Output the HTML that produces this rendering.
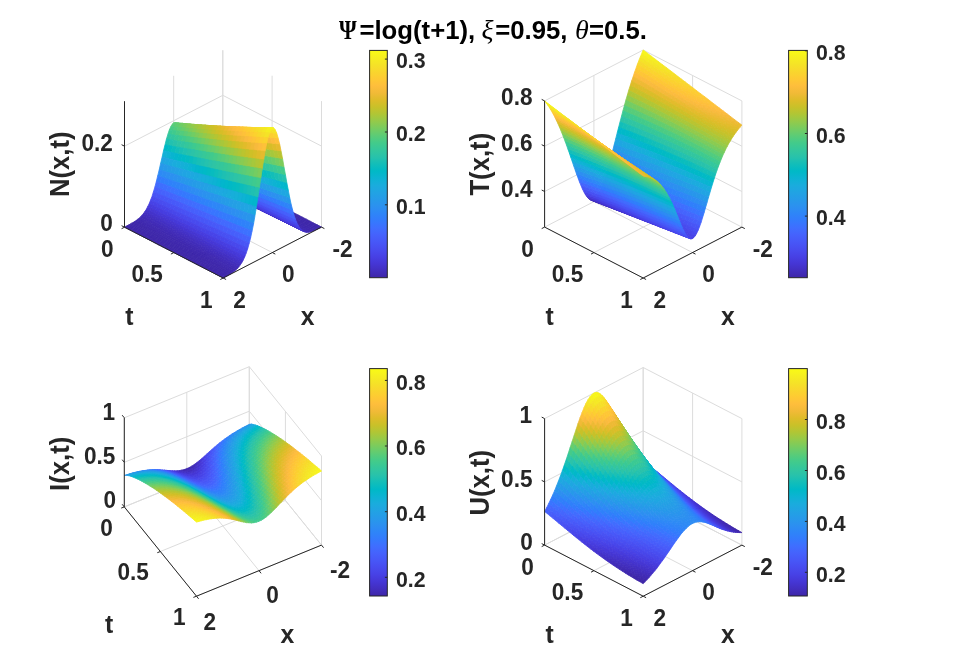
<!DOCTYPE html>
<html><head><meta charset="utf-8"><title>figure</title>
<style>
html,body{margin:0;padding:0;background:#fff}
svg{display:block}
text{font-family:"Liberation Sans",sans-serif;font-weight:bold;fill:#262626}
.tk{font-size:22.6px}
.cb{font-size:21.3px}
.lb{font-size:24.75px}
.rl{font-size:25.7px}
.ti{font-size:25px;fill:#000}
.gr{font-family:"Liberation Serif","DejaVu Serif",serif;font-style:italic;font-weight:normal;font-size:28px}
.gu{font-family:"Liberation Serif","DejaVu Serif",serif;font-weight:bold;font-size:27px}
</style></head><body>
<svg width="953" height="671" viewBox="0 0 953 671">
<rect width="953" height="671" fill="#fff"/>
<path d="M124.5 227.2L222.8 176.3M222.8 176.3L222.8 50.3M173.8 252.6L272.1 201.7M272.1 201.7L272.1 75.7M223.2 278L321.5 227.1M321.5 227.1L321.5 101.1M124.5 227.2L223.2 278M124.5 227.2L124.5 101.2M173.7 201.8L272.4 252.6M173.7 201.8L173.7 75.8M222.8 176.3L321.5 227.1M222.8 176.3L222.8 50.3M124.5 227.2L222.8 176.3M222.8 176.3L321.5 227.1M124.5 146.2L222.8 95.3M222.8 95.3L321.5 146.1" stroke="#dcdcdc" stroke-width="1" fill="none"/>
<g transform="scale(.1)" fill="currentColor" stroke="currentColor" stroke-width="8" stroke-linejoin="round"><path color="#3e26a9" d="M2214 1770l14-7 38 19-14 8z"/><path color="#3e26a9" d="M2199 1777l15-7 38 20-15 7z"/><path color="#3e26a9" d="M2185 1784l14-7 38 20-14 7z"/><path color="#3e27a9" d="M2170 1791l15-7 38 20-15 7z"/><path color="#3e27aa" d="M2156 1798l14-7 38 20-14 7z"/><path color="#3e27aa" d="M2141 1804l15-6 38 20-15 6z"/><path color="#3e27ab" d="M2127 1810l14-6 38 20-14 6z"/><path color="#3e27ac" d="M2112 1816l15-6 38 20-15 5z"/><path color="#3f28ae" d="M2098 1820l14-4 38 19-14 4z"/><path color="#3f29b0" d="M2083 1823l15-3 38 19-15 3z"/><path color="#402ab3" d="M2069 1825l14-2 38 19-14 2z"/><path color="#402bb7" d="M2055 1825l14 0 38 19-15 0z"/><path color="#412dbb" d="M2040 1823l15 2 37 19-14-2z"/><path color="#422fc2" d="M2026 1818l14 5 38 19-14-5z"/><path color="#4332c9" d="M2011 1810l15 8 38 19-15-8z"/><path color="#4536d3" d="M1997 1799l14 11 38 19-14-12z"/><path color="#463bdc" d="M1982 1784l15 15 38 18-15-16z"/><path color="#4742e6" d="M1968 1764l14 20 38 17-14-21z"/><path color="#484aee" d="M1953 1739l15 25 38 16-15-25z"/><path color="#4854f5" d="M1939 1710l14 29 38 16-14-30z"/><path color="#465ffb" d="M1924 1675l15 35 38 15-15-35z"/><path color="#416cfe" d="M1910 1637l14 38 38 15-14-40z"/><path color="#337bfc" d="M1896 1594l14 43 38 13-15-43z"/><path color="#2d8af5" d="M1881 1548l15 46 37 13-14-47z"/><path color="#2798ea" d="M1867 1500l14 48 38 12-14-50z"/><path color="#20a5e2" d="M1852 1451l15 49 38 10-15-49z"/><path color="#13b1d7" d="M1838 1403l14 48 38 10-14-49z"/><path color="#00b9c6" d="M1823 1358l15 45 38 9-15-47z"/><path color="#1bc0b4" d="M1809 1317l14 41 38 7-14-42z"/><path color="#2fc5a4" d="M1794 1282l15 35 38 6-15-36z"/><path color="#3ac993" d="M1780 1254l14 28 38 5-14-28z"/><path color="#4acb85" d="M1765 1236l15 18 38 5-15-19z"/><path color="#57cc7a" d="M1751 1227l14 9 38 4-14-9z"/><path color="#5ecd74" d="M1736 1229l15-2 38 4-15 2z"/><path color="#5ecd74" d="M1722 1242l14-13 38 4-14 13z"/><path color="#57cc7a" d="M1708 1266l14-24 38 4-14 24z"/><path color="#4acb85" d="M1693 1299l15-33 38 4-15 34z"/><path color="#3ac993" d="M1679 1342l14-43 38 5-14 43z"/><path color="#2fc5a4" d="M1664 1392l15-50 38 5-15 51z"/><path color="#1bc0b4" d="M1650 1448l14-56 38 6-14 57z"/><path color="#00b9c6" d="M1635 1508l15-60 38 7-15 61z"/><path color="#13b1d7" d="M1621 1571l14-63 38 8-14 64z"/><path color="#20a5e2" d="M1606 1635l15-64 38 9-15 65z"/><path color="#2798ea" d="M1592 1698l14-63 38 10-14 64z"/><path color="#2d8af5" d="M1577 1759l15-61 38 11-15 62z"/><path color="#337bfc" d="M1563 1816l14-57 38 12-14 59z"/><path color="#416cfe" d="M1549 1870l14-54 38 14-14 55z"/><path color="#465ffb" d="M1534 1919l15-49 38 15-15 50z"/><path color="#4854f5" d="M1520 1964l14-45 38 16-14 45z"/><path color="#484aee" d="M1505 2003l15-39 38 16-15 40z"/><path color="#4742e6" d="M1491 2038l14-35 38 17-14 35z"/><path color="#463bdc" d="M1476 2068l15-30 38 17-15 31z"/><path color="#4536d3" d="M1462 2095l14-27 38 18-14 27z"/><path color="#4332c9" d="M1447 2118l15-23 38 18-15 23z"/><path color="#422fc2" d="M1433 2137l14-19 38 18-14 20z"/><path color="#412dbb" d="M1418 2155l15-18 38 19-15 17z"/><path color="#402bb7" d="M1404 2169l14-14 38 18-14 16z"/><path color="#402ab3" d="M1390 2183l14-14 38 20-14 13z"/><path color="#3f29b0" d="M1375 2194l15-11 38 19-15 12z"/><path color="#3f28ae" d="M1361 2205l14-11 38 20-14 10z"/><path color="#3e27ac" d="M1346 2215l15-10 38 19-15 10z"/><path color="#3e27ab" d="M1332 2224l14-9 38 19-14 9z"/><path color="#3e27aa" d="M1317 2232l15-8 38 19-15 9z"/><path color="#3e27aa" d="M1303 2241l14-9 38 20-14 8z"/><path color="#3e27a9" d="M1288 2249l15-8 38 19-15 8z"/><path color="#3e26a9" d="M1274 2256l14-7 38 19-14 8z"/><path color="#3e26a9" d="M1259 2264l15-8 38 20-15 8z"/><path color="#3e26a9" d="M1245 2272l14-8 38 20-14 7z"/><path color="#3e26a9" d="M2252 1790l14-8 38 20-15 7z"/><path color="#3e26a9" d="M2237 1797l15-7 37 19-14 7z"/><path color="#3e26a9" d="M2223 1804l14-7 38 19-14 7z"/><path color="#3e27a9" d="M2208 1811l15-7 38 19-15 7z"/><path color="#3e27aa" d="M2194 1818l14-7 38 19-14 7z"/><path color="#3e27aa" d="M2179 1824l15-6 38 19-15 6z"/><path color="#3e27ab" d="M2165 1830l14-6 38 19-14 6z"/><path color="#3e27ac" d="M2150 1835l15-5 38 19-15 5z"/><path color="#3f28ae" d="M2136 1839l14-4 38 19-14 5z"/><path color="#3f29b0" d="M2121 1842l15-3 38 20-15 3z"/><path color="#402ab3" d="M2107 1844l14-2 38 20-14 1z"/><path color="#402bb7" d="M2092 1844l15 0 38 19-15 0z"/><path color="#412dbc" d="M2078 1842l14 2 38 19-14-2z"/><path color="#422fc2" d="M2064 1837l14 5 38 19-14-6z"/><path color="#4332ca" d="M2049 1829l15 8 38 18-15-8z"/><path color="#4536d3" d="M2035 1817l14 12 38 18-14-12z"/><path color="#463bdd" d="M2020 1801l15 16 38 18-15-17z"/><path color="#4742e6" d="M2006 1780l14 21 38 17-14-21z"/><path color="#484bef" d="M1991 1755l15 25 38 17-15-26z"/><path color="#4855f6" d="M1977 1725l14 30 38 16-14-31z"/><path color="#4660fc" d="M1962 1690l15 35 38 15-15-36z"/><path color="#3f6efe" d="M1948 1650l14 40 38 14-14-40z"/><path color="#317dfc" d="M1933 1607l15 43 38 14-15-45z"/><path color="#2d8cf3" d="M1919 1560l14 47 38 12-14-48z"/><path color="#269ae9" d="M1905 1510l14 50 38 11-14-50z"/><path color="#1ea7e1" d="M1890 1461l15 49 38 11-15-51z"/><path color="#0eb3d4" d="M1876 1412l14 49 38 9-14-50z"/><path color="#03bbc2" d="M1861 1365l15 47 38 8-15-48z"/><path color="#22c1b0" d="M1847 1323l14 42 38 7-14-43z"/><path color="#32c69e" d="M1832 1287l15 36 38 6-15-37z"/><path color="#40ca8d" d="M1818 1259l14 28 38 5-14-29z"/><path color="#53cc7d" d="M1803 1240l15 19 38 4-15-20z"/><path color="#61cd71" d="M1789 1231l14 9 38 3-14-9z"/><path color="#68cd6b" d="M1774 1233l15-2 38 3-15 2z"/><path color="#68cd6b" d="M1760 1246l14-13 38 3-14 13z"/><path color="#61cd71" d="M1746 1270l14-24 38 3-14 24z"/><path color="#53cc7d" d="M1731 1304l15-34 38 3-15 35z"/><path color="#40ca8d" d="M1717 1347l14-43 38 4-14 44z"/><path color="#32c69e" d="M1702 1398l15-51 38 5-15 52z"/><path color="#22c1b0" d="M1688 1455l14-57 38 6-14 58z"/><path color="#03bbc2" d="M1673 1516l15-61 38 7-15 62z"/><path color="#0eb3d4" d="M1659 1580l14-64 38 8-14 66z"/><path color="#1ea7e1" d="M1644 1645l15-65 38 10-15 65z"/><path color="#269ae9" d="M1630 1709l14-64 38 10-14 66z"/><path color="#2d8cf3" d="M1615 1771l15-62 38 12-15 63z"/><path color="#317dfc" d="M1601 1830l14-59 38 13-14 59z"/><path color="#3f6efe" d="M1587 1885l14-55 38 13-15 56z"/><path color="#4660fc" d="M1572 1935l15-50 37 14-14 51z"/><path color="#4855f6" d="M1558 1980l14-45 38 15-14 46z"/><path color="#484bef" d="M1543 2020l15-40 38 16-15 41z"/><path color="#4742e6" d="M1529 2055l14-35 38 17-14 36z"/><path color="#463bdd" d="M1514 2086l15-31 38 18-15 31z"/><path color="#4536d3" d="M1500 2113l14-27 38 18-14 27z"/><path color="#4332ca" d="M1485 2136l15-23 38 18-15 24z"/><path color="#422fc2" d="M1471 2156l14-20 38 19-14 20z"/><path color="#412dbc" d="M1456 2173l15-17 38 19-15 17z"/><path color="#402bb7" d="M1442 2189l14-16 38 19-14 16z"/><path color="#402ab3" d="M1428 2202l14-13 38 19-15 13z"/><path color="#3f29b0" d="M1413 2214l15-12 37 19-14 12z"/><path color="#3f28ae" d="M1399 2224l14-10 38 19-14 11z"/><path color="#3e27ac" d="M1384 2234l15-10 38 20-15 9z"/><path color="#3e27ab" d="M1370 2243l14-9 38 19-14 10z"/><path color="#3e27aa" d="M1355 2252l15-9 38 20-15 8z"/><path color="#3e27aa" d="M1341 2260l14-8 38 19-14 9z"/><path color="#3e27a9" d="M1326 2268l15-8 38 20-15 8z"/><path color="#3e26a9" d="M1312 2276l14-8 38 20-14 7z"/><path color="#3e26a9" d="M1297 2284l15-8 38 19-15 8z"/><path color="#3e26a9" d="M1283 2291l14-7 38 19-14 8z"/><path color="#3e26a9" d="M2289 1809l15-7 38 19-15 8z"/><path color="#3e26a9" d="M2275 1816l14-7 38 20-14 7z"/><path color="#3e26a9" d="M2261 1823l14-7 38 20-14 7z"/><path color="#3e27a9" d="M2246 1830l15-7 38 20-15 7z"/><path color="#3e27aa" d="M2232 1837l14-7 38 20-14 7z"/><path color="#3e27aa" d="M2217 1843l15-6 38 20-15 6z"/><path color="#3e27ab" d="M2203 1849l14-6 38 20-14 6z"/><path color="#3e27ad" d="M2188 1854l15-5 38 20-15 5z"/><path color="#3f28ae" d="M2174 1859l14-5 38 20-14 4z"/><path color="#3f29b1" d="M2159 1862l15-3 38 19-15 3z"/><path color="#402ab3" d="M2145 1863l14-1 38 19-14 1z"/><path color="#402bb7" d="M2130 1863l15 0 38 19-15 0z"/><path color="#412dbc" d="M2116 1861l14 2 38 19-14-3z"/><path color="#422fc3" d="M2102 1855l14 6 38 18-14-5z"/><path color="#4332cb" d="M2087 1847l15 8 38 19-15-9z"/><path color="#4536d4" d="M2073 1835l14 12 38 18-14-13z"/><path color="#463cde" d="M2058 1818l15 17 38 17-15-16z"/><path color="#4743e7" d="M2044 1797l14 21 38 18-14-22z"/><path color="#484cef" d="M2029 1771l15 26 38 17-15-27z"/><path color="#4756f7" d="M2015 1740l14 31 38 16-14-31z"/><path color="#4562fc" d="M2000 1704l15 36 38 16-15-37z"/><path color="#3e6fff" d="M1986 1664l14 40 38 15-14-42z"/><path color="#307ffb" d="M1971 1619l15 45 38 13-15-45z"/><path color="#2d8ef2" d="M1957 1571l14 48 38 13-14-50z"/><path color="#259ce7" d="M1943 1521l14 50 38 11-15-51z"/><path color="#1ca9df" d="M1928 1470l15 51 37 10-14-52z"/><path color="#08b4d0" d="M1914 1420l14 50 38 9-14-51z"/><path color="#09bdbe" d="M1899 1372l15 48 38 8-15-49z"/><path color="#28c2ab" d="M1885 1329l14 43 38 7-14-44z"/><path color="#36c898" d="M1870 1292l15 37 38 6-15-38z"/><path color="#49cb85" d="M1856 1263l14 29 38 5-14-30z"/><path color="#5dcd75" d="M1841 1243l15 20 38 4-15-20z"/><path color="#6ccd68" d="M1827 1234l14 9 38 4-14-9z"/><path color="#74cd62" d="M1812 1236l15-2 38 4-15 1z"/><path color="#74cd62" d="M1798 1249l14-13 38 3-14 13z"/><path color="#6ccd68" d="M1784 1273l14-24 38 3-15 25z"/><path color="#5dcd75" d="M1769 1308l15-35 37 4-14 35z"/><path color="#49cb85" d="M1755 1352l14-44 38 4-14 45z"/><path color="#36c898" d="M1740 1404l15-52 38 5-15 53z"/><path color="#28c2ab" d="M1726 1462l14-58 38 6-14 59z"/><path color="#09bdbe" d="M1711 1524l15-62 38 7-15 63z"/><path color="#08b4d0" d="M1697 1590l14-66 38 8-14 67z"/><path color="#1ca9df" d="M1682 1655l15-65 38 9-15 67z"/><path color="#259ce7" d="M1668 1721l14-66 38 11-14 66z"/><path color="#2d8ef2" d="M1653 1784l15-63 38 11-15 64z"/><path color="#307ffb" d="M1639 1843l14-59 38 12-14 61z"/><path color="#3e6fff" d="M1624 1899l15-56 38 14-15 57z"/><path color="#4562fc" d="M1610 1950l14-51 38 15-14 51z"/><path color="#4756f7" d="M1596 1996l14-46 38 15-14 47z"/><path color="#484cef" d="M1581 2037l15-41 38 16-15 42z"/><path color="#4743e7" d="M1567 2073l14-36 38 17-14 36z"/><path color="#463cde" d="M1552 2104l15-31 38 17-15 32z"/><path color="#4536d4" d="M1538 2131l14-27 38 18-14 28z"/><path color="#4332cb" d="M1523 2155l15-24 38 19-15 23z"/><path color="#422fc3" d="M1509 2175l14-20 38 18-14 21z"/><path color="#412dbc" d="M1494 2192l15-17 38 19-15 17z"/><path color="#402bb7" d="M1480 2208l14-16 38 19-14 16z"/><path color="#402ab3" d="M1465 2221l15-13 38 19-15 13z"/><path color="#3f29b1" d="M1451 2233l14-12 38 19-14 12z"/><path color="#3f28ae" d="M1437 2244l14-11 38 19-14 11z"/><path color="#3e27ad" d="M1422 2253l15-9 38 19-15 10z"/><path color="#3e27ab" d="M1408 2263l14-10 38 20-14 9z"/><path color="#3e27aa" d="M1393 2271l15-8 38 19-15 9z"/><path color="#3e27aa" d="M1379 2280l14-9 38 20-14 8z"/><path color="#3e27a9" d="M1364 2288l15-8 38 19-15 8z"/><path color="#3e26a9" d="M1350 2295l14-7 38 19-14 8z"/><path color="#3e26a9" d="M1335 2303l15-8 38 20-15 8z"/><path color="#3e26a9" d="M1321 2311l14-8 38 20-14 7z"/><path color="#3e26a9" d="M2327 1829l15-8 38 20-15 7z"/><path color="#3e26a9" d="M2313 1836l14-7 38 19-14 7z"/><path color="#3e26a9" d="M2299 1843l14-7 38 19-15 8z"/><path color="#3e27a9" d="M2284 1850l15-7 37 20-14 6z"/><path color="#3e27aa" d="M2270 1857l14-7 38 19-14 7z"/><path color="#3e27aa" d="M2255 1863l15-6 38 19-15 6z"/><path color="#3e27ab" d="M2241 1869l14-6 38 19-14 6z"/><path color="#3e27ad" d="M2226 1874l15-5 38 19-15 5z"/><path color="#3f28ae" d="M2212 1878l14-4 38 19-14 4z"/><path color="#3f29b1" d="M2197 1881l15-3 38 19-15 3z"/><path color="#402ab4" d="M2183 1882l14-1 38 19-14 2z"/><path color="#402bb8" d="M2168 1882l15 0 38 20-15-1z"/><path color="#412dbd" d="M2154 1879l14 3 38 19-14-3z"/><path color="#4230c3" d="M2140 1874l14 5 38 19-15-6z"/><path color="#4433cb" d="M2125 1865l15 9 37 18-14-9z"/><path color="#4537d5" d="M2111 1852l14 13 38 18-14-13z"/><path color="#463cdf" d="M2096 1836l15 16 38 18-15-17z"/><path color="#4744e8" d="M2082 1814l14 22 38 17-14-22z"/><path color="#484df0" d="M2067 1787l15 27 38 17-15-27z"/><path color="#4757f7" d="M2053 1756l14 31 38 17-14-33z"/><path color="#4563fd" d="M2038 1719l15 37 38 15-15-38z"/><path color="#3d71ff" d="M2024 1677l14 42 38 14-14-42z"/><path color="#2f81fa" d="M2009 1632l15 45 38 14-15-47z"/><path color="#2c90f0" d="M1995 1582l14 50 38 12-14-50z"/><path color="#249ee6" d="M1980 1531l15 51 38 12-15-53z"/><path color="#1aacdd" d="M1966 1479l14 52 38 10-14-53z"/><path color="#03b6cd" d="M1952 1428l14 51 38 9-14-53z"/><path color="#11beba" d="M1937 1379l15 49 38 7-15-49z"/><path color="#2dc4a6" d="M1923 1335l14 44 38 7-14-46z"/><path color="#3bc992" d="M1908 1297l15 38 38 5-15-38z"/><path color="#52cc7e" d="M1894 1267l14 30 38 5-14-31z"/><path color="#67cd6c" d="M1879 1247l15 20 38 4-15-20z"/><path color="#78cc5f" d="M1865 1238l14 9 38 4-14-10z"/><path color="#80cc59" d="M1850 1239l15-1 38 3-15 1z"/><path color="#80cc59" d="M1836 1252l14-13 38 3-14 14z"/><path color="#78cc5f" d="M1821 1277l15-25 38 4-15 25z"/><path color="#67cd6c" d="M1807 1312l14-35 38 4-14 35z"/><path color="#52cc7e" d="M1793 1357l14-45 38 4-14 46z"/><path color="#3bc992" d="M1778 1410l15-53 38 5-15 53z"/><path color="#2dc4a6" d="M1764 1469l14-59 38 5-14 60z"/><path color="#11beba" d="M1749 1532l15-63 38 6-15 65z"/><path color="#03b6cd" d="M1735 1599l14-67 38 8-14 68z"/><path color="#1aacdd" d="M1720 1666l15-67 38 9-15 68z"/><path color="#249ee6" d="M1706 1732l14-66 38 10-14 67z"/><path color="#2c90f0" d="M1691 1796l15-64 38 11-15 66z"/><path color="#2f81fa" d="M1677 1857l14-61 38 13-14 61z"/><path color="#3d71ff" d="M1662 1914l15-57 38 13-15 58z"/><path color="#4563fd" d="M1648 1965l14-51 38 14-14 53z"/><path color="#4757f7" d="M1634 2012l14-47 38 16-14 47z"/><path color="#484df0" d="M1619 2054l15-42 38 16-15 42z"/><path color="#4744e8" d="M1605 2090l14-36 38 16-14 37z"/><path color="#463cdf" d="M1590 2122l15-32 38 17-15 33z"/><path color="#4537d5" d="M1576 2150l14-28 38 18-14 28z"/><path color="#4433cb" d="M1561 2173l15-23 38 18-15 24z"/><path color="#4230c3" d="M1547 2194l14-21 38 19-14 21z"/><path color="#412dbd" d="M1532 2211l15-17 38 19-15 17z"/><path color="#402bb8" d="M1518 2227l14-16 38 19-14 16z"/><path color="#402ab4" d="M1503 2240l15-13 38 19-15 13z"/><path color="#3f29b1" d="M1489 2252l14-12 38 19-14 12z"/><path color="#3f28ae" d="M1475 2263l14-11 38 19-15 11z"/><path color="#3e27ad" d="M1460 2273l15-10 37 19-14 10z"/><path color="#3e27ab" d="M1446 2282l14-9 38 19-14 9z"/><path color="#3e27aa" d="M1431 2291l15-9 38 19-15 9z"/><path color="#3e27aa" d="M1417 2299l14-8 38 19-14 9z"/><path color="#3e27a9" d="M1402 2307l15-8 38 20-15 8z"/><path color="#3e26a9" d="M1388 2315l14-8 38 20-14 7z"/><path color="#3e26a9" d="M1373 2323l15-8 38 19-15 8z"/><path color="#3e26a9" d="M1359 2330l14-7 38 19-14 8z"/><path color="#3e26a9" d="M2365 1848l15-7 38 19-15 8z"/><path color="#3e26a9" d="M2351 1855l14-7 38 20-14 7z"/><path color="#3e26a9" d="M2336 1863l15-8 38 20-15 7z"/><path color="#3e27a9" d="M2322 1869l14-6 38 19-14 7z"/><path color="#3e27aa" d="M2308 1876l14-7 38 20-14 7z"/><path color="#3e27aa" d="M2293 1882l15-6 38 20-15 6z"/><path color="#3e27ab" d="M2279 1888l14-6 38 20-14 5z"/><path color="#3f27ad" d="M2264 1893l15-5 38 19-15 5z"/><path color="#3f28ae" d="M2250 1897l14-4 38 19-14 5z"/><path color="#3f29b1" d="M2235 1900l15-3 38 20-15 2z"/><path color="#402ab4" d="M2221 1902l14-2 38 19-14 2z"/><path color="#402bb8" d="M2206 1901l15 1 38 19-15-1z"/><path color="#412dbd" d="M2192 1898l14 3 38 19-14-3z"/><path color="#4230c4" d="M2177 1892l15 6 38 19-15-6z"/><path color="#4433cc" d="M2163 1883l14 9 38 19-14-10z"/><path color="#4537d6" d="M2149 1870l14 13 38 18-14-13z"/><path color="#463de0" d="M2134 1853l15 17 38 18-15-18z"/><path color="#4744e9" d="M2120 1831l14 22 38 17-14-22z"/><path color="#484ef1" d="M2105 1804l15 27 38 17-15-28z"/><path color="#4758f8" d="M2091 1771l14 33 38 16-14-34z"/><path color="#4464fd" d="M2076 1733l15 38 38 15-15-38z"/><path color="#3b73ff" d="M2062 1691l14 42 38 15-14-44z"/><path color="#2e83f9" d="M2047 1644l15 47 38 13-15-48z"/><path color="#2b92ef" d="M2033 1594l14 50 38 12-14-51z"/><path color="#23a0e5" d="M2018 1541l15 53 38 11-15-54z"/><path color="#18aedb" d="M2004 1488l14 53 38 10-14-54z"/><path color="#01b8c9" d="M1990 1435l14 53 38 9-15-54z"/><path color="#19bfb5" d="M1975 1386l15 49 37 8-14-51z"/><path color="#30c5a1" d="M1961 1340l14 46 38 6-14-46z"/><path color="#42ca8b" d="M1946 1302l15 38 38 6-15-39z"/><path color="#5ccc76" d="M1932 1271l14 31 38 5-14-32z"/><path color="#72cd63" d="M1917 1251l15 20 38 4-15-21z"/><path color="#84cc56" d="M1903 1241l14 10 38 3-14-10z"/><path color="#8ccb50" d="M1888 1242l15-1 38 3-15 1z"/><path color="#8ccb50" d="M1874 1256l14-14 38 3-14 14z"/><path color="#84cc56" d="M1859 1281l15-25 38 3-15 25z"/><path color="#72cd63" d="M1845 1316l14-35 38 3-14 36z"/><path color="#5ccc76" d="M1831 1362l14-46 38 4-15 46z"/><path color="#42ca8b" d="M1816 1415l15-53 37 4-14 55z"/><path color="#30c5a1" d="M1802 1475l14-60 38 6-14 61z"/><path color="#19bfb5" d="M1787 1540l15-65 38 7-15 66z"/><path color="#01b8c9" d="M1773 1608l14-68 38 8-14 68z"/><path color="#18aedb" d="M1758 1676l15-68 38 8-15 70z"/><path color="#23a0e5" d="M1744 1743l14-67 38 10-14 69z"/><path color="#2b92ef" d="M1729 1809l15-66 38 12-15 66z"/><path color="#2e83f9" d="M1715 1870l14-61 38 12-14 63z"/><path color="#3b73ff" d="M1700 1928l15-58 38 14-15 58z"/><path color="#4464fd" d="M1686 1981l14-53 38 14-14 54z"/><path color="#4758f8" d="M1672 2028l14-47 38 15-15 48z"/><path color="#484ef1" d="M1657 2070l15-42 37 16-14 43z"/><path color="#4744e9" d="M1643 2107l14-37 38 17-14 38z"/><path color="#463de0" d="M1628 2140l15-33 38 18-15 33z"/><path color="#4537d6" d="M1614 2168l14-28 38 18-14 28z"/><path color="#4433cc" d="M1599 2192l15-24 38 18-15 24z"/><path color="#4230c4" d="M1585 2213l14-21 38 18-14 21z"/><path color="#412dbd" d="M1570 2230l15-17 38 18-15 18z"/><path color="#402bb8" d="M1556 2246l14-16 38 19-14 16z"/><path color="#402ab4" d="M1541 2259l15-13 38 19-15 14z"/><path color="#3f29b1" d="M1527 2271l14-12 38 20-14 12z"/><path color="#3f28ae" d="M1512 2282l15-11 38 20-15 11z"/><path color="#3f27ad" d="M1498 2292l14-10 38 20-14 10z"/><path color="#3e27ab" d="M1484 2301l14-9 38 20-14 9z"/><path color="#3e27aa" d="M1469 2310l15-9 38 20-15 9z"/><path color="#3e27aa" d="M1455 2319l14-9 38 20-14 8z"/><path color="#3e27a9" d="M1440 2327l15-8 38 19-15 8z"/><path color="#3e26a9" d="M1426 2334l14-7 38 19-14 8z"/><path color="#3e26a9" d="M1411 2342l15-8 38 20-15 8z"/><path color="#3e26a9" d="M1397 2350l14-8 38 20-14 7z"/><path color="#3e26a9" d="M2403 1868l15-8 38 20-15 7z"/><path color="#3e26a9" d="M2389 1875l14-7 38 19-14 7z"/><path color="#3e26a9" d="M2374 1882l15-7 38 19-15 8z"/><path color="#3e27a9" d="M2360 1889l14-7 38 20-14 6z"/><path color="#3e27aa" d="M2346 1896l14-7 38 19-15 7z"/><path color="#3e27aa" d="M2331 1902l15-6 37 19-14 6z"/><path color="#3e27ab" d="M2317 1907l14-5 38 19-14 6z"/><path color="#3f27ad" d="M2302 1912l15-5 38 20-15 5z"/><path color="#3f28af" d="M2288 1917l14-5 38 20-14 4z"/><path color="#3f29b1" d="M2273 1919l15-2 38 19-15 3z"/><path color="#402ab4" d="M2259 1921l14-2 38 20-14 1z"/><path color="#402bb8" d="M2244 1920l15 1 38 19-15-1z"/><path color="#412ebd" d="M2230 1917l14 3 38 19-14-3z"/><path color="#4230c4" d="M2215 1911l15 6 38 19-15-7z"/><path color="#4433cd" d="M2201 1901l14 10 38 18-14-9z"/><path color="#4537d6" d="M2187 1888l14 13 38 19-15-14z"/><path color="#463de0" d="M2172 1870l15 18 37 18-14-18z"/><path color="#4745e9" d="M2158 1848l14 22 38 18-14-24z"/><path color="#484ff2" d="M2143 1820l15 28 38 16-15-28z"/><path color="#4759f9" d="M2129 1786l14 34 38 16-14-34z"/><path color="#4466fd" d="M2114 1748l15 38 38 16-15-40z"/><path color="#3975ff" d="M2100 1704l14 44 38 14-14-44z"/><path color="#2e84f8" d="M2085 1656l15 48 38 14-15-49z"/><path color="#2994ed" d="M2071 1605l14 51 38 13-14-53z"/><path color="#22a2e4" d="M2056 1551l15 54 38 11-15-55z"/><path color="#15afd8" d="M2042 1497l14 54 38 10-14-55z"/><path color="#00bac6" d="M2027 1443l15 54 38 9-15-55z"/><path color="#20c1b1" d="M2013 1392l14 51 38 8-14-52z"/><path color="#34c79c" d="M1999 1346l14 46 38 7-14-47z"/><path color="#4acb84" d="M1984 1307l15 39 38 6-15-41z"/><path color="#66cd6d" d="M1970 1275l14 32 38 4-14-32z"/><path color="#7ecc5a" d="M1955 1254l15 21 38 4-15-22z"/><path color="#8fcb4d" d="M1941 1244l14 10 38 3-14-10z"/><path color="#98ca47" d="M1926 1245l15-1 38 3-15 1z"/><path color="#98ca47" d="M1912 1259l14-14 38 3-14 14z"/><path color="#8fcb4d" d="M1897 1284l15-25 38 3-15 25z"/><path color="#7ecc5a" d="M1883 1320l14-36 38 3-14 37z"/><path color="#66cd6d" d="M1868 1366l15-46 38 4-15 47z"/><path color="#4acb84" d="M1854 1421l14-55 38 5-14 55z"/><path color="#34c79c" d="M1840 1482l14-61 38 5-14 63z"/><path color="#20c1b1" d="M1825 1548l15-66 38 7-15 67z"/><path color="#00bac6" d="M1811 1616l14-68 38 8-14 69z"/><path color="#15afd8" d="M1796 1686l15-70 38 9-15 71z"/><path color="#22a2e4" d="M1782 1755l14-69 38 10-14 70z"/><path color="#2994ed" d="M1767 1821l15-66 38 11-15 67z"/><path color="#2e84f8" d="M1753 1884l14-63 38 12-14 64z"/><path color="#3975ff" d="M1738 1942l15-58 38 13-15 60z"/><path color="#4466fd" d="M1724 1996l14-54 38 15-14 54z"/><path color="#4759f9" d="M1709 2044l15-48 38 15-15 49z"/><path color="#484ff2" d="M1695 2087l14-43 38 16-14 44z"/><path color="#4745e9" d="M1681 2125l14-38 38 17-14 38z"/><path color="#463de0" d="M1666 2158l15-33 38 17-15 33z"/><path color="#4537d6" d="M1652 2186l14-28 38 17-14 29z"/><path color="#4433cd" d="M1637 2210l15-24 38 18-15 25z"/><path color="#4230c4" d="M1623 2231l14-21 38 19-14 21z"/><path color="#412ebd" d="M1608 2249l15-18 38 19-15 18z"/><path color="#402bb8" d="M1594 2265l14-16 38 19-14 16z"/><path color="#402ab4" d="M1579 2279l15-14 38 19-15 14z"/><path color="#3f29b1" d="M1565 2291l14-12 38 19-14 12z"/><path color="#3f28af" d="M1550 2302l15-11 38 19-15 11z"/><path color="#3f27ad" d="M1536 2312l14-10 38 19-14 10z"/><path color="#3e27ab" d="M1522 2321l14-9 38 19-14 9z"/><path color="#3e27aa" d="M1507 2330l15-9 38 19-15 9z"/><path color="#3e27aa" d="M1493 2338l14-8 38 19-14 9z"/><path color="#3e27a9" d="M1478 2346l15-8 38 20-15 8z"/><path color="#3e26a9" d="M1464 2354l14-8 38 20-14 8z"/><path color="#3e26a9" d="M1449 2362l15-8 38 20-15 7z"/><path color="#3e26a9" d="M1435 2369l14-7 38 19-14 8z"/><path color="#3e26a9" d="M2441 1887l15-7 38 19-15 8z"/><path color="#3e26a9" d="M2427 1894l14-7 38 20-14 7z"/><path color="#3e26a9" d="M2412 1902l15-8 38 20-15 7z"/><path color="#3e27a9" d="M2398 1908l14-6 38 19-14 7z"/><path color="#3e27aa" d="M2383 1915l15-7 38 20-15 7z"/><path color="#3e27aa" d="M2369 1921l14-6 38 20-14 6z"/><path color="#3e27ab" d="M2355 1927l14-6 38 20-14 5z"/><path color="#3f27ad" d="M2340 1932l15-5 38 19-15 5z"/><path color="#3f28af" d="M2326 1936l14-4 38 19-14 4z"/><path color="#3f29b1" d="M2311 1939l15-3 38 19-15 3z"/><path color="#402ab4" d="M2297 1940l14-1 38 19-14 1z"/><path color="#412cb8" d="M2282 1939l15 1 38 19-15-1z"/><path color="#412ebe" d="M2268 1936l14 3 38 19-14-4z"/><path color="#4330c5" d="M2253 1929l15 7 38 18-15-6z"/><path color="#4433cd" d="M2239 1920l14 9 38 19-14-10z"/><path color="#4538d7" d="M2224 1906l15 14 38 18-15-14z"/><path color="#463ee1" d="M2210 1888l14 18 38 18-14-19z"/><path color="#4746ea" d="M2196 1864l14 24 38 17-14-24z"/><path color="#484ff2" d="M2181 1836l15 28 38 17-15-29z"/><path color="#475af9" d="M2167 1802l14 34 38 16-14-35z"/><path color="#4367fd" d="M2152 1762l15 40 38 15-15-41z"/><path color="#3776fe" d="M2138 1718l14 44 38 14-14-45z"/><path color="#2e86f7" d="M2123 1669l15 49 38 13-15-50z"/><path color="#2896ec" d="M2109 1616l14 53 38 12-14-54z"/><path color="#20a4e3" d="M2094 1561l15 55 38 11-15-56z"/><path color="#11b1d6" d="M2080 1506l14 55 38 10-14-57z"/><path color="#03bbc2" d="M2065 1451l15 55 38 8-15-56z"/><path color="#26c2ac" d="M2051 1399l14 52 38 7-14-53z"/><path color="#38c896" d="M2037 1352l14 47 38 6-14-48z"/><path color="#53cc7d" d="M2022 1311l15 41 38 5-15-41z"/><path color="#70cd65" d="M2008 1279l14 32 38 5-14-33z"/><path color="#8acb52" d="M1993 1257l15 22 38 4-15-22z"/><path color="#9bc944" d="M1979 1247l14 10 38 4-14-11z"/><path color="#a4c83e" d="M1964 1248l15-1 38 3-15 1z"/><path color="#a4c83e" d="M1950 1262l14-14 38 3-14 14z"/><path color="#9bc944" d="M1935 1287l15-25 38 3-15 26z"/><path color="#8acb52" d="M1921 1324l14-37 38 4-14 37z"/><path color="#70cd65" d="M1906 1371l15-47 38 4-15 48z"/><path color="#53cc7d" d="M1892 1426l14-55 38 5-14 56z"/><path color="#38c896" d="M1878 1489l14-63 38 6-15 63z"/><path color="#26c2ac" d="M1863 1556l15-67 37 6-14 68z"/><path color="#03bbc2" d="M1849 1625l14-69 38 7-14 71z"/><path color="#11b1d6" d="M1834 1696l15-71 38 9-15 72z"/><path color="#20a4e3" d="M1820 1766l14-70 38 10-14 71z"/><path color="#2896ec" d="M1805 1833l15-67 38 11-15 69z"/><path color="#2e86f7" d="M1791 1897l14-64 38 13-14 65z"/><path color="#3776fe" d="M1776 1957l15-60 38 14-15 60z"/><path color="#4367fd" d="M1762 2011l14-54 38 14-14 55z"/><path color="#475af9" d="M1747 2060l15-49 38 15-15 50z"/><path color="#484ff2" d="M1733 2104l14-44 38 16-14 44z"/><path color="#4746ea" d="M1719 2142l14-38 38 16-15 39z"/><path color="#463ee1" d="M1704 2175l15-33 37 17-14 34z"/><path color="#4538d7" d="M1690 2204l14-29 38 18-14 29z"/><path color="#4433cd" d="M1675 2229l15-25 38 18-15 25z"/><path color="#4330c5" d="M1661 2250l14-21 38 18-14 22z"/><path color="#412ebe" d="M1646 2268l15-18 38 19-15 18z"/><path color="#412cb8" d="M1632 2284l14-16 38 19-14 16z"/><path color="#402ab4" d="M1617 2298l15-14 38 19-15 14z"/><path color="#3f29b1" d="M1603 2310l14-12 38 19-14 12z"/><path color="#3f28af" d="M1588 2321l15-11 38 19-15 11z"/><path color="#3f27ad" d="M1574 2331l14-10 38 19-14 11z"/><path color="#3e27ab" d="M1560 2340l14-9 38 20-15 9z"/><path color="#3e27aa" d="M1545 2349l15-9 37 20-14 9z"/><path color="#3e27aa" d="M1531 2358l14-9 38 20-14 8z"/><path color="#3e27a9" d="M1516 2366l15-8 38 19-15 8z"/><path color="#3e26a9" d="M1502 2374l14-8 38 19-14 8z"/><path color="#3e26a9" d="M1487 2381l15-7 38 19-15 8z"/><path color="#3e26a9" d="M1473 2389l14-8 38 20-14 7z"/><path color="#3e26a9" d="M2479 1907l15-8 38 20-15 7z"/><path color="#3e26a9" d="M2465 1914l14-7 38 19-14 8z"/><path color="#3e27a9" d="M2450 1921l15-7 38 20-15 7z"/><path color="#3e27a9" d="M2436 1928l14-7 38 20-14 6z"/><path color="#3e27aa" d="M2421 1935l15-7 38 19-15 7z"/><path color="#3e27ab" d="M2407 1941l14-6 38 19-14 6z"/><path color="#3e27ac" d="M2393 1946l14-5 38 19-14 6z"/><path color="#3f28ad" d="M2378 1951l15-5 38 20-15 5z"/><path color="#3f28af" d="M2364 1955l14-4 38 20-14 3z"/><path color="#3f29b1" d="M2349 1958l15-3 38 19-15 3z"/><path color="#402ab5" d="M2335 1959l14-1 38 19-14 1z"/><path color="#412cb9" d="M2320 1958l15 1 38 19-15-1z"/><path color="#412ebe" d="M2306 1954l14 4 38 19-14-4z"/><path color="#4330c5" d="M2291 1948l15 6 38 19-15-7z"/><path color="#4434ce" d="M2277 1938l14 10 38 18-14-10z"/><path color="#4538d8" d="M2262 1924l15 14 38 18-15-15z"/><path color="#473ee2" d="M2248 1905l14 19 38 17-14-19z"/><path color="#4747eb" d="M2234 1881l14 24 38 17-15-24z"/><path color="#4850f3" d="M2219 1852l15 29 37 17-14-30z"/><path color="#475bfa" d="M2205 1817l14 35 38 16-14-36z"/><path color="#4369fe" d="M2190 1776l15 41 38 15-15-41z"/><path color="#3578fd" d="M2176 1731l14 45 38 15-14-47z"/><path color="#2d88f6" d="M2161 1681l15 50 38 13-15-51z"/><path color="#2798ea" d="M2147 1627l14 54 38 12-14-55z"/><path color="#1fa6e2" d="M2132 1571l15 56 38 11-15-57z"/><path color="#0cb3d3" d="M2118 1514l14 57 38 10-14-58z"/><path color="#08bcbe" d="M2103 1458l15 56 38 9-15-57z"/><path color="#2bc3a8" d="M2089 1405l14 53 38 8-14-54z"/><path color="#3dca90" d="M2075 1357l14 48 38 7-15-50z"/><path color="#5dcc75" d="M2060 1316l15 41 37 5-14-42z"/><path color="#7ccc5c" d="M2046 1283l14 33 38 4-14-33z"/><path color="#96ca49" d="M2031 1261l15 22 38 4-15-23z"/><path color="#a7c73c" d="M2017 1250l14 11 38 3-14-12z"/><path color="#afc636" d="M2002 1251l15-1 38 2-15 2z"/><path color="#afc636" d="M1988 1265l14-14 38 3-14 13z"/><path color="#a7c73c" d="M1973 1291l15-26 38 2-15 27z"/><path color="#96ca49" d="M1959 1328l14-37 38 3-14 38z"/><path color="#7ccc5c" d="M1944 1376l15-48 38 4-15 48z"/><path color="#5dcc75" d="M1930 1432l14-56 38 4-14 57z"/><path color="#3dca90" d="M1915 1495l15-63 38 5-15 64z"/><path color="#2bc3a8" d="M1901 1563l14-68 38 6-14 70z"/><path color="#08bcbe" d="M1887 1634l14-71 38 8-14 72z"/><path color="#0cb3d3" d="M1872 1706l15-72 38 9-15 73z"/><path color="#1fa6e2" d="M1858 1777l14-71 38 10-14 72z"/><path color="#2798ea" d="M1843 1846l15-69 38 11-15 70z"/><path color="#2d88f6" d="M1829 1911l14-65 38 12-14 66z"/><path color="#3578fd" d="M1814 1971l15-60 38 13-15 61z"/><path color="#4369fe" d="M1800 2026l14-55 38 14-14 57z"/><path color="#475bfa" d="M1785 2076l15-50 38 16-15 50z"/><path color="#4850f3" d="M1771 2120l14-44 38 16-14 45z"/><path color="#4747eb" d="M1756 2159l15-39 38 17-15 40z"/><path color="#473ee2" d="M1742 2193l14-34 38 18-14 34z"/><path color="#4538d8" d="M1728 2222l14-29 38 18-14 29z"/><path color="#4434ce" d="M1713 2247l15-25 38 18-15 26z"/><path color="#4330c5" d="M1699 2269l14-22 38 19-14 21z"/><path color="#412ebe" d="M1684 2287l15-18 38 18-15 19z"/><path color="#412cb9" d="M1670 2303l14-16 38 19-14 16z"/><path color="#402ab5" d="M1655 2317l15-14 38 19-15 14z"/><path color="#3f29b1" d="M1641 2329l14-12 38 19-14 13z"/><path color="#3f28af" d="M1626 2340l15-11 38 20-15 11z"/><path color="#3f28ad" d="M1612 2351l14-11 38 20-14 10z"/><path color="#3e27ac" d="M1597 2360l15-9 38 19-15 9z"/><path color="#3e27ab" d="M1583 2369l14-9 38 19-14 9z"/><path color="#3e27aa" d="M1569 2377l14-8 38 19-14 9z"/><path color="#3e27a9" d="M1554 2385l15-8 38 20-15 8z"/><path color="#3e27a9" d="M1540 2393l14-8 38 20-14 8z"/><path color="#3e26a9" d="M1525 2401l15-8 38 20-15 7z"/><path color="#3e26a9" d="M1511 2408l14-7 38 19-14 8z"/><path color="#3e26a9" d="M2517 1926l15-7 38 20-15 7z"/><path color="#3e26a9" d="M2503 1934l14-8 38 20-14 7z"/><path color="#3e27a9" d="M2488 1941l15-7 38 19-15 7z"/><path color="#3e27a9" d="M2474 1947l14-6 38 19-14 7z"/><path color="#3e27aa" d="M2459 1954l15-7 38 20-15 6z"/><path color="#3e27ab" d="M2445 1960l14-6 38 19-14 7z"/><path color="#3e27ac" d="M2431 1966l14-6 38 20-15 5z"/><path color="#3f28ad" d="M2416 1971l15-5 37 19-14 5z"/><path color="#3f28af" d="M2402 1974l14-3 38 19-14 4z"/><path color="#3f29b1" d="M2387 1977l15-3 38 20-15 2z"/><path color="#402ab5" d="M2373 1978l14-1 38 19-14 1z"/><path color="#412cb9" d="M2358 1977l15 1 38 19-15-1z"/><path color="#422ebe" d="M2344 1973l14 4 38 19-14-4z"/><path color="#4331c6" d="M2329 1966l15 7 38 19-15-7z"/><path color="#4434cf" d="M2315 1956l14 10 38 19-14-11z"/><path color="#4538d9" d="M2300 1941l15 15 38 18-15-15z"/><path color="#473fe3" d="M2286 1922l14 19 38 18-14-20z"/><path color="#4847eb" d="M2271 1898l15 24 38 17-15-25z"/><path color="#4851f4" d="M2257 1868l14 30 38 16-14-30z"/><path color="#475dfa" d="M2243 1832l14 36 38 16-14-37z"/><path color="#426afe" d="M2228 1791l15 41 38 15-15-42z"/><path color="#347afd" d="M2214 1744l14 47 38 14-14-48z"/><path color="#2d8af5" d="M2199 1693l15 51 38 13-15-52z"/><path color="#2699e9" d="M2185 1638l14 55 38 12-14-56z"/><path color="#1da8e0" d="M2170 1581l15 57 38 11-15-58z"/><path color="#07b5d0" d="M2156 1523l14 58 38 10-14-59z"/><path color="#10beba" d="M2141 1466l15 57 38 9-15-59z"/><path color="#2fc5a3" d="M2127 1412l14 54 38 7-14-55z"/><path color="#44cb89" d="M2112 1362l15 50 38 6-15-51z"/><path color="#66cd6d" d="M2098 1320l14 42 38 5-14-43z"/><path color="#88cb54" d="M2084 1287l14 33 38 4-14-34z"/><path color="#a1c840" d="M2069 1264l15 23 38 3-15-23z"/><path color="#b2c635" d="M2055 1252l14 12 38 3-14-12z"/><path color="#bac430" d="M2040 1254l15-2 38 3-15 1z"/><path color="#bac430" d="M2026 1267l14-13 38 2-14 14z"/><path color="#b2c635" d="M2011 1294l15-27 38 3-15 27z"/><path color="#a1c840" d="M1997 1332l14-38 38 3-14 38z"/><path color="#88cb54" d="M1982 1380l15-48 38 3-15 49z"/><path color="#66cd6d" d="M1968 1437l14-57 38 4-14 58z"/><path color="#44cb89" d="M1953 1501l15-64 38 5-15 66z"/><path color="#2fc5a3" d="M1939 1571l14-70 38 7-14 70z"/><path color="#10beba" d="M1925 1643l14-72 38 7-14 73z"/><path color="#07b5d0" d="M1910 1716l15-73 38 8-15 75z"/><path color="#1da8e0" d="M1896 1788l14-72 38 10-14 73z"/><path color="#2699e9" d="M1881 1858l15-70 38 11-15 71z"/><path color="#2d8af5" d="M1867 1924l14-66 38 12-14 67z"/><path color="#347afd" d="M1852 1985l15-61 38 13-15 63z"/><path color="#426afe" d="M1838 2042l14-57 38 15-14 57z"/><path color="#475dfa" d="M1823 2092l15-50 38 15-15 51z"/><path color="#4851f4" d="M1809 2137l14-45 38 16-14 46z"/><path color="#4847eb" d="M1794 2177l15-40 38 17-15 40z"/><path color="#473fe3" d="M1780 2211l14-34 38 17-14 35z"/><path color="#4538d9" d="M1766 2240l14-29 38 18-15 29z"/><path color="#4434cf" d="M1751 2266l15-26 37 18-14 26z"/><path color="#4331c6" d="M1737 2287l14-21 38 18-14 22z"/><path color="#422ebe" d="M1722 2306l15-19 38 19-15 19z"/><path color="#412cb9" d="M1708 2322l14-16 38 19-14 16z"/><path color="#402ab5" d="M1693 2336l15-14 38 19-15 15z"/><path color="#3f29b1" d="M1679 2349l14-13 38 20-14 12z"/><path color="#3f28af" d="M1664 2360l15-11 38 19-15 11z"/><path color="#3f28ad" d="M1650 2370l14-10 38 19-14 10z"/><path color="#3e27ac" d="M1635 2379l15-9 38 19-15 10z"/><path color="#3e27ab" d="M1621 2388l14-9 38 20-14 9z"/><path color="#3e27aa" d="M1607 2397l14-9 38 20-15 8z"/><path color="#3e27a9" d="M1592 2405l15-8 37 19-14 8z"/><path color="#3e27a9" d="M1578 2413l14-8 38 19-14 8z"/><path color="#3e26a9" d="M1563 2420l15-7 38 19-15 8z"/><path color="#3e26a9" d="M1549 2428l14-8 38 20-14 8z"/><path color="#3e26a9" d="M2555 1946l15-7 38 19-15 7z"/><path color="#3e26a9" d="M2541 1953l14-7 38 19-14 8z"/><path color="#3e27a9" d="M2526 1960l15-7 38 20-15 7z"/><path color="#3e27a9" d="M2512 1967l14-7 38 20-14 6z"/><path color="#3e27aa" d="M2497 1973l15-6 38 19-15 7z"/><path color="#3e27ab" d="M2483 1980l14-7 38 20-14 6z"/><path color="#3e27ac" d="M2468 1985l15-5 38 19-15 6z"/><path color="#3f28ad" d="M2454 1990l14-5 38 20-14 4z"/><path color="#3f28af" d="M2440 1994l14-4 38 19-14 4z"/><path color="#3f29b2" d="M2425 1996l15-2 38 19-15 3z"/><path color="#402ab5" d="M2411 1997l14-1 38 20-14 0z"/><path color="#412cb9" d="M2396 1996l15 1 38 19-15-1z"/><path color="#422ebf" d="M2382 1992l14 4 38 19-14-4z"/><path color="#4331c6" d="M2367 1985l15 7 38 19-15-8z"/><path color="#4434cf" d="M2353 1974l14 11 38 18-14-11z"/><path color="#4639d9" d="M2338 1959l15 15 38 18-15-15z"/><path color="#4740e3" d="M2324 1939l14 20 38 18-14-21z"/><path color="#4848ec" d="M2309 1914l15 25 38 17-15-25z"/><path color="#4852f4" d="M2295 1884l14 30 38 17-14-32z"/><path color="#465efb" d="M2281 1847l14 37 38 15-15-37z"/><path color="#416bfe" d="M2266 1805l15 42 37 15-14-43z"/><path color="#327cfc" d="M2252 1757l14 48 38 14-14-48z"/><path color="#2d8cf3" d="M2237 1705l15 52 38 14-15-54z"/><path color="#259be7" d="M2223 1649l14 56 38 12-14-57z"/><path color="#1baade" d="M2208 1591l15 58 38 11-15-59z"/><path color="#03b6cc" d="M2194 1532l14 59 38 10-14-61z"/><path color="#18bfb6" d="M2179 1473l15 59 38 8-15-60z"/><path color="#32c69e" d="M2165 1418l14 55 38 7-14-56z"/><path color="#4dcc82" d="M2150 1367l15 51 38 6-15-51z"/><path color="#71cd64" d="M2136 1324l14 43 38 6-14-45z"/><path color="#93ca4b" d="M2122 1290l14 34 38 4-15-34z"/><path color="#acc738" d="M2107 1267l15 23 37 4-14-25z"/><path color="#bdc32e" d="M2093 1255l14 12 38 2-14-12z"/><path color="#c5c22a" d="M2078 1256l15-1 38 2-15 1z"/><path color="#c5c22a" d="M2064 1270l14-14 38 2-14 14z"/><path color="#bdc32e" d="M2049 1297l15-27 38 2-15 27z"/><path color="#acc738" d="M2035 1335l14-38 38 2-14 39z"/><path color="#93ca4b" d="M2020 1384l15-49 38 3-15 50z"/><path color="#71cd64" d="M2006 1442l14-58 38 4-14 59z"/><path color="#4dcc82" d="M1991 1508l15-66 38 5-15 67z"/><path color="#32c69e" d="M1977 1578l14-70 38 6-14 71z"/><path color="#18bfb6" d="M1963 1651l14-73 38 7-15 75z"/><path color="#03b6cc" d="M1948 1726l15-75 37 9-14 75z"/><path color="#1baade" d="M1934 1799l14-73 38 9-14 75z"/><path color="#259be7" d="M1919 1870l15-71 38 11-15 72z"/><path color="#2d8cf3" d="M1905 1937l14-67 38 12-14 68z"/><path color="#327cfc" d="M1890 2000l15-63 38 13-15 64z"/><path color="#416bfe" d="M1876 2057l14-57 38 14-14 58z"/><path color="#465efb" d="M1861 2108l15-51 38 15-15 52z"/><path color="#4852f4" d="M1847 2154l14-46 38 16-14 46z"/><path color="#4848ec" d="M1832 2194l15-40 38 16-15 41z"/><path color="#4740e3" d="M1818 2229l14-35 38 17-14 35z"/><path color="#4639d9" d="M1803 2258l15-29 38 17-15 31z"/><path color="#4434cf" d="M1789 2284l14-26 38 19-14 26z"/><path color="#4331c6" d="M1775 2306l14-22 38 19-14 22z"/><path color="#422ebf" d="M1760 2325l15-19 38 19-15 19z"/><path color="#412cb9" d="M1746 2341l14-16 38 19-14 17z"/><path color="#402ab5" d="M1731 2356l15-15 38 20-15 14z"/><path color="#3f29b2" d="M1717 2368l14-12 38 19-14 12z"/><path color="#3f28af" d="M1702 2379l15-11 38 19-15 12z"/><path color="#3f28ad" d="M1688 2389l14-10 38 20-14 10z"/><path color="#3e27ac" d="M1673 2399l15-10 38 20-15 9z"/><path color="#3e27ab" d="M1659 2408l14-9 38 19-14 9z"/><path color="#3e27aa" d="M1644 2416l15-8 38 19-15 9z"/><path color="#3e27a9" d="M1630 2424l14-8 38 20-14 8z"/><path color="#3e27a9" d="M1616 2432l14-8 38 20-14 8z"/><path color="#3e26a9" d="M1601 2440l15-8 38 20-15 7z"/><path color="#3e26a9" d="M1587 2448l14-8 38 19-14 8z"/><path color="#3e26a9" d="M2593 1965l15-7 38 20-15 7z"/><path color="#3e26a9" d="M2579 1973l14-8 38 20-14 7z"/><path color="#3e27a9" d="M2564 1980l15-7 38 19-15 7z"/><path color="#3e27a9" d="M2550 1986l14-6 38 19-14 7z"/><path color="#3e27aa" d="M2535 1993l15-7 38 20-15 6z"/><path color="#3e27ab" d="M2521 1999l14-6 38 19-14 7z"/><path color="#3e27ac" d="M2506 2005l15-6 38 20-15 5z"/><path color="#3f28ad" d="M2492 2009l14-4 38 19-14 5z"/><path color="#3f28af" d="M2478 2013l14-4 38 20-15 3z"/><path color="#3f29b2" d="M2463 2016l15-3 37 19-14 3z"/><path color="#402ab5" d="M2449 2016l14 0 38 19-14 0z"/><path color="#412cba" d="M2434 2015l15 1 38 19-15-1z"/><path color="#422ebf" d="M2420 2011l14 4 38 19-14-5z"/><path color="#4331c7" d="M2405 2003l15 8 38 18-15-7z"/><path color="#4434d0" d="M2391 1992l14 11 38 19-14-12z"/><path color="#4639da" d="M2376 1977l15 15 38 18-15-16z"/><path color="#4740e4" d="M2362 1956l14 21 38 17-14-20z"/><path color="#4849ed" d="M2347 1931l15 25 38 18-15-27z"/><path color="#4853f5" d="M2333 1899l14 32 38 16-14-32z"/><path color="#465ffb" d="M2318 1862l15 37 38 16-15-38z"/><path color="#406dfe" d="M2304 1819l14 43 38 15-14-44z"/><path color="#307dfc" d="M2290 1771l14 48 38 14-14-49z"/><path color="#2d8ef2" d="M2275 1717l15 54 38 13-15-55z"/><path color="#259de6" d="M2261 1660l14 57 38 12-14-58z"/><path color="#1aacdd" d="M2246 1601l15 59 38 11-15-61z"/><path color="#01b8c9" d="M2232 1540l14 61 38 9-14-62z"/><path color="#1fc0b2" d="M2217 1480l15 60 38 8-15-60z"/><path color="#36c899" d="M2203 1424l14 56 38 8-14-58z"/><path color="#56cc7b" d="M2188 1373l15 51 38 6-15-53z"/><path color="#7ccc5c" d="M2174 1328l14 45 38 4-14-45z"/><path color="#9ec942" d="M2159 1294l15 34 38 4-15-35z"/><path color="#b7c531" d="M2145 1269l14 25 38 3-14-25z"/><path color="#c8c129" d="M2131 1257l14 12 38 3-14-12z"/><path color="#cfc027" d="M2116 1258l15-1 38 3-15 1z"/><path color="#cfc027" d="M2102 1272l14-14 38 3-14 14z"/><path color="#c8c129" d="M2087 1299l15-27 38 3-15 27z"/><path color="#b7c531" d="M2073 1338l14-39 38 3-14 40z"/><path color="#9ec942" d="M2058 1388l15-50 38 4-15 50z"/><path color="#7ccc5c" d="M2044 1447l14-59 38 4-14 60z"/><path color="#56cc7b" d="M2029 1514l15-67 38 5-15 68z"/><path color="#36c899" d="M2015 1585l14-71 38 6-14 72z"/><path color="#1fc0b2" d="M2000 1660l15-75 38 7-15 76z"/><path color="#01b8c9" d="M1986 1735l14-75 38 8-14 77z"/><path color="#1aacdd" d="M1972 1810l14-75 38 10-14 76z"/><path color="#259de6" d="M1957 1882l15-72 38 11-15 73z"/><path color="#2d8ef2" d="M1943 1950l14-68 38 12-14 69z"/><path color="#307dfc" d="M1928 2014l15-64 38 13-15 65z"/><path color="#406dfe" d="M1914 2072l14-58 38 14-14 59z"/><path color="#465ffb" d="M1899 2124l15-52 38 15-15 53z"/><path color="#4853f5" d="M1885 2170l14-46 38 16-14 47z"/><path color="#4849ed" d="M1870 2211l15-41 38 17-15 41z"/><path color="#4740e4" d="M1856 2246l14-35 38 17-14 36z"/><path color="#4639da" d="M1841 2277l15-31 38 18-15 31z"/><path color="#4434d0" d="M1827 2303l14-26 38 18-14 26z"/><path color="#4331c7" d="M1813 2325l14-22 38 18-14 23z"/><path color="#422ebf" d="M1798 2344l15-19 38 19-15 19z"/><path color="#412cba" d="M1784 2361l14-17 38 19-14 17z"/><path color="#402ab5" d="M1769 2375l15-14 38 19-15 14z"/><path color="#3f29b2" d="M1755 2387l14-12 38 19-14 13z"/><path color="#3f28af" d="M1740 2399l15-12 38 20-15 11z"/><path color="#3f28ad" d="M1726 2409l14-10 38 19-14 10z"/><path color="#3e27ac" d="M1711 2418l15-9 38 19-15 10z"/><path color="#3e27ab" d="M1697 2427l14-9 38 20-14 9z"/><path color="#3e27aa" d="M1682 2436l15-9 38 20-15 8z"/><path color="#3e27a9" d="M1668 2444l14-8 38 19-14 8z"/><path color="#3e27a9" d="M1654 2452l14-8 38 19-15 8z"/><path color="#3e26a9" d="M1639 2459l15-7 37 19-14 8z"/><path color="#3e26a9" d="M1625 2467l14-8 38 20-14 8z"/><path color="#3e26a9" d="M2631 1985l15-7 38 19-15 7z"/><path color="#3e26a9" d="M2617 1992l14-7 38 19-14 8z"/><path color="#3e27a9" d="M2602 1999l15-7 38 20-15 7z"/><path color="#3e27a9" d="M2588 2006l14-7 38 20-14 6z"/><path color="#3e27aa" d="M2573 2012l15-6 38 19-15 7z"/><path color="#3e27ab" d="M2559 2019l14-7 38 20-14 6z"/><path color="#3e27ac" d="M2544 2024l15-5 38 19-15 5z"/><path color="#3f28ad" d="M2530 2029l14-5 38 19-14 5z"/><path color="#3f28af" d="M2515 2032l15-3 38 19-15 4z"/><path color="#3f29b2" d="M2501 2035l14-3 38 20-14 2z"/><path color="#402ab5" d="M2487 2035l14 0 38 19-14 0z"/><path color="#412cba" d="M2472 2034l15 1 38 19-15-1z"/><path color="#422ec0" d="M2458 2029l14 5 38 19-14-5z"/><path color="#4331c7" d="M2443 2022l15 7 38 19-15-8z"/><path color="#4435d1" d="M2429 2010l14 12 38 18-14-12z"/><path color="#463adb" d="M2414 1994l15 16 38 18-15-16z"/><path color="#4741e5" d="M2400 1974l14 20 38 18-14-21z"/><path color="#484aee" d="M2385 1947l15 27 38 17-15-27z"/><path color="#4854f5" d="M2371 1915l14 32 38 17-14-33z"/><path color="#4660fc" d="M2356 1877l15 38 38 16-15-39z"/><path color="#3f6eff" d="M2342 1833l14 44 38 15-14-45z"/><path color="#307ffb" d="M2328 1784l14 49 38 14-14-50z"/><path color="#2c8ff0" d="M2313 1729l15 55 38 13-15-56z"/><path color="#249fe5" d="M2299 1671l14 58 38 12-14-59z"/><path color="#17aeda" d="M2284 1610l15 61 38 11-15-62z"/><path color="#00bac6" d="M2270 1548l14 62 38 10-14-63z"/><path color="#25c2ae" d="M2255 1488l15 60 38 9-15-62z"/><path color="#3ac993" d="M2241 1430l14 58 38 7-14-59z"/><path color="#5fcd74" d="M2226 1377l15 53 38 6-15-54z"/><path color="#87cb54" d="M2212 1332l14 45 38 5-14-46z"/><path color="#a9c73a" d="M2197 1297l15 35 38 4-15-36z"/><path color="#c2c22c" d="M2183 1272l14 25 38 3-14-25z"/><path color="#d2bf27" d="M2169 1260l14 12 38 3-15-13z"/><path color="#d9be28" d="M2154 1261l15-1 37 2-14 1z"/><path color="#d9be28" d="M2140 1275l14-14 38 2-14 14z"/><path color="#d2bf27" d="M2125 1302l15-27 38 2-15 28z"/><path color="#c2c22c" d="M2111 1342l14-40 38 3-14 40z"/><path color="#a9c73a" d="M2096 1392l15-50 38 3-15 51z"/><path color="#87cb54" d="M2082 1452l14-60 38 4-14 61z"/><path color="#5fcd74" d="M2067 1520l15-68 38 5-15 69z"/><path color="#3ac993" d="M2053 1592l14-72 38 6-14 74z"/><path color="#25c2ae" d="M2038 1668l15-76 38 8-15 76z"/><path color="#00bac6" d="M2024 1745l14-77 38 8-14 78z"/><path color="#17aeda" d="M2010 1821l14-76 38 9-15 78z"/><path color="#249fe5" d="M1995 1894l15-73 37 11-14 74z"/><path color="#2c8ff0" d="M1981 1963l14-69 38 12-14 71z"/><path color="#307ffb" d="M1966 2028l15-65 38 14-15 65z"/><path color="#3f6eff" d="M1952 2087l14-59 38 14-14 60z"/><path color="#4660fc" d="M1937 2140l15-53 38 15-15 54z"/><path color="#4854f5" d="M1923 2187l14-47 38 16-14 47z"/><path color="#484aee" d="M1908 2228l15-41 38 16-15 42z"/><path color="#4741e5" d="M1894 2264l14-36 38 17-14 37z"/><path color="#463adb" d="M1879 2295l15-31 38 18-15 31z"/><path color="#4435d1" d="M1865 2321l14-26 38 18-14 27z"/><path color="#4331c7" d="M1851 2344l14-23 38 19-15 22z"/><path color="#422ec0" d="M1836 2363l15-19 37 18-14 20z"/><path color="#412cba" d="M1822 2380l14-17 38 19-14 17z"/><path color="#402ab5" d="M1807 2394l15-14 38 19-15 14z"/><path color="#3f29b2" d="M1793 2407l14-13 38 19-14 13z"/><path color="#3f28af" d="M1778 2418l15-11 38 19-15 11z"/><path color="#3f28ad" d="M1764 2428l14-10 38 19-14 11z"/><path color="#3e27ac" d="M1749 2438l15-10 38 20-15 9z"/><path color="#3e27ab" d="M1735 2447l14-9 38 19-14 9z"/><path color="#3e27aa" d="M1720 2455l15-8 38 19-15 9z"/><path color="#3e27a9" d="M1706 2463l14-8 38 20-14 8z"/><path color="#3e27a9" d="M1691 2471l15-8 38 20-15 8z"/><path color="#3e26a9" d="M1677 2479l14-8 38 20-14 7z"/><path color="#3e26a9" d="M1663 2487l14-8 38 19-14 8z"/><path color="#3e26a9" d="M2669 2004l15-7 38 20-15 7z"/><path color="#3e26a9" d="M2655 2012l14-8 38 20-14 7z"/><path color="#3e27a9" d="M2640 2019l15-7 38 19-15 7z"/><path color="#3e27a9" d="M2626 2025l14-6 38 19-14 7z"/><path color="#3e27aa" d="M2611 2032l15-7 38 20-15 6z"/><path color="#3e27ab" d="M2597 2038l14-6 38 19-14 6z"/><path color="#3e27ac" d="M2582 2043l15-5 38 19-15 6z"/><path color="#3f28ad" d="M2568 2048l14-5 38 20-14 5z"/><path color="#3f28af" d="M2553 2052l15-4 38 20-15 3z"/><path color="#3f29b2" d="M2539 2054l14-2 38 19-14 2z"/><path color="#402bb6" d="M2525 2054l14 0 38 19-15 0z"/><path color="#412cba" d="M2510 2053l15 1 37 19-14-2z"/><path color="#422fc0" d="M2496 2048l14 5 38 18-14-4z"/><path color="#4331c8" d="M2481 2040l15 8 38 19-15-8z"/><path color="#4435d1" d="M2467 2028l14 12 38 19-14-13z"/><path color="#463adc" d="M2452 2012l15 16 38 18-15-16z"/><path color="#4741e5" d="M2438 1991l14 21 38 18-14-22z"/><path color="#484aee" d="M2423 1964l15 27 38 17-15-28z"/><path color="#4855f6" d="M2409 1931l14 33 38 16-14-33z"/><path color="#4561fc" d="M2394 1892l15 39 38 16-15-40z"/><path color="#3e70ff" d="M2380 1847l14 45 38 15-14-45z"/><path color="#2f81fa" d="M2366 1797l14 50 38 15-15-52z"/><path color="#2b91ef" d="M2351 1741l15 56 37 13-14-57z"/><path color="#23a1e4" d="M2337 1682l14 59 38 12-14-60z"/><path color="#14b0d8" d="M2322 1620l15 62 38 11-15-64z"/><path color="#03bbc2" d="M2308 1557l14 63 38 9-14-64z"/><path color="#2ac3a9" d="M2293 1495l15 62 38 8-15-63z"/><path color="#40ca8d" d="M2279 1436l14 59 38 7-14-60z"/><path color="#68cd6b" d="M2264 1382l15 54 38 6-15-55z"/><path color="#92ca4c" d="M2250 1336l14 46 38 5-14-47z"/><path color="#b4c533" d="M2235 1300l15 36 38 4-15-37z"/><path color="#ccc028" d="M2221 1275l14 25 38 3-14-26z"/><path color="#dbbd28" d="M2206 1262l15 13 38 2-15-13z"/><path color="#e2bc2b" d="M2192 1263l14-1 38 2-14 1z"/><path color="#e2bc2b" d="M2178 1277l14-14 38 2-14 14z"/><path color="#dbbd28" d="M2163 1305l15-28 38 2-15 28z"/><path color="#ccc028" d="M2149 1345l14-40 38 2-14 41z"/><path color="#b4c533" d="M2134 1396l15-51 38 3-15 52z"/><path color="#92ca4c" d="M2120 1457l14-61 38 4-14 62z"/><path color="#68cd6b" d="M2105 1526l15-69 38 5-15 69z"/><path color="#40ca8d" d="M2091 1600l14-74 38 5-14 76z"/><path color="#2ac3a9" d="M2076 1676l15-76 38 7-15 78z"/><path color="#03bbc2" d="M2062 1754l14-78 38 9-14 79z"/><path color="#14b0d8" d="M2047 1832l15-78 38 10-15 78z"/><path color="#23a1e4" d="M2033 1906l14-74 38 10-14 76z"/><path color="#2b91ef" d="M2019 1977l14-71 38 12-14 72z"/><path color="#2f81fa" d="M2004 2042l15-65 38 13-15 66z"/><path color="#3e70ff" d="M1990 2102l14-60 38 14-14 61z"/><path color="#4561fc" d="M1975 2156l15-54 38 15-15 55z"/><path color="#4855f6" d="M1961 2203l14-47 38 16-14 48z"/><path color="#484aee" d="M1946 2245l15-42 38 17-15 42z"/><path color="#4741e5" d="M1932 2282l14-37 38 17-14 37z"/><path color="#463adc" d="M1917 2313l15-31 38 17-15 32z"/><path color="#4435d1" d="M1903 2340l14-27 38 18-14 27z"/><path color="#4331c8" d="M1888 2362l15-22 38 18-15 23z"/><path color="#422fc0" d="M1874 2382l14-20 38 19-14 20z"/><path color="#412cba" d="M1860 2399l14-17 38 19-14 17z"/><path color="#402bb6" d="M1845 2413l15-14 38 19-15 14z"/><path color="#3f29b2" d="M1831 2426l14-13 38 19-14 13z"/><path color="#3f28af" d="M1816 2437l15-11 38 19-15 12z"/><path color="#3f28ad" d="M1802 2448l14-11 38 20-14 10z"/><path color="#3e27ac" d="M1787 2457l15-9 38 19-15 10z"/><path color="#3e27ab" d="M1773 2466l14-9 38 20-14 9z"/><path color="#3e27aa" d="M1758 2475l15-9 38 20-15 8z"/><path color="#3e27a9" d="M1744 2483l14-8 38 19-14 8z"/><path color="#3e27a9" d="M1729 2491l15-8 38 19-15 8z"/><path color="#3e26a9" d="M1715 2498l14-7 38 19-14 8z"/><path color="#3e26a9" d="M1701 2506l14-8 38 20-15 8z"/><path color="#3e26a9" d="M2707 2024l15-7 37 19-14 7z"/><path color="#3e26a9" d="M2693 2031l14-7 38 19-14 8z"/><path color="#3e27a9" d="M2678 2038l15-7 38 20-15 7z"/><path color="#3e27a9" d="M2664 2045l14-7 38 20-14 6z"/><path color="#3e27aa" d="M2649 2051l15-6 38 19-15 7z"/><path color="#3e27ab" d="M2635 2057l14-6 38 20-14 6z"/><path color="#3e27ac" d="M2620 2063l15-6 38 20-15 5z"/><path color="#3f28ad" d="M2606 2068l14-5 38 19-14 5z"/><path color="#3f28af" d="M2591 2071l15-3 38 19-15 3z"/><path color="#3f29b2" d="M2577 2073l14-2 38 19-14 2z"/><path color="#402bb6" d="M2562 2073l15 0 38 19-15 1z"/><path color="#412cba" d="M2548 2071l14 2 38 20-14-3z"/><path color="#422fc0" d="M2534 2067l14 4 38 19-14-5z"/><path color="#4332c8" d="M2519 2059l15 8 38 18-15-8z"/><path color="#4535d2" d="M2505 2046l14 13 38 18-14-12z"/><path color="#463bdc" d="M2490 2030l15 16 38 19-15-18z"/><path color="#4742e6" d="M2476 2008l14 22 38 17-14-22z"/><path color="#484bef" d="M2461 1980l15 28 38 17-15-28z"/><path color="#4756f7" d="M2447 1947l14 33 38 17-14-34z"/><path color="#4562fc" d="M2432 1907l15 40 38 16-15-41z"/><path color="#3c71ff" d="M2418 1862l14 45 38 15-14-46z"/><path color="#2e83f9" d="M2403 1810l15 52 38 14-15-53z"/><path color="#2a93ee" d="M2389 1753l14 57 38 13-14-58z"/><path color="#21a3e3" d="M2375 1693l14 60 38 12-14-62z"/><path color="#10b2d5" d="M2360 1629l15 64 38 10-15-64z"/><path color="#07bcbf" d="M2346 1565l14 64 38 10-14-66z"/><path color="#2ec4a5" d="M2331 1502l15 63 38 8-15-64z"/><path color="#47cb87" d="M2317 1442l14 60 38 7-14-62z"/><path color="#72cd63" d="M2302 1387l15 55 38 5-15-55z"/><path color="#9dc943" d="M2288 1340l14 47 38 5-14-48z"/><path color="#bec32d" d="M2273 1303l15 37 38 4-15-38z"/><path color="#d6be27" d="M2259 1277l14 26 38 3-14-27z"/><path color="#e4bb2c" d="M2244 1264l15 13 38 2-15-13z"/><path color="#ebba31" d="M2230 1265l14-1 38 2-14 0z"/><path color="#ebba31" d="M2216 1279l14-14 38 1-14 15z"/><path color="#e4bb2c" d="M2201 1307l15-28 38 2-15 28z"/><path color="#d6be27" d="M2187 1348l14-41 38 2-14 42z"/><path color="#bec32d" d="M2172 1400l15-52 38 3-15 53z"/><path color="#9dc943" d="M2158 1462l14-62 38 4-14 63z"/><path color="#72cd63" d="M2143 1531l15-69 38 5-15 70z"/><path color="#47cb87" d="M2129 1607l14-76 38 6-14 76z"/><path color="#2ec4a5" d="M2114 1685l15-78 38 6-15 80z"/><path color="#07bcbf" d="M2100 1764l14-79 38 8-14 80z"/><path color="#10b2d5" d="M2085 1842l15-78 38 9-15 80z"/><path color="#21a3e3" d="M2071 1918l14-76 38 11-14 77z"/><path color="#2a93ee" d="M2057 1990l14-72 38 12-15 73z"/><path color="#2e83f9" d="M2042 2056l15-66 37 13-14 67z"/><path color="#3c71ff" d="M2028 2117l14-61 38 14-14 62z"/><path color="#4562fc" d="M2013 2172l15-55 38 15-15 55z"/><path color="#4756f7" d="M1999 2220l14-48 38 15-14 50z"/><path color="#484bef" d="M1984 2262l15-42 38 17-15 43z"/><path color="#4742e6" d="M1970 2299l14-37 38 18-14 37z"/><path color="#463bdc" d="M1955 2331l15-32 38 18-15 32z"/><path color="#4535d2" d="M1941 2358l14-27 38 18-14 27z"/><path color="#4332c8" d="M1926 2381l15-23 38 18-15 24z"/><path color="#422fc0" d="M1912 2401l14-20 38 19-14 20z"/><path color="#412cba" d="M1898 2418l14-17 38 19-15 17z"/><path color="#402bb6" d="M1883 2432l15-14 37 19-14 15z"/><path color="#3f29b2" d="M1869 2445l14-13 38 20-14 13z"/><path color="#3f28af" d="M1854 2457l15-12 38 20-15 11z"/><path color="#3f28ad" d="M1840 2467l14-10 38 19-14 11z"/><path color="#3e27ac" d="M1825 2477l15-10 38 20-15 9z"/><path color="#3e27ab" d="M1811 2486l14-9 38 19-14 9z"/><path color="#3e27aa" d="M1796 2494l15-8 38 19-15 9z"/><path color="#3e27a9" d="M1782 2502l14-8 38 20-14 8z"/><path color="#3e27a9" d="M1767 2510l15-8 38 20-15 8z"/><path color="#3e26a9" d="M1753 2518l14-8 38 20-14 8z"/><path color="#3e26a9" d="M1738 2526l15-8 38 20-15 7z"/><path color="#3e26a9" d="M2745 2043l14-7 38 20-14 7z"/><path color="#3e26a9" d="M2731 2051l14-8 38 20-14 7z"/><path color="#3e27a9" d="M2716 2058l15-7 38 19-15 7z"/><path color="#3e27a9" d="M2702 2064l14-6 38 19-14 7z"/><path color="#3e27aa" d="M2687 2071l15-7 38 20-15 6z"/><path color="#3e27ab" d="M2673 2077l14-6 38 19-14 6z"/><path color="#3e27ac" d="M2658 2082l15-5 38 19-15 6z"/><path color="#3f28ae" d="M2644 2087l14-5 38 20-14 4z"/><path color="#3f28b0" d="M2629 2090l15-3 38 19-15 4z"/><path color="#3f29b2" d="M2615 2092l14-2 38 20-14 2z"/><path color="#402bb6" d="M2600 2093l15-1 38 20-15 0z"/><path color="#412dbb" d="M2586 2090l14 3 38 19-14-3z"/><path color="#422fc1" d="M2572 2085l14 5 38 19-15-5z"/><path color="#4332c9" d="M2557 2077l15 8 37 19-14-9z"/><path color="#4536d3" d="M2543 2065l14 12 38 18-14-12z"/><path color="#463bdd" d="M2528 2047l15 18 38 18-15-18z"/><path color="#4743e7" d="M2514 2025l14 22 38 18-14-23z"/><path color="#484cef" d="M2499 1997l15 28 38 17-15-28z"/><path color="#4757f7" d="M2485 1963l14 34 38 17-14-35z"/><path color="#4564fd" d="M2470 1922l15 41 38 16-15-42z"/><path color="#3b73ff" d="M2456 1876l14 46 38 15-14-47z"/><path color="#2e84f8" d="M2441 1823l15 53 38 14-15-54z"/><path color="#2895ec" d="M2427 1765l14 58 38 13-14-59z"/><path color="#20a5e2" d="M2413 1703l14 62 38 12-15-63z"/><path color="#0cb3d3" d="M2398 1639l15 64 37 11-14-66z"/><path color="#0ebebb" d="M2384 1573l14 66 38 9-14-67z"/><path color="#31c6a0" d="M2369 1509l15 64 38 8-15-66z"/><path color="#50cc80" d="M2355 1447l14 62 38 6-14-62z"/><path color="#7dcc5c" d="M2340 1392l15 55 38 6-15-57z"/><path color="#a8c73b" d="M2326 1344l14 48 38 4-14-49z"/><path color="#c9c129" d="M2311 1306l15 38 38 3-15-39z"/><path color="#dfbc2a" d="M2297 1279l14 27 38 2-14-27z"/><path color="#ecba32" d="M2282 1266l15 13 38 2-15-13z"/><path color="#f2ba39" d="M2268 1266l14 0 38 2-14 0z"/><path color="#f2ba39" d="M2254 1281l14-15 38 2-15 15z"/><path color="#ecba32" d="M2239 1309l15-28 37 2-14 28z"/><path color="#dfbc2a" d="M2225 1351l14-42 38 2-14 42z"/><path color="#c9c129" d="M2210 1404l15-53 38 2-15 54z"/><path color="#a8c73b" d="M2196 1467l14-63 38 3-14 64z"/><path color="#7dcc5c" d="M2181 1537l15-70 38 4-15 72z"/><path color="#50cc80" d="M2167 1613l14-76 38 6-14 77z"/><path color="#31c6a0" d="M2152 1693l15-80 38 7-15 81z"/><path color="#0ebebb" d="M2138 1773l14-80 38 8-14 82z"/><path color="#0cb3d3" d="M2123 1853l15-80 38 10-15 81z"/><path color="#20a5e2" d="M2109 1930l14-77 38 11-14 78z"/><path color="#2895ec" d="M2094 2003l15-73 38 12-15 74z"/><path color="#2e84f8" d="M2080 2070l14-67 38 13-14 68z"/><path color="#3b73ff" d="M2066 2132l14-62 38 14-14 63z"/><path color="#4564fd" d="M2051 2187l15-55 38 15-15 56z"/><path color="#4757f7" d="M2037 2237l14-50 38 16-14 50z"/><path color="#484cef" d="M2022 2280l15-43 38 16-15 44z"/><path color="#4743e7" d="M2008 2317l14-37 38 17-14 38z"/><path color="#463bdd" d="M1993 2349l15-32 38 18-15 32z"/><path color="#4536d3" d="M1979 2376l14-27 38 18-14 28z"/><path color="#4332c9" d="M1964 2400l15-24 38 19-15 23z"/><path color="#422fc1" d="M1950 2420l14-20 38 18-14 21z"/><path color="#412dbb" d="M1935 2437l15-17 38 19-15 17z"/><path color="#402bb6" d="M1921 2452l14-15 38 19-14 15z"/><path color="#3f29b2" d="M1907 2465l14-13 38 19-14 13z"/><path color="#3f28b0" d="M1892 2476l15-11 38 19-15 12z"/><path color="#3f28ae" d="M1878 2487l14-11 38 20-14 10z"/><path color="#3e27ac" d="M1863 2496l15-9 38 19-15 10z"/><path color="#3e27ab" d="M1849 2505l14-9 38 20-14 9z"/><path color="#3e27aa" d="M1834 2514l15-9 38 20-15 8z"/><path color="#3e27a9" d="M1820 2522l14-8 38 19-14 8z"/><path color="#3e27a9" d="M1805 2530l15-8 38 19-15 8z"/><path color="#3e26a9" d="M1791 2538l14-8 38 19-14 8z"/><path color="#3e26a9" d="M1776 2545l15-7 38 19-15 8z"/><path color="#3e26a9" d="M2783 2063l14-7 38 19-14 8z"/><path color="#3e26a9" d="M2769 2070l14-7 38 20-15 7z"/><path color="#3e27a9" d="M2754 2077l15-7 37 20-14 7z"/><path color="#3e27a9" d="M2740 2084l14-7 38 20-14 6z"/><path color="#3e27aa" d="M2725 2090l15-6 38 19-15 7z"/><path color="#3e27ab" d="M2711 2096l14-6 38 20-14 6z"/><path color="#3e27ac" d="M2696 2102l15-6 38 20-15 5z"/><path color="#3f28ae" d="M2682 2106l14-4 38 19-14 5z"/><path color="#3f28b0" d="M2667 2110l15-4 38 20-15 3z"/><path color="#4029b3" d="M2653 2112l14-2 38 19-14 2z"/><path color="#402bb6" d="M2638 2112l15 0 38 19-15 0z"/><path color="#412dbb" d="M2624 2109l14 3 38 19-14-3z"/><path color="#422fc1" d="M2609 2104l15 5 38 19-15-5z"/><path color="#4332c9" d="M2595 2095l14 9 38 19-14-9z"/><path color="#4536d3" d="M2581 2083l14 12 38 19-14-13z"/><path color="#463bde" d="M2566 2065l15 18 38 18-15-18z"/><path color="#4743e7" d="M2552 2042l14 23 38 18-14-24z"/><path color="#484df0" d="M2537 2014l15 28 38 17-15-29z"/><path color="#4758f8" d="M2523 1979l14 35 38 16-14-36z"/><path color="#4465fd" d="M2508 1937l15 42 38 15-15-42z"/><path color="#3975ff" d="M2494 1890l14 47 38 15-14-49z"/><path color="#2e86f8" d="M2479 1836l15 54 38 13-15-54z"/><path color="#2797eb" d="M2465 1777l14 59 38 13-14-60z"/><path color="#1ea7e1" d="M2450 1714l15 63 38 12-15-65z"/><path color="#07b5d0" d="M2436 1648l14 66 38 10-14-67z"/><path color="#16bfb7" d="M2422 1581l14 67 38 9-14-68z"/><path color="#34c79b" d="M2407 1515l15 66 38 8-15-67z"/><path color="#58cc79" d="M2393 1453l14 62 38 7-14-64z"/><path color="#88cb54" d="M2378 1396l15 57 38 5-15-57z"/><path color="#b2c635" d="M2364 1347l14 49 38 5-14-50z"/><path color="#d2bf27" d="M2349 1308l15 39 38 4-15-40z"/><path color="#e7bb2e" d="M2335 1281l14 27 38 3-14-27z"/><path color="#f4ba3a" d="M2320 1268l15 13 38 3-15-15z"/><path color="#fabb3e" d="M2306 1268l14 0 38 1-14 1z"/><path color="#fabb3e" d="M2291 1283l15-15 38 2-15 14z"/><path color="#f4ba3a" d="M2277 1311l14-28 38 1-14 29z"/><path color="#e7bb2e" d="M2263 1353l14-42 38 2-14 43z"/><path color="#d2bf27" d="M2248 1407l15-54 38 3-15 55z"/><path color="#b2c635" d="M2234 1471l14-64 38 4-14 64z"/><path color="#88cb54" d="M2219 1543l15-72 38 4-15 73z"/><path color="#58cc79" d="M2205 1620l14-77 38 5-14 79z"/><path color="#34c79b" d="M2190 1701l15-81 38 7-15 82z"/><path color="#16bfb7" d="M2176 1783l14-82 38 8-14 83z"/><path color="#07b5d0" d="M2161 1864l15-81 38 9-15 82z"/><path color="#1ea7e1" d="M2147 1942l14-78 38 10-14 79z"/><path color="#2797eb" d="M2132 2016l15-74 38 11-15 75z"/><path color="#2e86f8" d="M2118 2084l14-68 38 12-14 70z"/><path color="#3975ff" d="M2104 2147l14-63 38 14-14 64z"/><path color="#4465fd" d="M2089 2203l15-56 38 15-15 57z"/><path color="#4758f8" d="M2075 2253l14-50 38 16-14 51z"/><path color="#484df0" d="M2060 2297l15-44 38 17-15 44z"/><path color="#4743e7" d="M2046 2335l14-38 38 17-14 38z"/><path color="#463bde" d="M2031 2367l15-32 38 17-15 33z"/><path color="#4536d3" d="M2017 2395l14-28 38 18-14 28z"/><path color="#4332c9" d="M2002 2418l15-23 38 18-15 24z"/><path color="#422fc1" d="M1988 2439l14-21 38 19-14 21z"/><path color="#412dbb" d="M1973 2456l15-17 38 19-15 17z"/><path color="#402bb6" d="M1959 2471l14-15 38 19-14 15z"/><path color="#4029b3" d="M1945 2484l14-13 38 19-15 13z"/><path color="#3f28b0" d="M1930 2496l15-12 37 19-14 12z"/><path color="#3f28ae" d="M1916 2506l14-10 38 19-14 10z"/><path color="#3e27ac" d="M1901 2516l15-10 38 19-15 10z"/><path color="#3e27ab" d="M1887 2525l14-9 38 19-14 9z"/><path color="#3e27aa" d="M1872 2533l15-8 38 19-15 9z"/><path color="#3e27a9" d="M1858 2541l14-8 38 20-14 8z"/><path color="#3e27a9" d="M1843 2549l15-8 38 20-15 8z"/><path color="#3e26a9" d="M1829 2557l14-8 38 20-14 8z"/><path color="#3e26a9" d="M1814 2565l15-8 38 20-15 7z"/><path color="#3e26a9" d="M2821 2083l14-8 38 20-14 7z"/><path color="#3e26a9" d="M2806 2090l15-7 38 19-15 7z"/><path color="#3e27a9" d="M2792 2097l14-7 38 19-14 7z"/><path color="#3e27a9" d="M2778 2103l14-6 38 19-14 7z"/><path color="#3e27aa" d="M2763 2110l15-7 38 20-15 6z"/><path color="#3e27ab" d="M2749 2116l14-6 38 19-14 6z"/><path color="#3e27ac" d="M2734 2121l15-5 38 19-15 6z"/><path color="#3f28ae" d="M2720 2126l14-5 38 20-14 4z"/><path color="#3f28b0" d="M2705 2129l15-3 38 19-15 3z"/><path color="#4029b3" d="M2691 2131l14-2 38 19-14 2z"/><path color="#402bb6" d="M2676 2131l15 0 38 19-15 0z"/><path color="#412dbb" d="M2662 2128l14 3 38 19-14-3z"/><path color="#422fc2" d="M2647 2123l15 5 38 19-15-6z"/><path color="#4332ca" d="M2633 2114l14 9 38 18-14-9z"/><path color="#4536d4" d="M2619 2101l14 13 38 18-14-13z"/><path color="#463cde" d="M2604 2083l15 18 38 18-15-19z"/><path color="#4744e8" d="M2590 2059l14 24 38 17-14-24z"/><path color="#484df1" d="M2575 2030l15 29 38 17-15-30z"/><path color="#4759f8" d="M2561 1994l14 36 38 16-14-36z"/><path color="#4466fd" d="M2546 1952l15 42 38 16-15-43z"/><path color="#3776fe" d="M2532 1903l14 49 38 15-14-50z"/><path color="#2d87f6" d="M2517 1849l15 54 38 14-15-55z"/><path color="#2698ea" d="M2503 1789l14 60 38 13-14-62z"/><path color="#1da9e0" d="M2488 1724l15 65 38 11-15-65z"/><path color="#03b6cd" d="M2474 1657l14 67 38 11-14-69z"/><path color="#1dc0b3" d="M2460 1589l14 68 38 9-15-69z"/><path color="#38c896" d="M2445 1522l15 67 37 8-14-68z"/><path color="#61cd72" d="M2431 1458l14 64 38 7-14-65z"/><path color="#92ca4b" d="M2416 1401l15 57 38 6-15-59z"/><path color="#bcc42f" d="M2402 1351l14 50 38 4-14-51z"/><path color="#dbbd28" d="M2387 1311l15 40 38 3-15-40z"/><path color="#efba35" d="M2373 1284l14 27 38 3-14-29z"/><path color="#fbbb3e" d="M2358 1269l15 15 38 1-15-14z"/><path color="#febe3c" d="M2344 1270l14-1 38 2-14 0z"/><path color="#febe3c" d="M2329 1284l15-14 38 1-15 15z"/><path color="#fbbb3e" d="M2315 1313l14-29 38 2-14 29z"/><path color="#efba35" d="M2301 1356l14-43 38 2-15 44z"/><path color="#dbbd28" d="M2286 1411l15-55 37 3-14 55z"/><path color="#bcc42f" d="M2272 1475l14-64 38 3-14 66z"/><path color="#92ca4b" d="M2257 1548l15-73 38 5-15 74z"/><path color="#61cd72" d="M2243 1627l14-79 38 6-14 80z"/><path color="#38c896" d="M2228 1709l15-82 38 7-15 83z"/><path color="#1dc0b3" d="M2214 1792l14-83 38 8-14 84z"/><path color="#03b6cd" d="M2199 1874l15-82 38 9-15 84z"/><path color="#1da9e0" d="M2185 1953l14-79 38 11-14 80z"/><path color="#2698ea" d="M2170 2028l15-75 38 12-15 76z"/><path color="#2d87f6" d="M2156 2098l14-70 38 13-14 71z"/><path color="#3776fe" d="M2142 2162l14-64 38 14-15 65z"/><path color="#4466fd" d="M2127 2219l15-57 37 15-14 58z"/><path color="#4759f8" d="M2113 2270l14-51 38 16-14 51z"/><path color="#484df1" d="M2098 2314l15-44 38 16-15 45z"/><path color="#4744e8" d="M2084 2352l14-38 38 17-14 39z"/><path color="#463cde" d="M2069 2385l15-33 38 18-15 33z"/><path color="#4536d4" d="M2055 2413l14-28 38 18-14 29z"/><path color="#4332ca" d="M2040 2437l15-24 38 19-15 24z"/><path color="#422fc2" d="M2026 2458l14-21 38 19-14 20z"/><path color="#412dbb" d="M2011 2475l15-17 38 18-15 18z"/><path color="#402bb6" d="M1997 2490l14-15 38 19-14 15z"/><path color="#4029b3" d="M1982 2503l15-13 38 19-15 14z"/><path color="#3f28b0" d="M1968 2515l14-12 38 20-14 11z"/><path color="#3f28ae" d="M1954 2525l14-10 38 19-14 11z"/><path color="#3e27ac" d="M1939 2535l15-10 38 20-15 9z"/><path color="#3e27ab" d="M1925 2544l14-9 38 19-14 10z"/><path color="#3e27aa" d="M1910 2553l15-9 38 20-15 8z"/><path color="#3e27a9" d="M1896 2561l14-8 38 19-14 8z"/><path color="#3e27a9" d="M1881 2569l15-8 38 19-15 8z"/><path color="#3e26a9" d="M1867 2577l14-8 38 19-14 8z"/><path color="#3e26a9" d="M1852 2584l15-7 38 19-15 8z"/><path color="#3e26a9" d="M2859 2102l14-7 38 19-14 8z"/><path color="#3e26a9" d="M2844 2109l15-7 38 20-15 7z"/><path color="#3e27a9" d="M2830 2116l14-7 38 20-14 7z"/><path color="#3e27aa" d="M2816 2123l14-7 38 20-15 6z"/><path color="#3e27aa" d="M2801 2129l15-6 37 19-14 7z"/><path color="#3e27ab" d="M2787 2135l14-6 38 20-14 6z"/><path color="#3e27ac" d="M2772 2141l15-6 38 20-15 5z"/><path color="#3f28ae" d="M2758 2145l14-4 38 19-14 4z"/><path color="#3f28b0" d="M2743 2148l15-3 38 19-15 4z"/><path color="#4029b3" d="M2729 2150l14-2 38 20-14 1z"/><path color="#402bb7" d="M2714 2150l15 0 38 19-15 0z"/><path color="#412dbc" d="M2700 2147l14 3 38 19-14-3z"/><path color="#422fc2" d="M2685 2141l15 6 38 19-15-6z"/><path color="#4332cb" d="M2671 2132l14 9 38 19-14-9z"/><path color="#4536d5" d="M2657 2119l14 13 38 19-15-14z"/><path color="#463cdf" d="M2642 2100l15 19 37 18-14-19z"/><path color="#4744e9" d="M2628 2076l14 24 38 18-14-25z"/><path color="#484ef1" d="M2613 2046l15 30 38 17-15-30z"/><path color="#475af9" d="M2599 2010l14 36 38 17-14-37z"/><path color="#4367fd" d="M2584 1967l15 43 38 16-15-44z"/><path color="#3678fd" d="M2570 1917l14 50 38 15-14-51z"/><path color="#2d89f5" d="M2555 1862l15 55 38 14-15-57z"/><path color="#269ae8" d="M2541 1800l14 62 38 12-14-62z"/><path color="#1baade" d="M2526 1735l15 65 38 12-15-67z"/><path color="#01b8ca" d="M2512 1666l14 69 38 10-14-69z"/><path color="#23c1af" d="M2497 1597l15 69 38 10-15-71z"/><path color="#3cc991" d="M2483 1529l14 68 38 8-14-70z"/><path color="#6acd6a" d="M2469 1464l14 65 38 6-14-66z"/><path color="#9cc943" d="M2454 1405l15 59 38 5-15-60z"/><path color="#c6c22a" d="M2440 1354l14 51 38 4-14-52z"/><path color="#e4bb2c" d="M2425 1314l15 40 38 3-15-41z"/><path color="#f7ba3c" d="M2411 1285l14 29 38 2-14-29z"/><path color="#febf3b" d="M2396 1271l15 14 38 2-15-15z"/><path color="#fec338" d="M2382 1271l14 0 38 1-14 0z"/><path color="#fec338" d="M2367 1286l15-15 38 1-15 15z"/><path color="#febf3b" d="M2353 1315l14-29 38 1-14 30z"/><path color="#f7ba3c" d="M2338 1359l15-44 38 2-15 44z"/><path color="#e4bb2c" d="M2324 1414l14-55 38 2-14 56z"/><path color="#c6c22a" d="M2310 1480l14-66 38 3-14 67z"/><path color="#9cc943" d="M2295 1554l15-74 38 4-15 75z"/><path color="#6acd6a" d="M2281 1634l14-80 38 5-14 81z"/><path color="#3cc991" d="M2266 1717l15-83 38 6-15 85z"/><path color="#23c1af" d="M2252 1801l14-84 38 8-14 85z"/><path color="#01b8ca" d="M2237 1885l15-84 38 9-15 85z"/><path color="#1baade" d="M2223 1965l14-80 38 10-14 82z"/><path color="#269ae8" d="M2208 2041l15-76 38 12-15 77z"/><path color="#2d89f5" d="M2194 2112l14-71 38 13-14 72z"/><path color="#3678fd" d="M2179 2177l15-65 38 14-15 65z"/><path color="#4367fd" d="M2165 2235l14-58 38 14-14 59z"/><path color="#475af9" d="M2151 2286l14-51 38 15-14 52z"/><path color="#484ef1" d="M2136 2331l15-45 38 16-15 46z"/><path color="#4744e9" d="M2122 2370l14-39 38 17-14 39z"/><path color="#463cdf" d="M2107 2403l15-33 38 17-15 34z"/><path color="#4536d5" d="M2093 2432l14-29 38 18-14 29z"/><path color="#4332cb" d="M2078 2456l15-24 38 18-15 25z"/><path color="#422fc2" d="M2064 2476l14-20 38 19-14 20z"/><path color="#412dbc" d="M2049 2494l15-18 38 19-15 18z"/><path color="#402bb7" d="M2035 2509l14-15 38 19-14 15z"/><path color="#4029b3" d="M2020 2523l15-14 38 19-15 14z"/><path color="#3f28b0" d="M2006 2534l14-11 38 19-14 12z"/><path color="#3f28ae" d="M1992 2545l14-11 38 20-15 10z"/><path color="#3e27ac" d="M1977 2554l15-9 37 19-14 10z"/><path color="#3e27ab" d="M1963 2564l14-10 38 20-14 9z"/><path color="#3e27aa" d="M1948 2572l15-8 38 19-15 9z"/><path color="#3e27aa" d="M1934 2580l14-8 38 20-14 8z"/><path color="#3e27a9" d="M1919 2588l15-8 38 20-15 8z"/><path color="#3e26a9" d="M1905 2596l14-8 38 20-14 8z"/><path color="#3e26a9" d="M1890 2604l15-8 38 20-15 7z"/><path color="#3e26a9" d="M2897 2122l14-8 38 20-14 7z"/><path color="#3e26a9" d="M2882 2129l15-7 38 19-15 7z"/><path color="#3e27a9" d="M2868 2136l14-7 38 19-14 7z"/><path color="#3e27aa" d="M2853 2142l15-6 38 19-15 7z"/><path color="#3e27aa" d="M2839 2149l14-7 38 20-14 6z"/><path color="#3e27ab" d="M2825 2155l14-6 38 19-14 6z"/><path color="#3e27ac" d="M2810 2160l15-5 38 19-15 5z"/><path color="#3f28ae" d="M2796 2164l14-4 38 19-14 5z"/><path color="#3f29b0" d="M2781 2168l15-4 38 20-15 3z"/><path color="#402ab3" d="M2767 2169l14-1 38 19-14 1z"/><path color="#402bb7" d="M2752 2169l15 0 38 19-15 0z"/><path color="#412dbc" d="M2738 2166l14 3 38 19-14-3z"/><path color="#422fc3" d="M2723 2160l15 6 38 19-15-6z"/><path color="#4433cb" d="M2709 2151l14 9 38 19-14-10z"/><path color="#4537d5" d="M2694 2137l15 14 38 18-15-14z"/><path color="#463de0" d="M2680 2118l14 19 38 18-14-19z"/><path color="#4745e9" d="M2666 2093l14 25 38 18-14-25z"/><path color="#484ff2" d="M2651 2063l15 30 38 18-15-32z"/><path color="#475bf9" d="M2637 2026l14 37 38 16-14-38z"/><path color="#4369fe" d="M2622 1982l15 44 38 15-15-44z"/><path color="#347afd" d="M2608 1931l14 51 38 15-14-52z"/><path color="#2d8bf4" d="M2593 1874l15 57 38 14-15-58z"/><path color="#259ce7" d="M2579 1812l14 62 38 13-14-63z"/><path color="#1aacdc" d="M2564 1745l15 67 38 12-15-68z"/><path color="#00b9c6" d="M2550 1676l14 69 38 11-14-71z"/><path color="#28c2ab" d="M2535 1605l15 71 38 9-15-72z"/><path color="#42ca8b" d="M2521 1535l14 70 38 8-14-71z"/><path color="#74cd62" d="M2507 1469l14 66 38 7-14-68z"/><path color="#a7c73c" d="M2492 1409l15 60 38 5-15-61z"/><path color="#d0c027" d="M2478 1357l14 52 38 4-14-53z"/><path color="#ecba32" d="M2463 1316l15 41 38 3-15-42z"/><path color="#fdbc3e" d="M2449 1287l14 29 38 2-14-29z"/><path color="#fec437" d="M2434 1272l15 15 38 2-15-15z"/><path color="#fec934" d="M2420 1272l14 0 38 2-14-1z"/><path color="#fec934" d="M2405 1287l15-15 38 1-15 16z"/><path color="#fec437" d="M2391 1317l14-30 38 2-14 30z"/><path color="#fdbc3e" d="M2376 1361l15-44 38 2-15 44z"/><path color="#ecba32" d="M2362 1417l14-56 38 2-14 57z"/><path color="#d0c027" d="M2348 1484l14-67 38 3-15 68z"/><path color="#a7c73c" d="M2333 1559l15-75 37 4-14 76z"/><path color="#74cd62" d="M2319 1640l14-81 38 5-14 83z"/><path color="#42ca8b" d="M2304 1725l15-85 38 7-15 85z"/><path color="#28c2ab" d="M2290 1810l14-85 38 7-14 87z"/><path color="#00b9c6" d="M2275 1895l15-85 38 9-15 86z"/><path color="#1aacdc" d="M2261 1977l14-82 38 10-14 83z"/><path color="#259ce7" d="M2246 2054l15-77 38 11-15 79z"/><path color="#2d8bf4" d="M2232 2126l14-72 38 13-14 73z"/><path color="#347afd" d="M2217 2191l15-65 38 14-15 66z"/><path color="#4369fe" d="M2203 2250l14-59 38 15-14 60z"/><path color="#475bf9" d="M2189 2302l14-52 38 16-15 53z"/><path color="#484ff2" d="M2174 2348l15-46 37 17-14 46z"/><path color="#4745e9" d="M2160 2387l14-39 38 17-14 40z"/><path color="#463de0" d="M2145 2421l15-34 38 18-15 34z"/><path color="#4537d5" d="M2131 2450l14-29 38 18-14 29z"/><path color="#4433cb" d="M2116 2475l15-25 38 18-15 25z"/><path color="#422fc3" d="M2102 2495l14-20 38 18-14 21z"/><path color="#412dbc" d="M2087 2513l15-18 38 19-15 18z"/><path color="#402bb7" d="M2073 2528l14-15 38 19-14 16z"/><path color="#402ab3" d="M2058 2542l15-14 38 20-15 13z"/><path color="#3f29b0" d="M2044 2554l14-12 38 19-14 12z"/><path color="#3f28ae" d="M2029 2564l15-10 38 19-15 11z"/><path color="#3e27ac" d="M2015 2574l14-10 38 20-14 9z"/><path color="#3e27ab" d="M2001 2583l14-9 38 19-14 9z"/><path color="#3e27aa" d="M1986 2592l15-9 38 19-15 9z"/><path color="#3e27aa" d="M1972 2600l14-8 38 19-14 8z"/><path color="#3e27a9" d="M1957 2608l15-8 38 19-15 8z"/><path color="#3e26a9" d="M1943 2616l14-8 38 19-14 8z"/><path color="#3e26a9" d="M1928 2623l15-7 38 19-15 8z"/><path color="#3e26a9" d="M2935 2141l14-7 38 19-14 8z"/><path color="#3e26a9" d="M2920 2148l15-7 38 20-15 7z"/><path color="#3e27a9" d="M2906 2155l14-7 38 20-14 7z"/><path color="#3e27aa" d="M2891 2162l15-7 38 20-15 6z"/><path color="#3e27aa" d="M2877 2168l14-6 38 19-14 7z"/><path color="#3e27ab" d="M2863 2174l14-6 38 20-15 6z"/><path color="#3e27ac" d="M2848 2179l15-5 37 20-14 5z"/><path color="#3f28ae" d="M2834 2184l14-5 38 20-14 4z"/><path color="#3f29b0" d="M2819 2187l15-3 38 19-15 3z"/><path color="#402ab3" d="M2805 2188l14-1 38 19-14 2z"/><path color="#402bb7" d="M2790 2188l15 0 38 20-15-1z"/><path color="#412dbc" d="M2776 2185l14 3 38 19-14-3z"/><path color="#4230c3" d="M2761 2179l15 6 38 19-15-7z"/><path color="#4433cc" d="M2747 2169l14 10 38 18-14-10z"/><path color="#4537d6" d="M2732 2155l15 14 38 18-15-14z"/><path color="#463de0" d="M2718 2136l14 19 38 18-14-20z"/><path color="#4746ea" d="M2704 2111l14 25 38 17-15-25z"/><path color="#4850f2" d="M2689 2079l15 32 37 17-14-32z"/><path color="#475cfa" d="M2675 2041l14 38 38 17-14-39z"/><path color="#426afe" d="M2660 1997l15 44 38 16-15-46z"/><path color="#337bfc" d="M2646 1945l14 52 38 14-14-52z"/><path color="#2d8cf3" d="M2631 1887l15 58 38 14-15-59z"/><path color="#249ee6" d="M2617 1824l14 63 38 13-14-65z"/><path color="#17aeda" d="M2602 1756l15 68 38 11-15-69z"/><path color="#02bbc3" d="M2588 1685l14 71 38 10-14-72z"/><path color="#2cc4a7" d="M2573 1613l15 72 38 9-15-74z"/><path color="#4acb85" d="M2559 1542l14 71 38 7-14-72z"/><path color="#7ecc5b" d="M2545 1474l14 68 38 6-15-68z"/><path color="#b1c635" d="M2530 1413l15 61 37 6-14-63z"/><path color="#d9be28" d="M2516 1360l14 53 38 4-14-54z"/><path color="#f3ba39" d="M2501 1318l15 42 38 3-15-43z"/><path color="#fec13a" d="M2487 1289l14 29 38 2-14-30z"/><path color="#feca33" d="M2472 1274l15 15 38 1-15-15z"/><path color="#fdcf31" d="M2458 1273l14 1 38 1-14-1z"/><path color="#fdcf31" d="M2443 1289l15-16 38 1-15 16z"/><path color="#feca33" d="M2429 1319l14-30 38 1-14 30z"/><path color="#fec13a" d="M2414 1363l15-44 38 1-15 45z"/><path color="#f3ba39" d="M2400 1420l14-57 38 2-14 58z"/><path color="#d9be28" d="M2385 1488l15-68 38 3-15 69z"/><path color="#b1c635" d="M2371 1564l14-76 38 4-14 77z"/><path color="#7ecc5b" d="M2357 1647l14-83 38 5-14 84z"/><path color="#4acb85" d="M2342 1732l15-85 38 6-15 87z"/><path color="#2cc4a7" d="M2328 1819l14-87 38 8-14 88z"/><path color="#02bbc3" d="M2313 1905l15-86 38 9-15 88z"/><path color="#17aeda" d="M2299 1988l14-83 38 11-14 84z"/><path color="#249ee6" d="M2284 2067l15-79 38 12-15 80z"/><path color="#2d8cf3" d="M2270 2140l14-73 38 13-14 73z"/><path color="#337bfc" d="M2255 2206l15-66 38 13-15 68z"/><path color="#426afe" d="M2241 2266l14-60 38 15-14 61z"/><path color="#475cfa" d="M2226 2319l15-53 38 16-15 53z"/><path color="#4850f2" d="M2212 2365l14-46 38 16-14 47z"/><path color="#4746ea" d="M2198 2405l14-40 38 17-14 41z"/><path color="#463de0" d="M2183 2439l15-34 38 18-15 34z"/><path color="#4537d6" d="M2169 2468l14-29 38 18-14 30z"/><path color="#4433cc" d="M2154 2493l15-25 38 19-15 25z"/><path color="#4230c3" d="M2140 2514l14-21 38 19-14 21z"/><path color="#412dbc" d="M2125 2532l15-18 38 19-15 18z"/><path color="#402bb7" d="M2111 2548l14-16 38 19-14 16z"/><path color="#402ab3" d="M2096 2561l15-13 38 19-15 13z"/><path color="#3f29b0" d="M2082 2573l14-12 38 19-14 12z"/><path color="#3f28ae" d="M2067 2584l15-11 38 19-15 11z"/><path color="#3e27ac" d="M2053 2593l14-9 38 19-14 10z"/><path color="#3e27ab" d="M2039 2602l14-9 38 20-14 9z"/><path color="#3e27aa" d="M2024 2611l15-9 38 20-15 9z"/><path color="#3e27aa" d="M2010 2619l14-8 38 20-14 8z"/><path color="#3e27a9" d="M1995 2627l15-8 38 20-15 8z"/><path color="#3e26a9" d="M1981 2635l14-8 38 20-14 8z"/><path color="#3e26a9" d="M1966 2643l15-8 38 20-15 7z"/><path color="#3e26a9" d="M2973 2161l14-8 38 20-14 7z"/><path color="#3e26a9" d="M2958 2168l15-7 38 19-15 7z"/><path color="#3e27a9" d="M2944 2175l14-7 38 19-14 7z"/><path color="#3e27aa" d="M2929 2181l15-6 38 19-15 7z"/><path color="#3e27aa" d="M2915 2188l14-7 38 20-14 6z"/><path color="#3e27ab" d="M2900 2194l15-6 38 19-15 6z"/><path color="#3e27ac" d="M2886 2199l14-5 38 19-14 5z"/><path color="#3f28ae" d="M2872 2203l14-4 38 19-14 4z"/><path color="#3f29b0" d="M2857 2206l15-3 38 19-15 3z"/><path color="#402ab3" d="M2843 2208l14-2 38 19-14 2z"/><path color="#402bb7" d="M2828 2207l15 1 38 19-15-1z"/><path color="#412dbd" d="M2814 2204l14 3 38 19-14-3z"/><path color="#4230c3" d="M2799 2197l15 7 38 19-15-7z"/><path color="#4433cc" d="M2785 2187l14 10 38 19-14-10z"/><path color="#4537d7" d="M2770 2173l15 14 38 19-15-15z"/><path color="#463ee1" d="M2756 2153l14 20 38 18-14-20z"/><path color="#4746eb" d="M2741 2128l15 25 38 18-15-26z"/><path color="#4851f3" d="M2727 2096l14 32 38 17-14-33z"/><path color="#475dfa" d="M2713 2057l14 39 38 16-14-39z"/><path color="#416bfe" d="M2698 2011l15 46 38 16-15-47z"/><path color="#317dfc" d="M2684 1959l14 52 38 15-14-53z"/><path color="#2d8ef1" d="M2669 1900l15 59 38 14-15-60z"/><path color="#249fe5" d="M2655 1835l14 65 38 13-14-66z"/><path color="#15b0d8" d="M2640 1766l15 69 38 12-15-71z"/><path color="#05bcc0" d="M2626 1694l14 72 38 10-14-74z"/><path color="#2fc5a3" d="M2611 1620l15 74 38 8-15-74z"/><path color="#52cc7e" d="M2597 1548l14 72 38 8-14-74z"/><path color="#88cb53" d="M2582 1480l15 68 38 6-15-70z"/><path color="#bbc42f" d="M2568 1417l14 63 38 4-14-63z"/><path color="#e1bc2a" d="M2554 1363l14 54 38 4-14-55z"/><path color="#fabb3e" d="M2539 1320l15 43 38 3-15-44z"/><path color="#fec636" d="M2525 1290l14 30 38 2-14-30z"/><path color="#fccf30" d="M2510 1275l15 15 38 2-15-16z"/><path color="#fad42e" d="M2496 1274l14 1 38 1-14-1z"/><path color="#fad42e" d="M2481 1290l15-16 38 1-15 16z"/><path color="#fccf30" d="M2467 1320l14-30 38 1-14 31z"/><path color="#fec636" d="M2452 1365l15-45 38 2-15 45z"/><path color="#fabb3e" d="M2438 1423l14-58 38 2-14 59z"/><path color="#e1bc2a" d="M2423 1492l15-69 38 3-15 70z"/><path color="#bbc42f" d="M2409 1569l14-77 38 4-14 78z"/><path color="#88cb53" d="M2395 1653l14-84 38 5-14 85z"/><path color="#52cc7e" d="M2380 1740l15-87 38 6-15 89z"/><path color="#2fc5a3" d="M2366 1828l14-88 38 8-14 89z"/><path color="#05bcc0" d="M2351 1916l15-88 38 9-15 89z"/><path color="#15b0d8" d="M2337 2000l14-84 38 10-14 85z"/><path color="#249fe5" d="M2322 2080l15-80 38 11-15 81z"/><path color="#2d8ef1" d="M2308 2153l14-73 38 12-14 75z"/><path color="#317dfc" d="M2293 2221l15-68 38 14-15 69z"/><path color="#416bfe" d="M2279 2282l14-61 38 15-14 61z"/><path color="#475dfa" d="M2264 2335l15-53 38 15-15 55z"/><path color="#4851f3" d="M2250 2382l14-47 38 17-14 47z"/><path color="#4746eb" d="M2236 2423l14-41 38 17-15 41z"/><path color="#463ee1" d="M2221 2457l15-34 37 17-14 35z"/><path color="#4537d7" d="M2207 2487l14-30 38 18-14 30z"/><path color="#4433cc" d="M2192 2512l15-25 38 18-15 26z"/><path color="#4230c3" d="M2178 2533l14-21 38 19-14 21z"/><path color="#412dbd" d="M2163 2551l15-18 38 19-15 18z"/><path color="#402bb7" d="M2149 2567l14-16 38 19-14 16z"/><path color="#402ab3" d="M2134 2580l15-13 38 19-15 14z"/><path color="#3f29b0" d="M2120 2592l14-12 38 20-14 12z"/><path color="#3f28ae" d="M2105 2603l15-11 38 20-15 10z"/><path color="#3e27ac" d="M2091 2613l14-10 38 19-14 10z"/><path color="#3e27ab" d="M2077 2622l14-9 38 19-15 9z"/><path color="#3e27aa" d="M2062 2631l15-9 37 19-14 9z"/><path color="#3e27aa" d="M2048 2639l14-8 38 19-14 8z"/><path color="#3e27a9" d="M2033 2647l15-8 38 19-15 8z"/><path color="#3e26a9" d="M2019 2655l14-8 38 19-14 8z"/><path color="#3e26a9" d="M2004 2662l15-7 38 19-15 8z"/><path color="#3e26a9" d="M3011 2180l14-7 38 19-14 8z"/><path color="#3e26a9" d="M2996 2187l15-7 38 20-15 7z"/><path color="#3e27a9" d="M2982 2194l14-7 38 20-14 7z"/><path color="#3e27aa" d="M2967 2201l15-7 38 20-15 6z"/><path color="#3e27aa" d="M2953 2207l14-6 38 19-14 7z"/><path color="#3e27ab" d="M2938 2213l15-6 38 20-15 6z"/><path color="#3e27ac" d="M2924 2218l14-5 38 20-14 5z"/><path color="#3f28ae" d="M2910 2222l14-4 38 20-14 4z"/><path color="#3f29b0" d="M2895 2225l15-3 38 20-15 3z"/><path color="#402ab4" d="M2881 2227l14-2 38 20-14 1z"/><path color="#402bb8" d="M2866 2226l15 1 38 19-15-1z"/><path color="#412dbd" d="M2852 2223l14 3 38 19-14-3z"/><path color="#4230c4" d="M2837 2216l15 7 38 19-15-7z"/><path color="#4433cd" d="M2823 2206l14 10 38 19-14-11z"/><path color="#4538d7" d="M2808 2191l15 15 38 18-15-15z"/><path color="#473ee2" d="M2794 2171l14 20 38 18-14-21z"/><path color="#4747eb" d="M2779 2145l15 26 38 17-15-26z"/><path color="#4851f4" d="M2765 2112l14 33 38 17-14-34z"/><path color="#465efb" d="M2751 2073l14 39 38 16-15-40z"/><path color="#406cfe" d="M2736 2026l15 47 37 15-14-47z"/><path color="#307efb" d="M2722 1973l14 53 38 15-14-55z"/><path color="#2c90f0" d="M2707 1913l15 60 38 13-15-61z"/><path color="#23a1e4" d="M2693 1847l14 66 38 12-14-67z"/><path color="#11b1d6" d="M2678 1776l15 71 38 11-15-72z"/><path color="#0bbdbc" d="M2664 1702l14 74 38 10-14-75z"/><path color="#32c69e" d="M2649 1628l15 74 38 9-15-76z"/><path color="#5acc78" d="M2635 1554l14 74 38 7-14-75z"/><path color="#92ca4b" d="M2620 1484l15 70 38 6-15-71z"/><path color="#c4c22a" d="M2606 1421l14 63 38 5-14-64z"/><path color="#e9bb2f" d="M2592 1366l14 55 38 4-15-56z"/><path color="#febe3c" d="M2577 1322l15 44 37 3-14-45z"/><path color="#fdcc32" d="M2563 1292l14 30 38 2-14-31z"/><path color="#fad52d" d="M2548 1276l15 16 38 1-15-16z"/><path color="#f7da2b" d="M2534 1275l14 1 38 1-14-1z"/><path color="#f7da2b" d="M2519 1291l15-16 38 1-15 16z"/><path color="#fad52d" d="M2505 1322l14-31 38 1-14 31z"/><path color="#fdcc32" d="M2490 1367l15-45 38 1-15 46z"/><path color="#febe3c" d="M2476 1426l14-59 38 2-14 60z"/><path color="#e9bb2f" d="M2461 1496l15-70 38 3-15 71z"/><path color="#c4c22a" d="M2447 1574l14-78 38 4-14 79z"/><path color="#92ca4b" d="M2433 1659l14-85 38 5-15 86z"/><path color="#5acc78" d="M2418 1748l15-89 37 6-14 90z"/><path color="#32c69e" d="M2404 1837l14-89 38 7-14 91z"/><path color="#0bbdbc" d="M2389 1926l15-89 38 9-15 90z"/><path color="#11b1d6" d="M2375 2011l14-85 38 10-14 87z"/><path color="#23a1e4" d="M2360 2092l15-81 38 12-15 82z"/><path color="#2c90f0" d="M2346 2167l14-75 38 13-14 76z"/><path color="#307efb" d="M2331 2236l15-69 38 14-15 69z"/><path color="#406cfe" d="M2317 2297l14-61 38 14-14 63z"/><path color="#465efb" d="M2302 2352l15-55 38 16-15 55z"/><path color="#4851f4" d="M2288 2399l14-47 38 16-14 48z"/><path color="#4747eb" d="M2273 2440l15-41 38 17-15 42z"/><path color="#473ee2" d="M2259 2475l14-35 38 18-14 35z"/><path color="#4538d7" d="M2245 2505l14-30 38 18-14 31z"/><path color="#4433cd" d="M2230 2531l15-26 38 19-15 25z"/><path color="#4230c4" d="M2216 2552l14-21 38 18-14 22z"/><path color="#412dbd" d="M2201 2570l15-18 38 19-15 18z"/><path color="#402bb8" d="M2187 2586l14-16 38 19-14 16z"/><path color="#402ab4" d="M2172 2600l15-14 38 19-15 14z"/><path color="#3f29b0" d="M2158 2612l14-12 38 19-14 12z"/><path color="#3f28ae" d="M2143 2622l15-10 38 19-15 11z"/><path color="#3e27ac" d="M2129 2632l14-10 38 20-14 10z"/><path color="#3e27ab" d="M2114 2641l15-9 38 20-15 9z"/><path color="#3e27aa" d="M2100 2650l14-9 38 20-14 9z"/><path color="#3e27aa" d="M2086 2658l14-8 38 20-14 8z"/><path color="#3e27a9" d="M2071 2666l15-8 38 20-15 8z"/><path color="#3e26a9" d="M2057 2674l14-8 38 20-14 8z"/><path color="#3e26a9" d="M2042 2682l15-8 38 20-15 7z"/><path color="#3e26a9" d="M3049 2200l14-8 38 20-14 7z"/><path color="#3e26a9" d="M3034 2207l15-7 38 19-15 7z"/><path color="#3e27a9" d="M3020 2214l14-7 38 19-14 7z"/><path color="#3e27aa" d="M3005 2220l15-6 38 19-15 7z"/><path color="#3e27aa" d="M2991 2227l14-7 38 20-14 6z"/><path color="#3e27ab" d="M2976 2233l15-6 38 19-15 6z"/><path color="#3e27ac" d="M2962 2238l14-5 38 19-14 5z"/><path color="#3f28ae" d="M2948 2242l14-4 38 19-15 4z"/><path color="#3f29b1" d="M2933 2245l15-3 37 19-14 3z"/><path color="#402ab4" d="M2919 2246l14-1 38 19-14 1z"/><path color="#402bb8" d="M2904 2245l15 1 38 19-15-1z"/><path color="#412dbd" d="M2890 2242l14 3 38 19-14-4z"/><path color="#4230c4" d="M2875 2235l15 7 38 18-15-7z"/><path color="#4433cd" d="M2861 2224l14 11 38 18-14-11z"/><path color="#4538d8" d="M2846 2209l15 15 38 18-15-15z"/><path color="#473fe2" d="M2832 2188l14 21 38 18-14-21z"/><path color="#4848ec" d="M2817 2162l15 26 38 18-15-27z"/><path color="#4852f4" d="M2803 2128l14 34 38 17-14-34z"/><path color="#465ffb" d="M2788 2088l15 40 38 17-15-41z"/><path color="#3f6eff" d="M2774 2041l14 47 38 16-14-49z"/><path color="#2f80fb" d="M2760 1986l14 55 38 14-14-55z"/><path color="#2b91ef" d="M2745 1925l15 61 38 14-15-62z"/><path color="#21a3e3" d="M2731 1858l14 67 38 13-14-69z"/><path color="#0db3d3" d="M2716 1786l15 72 38 11-15-73z"/><path color="#12beb9" d="M2702 1711l14 75 38 10-14-76z"/><path color="#35c79a" d="M2687 1635l15 76 38 9-15-77z"/><path color="#62cd71" d="M2673 1560l14 75 38 8-14-76z"/><path color="#9cc944" d="M2658 1489l15 71 38 7-15-73z"/><path color="#cec027" d="M2644 1425l14 64 38 5-14-66z"/><path color="#f0ba36" d="M2629 1369l15 56 38 3-15-57z"/><path color="#fec338" d="M2615 1324l14 45 38 2-14-45z"/><path color="#fcd12f" d="M2601 1293l14 31 38 2-14-32z"/><path color="#f7db2a" d="M2586 1277l15 16 38 1-15-17z"/><path color="#f6e028" d="M2572 1276l14 1 38 0-14 0z"/><path color="#f6e028" d="M2557 1292l15-16 38 1-15 15z"/><path color="#f7db2a" d="M2543 1323l14-31 38 0-14 32z"/><path color="#fcd12f" d="M2528 1369l15-46 38 1-15 47z"/><path color="#fec338" d="M2514 1429l14-60 38 2-14 60z"/><path color="#f0ba36" d="M2499 1500l15-71 38 2-15 72z"/><path color="#cec027" d="M2485 1579l14-79 38 3-14 81z"/><path color="#9cc944" d="M2470 1665l15-86 38 5-15 87z"/><path color="#62cd71" d="M2456 1755l14-90 38 6-14 91z"/><path color="#35c79a" d="M2442 1846l14-91 38 7-14 93z"/><path color="#12beb9" d="M2427 1936l15-90 38 9-15 91z"/><path color="#0db3d3" d="M2413 2023l14-87 38 10-14 88z"/><path color="#21a3e3" d="M2398 2105l15-82 38 11-15 83z"/><path color="#2b91ef" d="M2384 2181l14-76 38 12-14 78z"/><path color="#2f80fb" d="M2369 2250l15-69 38 14-15 70z"/><path color="#3f6eff" d="M2355 2313l14-63 38 15-14 63z"/><path color="#465ffb" d="M2340 2368l15-55 38 15-15 56z"/><path color="#4852f4" d="M2326 2416l14-48 38 16-14 49z"/><path color="#4848ec" d="M2311 2458l15-42 38 17-15 42z"/><path color="#473fe2" d="M2297 2493l14-35 38 17-14 36z"/><path color="#4538d8" d="M2283 2524l14-31 38 18-15 31z"/><path color="#4433cd" d="M2268 2549l15-25 37 18-14 26z"/><path color="#4230c4" d="M2254 2571l14-22 38 19-14 22z"/><path color="#412dbd" d="M2239 2589l15-18 38 19-15 18z"/><path color="#402bb8" d="M2225 2605l14-16 38 19-14 16z"/><path color="#402ab4" d="M2210 2619l15-14 38 19-15 14z"/><path color="#3f29b1" d="M2196 2631l14-12 38 19-14 12z"/><path color="#3f28ae" d="M2181 2642l15-11 38 19-15 11z"/><path color="#3e27ac" d="M2167 2652l14-10 38 19-14 10z"/><path color="#3e27ab" d="M2152 2661l15-9 38 19-15 9z"/><path color="#3e27aa" d="M2138 2670l14-9 38 19-14 9z"/><path color="#3e27aa" d="M2124 2678l14-8 38 19-15 8z"/><path color="#3e27a9" d="M2109 2686l15-8 37 19-14 8z"/><path color="#3e26a9" d="M2095 2694l14-8 38 19-14 8z"/><path color="#3e26a9" d="M2080 2701l15-7 38 19-15 8z"/><path color="#3e26a9" d="M3087 2219l14-7 38 20-14 7z"/><path color="#3e26a9" d="M3072 2226l15-7 38 20-15 7z"/><path color="#3e27a9" d="M3058 2233l14-7 38 20-14 7z"/><path color="#3e27aa" d="M3043 2240l15-7 38 20-15 6z"/><path color="#3e27aa" d="M3029 2246l14-6 38 19-14 7z"/><path color="#3e27ab" d="M3014 2252l15-6 38 20-15 6z"/><path color="#3e27ad" d="M3000 2257l14-5 38 20-14 5z"/><path color="#3f28ae" d="M2985 2261l15-4 38 20-15 4z"/><path color="#3f29b1" d="M2971 2264l14-3 38 20-14 2z"/><path color="#402ab4" d="M2957 2265l14-1 38 19-14 1z"/><path color="#402bb8" d="M2942 2264l15 1 38 19-15-1z"/><path color="#412ebe" d="M2928 2260l14 4 38 19-14-4z"/><path color="#4330c5" d="M2913 2253l15 7 38 19-15-7z"/><path color="#4434ce" d="M2899 2242l14 11 38 19-14-11z"/><path color="#4538d8" d="M2884 2227l15 15 38 19-15-16z"/><path color="#473fe3" d="M2870 2206l14 21 38 18-14-22z"/><path color="#4848ec" d="M2855 2179l15 27 38 17-15-27z"/><path color="#4853f5" d="M2841 2145l14 34 38 17-14-35z"/><path color="#4660fc" d="M2826 2104l15 41 38 16-15-42z"/><path color="#3e6fff" d="M2812 2055l14 49 38 15-14-49z"/><path color="#2f81fa" d="M2798 2000l14 55 38 15-14-56z"/><path color="#2a93ee" d="M2783 1938l15 62 38 14-15-64z"/><path color="#20a5e3" d="M2769 1869l14 69 38 12-14-69z"/><path color="#08b4d1" d="M2754 1796l15 73 38 12-15-75z"/><path color="#19bfb5" d="M2740 1720l14 76 38 10-14-77z"/><path color="#39c995" d="M2725 1643l15 77 38 9-15-79z"/><path color="#6acd69" d="M2711 1567l14 76 38 7-14-78z"/><path color="#a6c83c" d="M2696 1494l15 73 38 5-15-73z"/><path color="#d6be27" d="M2682 1428l14 66 38 5-14-67z"/><path color="#f7ba3d" d="M2667 1371l15 57 38 4-15-58z"/><path color="#fec834" d="M2653 1326l14 45 38 3-14-46z"/><path color="#f9d72c" d="M2639 1294l14 32 38 2-15-33z"/><path color="#f5e128" d="M2624 1277l15 17 37 1-14-17z"/><path color="#f5e626" d="M2610 1277l14 0 38 1-14-1z"/><path color="#f5e626" d="M2595 1292l15-15 38 0-15 16z"/><path color="#f5e128" d="M2581 1324l14-32 38 1-14 32z"/><path color="#f9d72c" d="M2566 1371l15-47 38 1-15 48z"/><path color="#fec834" d="M2552 1431l14-60 38 2-14 61z"/><path color="#f7ba3d" d="M2537 1503l15-72 38 3-15 73z"/><path color="#d6be27" d="M2523 1584l14-81 38 4-14 82z"/><path color="#a6c83c" d="M2508 1671l15-87 38 5-15 88z"/><path color="#6acd69" d="M2494 1762l14-91 38 6-14 93z"/><path color="#39c995" d="M2480 1855l14-93 38 8-15 93z"/><path color="#19bfb5" d="M2465 1946l15-91 37 8-14 93z"/><path color="#08b4d1" d="M2451 2034l14-88 38 10-14 89z"/><path color="#20a5e3" d="M2436 2117l15-83 38 11-15 85z"/><path color="#2a93ee" d="M2422 2195l14-78 38 13-14 78z"/><path color="#2f81fa" d="M2407 2265l15-70 38 13-15 72z"/><path color="#3e6fff" d="M2393 2328l14-63 38 15-14 64z"/><path color="#4660fc" d="M2378 2384l15-56 38 16-15 57z"/><path color="#4853f5" d="M2364 2433l14-49 38 17-14 49z"/><path color="#4848ec" d="M2349 2475l15-42 38 17-15 43z"/><path color="#473fe3" d="M2335 2511l14-36 38 18-14 36z"/><path color="#4538d8" d="M2320 2542l15-31 38 18-15 31z"/><path color="#4434ce" d="M2306 2568l14-26 38 18-14 26z"/><path color="#4330c5" d="M2292 2590l14-22 38 18-14 23z"/><path color="#412ebe" d="M2277 2608l15-18 38 19-15 18z"/><path color="#402bb8" d="M2263 2624l14-16 38 19-14 17z"/><path color="#402ab4" d="M2248 2638l15-14 38 20-15 14z"/><path color="#3f29b1" d="M2234 2650l14-12 38 20-14 12z"/><path color="#3f28ae" d="M2219 2661l15-11 38 20-15 11z"/><path color="#3e27ad" d="M2205 2671l14-10 38 20-14 10z"/><path color="#3e27ab" d="M2190 2680l15-9 38 20-15 9z"/><path color="#3e27aa" d="M2176 2689l14-9 38 20-14 9z"/><path color="#3e27aa" d="M2161 2697l15-8 38 20-15 8z"/><path color="#3e27a9" d="M2147 2705l14-8 38 20-14 8z"/><path color="#3e26a9" d="M2133 2713l14-8 38 20-14 8z"/><path color="#3e26a9" d="M2118 2721l15-8 38 20-15 8z"/><path color="#3e26a9" d="M3125 2239l14-7 38 19-14 7z"/><path color="#3e26a9" d="M3110 2246l15-7 38 19-15 7z"/><path color="#3e27a9" d="M3096 2253l14-7 38 19-14 7z"/><path color="#3e27aa" d="M3081 2259l15-6 38 19-15 7z"/><path color="#3e27aa" d="M3067 2266l14-7 38 20-14 6z"/><path color="#3e27ab" d="M3052 2272l15-6 38 19-15 6z"/><path color="#3e27ad" d="M3038 2277l14-5 38 19-14 5z"/><path color="#3f28ae" d="M3023 2281l15-4 38 19-15 4z"/><path color="#3f29b1" d="M3009 2283l14-2 38 19-14 3z"/><path color="#402ab4" d="M2995 2284l14-1 38 20-15 0z"/><path color="#412cb8" d="M2980 2283l15 1 37 19-14-1z"/><path color="#412ebe" d="M2966 2279l14 4 38 19-14-4z"/><path color="#4330c5" d="M2951 2272l15 7 38 19-15-7z"/><path color="#4434cf" d="M2937 2261l14 11 38 19-14-12z"/><path color="#4639d9" d="M2922 2245l15 16 38 18-15-16z"/><path color="#4740e3" d="M2908 2223l14 22 38 18-14-22z"/><path color="#4849ed" d="M2893 2196l15 27 38 18-15-29z"/><path color="#4854f5" d="M2879 2161l14 35 38 16-14-35z"/><path color="#4661fc" d="M2864 2119l15 42 38 16-15-42z"/><path color="#3d71ff" d="M2850 2070l14 49 38 16-14-50z"/><path color="#2e83f9" d="M2836 2014l14 56 38 15-15-58z"/><path color="#2995ec" d="M2821 1950l15 64 37 13-14-64z"/><path color="#1fa6e2" d="M2807 1881l14 69 38 13-14-71z"/><path color="#04b6ce" d="M2792 1806l15 75 38 11-15-76z"/><path color="#1fc0b2" d="M2778 1729l14 77 38 10-14-79z"/><path color="#3eca8f" d="M2763 1650l15 79 38 8-15-80z"/><path color="#74cd62" d="M2749 1572l14 78 38 7-14-79z"/><path color="#b0c636" d="M2734 1499l15 73 38 6-15-75z"/><path color="#dfbc29" d="M2720 1432l14 67 38 4-14-68z"/><path color="#fdbc3e" d="M2705 1374l15 58 38 3-15-59z"/><path color="#fdce31" d="M2691 1328l14 46 38 2-14-47z"/><path color="#f7dd2a" d="M2676 1295l15 33 38 1-15-33z"/><path color="#f5e725" d="M2662 1278l14 17 38 1-14-18z"/><path color="#f5ec22" d="M2648 1277l14 1 38 0-14-1z"/><path color="#f5ec22" d="M2633 1293l15-16 38 0-15 16z"/><path color="#f5e725" d="M2619 1325l14-32 38 0-14 33z"/><path color="#f7dd2a" d="M2604 1373l15-48 38 1-15 48z"/><path color="#fdce31" d="M2590 1434l14-61 38 1-14 62z"/><path color="#fdbc3e" d="M2575 1507l15-73 38 2-15 74z"/><path color="#dfbc29" d="M2561 1589l14-82 38 3-14 83z"/><path color="#b0c636" d="M2546 1677l15-88 38 4-15 90z"/><path color="#74cd62" d="M2532 1770l14-93 38 6-14 94z"/><path color="#3eca8f" d="M2517 1863l15-93 38 7-15 95z"/><path color="#1fc0b2" d="M2503 1956l14-93 38 9-14 94z"/><path color="#04b6ce" d="M2489 2045l14-89 38 10-14 91z"/><path color="#1fa6e2" d="M2474 2130l15-85 38 12-15 85z"/><path color="#2995ec" d="M2460 2208l14-78 38 12-14 80z"/><path color="#2e83f9" d="M2445 2280l15-72 38 14-15 72z"/><path color="#3d71ff" d="M2431 2344l14-64 38 14-14 65z"/><path color="#4661fc" d="M2416 2401l15-57 38 15-15 58z"/><path color="#4854f5" d="M2402 2450l14-49 38 16-14 50z"/><path color="#4849ed" d="M2387 2493l15-43 38 17-15 43z"/><path color="#4740e3" d="M2373 2529l14-36 38 17-14 37z"/><path color="#4639d9" d="M2358 2560l15-31 38 18-15 32z"/><path color="#4434cf" d="M2344 2586l14-26 38 19-14 26z"/><path color="#4330c5" d="M2330 2609l14-23 38 19-14 23z"/><path color="#412ebe" d="M2315 2627l15-18 38 19-15 19z"/><path color="#412cb8" d="M2301 2644l14-17 38 20-14 16z"/><path color="#402ab4" d="M2286 2658l15-14 38 19-15 14z"/><path color="#3f29b1" d="M2272 2670l14-12 38 19-14 12z"/><path color="#3f28ae" d="M2257 2681l15-11 38 19-15 11z"/><path color="#3e27ad" d="M2243 2691l14-10 38 19-14 10z"/><path color="#3e27ab" d="M2228 2700l15-9 38 19-15 9z"/><path color="#3e27aa" d="M2214 2709l14-9 38 19-14 9z"/><path color="#3e27aa" d="M2199 2717l15-8 38 19-15 8z"/><path color="#3e27a9" d="M2185 2725l14-8 38 19-14 8z"/><path color="#3e26a9" d="M2171 2733l14-8 38 19-15 8z"/><path color="#3e26a9" d="M2156 2741l15-8 37 19-14 8z"/><path color="#3e26a9" d="M3163 2258l14-7 38 20-14 7z"/><path color="#3e26a9" d="M3148 2265l15-7 38 20-15 7z"/><path color="#3e27a9" d="M3134 2272l14-7 38 20-14 7z"/><path color="#3e27aa" d="M3119 2279l15-7 38 20-15 6z"/><path color="#3e27aa" d="M3105 2285l14-6 38 19-14 7z"/><path color="#3e27ab" d="M3090 2291l15-6 38 20-15 5z"/><path color="#3f27ad" d="M3076 2296l14-5 38 19-14 5z"/><path color="#3f28ae" d="M3061 2300l15-4 38 19-15 4z"/><path color="#3f29b1" d="M3047 2303l14-3 38 19-14 3z"/><path color="#402ab4" d="M3032 2303l15 0 38 19-15 1z"/><path color="#412cb9" d="M3018 2302l14 1 38 20-14-2z"/><path color="#422ebe" d="M3004 2298l14 4 38 19-14-4z"/><path color="#4331c6" d="M2989 2291l15 7 38 19-15-8z"/><path color="#4434cf" d="M2975 2279l14 12 38 18-14-12z"/><path color="#4639da" d="M2960 2263l15 16 38 18-15-16z"/><path color="#4740e4" d="M2946 2241l14 22 38 18-14-23z"/><path color="#484aed" d="M2931 2212l15 29 38 17-15-29z"/><path color="#4855f6" d="M2917 2177l14 35 38 17-14-35z"/><path color="#4562fc" d="M2902 2135l15 42 38 17-15-44z"/><path color="#3c72ff" d="M2888 2085l14 50 38 15-14-51z"/><path color="#2e84f8" d="M2873 2027l15 58 38 14-15-58z"/><path color="#2796eb" d="M2859 1963l14 64 38 14-14-66z"/><path color="#1da8e0" d="M2845 1892l14 71 38 12-14-72z"/><path color="#02b7cb" d="M2830 1816l15 76 38 11-15-77z"/><path color="#24c2ae" d="M2816 1737l14 79 38 10-14-80z"/><path color="#43cb8a" d="M2801 1657l15 80 38 9-15-82z"/><path color="#7ecc5b" d="M2787 1578l14 79 38 7-14-80z"/><path color="#b9c430" d="M2772 1503l15 75 38 6-15-76z"/><path color="#e6bb2d" d="M2758 1435l14 68 38 5-14-70z"/><path color="#fec13a" d="M2743 1376l15 59 38 3-15-59z"/><path color="#fbd32e" d="M2729 1329l14 47 38 3-14-48z"/><path color="#f5e327" d="M2714 1296l15 33 38 2-15-34z"/><path color="#f5ed22" d="M2700 1278l14 18 38 1-14-18z"/><path color="#f6f21e" d="M2686 1277l14 1 38 1-14-1z"/><path color="#f6f21e" d="M2671 1293l15-16 38 1-15 16z"/><path color="#f5ed22" d="M2657 1326l14-33 38 1-14 33z"/><path color="#f5e327" d="M2642 1374l15-48 38 1-15 48z"/><path color="#fbd32e" d="M2628 1436l14-62 38 1-14 63z"/><path color="#fec13a" d="M2613 1510l15-74 38 2-15 75z"/><path color="#e6bb2d" d="M2599 1593l14-83 38 3-14 85z"/><path color="#b9c430" d="M2584 1683l15-90 38 5-15 91z"/><path color="#7ecc5b" d="M2570 1777l14-94 38 6-14 95z"/><path color="#43cb8a" d="M2555 1872l15-95 38 7-15 96z"/><path color="#24c2ae" d="M2541 1966l14-94 38 8-14 96z"/><path color="#02b7cb" d="M2527 2057l14-91 38 10-15 92z"/><path color="#1da8e0" d="M2512 2142l15-85 37 11-14 87z"/><path color="#2796eb" d="M2498 2222l14-80 38 13-14 80z"/><path color="#2e84f8" d="M2483 2294l15-72 38 13-15 74z"/><path color="#3c72ff" d="M2469 2359l14-65 38 15-14 66z"/><path color="#4562fc" d="M2454 2417l15-58 38 16-15 58z"/><path color="#4855f6" d="M2440 2467l14-50 38 16-14 51z"/><path color="#484aed" d="M2425 2510l15-43 38 17-15 44z"/><path color="#4740e4" d="M2411 2547l14-37 38 18-14 37z"/><path color="#4639da" d="M2396 2579l15-32 38 18-15 32z"/><path color="#4434cf" d="M2382 2605l14-26 38 18-14 27z"/><path color="#4331c6" d="M2368 2628l14-23 38 19-15 22z"/><path color="#422ebe" d="M2353 2647l15-19 37 18-14 20z"/><path color="#412cb9" d="M2339 2663l14-16 38 19-14 16z"/><path color="#402ab4" d="M2324 2677l15-14 38 19-15 14z"/><path color="#3f29b1" d="M2310 2689l14-12 38 19-14 13z"/><path color="#3f28ae" d="M2295 2700l15-11 38 20-15 11z"/><path color="#3f27ad" d="M2281 2710l14-10 38 20-14 10z"/><path color="#3e27ab" d="M2266 2719l15-9 38 20-15 9z"/><path color="#3e27aa" d="M2252 2728l14-9 38 20-14 9z"/><path color="#3e27aa" d="M2237 2736l15-8 38 20-15 8z"/><path color="#3e27a9" d="M2223 2744l14-8 38 20-14 8z"/><path color="#3e26a9" d="M2208 2752l15-8 38 20-15 8z"/><path color="#3e26a9" d="M2194 2760l14-8 38 20-14 8z"/></g>
<path d="M124.5 101.2L124.5 227.2M124.5 227.2L223.2 278L321.5 227.1M124.5 227.2l-2.9 1.5M173.8 252.6l-2.9 1.5M223.2 278l-2.9 1.5M223.2 278l2.9 1.5M272.4 252.6l2.9 1.5M321.5 227.1l2.9 1.5M124.5 227.2l-2.9 -1.5M124.5 146.2l-2.9 -1.5" stroke="#262626" stroke-width="1" fill="none"/>
<path d="M544.6 227.1L643.2 176.2M643.2 176.2L643.2 50M593.9 252.6L692.6 201.7M692.6 201.7L692.6 75.5M643.2 278L741.9 227.1M741.9 227.1L741.9 100.9M544.6 227.1L643.2 278M544.6 227.1L544.6 100.9M593.9 201.6L692.6 252.6M593.9 201.6L593.9 75.4M643.2 176.2L741.9 227.1M643.2 176.2L643.2 50M544.6 191.5L643.2 140.6M643.2 140.6L741.9 191.5M544.6 146.2L643.2 95.3M643.2 95.3L741.9 146.2M544.6 100.9L643.2 50M643.2 50L741.9 100.9" stroke="#dcdcdc" stroke-width="1" fill="none"/>
<g transform="scale(.1)" fill="currentColor" stroke="currentColor" stroke-width="8" stroke-linejoin="round"><path color="#f7f51b" d="M6418 534l14-34 38 29-14 33z"/><path color="#f5ed22" d="M6403 569l15-35 38 28-15 34z"/><path color="#f5e427" d="M6389 605l14-36 38 27-14 35z"/><path color="#f7db2b" d="M6374 643l15-38 38 26-15 37z"/><path color="#fcd12f" d="M6360 683l14-40 38 25-14 39z"/><path color="#fec735" d="M6345 724l15-41 38 24-15 40z"/><path color="#febd3d" d="M6331 767l14-43 38 23-14 41z"/><path color="#f0ba36" d="M6316 811l15-44 38 21-15 44z"/><path color="#debc29" d="M6302 857l14-46 38 21-14 44z"/><path color="#c9c129" d="M6287 904l15-47 38 19-15 47z"/><path color="#aec637" d="M6273 953l14-49 38 19-14 48z"/><path color="#91ca4c" d="M6258 1003l15-50 38 18-15 49z"/><path color="#71cd65" d="M6244 1055l14-52 38 17-14 52z"/><path color="#53cc7e" d="M6229 1109l15-54 38 17-15 52z"/><path color="#39c994" d="M6215 1163l14-54 38 15-14 54z"/><path color="#2cc3a7" d="M6200 1219l15-56 38 15-15 55z"/><path color="#12beb9" d="M6186 1275l14-56 38 14-14 55z"/><path color="#01b8ca" d="M6171 1332l15-57 38 13-15 57z"/><path color="#15b0d8" d="M6157 1389l14-57 38 13-14 57z"/><path color="#20a5e2" d="M6142 1446l15-57 38 13-15 57z"/><path color="#2699e9" d="M6128 1503l14-57 38 13-14 57z"/><path color="#2d8df2" d="M6113 1559l15-56 38 13-15 56z"/><path color="#2f7ffb" d="M6099 1614l14-55 38 13-14 55z"/><path color="#3d71ff" d="M6084 1667l15-53 38 13-15 53z"/><path color="#4563fd" d="M6070 1718l14-51 38 13-14 51z"/><path color="#4757f7" d="M6055 1767l15-49 38 13-15 49z"/><path color="#484cf0" d="M6041 1812l14-45 38 13-14 45z"/><path color="#4742e6" d="M6026 1853l15-41 38 13-15 42z"/><path color="#4639da" d="M6012 1890l14-37 38 14-14 37z"/><path color="#4433cc" d="M5997 1923l15-33 38 14-15 33z"/><path color="#422ebf" d="M5983 1950l14-27 38 14-14 27z"/><path color="#402ab5" d="M5968 1972l15-22 38 14-15 22z"/><path color="#3f28af" d="M5954 1988l14-16 38 14-14 17z"/><path color="#3e27ab" d="M5939 1998l15-10 38 15-15 10z"/><path color="#3e27ab" d="M5925 2003l14-5 38 15-14 5z"/><path color="#3f28af" d="M5910 2002l15 1 38 15-15-2z"/><path color="#402ab5" d="M5896 1995l14 7 38 14-14-7z"/><path color="#422ebf" d="M5881 1982l15 13 38 14-15-12z"/><path color="#4433cc" d="M5867 1965l14 17 38 15-14-18z"/><path color="#4639da" d="M5852 1943l15 22 38 14-15-22z"/><path color="#4742e6" d="M5838 1917l14 26 38 14-14-27z"/><path color="#484cf0" d="M5823 1887l15 30 38 13-15-30z"/><path color="#4757f7" d="M5809 1853l14 34 38 13-14-34z"/><path color="#4563fd" d="M5794 1817l15 36 38 13-15-36z"/><path color="#3d71ff" d="M5780 1779l14 38 38 13-14-39z"/><path color="#2f7ffb" d="M5765 1739l15 40 38 12-15-40z"/><path color="#2d8df2" d="M5751 1698l14 41 38 12-14-41z"/><path color="#2699e9" d="M5736 1656l15 42 38 12-15-41z"/><path color="#20a5e2" d="M5722 1614l14 42 38 13-14-43z"/><path color="#15b0d8" d="M5707 1571l15 43 38 12-15-41z"/><path color="#01b8ca" d="M5693 1529l14 42 38 14-14-42z"/><path color="#12beb9" d="M5678 1488l15 41 38 14-15-41z"/><path color="#2cc3a7" d="M5664 1447l14 41 38 14-14-40z"/><path color="#39c994" d="M5649 1408l15 39 38 15-15-39z"/><path color="#53cc7e" d="M5635 1370l14 38 38 15-14-37z"/><path color="#71cd65" d="M5620 1333l15 37 38 16-15-36z"/><path color="#91ca4c" d="M5606 1297l14 36 38 17-14-35z"/><path color="#aec637" d="M5591 1263l15 34 38 18-15-33z"/><path color="#c9c129" d="M5577 1231l14 32 38 19-14-31z"/><path color="#debc29" d="M5562 1200l15 31 38 20-15-30z"/><path color="#f0ba36" d="M5548 1171l14 29 38 21-15-29z"/><path color="#febd3d" d="M5533 1143l15 28 37 21-14-26z"/><path color="#fec735" d="M5519 1117l14 26 38 23-15-25z"/><path color="#fcd12f" d="M5504 1092l15 25 37 24-14-24z"/><path color="#f7db2b" d="M5490 1069l14 23 38 25-15-22z"/><path color="#f5e427" d="M5475 1048l15 21 37 26-14-20z"/><path color="#f5ed22" d="M5461 1028l14 20 38 27-15-19z"/><path color="#f7f51b" d="M5446 1009l15 19 37 28-14-18z"/><path color="#f6f21e" d="M6456 562l14-33 38 29-14 32z"/><path color="#f5eb23" d="M6441 596l15-34 38 28-15 33z"/><path color="#f5e227" d="M6427 631l14-35 38 27-14 34z"/><path color="#f8d92b" d="M6412 668l15-37 38 26-15 36z"/><path color="#fccf30" d="M6398 707l14-39 38 25-14 38z"/><path color="#fec636" d="M6383 747l15-40 38 24-15 39z"/><path color="#fdbc3e" d="M6369 788l14-41 38 23-14 40z"/><path color="#f0ba36" d="M6354 832l15-44 38 22-15 42z"/><path color="#debc29" d="M6340 876l14-44 38 20-14 44z"/><path color="#c9c129" d="M6325 923l15-47 38 20-15 46z"/><path color="#afc636" d="M6311 971l14-48 38 19-14 47z"/><path color="#92ca4b" d="M6296 1020l15-49 38 18-15 49z"/><path color="#73cd63" d="M6282 1072l14-52 38 18-14 50z"/><path color="#55cc7c" d="M6267 1124l15-52 38 16-15 52z"/><path color="#3bc992" d="M6253 1178l14-54 38 16-14 53z"/><path color="#2dc4a6" d="M6238 1233l15-55 38 15-15 54z"/><path color="#16bfb7" d="M6224 1288l14-55 38 14-14 55z"/><path color="#00b9c8" d="M6209 1345l15-57 38 14-15 56z"/><path color="#13b1d7" d="M6195 1402l14-57 38 13-14 57z"/><path color="#1ea6e1" d="M6180 1459l15-57 38 13-15 57z"/><path color="#259be8" d="M6166 1516l14-57 38 13-14 56z"/><path color="#2d8ef1" d="M6151 1572l15-56 38 12-15 56z"/><path color="#2f81fa" d="M6137 1627l14-55 38 12-14 55z"/><path color="#3b73ff" d="M6122 1680l15-53 38 12-15 54z"/><path color="#4465fd" d="M6108 1731l14-51 38 13-14 51z"/><path color="#4759f8" d="M6093 1780l15-49 38 13-15 49z"/><path color="#484ef1" d="M6079 1825l14-45 38 13-14 46z"/><path color="#4743e8" d="M6064 1867l15-42 38 14-15 42z"/><path color="#463adc" d="M6050 1904l14-37 38 14-14 37z"/><path color="#4434cf" d="M6035 1937l15-33 38 14-15 33z"/><path color="#422fc2" d="M6021 1964l14-27 38 14-14 28z"/><path color="#402bb8" d="M6006 1986l15-22 38 15-15 22z"/><path color="#3f29b1" d="M5992 2003l14-17 38 15-14 17z"/><path color="#3f28ae" d="M5977 2013l15-10 38 15-15 10z"/><path color="#3f28ae" d="M5963 2018l14-5 38 15-14 5z"/><path color="#3f29b1" d="M5948 2016l15 2 38 15-15-2z"/><path color="#402bb8" d="M5934 2009l14 7 38 15-14-7z"/><path color="#422fc2" d="M5919 1997l15 12 38 15-15-13z"/><path color="#4434cf" d="M5905 1979l14 18 38 14-14-18z"/><path color="#463adc" d="M5890 1957l15 22 38 14-15-23z"/><path color="#4743e8" d="M5876 1930l14 27 38 13-14-27z"/><path color="#484ef1" d="M5861 1900l15 30 38 13-15-30z"/><path color="#4759f8" d="M5847 1866l14 34 38 13-14-34z"/><path color="#4465fd" d="M5832 1830l15 36 38 13-15-37z"/><path color="#3b73ff" d="M5818 1791l14 39 38 12-14-38z"/><path color="#2f81fa" d="M5803 1751l15 40 38 13-15-40z"/><path color="#2d8ef1" d="M5789 1710l14 41 38 13-14-41z"/><path color="#259be8" d="M5774 1669l15 41 38 13-15-42z"/><path color="#1ea6e1" d="M5760 1626l14 43 38 12-14-42z"/><path color="#13b1d7" d="M5745 1585l15 41 38 13-15-41z"/><path color="#00b9c8" d="M5731 1543l14 42 38 13-14-41z"/><path color="#16bfb7" d="M5716 1502l15 41 38 14-15-41z"/><path color="#2dc4a6" d="M5702 1462l14 40 38 14-15-39z"/><path color="#3bc992" d="M5687 1423l15 39 37 15-14-38z"/><path color="#55cc7c" d="M5673 1386l14 37 38 16-15-37z"/><path color="#73cd63" d="M5658 1350l15 36 37 16-14-35z"/><path color="#92ca4b" d="M5644 1315l14 35 38 17-15-34z"/><path color="#afc636" d="M5629 1282l15 33 37 18-14-32z"/><path color="#c9c129" d="M5615 1251l14 31 38 19-15-30z"/><path color="#debc29" d="M5600 1221l15 30 37 20-14-29z"/><path color="#f0ba36" d="M5585 1192l15 29 38 21-15-28z"/><path color="#fdbc3e" d="M5571 1166l14 26 38 22-14-25z"/><path color="#fec636" d="M5556 1141l15 25 38 23-15-24z"/><path color="#fccf30" d="M5542 1117l14 24 38 24-14-23z"/><path color="#f8d92b" d="M5527 1095l15 22 38 25-15-21z"/><path color="#f5e227" d="M5513 1075l14 20 38 26-14-19z"/><path color="#f5eb23" d="M5498 1056l15 19 38 27-15-18z"/><path color="#f6f21e" d="M5484 1038l14 18 38 28-14-17z"/><path color="#f6f020" d="M6494 590l14-32 38 29-14 30z"/><path color="#f5e825" d="M6479 623l15-33 38 27-15 33z"/><path color="#f6e028" d="M6465 657l14-34 38 27-14 33z"/><path color="#f9d72c" d="M6450 693l15-36 38 26-15 35z"/><path color="#fdce31" d="M6436 731l14-38 38 25-14 37z"/><path color="#fec437" d="M6421 770l15-39 38 24-15 38z"/><path color="#fcbc3e" d="M6407 810l14-40 38 23-14 39z"/><path color="#efba35" d="M6392 852l15-42 38 22-15 42z"/><path color="#debd29" d="M6378 896l14-44 38 22-14 43z"/><path color="#c9c129" d="M6363 942l15-46 38 21-15 44z"/><path color="#b0c636" d="M6349 989l14-47 38 19-14 46z"/><path color="#94ca4a" d="M6334 1038l15-49 38 18-15 48z"/><path color="#75cc61" d="M6320 1088l14-50 38 17-14 50z"/><path color="#57cc7a" d="M6305 1140l15-52 38 17-15 51z"/><path color="#3dca90" d="M6291 1193l14-53 38 16-14 52z"/><path color="#2fc5a4" d="M6276 1247l15-54 38 15-15 54z"/><path color="#1abfb5" d="M6262 1302l14-55 38 15-14 54z"/><path color="#00bac6" d="M6247 1358l15-56 38 14-15 56z"/><path color="#10b2d5" d="M6233 1415l14-57 38 14-14 56z"/><path color="#1da8e0" d="M6218 1472l15-57 38 13-15 57z"/><path color="#259ce7" d="M6204 1528l14-56 38 13-14 56z"/><path color="#2c90ef" d="M6189 1584l15-56 38 13-15 56z"/><path color="#2e83f9" d="M6175 1639l14-55 38 13-14 55z"/><path color="#3875fe" d="M6160 1693l15-54 38 13-15 54z"/><path color="#4367fd" d="M6146 1744l14-51 38 13-14 51z"/><path color="#475bf9" d="M6131 1793l15-49 38 13-15 49z"/><path color="#4850f2" d="M6117 1839l14-46 38 13-14 46z"/><path color="#4745e9" d="M6102 1881l15-42 38 13-15 42z"/><path color="#463cde" d="M6088 1918l14-37 38 13-14 38z"/><path color="#4535d2" d="M6073 1951l15-33 38 14-15 33z"/><path color="#4330c5" d="M6059 1979l14-28 38 14-14 28z"/><path color="#412dbb" d="M6044 2001l15-22 38 14-15 23z"/><path color="#402ab4" d="M6030 2018l14-17 38 15-14 16z"/><path color="#3f29b1" d="M6015 2028l15-10 38 14-15 11z"/><path color="#3f29b1" d="M6001 2033l14-5 38 15-14 4z"/><path color="#402ab4" d="M5986 2031l15 2 38 14-15-1z"/><path color="#412dbb" d="M5972 2024l14 7 38 15-14-8z"/><path color="#4330c5" d="M5957 2011l15 13 38 14-15-13z"/><path color="#4535d2" d="M5943 1993l14 18 38 14-14-18z"/><path color="#463cde" d="M5928 1970l15 23 38 14-15-23z"/><path color="#4745e9" d="M5914 1943l14 27 38 14-14-27z"/><path color="#4850f2" d="M5899 1913l15 30 38 14-15-31z"/><path color="#475bf9" d="M5885 1879l14 34 38 13-14-34z"/><path color="#4367fd" d="M5870 1842l15 37 38 13-15-37z"/><path color="#3875fe" d="M5856 1804l14 38 38 13-15-38z"/><path color="#2e83f9" d="M5841 1764l15 40 37 13-14-40z"/><path color="#2c90ef" d="M5827 1723l14 41 38 13-15-41z"/><path color="#259ce7" d="M5812 1681l15 42 37 13-14-42z"/><path color="#1da8e0" d="M5798 1639l14 42 38 13-15-41z"/><path color="#10b2d5" d="M5783 1598l15 41 37 14-14-42z"/><path color="#00bac6" d="M5769 1557l14 41 38 13-15-40z"/><path color="#1abfb5" d="M5754 1516l15 41 37 14-14-40z"/><path color="#2fc5a4" d="M5739 1477l15 39 38 15-15-39z"/><path color="#3dca90" d="M5725 1439l14 38 38 15-14-37z"/><path color="#57cc7a" d="M5710 1402l15 37 38 16-15-36z"/><path color="#75cc61" d="M5696 1367l14 35 38 17-14-34z"/><path color="#94ca4a" d="M5681 1333l15 34 38 18-15-33z"/><path color="#b0c636" d="M5667 1301l14 32 38 19-14-32z"/><path color="#c9c129" d="M5652 1271l15 30 38 19-15-29z"/><path color="#debd29" d="M5638 1242l14 29 38 20-14-28z"/><path color="#efba35" d="M5623 1214l15 28 38 21-15-26z"/><path color="#fcbc3e" d="M5609 1189l14 25 38 23-14-25z"/><path color="#fec437" d="M5594 1165l15 24 38 23-15-23z"/><path color="#fdce31" d="M5580 1142l14 23 38 24-14-22z"/><path color="#f9d72c" d="M5565 1121l15 21 38 25-15-20z"/><path color="#f6e028" d="M5551 1102l14 19 38 26-14-18z"/><path color="#f5e825" d="M5536 1084l15 18 38 27-15-17z"/><path color="#f6f020" d="M5522 1067l14 17 38 28-14-16z"/><path color="#f5ed22" d="M6532 617l14-30 38 29-14 29z"/><path color="#f5e626" d="M6517 650l15-33 38 28-15 32z"/><path color="#f6de29" d="M6503 683l14-33 38 27-14 32z"/><path color="#fad52d" d="M6488 718l15-35 38 26-15 34z"/><path color="#fdcc32" d="M6474 755l14-37 38 25-14 36z"/><path color="#fec338" d="M6459 793l15-38 38 24-15 37z"/><path color="#fbbb3e" d="M6445 832l14-39 38 23-14 39z"/><path color="#eeba34" d="M6430 874l15-42 38 23-15 40z"/><path color="#ddbd29" d="M6416 917l14-43 38 21-14 42z"/><path color="#c8c129" d="M6401 961l15-44 38 20-15 44z"/><path color="#b0c636" d="M6387 1007l14-46 38 20-14 45z"/><path color="#95ca49" d="M6372 1055l15-48 38 19-15 47z"/><path color="#76cc60" d="M6358 1105l14-50 38 18-14 49z"/><path color="#59cc78" d="M6343 1156l15-51 38 17-15 50z"/><path color="#3fca8e" d="M6329 1208l14-52 38 16-14 51z"/><path color="#30c5a2" d="M6314 1262l15-54 38 15-15 53z"/><path color="#1dc0b3" d="M6300 1316l14-54 38 14-14 54z"/><path color="#01bac4" d="M6285 1372l15-56 38 14-15 56z"/><path color="#0db3d3" d="M6271 1428l14-56 38 14-14 55z"/><path color="#1ca9df" d="M6256 1485l15-57 38 13-15 57z"/><path color="#249ee6" d="M6242 1541l14-56 38 13-14 56z"/><path color="#2b92ee" d="M6227 1597l15-56 38 13-15 56z"/><path color="#2e85f8" d="M6213 1652l14-55 38 13-14 55z"/><path color="#3677fe" d="M6198 1706l15-54 38 13-15 53z"/><path color="#4269fe" d="M6184 1757l14-51 38 12-14 52z"/><path color="#475dfa" d="M6169 1806l15-49 38 13-15 49z"/><path color="#4851f4" d="M6155 1852l14-46 38 13-14 46z"/><path color="#4747eb" d="M6140 1894l15-42 38 13-15 43z"/><path color="#463ee1" d="M6126 1932l14-38 38 14-14 38z"/><path color="#4536d4" d="M6111 1965l15-33 38 14-15 34z"/><path color="#4331c8" d="M6097 1993l14-28 38 15-14 28z"/><path color="#412ebe" d="M6082 2016l15-23 38 15-15 23z"/><path color="#402bb7" d="M6068 2032l14-16 38 15-14 16z"/><path color="#402ab3" d="M6053 2043l15-11 38 15-15 11z"/><path color="#402ab3" d="M6039 2047l14-4 38 15-14 4z"/><path color="#402bb7" d="M6024 2046l15 1 38 15-15-1z"/><path color="#412ebe" d="M6010 2038l14 8 38 15-15-8z"/><path color="#4331c8" d="M5995 2025l15 13 37 15-14-13z"/><path color="#4536d4" d="M5981 2007l14 18 38 15-15-19z"/><path color="#463ee1" d="M5966 1984l15 23 37 14-14-23z"/><path color="#4747eb" d="M5952 1957l14 27 38 14-15-28z"/><path color="#4851f4" d="M5937 1926l15 31 37 13-14-31z"/><path color="#475dfa" d="M5923 1892l14 34 38 13-15-34z"/><path color="#4269fe" d="M5908 1855l15 37 37 13-14-37z"/><path color="#3677fe" d="M5893 1817l15 38 38 13-15-39z"/><path color="#2e85f8" d="M5879 1777l14 40 38 12-14-40z"/><path color="#2b92ee" d="M5864 1736l15 41 38 12-15-41z"/><path color="#249ee6" d="M5850 1694l14 42 38 12-14-41z"/><path color="#1ca9df" d="M5835 1653l15 41 38 13-15-41z"/><path color="#0db3d3" d="M5821 1611l14 42 38 13-14-41z"/><path color="#01bac4" d="M5806 1571l15 40 38 14-15-40z"/><path color="#1dc0b3" d="M5792 1531l14 40 38 14-14-39z"/><path color="#30c5a2" d="M5777 1492l15 39 38 15-15-38z"/><path color="#3fca8e" d="M5763 1455l14 37 38 16-14-37z"/><path color="#59cc78" d="M5748 1419l15 36 38 16-15-35z"/><path color="#76cc60" d="M5734 1385l14 34 38 17-14-34z"/><path color="#95ca49" d="M5719 1352l15 33 38 17-15-32z"/><path color="#b0c636" d="M5705 1320l14 32 38 18-14-30z"/><path color="#c8c129" d="M5690 1291l15 29 38 20-15-29z"/><path color="#ddbd29" d="M5676 1263l14 28 38 20-14-27z"/><path color="#eeba34" d="M5661 1237l15 26 38 21-15-25z"/><path color="#fbbb3e" d="M5647 1212l14 25 38 22-14-24z"/><path color="#fec338" d="M5632 1189l15 23 38 23-15-22z"/><path color="#fdcc32" d="M5618 1167l14 22 38 24-14-21z"/><path color="#fad52d" d="M5603 1147l15 20 38 25-15-19z"/><path color="#f6de29" d="M5589 1129l14 18 38 26-14-17z"/><path color="#f5e626" d="M5574 1112l15 17 38 27-15-16z"/><path color="#f5ed22" d="M5560 1096l14 16 38 28-14-15z"/><path color="#f5ea24" d="M6570 645l14-29 38 29-14 29z"/><path color="#f5e327" d="M6555 677l15-32 38 29-15 30z"/><path color="#f7db2a" d="M6541 709l14-32 38 27-14 32z"/><path color="#fbd32e" d="M6526 743l15-34 38 27-15 33z"/><path color="#fecb33" d="M6512 779l14-36 38 26-14 34z"/><path color="#fec239" d="M6497 816l15-37 38 24-15 36z"/><path color="#fabb3e" d="M6483 855l14-39 38 23-14 38z"/><path color="#edba33" d="M6468 895l15-40 38 22-15 39z"/><path color="#dcbd29" d="M6454 937l14-42 38 21-14 42z"/><path color="#c8c129" d="M6439 981l15-44 38 21-15 42z"/><path color="#b1c636" d="M6425 1026l14-45 38 19-14 45z"/><path color="#96ca49" d="M6410 1073l15-47 38 19-15 46z"/><path color="#78cc5f" d="M6396 1122l14-49 38 18-14 48z"/><path color="#5bcc76" d="M6381 1172l15-50 38 17-15 49z"/><path color="#41ca8c" d="M6367 1223l14-51 38 16-14 51z"/><path color="#31c6a0" d="M6352 1276l15-53 38 16-15 52z"/><path color="#20c1b1" d="M6338 1330l14-54 38 15-14 54z"/><path color="#03bbc2" d="M6323 1386l15-56 38 15-15 55z"/><path color="#0ab4d1" d="M6309 1441l14-55 38 14-14 55z"/><path color="#1babde" d="M6294 1498l15-57 38 14-15 56z"/><path color="#23a0e5" d="M6280 1554l14-56 38 13-14 56z"/><path color="#2994ed" d="M6265 1610l15-56 38 13-15 56z"/><path color="#2e87f7" d="M6251 1665l14-55 38 13-14 55z"/><path color="#347afd" d="M6236 1718l15-53 38 13-15 53z"/><path color="#416bfe" d="M6222 1770l14-52 38 13-14 52z"/><path color="#465ffb" d="M6207 1819l15-49 38 13-15 50z"/><path color="#4853f5" d="M6193 1865l14-46 38 14-14 46z"/><path color="#4849ed" d="M6178 1908l15-43 38 14-15 43z"/><path color="#473fe3" d="M6164 1946l14-38 38 14-15 38z"/><path color="#4538d7" d="M6149 1980l15-34 37 14-14 34z"/><path color="#4332cb" d="M6135 2008l14-28 38 14-15 29z"/><path color="#422fc0" d="M6120 2031l15-23 37 15-14 22z"/><path color="#412cba" d="M6106 2047l14-16 38 14-15 17z"/><path color="#402bb6" d="M6091 2058l15-11 37 15-14 11z"/><path color="#402bb6" d="M6077 2062l14-4 38 15-15 4z"/><path color="#412cba" d="M6062 2061l15 1 37 15-14-2z"/><path color="#422fc0" d="M6047 2053l15 8 38 14-15-8z"/><path color="#4332cb" d="M6033 2040l14 13 38 14-14-13z"/><path color="#4538d7" d="M6018 2021l15 19 38 14-15-19z"/><path color="#473fe3" d="M6004 1998l14 23 38 14-14-23z"/><path color="#4849ed" d="M5989 1970l15 28 38 14-15-28z"/><path color="#4853f5" d="M5975 1939l14 31 38 14-14-32z"/><path color="#465ffb" d="M5960 1905l15 34 38 13-15-34z"/><path color="#416bfe" d="M5946 1868l14 37 38 13-14-37z"/><path color="#347afd" d="M5931 1829l15 39 38 13-15-39z"/><path color="#2e87f7" d="M5917 1789l14 40 38 13-14-40z"/><path color="#2994ed" d="M5902 1748l15 41 38 13-15-41z"/><path color="#23a0e5" d="M5888 1707l14 41 38 13-14-41z"/><path color="#1babde" d="M5873 1666l15 41 38 13-15-41z"/><path color="#0ab4d1" d="M5859 1625l14 41 38 13-14-40z"/><path color="#03bbc2" d="M5844 1585l15 40 38 14-15-40z"/><path color="#20c1b1" d="M5830 1546l14 39 38 14-14-38z"/><path color="#31c6a0" d="M5815 1508l15 38 38 15-15-38z"/><path color="#41ca8c" d="M5801 1471l14 37 38 15-14-36z"/><path color="#5bcc76" d="M5786 1436l15 35 38 16-15-34z"/><path color="#78cc5f" d="M5772 1402l14 34 38 17-14-33z"/><path color="#96ca49" d="M5757 1370l15 32 38 18-15-31z"/><path color="#b1c636" d="M5743 1340l14 30 38 19-14-29z"/><path color="#c8c129" d="M5728 1311l15 29 38 20-15-28z"/><path color="#dcbd29" d="M5714 1284l14 27 38 21-14-26z"/><path color="#edba33" d="M5699 1259l15 25 38 22-15-25z"/><path color="#fabb3e" d="M5685 1235l14 24 38 22-14-22z"/><path color="#fec239" d="M5670 1213l15 22 38 24-15-22z"/><path color="#fecb33" d="M5656 1192l14 21 38 24-14-19z"/><path color="#fbd32e" d="M5641 1173l15 19 38 26-15-18z"/><path color="#f7db2a" d="M5627 1156l14 17 38 27-14-17z"/><path color="#f5e327" d="M5612 1140l15 16 38 27-15-15z"/><path color="#f5ea24" d="M5598 1125l14 15 38 28-14-14z"/><path color="#f5e725" d="M6608 674l14-29 38 28-14 29z"/><path color="#f6e128" d="M6593 704l15-30 38 28-15 29z"/><path color="#f8d92b" d="M6579 736l14-32 38 27-14 31z"/><path color="#fcd12f" d="M6564 769l15-33 38 26-15 32z"/><path color="#fec934" d="M6550 803l14-34 38 25-14 34z"/><path color="#fec13a" d="M6535 839l15-36 38 25-15 35z"/><path color="#f9ba3d" d="M6521 877l14-38 38 24-14 37z"/><path color="#ecba31" d="M6506 916l15-39 38 23-15 38z"/><path color="#dbbd28" d="M6492 958l14-42 38 22-14 40z"/><path color="#c8c129" d="M6477 1000l15-42 38 20-15 42z"/><path color="#b1c635" d="M6463 1045l14-45 38 20-14 44z"/><path color="#96ca48" d="M6448 1091l15-46 38 19-15 45z"/><path color="#7acc5e" d="M6434 1139l14-48 38 18-14 47z"/><path color="#5dcd75" d="M6419 1188l15-49 38 17-15 49z"/><path color="#42ca8b" d="M6405 1239l14-51 38 17-14 50z"/><path color="#32c69e" d="M6390 1291l15-52 38 16-15 52z"/><path color="#22c1b0" d="M6376 1345l14-54 38 16-14 53z"/><path color="#05bcc0" d="M6361 1400l15-55 38 15-15 54z"/><path color="#07b5d0" d="M6347 1455l14-55 38 14-14 55z"/><path color="#1aacdd" d="M6332 1511l15-56 38 14-15 55z"/><path color="#22a1e4" d="M6318 1567l14-56 38 13-15 56z"/><path color="#2895ec" d="M6303 1623l15-56 37 13-14 56z"/><path color="#2d89f5" d="M6289 1678l14-55 38 13-15 54z"/><path color="#327cfc" d="M6274 1731l15-53 37 12-14 54z"/><path color="#406dfe" d="M6260 1783l14-52 38 13-15 52z"/><path color="#4661fc" d="M6245 1833l15-50 37 13-14 50z"/><path color="#4855f6" d="M6231 1879l14-46 38 13-15 46z"/><path color="#484aee" d="M6216 1922l15-43 37 13-14 44z"/><path color="#4741e5" d="M6201 1960l15-38 38 14-15 38z"/><path color="#4639da" d="M6187 1994l14-34 38 14-14 34z"/><path color="#4433ce" d="M6172 2023l15-29 38 14-15 29z"/><path color="#4230c3" d="M6158 2045l14-22 38 14-14 23z"/><path color="#412dbc" d="M6143 2062l15-17 38 15-15 17z"/><path color="#412cb9" d="M6129 2073l14-11 38 15-14 11z"/><path color="#412cb9" d="M6114 2077l15-4 38 15-15 4z"/><path color="#412dbc" d="M6100 2075l14 2 38 15-14-2z"/><path color="#4230c3" d="M6085 2067l15 8 38 15-15-8z"/><path color="#4433ce" d="M6071 2054l14 13 38 15-14-14z"/><path color="#4639da" d="M6056 2035l15 19 38 14-15-19z"/><path color="#4741e5" d="M6042 2012l14 23 38 14-14-24z"/><path color="#484aee" d="M6027 1984l15 28 38 13-15-28z"/><path color="#4855f6" d="M6013 1952l14 32 38 13-14-31z"/><path color="#4661fc" d="M5998 1918l15 34 38 14-15-35z"/><path color="#406dfe" d="M5984 1881l14 37 38 13-14-37z"/><path color="#327cfc" d="M5969 1842l15 39 38 13-15-39z"/><path color="#2d89f5" d="M5955 1802l14 40 38 13-14-40z"/><path color="#2895ec" d="M5940 1761l15 41 38 13-15-40z"/><path color="#22a1e4" d="M5926 1720l14 41 38 14-14-41z"/><path color="#1aacdd" d="M5911 1679l15 41 38 14-15-41z"/><path color="#07b5d0" d="M5897 1639l14 40 38 14-14-40z"/><path color="#05bcc0" d="M5882 1599l15 40 38 14-15-39z"/><path color="#22c1b0" d="M5868 1561l14 38 38 15-14-38z"/><path color="#32c69e" d="M5853 1523l15 38 38 15-15-37z"/><path color="#42ca8b" d="M5839 1487l14 36 38 16-14-35z"/><path color="#5dcd75" d="M5824 1453l15 34 38 17-15-34z"/><path color="#7acc5e" d="M5810 1420l14 33 38 17-14-32z"/><path color="#96ca48" d="M5795 1389l15 31 38 18-15-30z"/><path color="#b1c635" d="M5781 1360l14 29 38 19-14-28z"/><path color="#c8c129" d="M5766 1332l15 28 38 20-15-27z"/><path color="#dbbd28" d="M5752 1306l14 26 38 21-14-26z"/><path color="#ecba31" d="M5737 1281l15 25 38 21-15-23z"/><path color="#f9ba3d" d="M5723 1259l14 22 38 23-14-22z"/><path color="#fec13a" d="M5708 1237l15 22 38 23-15-20z"/><path color="#fec934" d="M5694 1218l14 19 38 25-14-19z"/><path color="#fcd12f" d="M5679 1200l15 18 38 25-15-17z"/><path color="#f8d92b" d="M5665 1183l14 17 38 26-14-16z"/><path color="#f6e128" d="M5650 1168l15 15 38 27-15-14z"/><path color="#f5e725" d="M5636 1154l14 14 38 28-14-14z"/><path color="#f5e526" d="M6646 702l14-29 38 29-14 28z"/><path color="#f6de29" d="M6631 731l15-29 38 28-15 28z"/><path color="#f9d72d" d="M6617 762l14-31 38 27-14 30z"/><path color="#fccf30" d="M6602 794l15-32 38 26-15 32z"/><path color="#fec735" d="M6588 828l14-34 38 26-14 32z"/><path color="#febf3b" d="M6573 863l15-35 38 24-15 35z"/><path color="#f7ba3d" d="M6559 900l14-37 38 24-14 36z"/><path color="#eaba30" d="M6544 938l15-38 38 23-15 37z"/><path color="#dabd28" d="M6530 978l14-40 38 22-14 39z"/><path color="#c7c129" d="M6515 1020l15-42 38 21-15 41z"/><path color="#b1c635" d="M6501 1064l14-44 38 20-14 43z"/><path color="#97ca48" d="M6486 1109l15-45 38 19-15 44z"/><path color="#7bcc5d" d="M6472 1156l14-47 38 18-14 47z"/><path color="#5ecd74" d="M6457 1205l15-49 38 18-15 47z"/><path color="#44cb89" d="M6443 1255l14-50 38 16-15 50z"/><path color="#33c79d" d="M6428 1307l15-52 37 16-14 51z"/><path color="#25c2ae" d="M6414 1360l14-53 38 15-15 52z"/><path color="#08bcbe" d="M6399 1414l15-54 37 14-14 54z"/><path color="#04b6ce" d="M6385 1469l14-55 38 14-15 54z"/><path color="#18addb" d="M6370 1524l15-55 37 13-14 56z"/><path color="#21a3e4" d="M6355 1580l15-56 38 14-15 55z"/><path color="#2797eb" d="M6341 1636l14-56 38 13-14 56z"/><path color="#2d8bf4" d="M6326 1690l15-54 38 13-15 54z"/><path color="#307efc" d="M6312 1744l14-54 38 13-14 54z"/><path color="#3e6fff" d="M6297 1796l15-52 38 13-15 52z"/><path color="#4562fc" d="M6283 1846l14-50 38 13-14 50z"/><path color="#4757f7" d="M6268 1892l15-46 38 13-15 47z"/><path color="#484cf0" d="M6254 1936l14-44 38 14-14 43z"/><path color="#4742e7" d="M6239 1974l15-38 38 13-15 39z"/><path color="#463adc" d="M6225 2008l14-34 38 14-14 35z"/><path color="#4435d0" d="M6210 2037l15-29 38 15-15 29z"/><path color="#4331c6" d="M6196 2060l14-23 38 15-14 23z"/><path color="#422ebf" d="M6181 2077l15-17 38 15-15 17z"/><path color="#412dbb" d="M6167 2088l14-11 38 15-14 10z"/><path color="#412dbb" d="M6152 2092l15-4 38 14-15 5z"/><path color="#422ebf" d="M6138 2090l14 2 38 15-14-2z"/><path color="#4331c6" d="M6123 2082l15 8 38 15-15-8z"/><path color="#4435d0" d="M6109 2068l14 14 38 15-14-14z"/><path color="#463adc" d="M6094 2049l15 19 38 15-15-20z"/><path color="#4742e7" d="M6080 2025l14 24 38 14-14-24z"/><path color="#484cf0" d="M6065 1997l15 28 38 14-15-28z"/><path color="#4757f7" d="M6051 1966l14 31 38 14-14-32z"/><path color="#4562fc" d="M6036 1931l15 35 38 13-15-35z"/><path color="#3e6fff" d="M6022 1894l14 37 38 13-14-37z"/><path color="#307efc" d="M6007 1855l15 39 38 13-15-39z"/><path color="#2d8bf4" d="M5993 1815l14 40 38 13-14-40z"/><path color="#2797eb" d="M5978 1775l15 40 38 13-15-40z"/><path color="#21a3e4" d="M5964 1734l14 41 38 13-14-41z"/><path color="#18addb" d="M5949 1693l15 41 38 13-15-40z"/><path color="#04b6ce" d="M5935 1653l14 40 38 14-14-40z"/><path color="#08bcbe" d="M5920 1614l15 39 38 14-15-38z"/><path color="#25c2ae" d="M5906 1576l14 38 38 15-14-38z"/><path color="#33c79d" d="M5891 1539l15 37 38 15-15-36z"/><path color="#44cb89" d="M5877 1504l14 35 38 16-14-34z"/><path color="#5ecd74" d="M5862 1470l15 34 38 17-15-33z"/><path color="#7bcc5d" d="M5848 1438l14 32 38 18-14-31z"/><path color="#97ca48" d="M5833 1408l15 30 38 19-15-30z"/><path color="#b1c635" d="M5819 1380l14 28 38 19-14-27z"/><path color="#c7c129" d="M5804 1353l15 27 38 20-15-26z"/><path color="#dabd28" d="M5790 1327l14 26 38 21-14-25z"/><path color="#eaba30" d="M5775 1304l15 23 38 22-15-22z"/><path color="#f7ba3d" d="M5761 1282l14 22 38 23-14-21z"/><path color="#febf3b" d="M5746 1262l15 20 38 24-15-19z"/><path color="#fec735" d="M5732 1243l14 19 38 25-14-18z"/><path color="#fccf30" d="M5717 1226l15 17 38 26-15-17z"/><path color="#f9d72d" d="M5703 1210l14 16 38 26-14-15z"/><path color="#f6de29" d="M5688 1196l15 14 38 27-15-13z"/><path color="#f5e526" d="M5674 1182l14 14 38 28-14-13z"/><path color="#f5e228" d="M6684 730l14-28 38 29-14 27z"/><path color="#f7db2a" d="M6669 758l15-28 38 28-15 28z"/><path color="#fad42e" d="M6655 788l14-30 38 28-14 29z"/><path color="#fdcd31" d="M6640 820l15-32 38 27-15 30z"/><path color="#fec636" d="M6626 852l14-32 38 25-14 32z"/><path color="#febe3c" d="M6611 887l15-35 38 25-15 34z"/><path color="#f6ba3b" d="M6597 923l14-36 38 24-15 35z"/><path color="#e9bb2f" d="M6582 960l15-37 37 23-14 36z"/><path color="#d9bd28" d="M6568 999l14-39 38 22-15 39z"/><path color="#c6c229" d="M6553 1040l15-41 37 22-14 40z"/><path color="#b1c636" d="M6539 1083l14-43 38 21-15 42z"/><path color="#97ca47" d="M6524 1127l15-44 37 20-14 43z"/><path color="#7ccc5c" d="M6510 1174l14-47 38 19-15 45z"/><path color="#60cd72" d="M6495 1221l15-47 37 17-14 48z"/><path color="#46cb88" d="M6480 1271l15-50 38 18-15 48z"/><path color="#34c79b" d="M6466 1322l14-51 38 16-14 51z"/><path color="#26c2ac" d="M6451 1374l15-52 38 16-15 51z"/><path color="#0bbdbd" d="M6437 1428l14-54 38 15-14 53z"/><path color="#02b7cc" d="M6422 1482l15-54 38 14-15 54z"/><path color="#17aeda" d="M6408 1538l14-56 38 14-14 55z"/><path color="#20a4e3" d="M6393 1593l15-55 38 13-15 56z"/><path color="#2699e9" d="M6379 1649l14-56 38 14-14 55z"/><path color="#2d8cf3" d="M6364 1703l15-54 38 13-15 55z"/><path color="#2f80fb" d="M6350 1757l14-54 38 14-14 53z"/><path color="#3c71ff" d="M6335 1809l15-52 38 13-15 53z"/><path color="#4464fd" d="M6321 1859l14-50 38 14-14 49z"/><path color="#4758f8" d="M6306 1906l15-47 38 13-15 48z"/><path color="#484ef1" d="M6292 1949l14-43 38 14-14 43z"/><path color="#4744e8" d="M6277 1988l15-39 38 14-15 39z"/><path color="#463cde" d="M6263 2023l14-35 38 14-14 35z"/><path color="#4536d3" d="M6248 2052l15-29 38 14-15 29z"/><path color="#4332c9" d="M6234 2075l14-23 38 14-14 23z"/><path color="#422fc2" d="M6219 2092l15-17 38 14-15 18z"/><path color="#412ebe" d="M6205 2102l14-10 38 15-14 10z"/><path color="#412ebe" d="M6190 2107l15-5 38 15-15 5z"/><path color="#422fc2" d="M6176 2105l14 2 38 15-14-3z"/><path color="#4332c9" d="M6161 2097l15 8 38 14-15-8z"/><path color="#4536d3" d="M6147 2083l14 14 38 14-14-14z"/><path color="#463cde" d="M6132 2063l15 20 38 14-15-20z"/><path color="#4744e8" d="M6118 2039l14 24 38 14-14-24z"/><path color="#484ef1" d="M6103 2011l15 28 38 14-15-29z"/><path color="#4758f8" d="M6089 1979l14 32 38 13-14-32z"/><path color="#4464fd" d="M6074 1944l15 35 38 13-15-35z"/><path color="#3c71ff" d="M6060 1907l14 37 38 13-14-37z"/><path color="#2f80fb" d="M6045 1868l15 39 38 13-15-39z"/><path color="#2d8cf3" d="M6031 1828l14 40 38 13-14-40z"/><path color="#2699e9" d="M6016 1788l15 40 38 13-15-40z"/><path color="#20a4e3" d="M6002 1747l14 41 38 13-14-40z"/><path color="#17aeda" d="M5987 1707l15 40 38 14-15-40z"/><path color="#02b7cc" d="M5973 1667l14 40 38 14-14-39z"/><path color="#0bbdbd" d="M5958 1629l15 38 38 15-15-38z"/><path color="#26c2ac" d="M5944 1591l14 38 38 15-14-37z"/><path color="#34c79b" d="M5929 1555l15 36 38 16-15-35z"/><path color="#46cb88" d="M5915 1521l14 34 38 17-14-34z"/><path color="#60cd72" d="M5900 1488l15 33 38 17-15-32z"/><path color="#7ccc5c" d="M5886 1457l14 31 38 18-14-31z"/><path color="#97ca47" d="M5871 1427l15 30 38 18-15-28z"/><path color="#b1c636" d="M5857 1400l14 27 38 20-14-27z"/><path color="#c6c229" d="M5842 1374l15 26 38 20-15-25z"/><path color="#d9bd28" d="M5828 1349l14 25 38 21-14-23z"/><path color="#e9bb2f" d="M5813 1327l15 22 38 23-15-22z"/><path color="#f6ba3b" d="M5799 1306l14 21 38 23-14-20z"/><path color="#febe3c" d="M5784 1287l15 19 38 24-15-19z"/><path color="#fec636" d="M5770 1269l14 18 38 24-14-17z"/><path color="#fdcd31" d="M5755 1252l15 17 38 25-15-15z"/><path color="#fad42e" d="M5741 1237l14 15 38 27-14-14z"/><path color="#f7db2a" d="M5726 1224l15 13 38 28-15-13z"/><path color="#f5e228" d="M5712 1211l14 13 38 28-14-12z"/><path color="#f6df29" d="M6722 758l14-27 38 29-15 26z"/><path color="#f8d92c" d="M6707 786l15-28 37 28-14 27z"/><path color="#fbd22f" d="M6693 815l14-29 38 27-15 28z"/><path color="#fdcb33" d="M6678 845l15-30 37 26-14 30z"/><path color="#fec438" d="M6664 877l14-32 38 26-15 31z"/><path color="#febd3d" d="M6649 911l15-34 37 25-14 33z"/><path color="#f4ba3a" d="M6634 946l15-35 38 24-15 34z"/><path color="#e7bb2e" d="M6620 982l14-36 38 23-14 36z"/><path color="#d8be28" d="M6605 1021l15-39 38 23-15 37z"/><path color="#c6c22a" d="M6591 1061l14-40 38 21-14 39z"/><path color="#b0c636" d="M6576 1103l15-42 38 20-15 41z"/><path color="#98ca47" d="M6562 1146l14-43 38 19-14 43z"/><path color="#7dcc5b" d="M6547 1191l15-45 38 19-15 45z"/><path color="#61cd71" d="M6533 1239l14-48 38 19-14 46z"/><path color="#47cb86" d="M6518 1287l15-48 38 17-15 48z"/><path color="#35c79a" d="M6504 1338l14-51 38 17-14 49z"/><path color="#28c2ab" d="M6489 1389l15-51 38 15-15 52z"/><path color="#0ebebb" d="M6475 1442l14-53 38 16-14 52z"/><path color="#01b7ca" d="M6460 1496l15-54 38 15-15 54z"/><path color="#15b0d8" d="M6446 1551l14-55 38 15-14 54z"/><path color="#1fa5e2" d="M6431 1607l15-56 38 14-15 55z"/><path color="#269ae8" d="M6417 1662l14-55 38 13-14 55z"/><path color="#2d8ef1" d="M6402 1717l15-55 38 13-15 55z"/><path color="#2f81fa" d="M6388 1770l14-53 38 13-14 54z"/><path color="#3a73ff" d="M6373 1823l15-53 38 14-15 52z"/><path color="#4466fd" d="M6359 1872l14-49 38 13-14 50z"/><path color="#475af9" d="M6344 1920l15-48 38 14-15 47z"/><path color="#484ff2" d="M6330 1963l14-43 38 13-14 44z"/><path color="#4746ea" d="M6315 2002l15-39 38 14-15 40z"/><path color="#463de0" d="M6301 2037l14-35 38 15-14 34z"/><path color="#4537d6" d="M6286 2066l15-29 38 14-15 30z"/><path color="#4433cc" d="M6272 2089l14-23 38 15-14 23z"/><path color="#4330c4" d="M6257 2107l15-18 38 15-15 17z"/><path color="#422fc1" d="M6243 2117l14-10 38 14-14 11z"/><path color="#422fc1" d="M6228 2122l15-5 38 15-15 4z"/><path color="#4330c4" d="M6214 2119l14 3 38 14-14-2z"/><path color="#4433cc" d="M6199 2111l15 8 38 15-15-8z"/><path color="#4537d6" d="M6185 2097l14 14 38 15-14-15z"/><path color="#463de0" d="M6170 2077l15 20 38 14-15-20z"/><path color="#4746ea" d="M6156 2053l14 24 38 14-14-24z"/><path color="#484ff2" d="M6141 2024l15 29 38 14-15-29z"/><path color="#475af9" d="M6127 1992l14 32 38 14-14-32z"/><path color="#4466fd" d="M6112 1957l15 35 38 14-15-35z"/><path color="#3a73ff" d="M6098 1920l14 37 38 14-14-38z"/><path color="#2f81fa" d="M6083 1881l15 39 38 13-15-39z"/><path color="#2d8ef1" d="M6069 1841l14 40 38 13-14-39z"/><path color="#269ae8" d="M6054 1801l15 40 38 14-15-40z"/><path color="#1fa5e2" d="M6040 1761l14 40 38 14-14-40z"/><path color="#15b0d8" d="M6025 1721l15 40 38 14-15-40z"/><path color="#01b7ca" d="M6011 1682l14 39 38 14-14-38z"/><path color="#0ebebb" d="M5996 1644l15 38 38 15-15-38z"/><path color="#28c2ab" d="M5982 1607l14 37 38 15-14-36z"/><path color="#35c79a" d="M5967 1572l15 35 38 16-15-35z"/><path color="#47cb86" d="M5953 1538l14 34 38 16-14-33z"/><path color="#61cd71" d="M5938 1506l15 32 38 17-15-31z"/><path color="#7dcc5b" d="M5924 1475l14 31 38 18-14-30z"/><path color="#98ca47" d="M5909 1447l15 28 38 19-15-27z"/><path color="#b0c636" d="M5895 1420l14 27 38 20-14-26z"/><path color="#c6c22a" d="M5880 1395l15 25 38 21-15-25z"/><path color="#d8be28" d="M5866 1372l14 23 38 21-14-22z"/><path color="#e7bb2e" d="M5851 1350l15 22 38 22-15-21z"/><path color="#f4ba3a" d="M5837 1330l14 20 38 23-14-19z"/><path color="#febd3d" d="M5822 1311l15 19 38 24-15-18z"/><path color="#fec438" d="M5808 1294l14 17 38 25-14-16z"/><path color="#fdcb33" d="M5793 1279l15 15 38 26-15-15z"/><path color="#fbd22f" d="M5779 1265l14 14 38 26-15-13z"/><path color="#f8d92c" d="M5764 1252l15 13 37 27-14-12z"/><path color="#f6df29" d="M5750 1240l14 12 38 28-15-11z"/><path color="#f7dc2a" d="M6759 786l15-26 38 29-15 25z"/><path color="#fad62d" d="M6745 813l14-27 38 28-14 26z"/><path color="#fcd030" d="M6730 841l15-28 38 27-15 28z"/><path color="#fec934" d="M6716 871l14-30 38 27-14 29z"/><path color="#fec239" d="M6701 902l15-31 38 26-15 30z"/><path color="#fcbc3e" d="M6687 935l14-33 38 25-14 32z"/><path color="#f2ba38" d="M6672 969l15-34 38 24-15 33z"/><path color="#e6bb2d" d="M6658 1005l14-36 38 23-14 35z"/><path color="#d7be28" d="M6643 1042l15-37 38 22-15 37z"/><path color="#c5c22a" d="M6629 1081l14-39 38 22-14 38z"/><path color="#b0c636" d="M6614 1122l15-41 38 21-15 40z"/><path color="#98ca47" d="M6600 1165l14-43 38 20-14 42z"/><path color="#7ecc5b" d="M6585 1210l15-45 38 19-15 44z"/><path color="#62cd70" d="M6571 1256l14-46 38 18-14 45z"/><path color="#49cb85" d="M6556 1304l15-48 38 17-15 48z"/><path color="#36c898" d="M6542 1353l14-49 38 17-14 49z"/><path color="#2ac3a9" d="M6527 1405l15-52 38 17-15 50z"/><path color="#11beb9" d="M6513 1457l14-52 38 15-14 52z"/><path color="#00b8c9" d="M6498 1511l15-54 38 15-15 53z"/><path color="#13b1d7" d="M6484 1565l14-54 38 14-14 54z"/><path color="#1ea7e1" d="M6469 1620l15-55 38 14-15 55z"/><path color="#259ce7" d="M6455 1675l14-55 38 14-14 55z"/><path color="#2c90f0" d="M6440 1730l15-55 38 14-15 54z"/><path color="#2e83f9" d="M6426 1784l14-54 38 13-14 54z"/><path color="#3875fe" d="M6411 1836l15-52 38 13-15 52z"/><path color="#4368fe" d="M6397 1886l14-50 38 13-14 50z"/><path color="#475cfa" d="M6382 1933l15-47 38 13-15 48z"/><path color="#4851f3" d="M6368 1977l14-44 38 14-14 44z"/><path color="#4847eb" d="M6353 2017l15-40 38 14-15 40z"/><path color="#473fe2" d="M6339 2051l14-34 38 14-14 35z"/><path color="#4538d8" d="M6324 2081l15-30 38 15-15 29z"/><path color="#4434ce" d="M6310 2104l14-23 38 14-14 24z"/><path color="#4331c7" d="M6295 2121l15-17 38 15-15 17z"/><path color="#4230c3" d="M6281 2132l14-11 38 15-14 11z"/><path color="#4230c3" d="M6266 2136l15-4 38 15-15 4z"/><path color="#4331c7" d="M6252 2134l14 2 38 15-14-2z"/><path color="#4434ce" d="M6237 2126l15 8 38 15-15-9z"/><path color="#4538d8" d="M6223 2111l14 15 38 14-14-14z"/><path color="#473fe2" d="M6208 2091l15 20 38 15-15-20z"/><path color="#4847eb" d="M6194 2067l14 24 38 15-14-25z"/><path color="#4851f3" d="M6179 2038l15 29 38 14-15-29z"/><path color="#475cfa" d="M6165 2006l14 32 38 14-14-33z"/><path color="#4368fe" d="M6150 1971l15 35 38 13-15-35z"/><path color="#3875fe" d="M6136 1933l14 38 38 13-14-37z"/><path color="#2e83f9" d="M6121 1894l15 39 38 14-15-39z"/><path color="#2c90f0" d="M6107 1855l14 39 38 14-14-40z"/><path color="#259ce7" d="M6092 1815l15 40 38 13-15-40z"/><path color="#1ea7e1" d="M6078 1775l14 40 38 13-14-39z"/><path color="#13b1d7" d="M6063 1735l15 40 38 14-15-39z"/><path color="#00b8c9" d="M6049 1697l14 38 38 15-14-38z"/><path color="#11beb9" d="M6034 1659l15 38 38 15-15-37z"/><path color="#2ac3a9" d="M6020 1623l14 36 38 16-14-36z"/><path color="#36c898" d="M6005 1588l15 35 38 16-15-34z"/><path color="#49cb85" d="M5991 1555l14 33 38 17-14-32z"/><path color="#62cd70" d="M5976 1524l15 31 38 18-15-31z"/><path color="#7ecc5b" d="M5962 1494l14 30 38 18-14-29z"/><path color="#98ca47" d="M5947 1467l15 27 38 19-15-26z"/><path color="#b0c636" d="M5933 1441l14 26 38 20-15-26z"/><path color="#c5c22a" d="M5918 1416l15 25 37 20-14-23z"/><path color="#d7be28" d="M5904 1394l14 22 38 22-15-22z"/><path color="#e6bb2d" d="M5889 1373l15 21 37 22-14-20z"/><path color="#f2ba38" d="M5875 1354l14 19 38 23-15-18z"/><path color="#fcbc3e" d="M5860 1336l15 18 37 24-14-17z"/><path color="#fec239" d="M5846 1320l14 16 38 25-15-15z"/><path color="#fec934" d="M5831 1305l15 15 37 26-14-14z"/><path color="#fcd030" d="M5816 1292l15 13 38 27-15-13z"/><path color="#fad62d" d="M5802 1280l14 12 38 27-14-11z"/><path color="#f7dc2a" d="M5787 1269l15 11 38 28-15-10z"/><path color="#f8d92b" d="M6797 814l15-25 38 29-15 24z"/><path color="#fbd32e" d="M6783 840l14-26 38 28-14 26z"/><path color="#fdcd31" d="M6768 868l15-28 38 28-15 27z"/><path color="#fec735" d="M6754 897l14-29 38 27-14 28z"/><path color="#fec03a" d="M6739 927l15-30 38 26-15 29z"/><path color="#fbbb3e" d="M6725 959l14-32 38 25-14 31z"/><path color="#f0ba36" d="M6710 992l15-33 38 24-15 33z"/><path color="#e4bb2c" d="M6696 1027l14-35 38 24-14 34z"/><path color="#d5be27" d="M6681 1064l15-37 38 23-15 36z"/><path color="#c4c22b" d="M6667 1102l14-38 38 22-14 37z"/><path color="#afc636" d="M6652 1142l15-40 38 21-15 39z"/><path color="#98ca47" d="M6638 1184l14-42 38 20-14 41z"/><path color="#7ecc5b" d="M6623 1228l15-44 38 19-15 43z"/><path color="#63cd6f" d="M6609 1273l14-45 38 18-14 45z"/><path color="#4acb84" d="M6594 1321l15-48 38 18-15 47z"/><path color="#37c897" d="M6580 1370l14-49 38 17-14 48z"/><path color="#2bc3a8" d="M6565 1420l15-50 38 16-15 50z"/><path color="#14bfb8" d="M6551 1472l14-52 38 16-14 51z"/><path color="#00b9c7" d="M6536 1525l15-53 38 15-15 53z"/><path color="#11b2d5" d="M6522 1579l14-54 38 15-14 53z"/><path color="#1da8e0" d="M6507 1634l15-55 38 14-15 55z"/><path color="#259de6" d="M6493 1689l14-55 38 14-14 54z"/><path color="#2b91ef" d="M6478 1743l15-54 38 13-15 55z"/><path color="#2e85f8" d="M6464 1797l14-54 38 14-14 53z"/><path color="#3677fe" d="M6449 1849l15-52 38 13-15 53z"/><path color="#426afe" d="M6435 1899l14-50 38 14-14 50z"/><path color="#465efb" d="M6420 1947l15-48 38 14-15 48z"/><path color="#4853f5" d="M6406 1991l14-44 38 14-14 44z"/><path color="#4849ed" d="M6391 2031l15-40 38 14-15 40z"/><path color="#4740e4" d="M6377 2066l14-35 38 14-14 35z"/><path color="#4639da" d="M6362 2095l15-29 38 14-15 30z"/><path color="#4435d1" d="M6348 2119l14-24 38 15-14 24z"/><path color="#4332ca" d="M6333 2136l15-17 38 15-15 17z"/><path color="#4331c6" d="M6319 2147l14-11 38 15-14 11z"/><path color="#4331c6" d="M6304 2151l15-4 38 15-15 4z"/><path color="#4332ca" d="M6290 2149l14 2 38 15-14-2z"/><path color="#4435d1" d="M6275 2140l15 9 38 15-15-9z"/><path color="#4639da" d="M6261 2126l14 14 38 15-14-15z"/><path color="#4740e4" d="M6246 2106l15 20 38 14-15-20z"/><path color="#4849ed" d="M6232 2081l14 25 38 14-14-25z"/><path color="#4853f5" d="M6217 2052l15 29 38 14-15-30z"/><path color="#465efb" d="M6203 2019l14 33 38 13-14-32z"/><path color="#426afe" d="M6188 1984l15 35 38 14-15-36z"/><path color="#3677fe" d="M6174 1947l14 37 38 13-14-37z"/><path color="#2e85f8" d="M6159 1908l15 39 38 13-15-39z"/><path color="#2b91ef" d="M6145 1868l14 40 38 13-14-39z"/><path color="#259de6" d="M6130 1828l15 40 38 14-15-40z"/><path color="#1da8e0" d="M6116 1789l14 39 38 14-14-39z"/><path color="#11b2d5" d="M6101 1750l15 39 38 14-15-39z"/><path color="#00b9c7" d="M6087 1712l14 38 38 14-15-37z"/><path color="#14bfb8" d="M6072 1675l15 37 37 15-14-37z"/><path color="#2bc3a8" d="M6058 1639l14 36 38 15-15-35z"/><path color="#37c897" d="M6043 1605l15 34 37 16-14-33z"/><path color="#4acb84" d="M6029 1573l14 32 38 17-15-31z"/><path color="#63cd6f" d="M6014 1542l15 31 37 18-14-30z"/><path color="#7ecc5b" d="M6000 1513l14 29 38 19-15-28z"/><path color="#98ca47" d="M5985 1487l15 26 37 20-14-26z"/><path color="#afc636" d="M5970 1461l15 26 38 20-15-25z"/><path color="#c4c22b" d="M5956 1438l14 23 38 21-14-22z"/><path color="#d5be27" d="M5941 1416l15 22 38 22-15-21z"/><path color="#e4bb2c" d="M5927 1396l14 20 38 23-14-19z"/><path color="#f0ba36" d="M5912 1378l15 18 38 24-15-18z"/><path color="#fbbb3e" d="M5898 1361l14 17 38 24-14-16z"/><path color="#fec03a" d="M5883 1346l15 15 38 25-15-14z"/><path color="#fec735" d="M5869 1332l14 14 38 26-14-13z"/><path color="#fdcd31" d="M5854 1319l15 13 38 27-15-12z"/><path color="#fbd32e" d="M5840 1308l14 11 38 28-14-11z"/><path color="#f8d92b" d="M5825 1298l15 10 38 28-15-9z"/><path color="#f9d62d" d="M6835 842l15-24 38 29-15 24z"/><path color="#fcd130" d="M6821 868l14-26 38 29-14 24z"/><path color="#fecb33" d="M6806 895l15-27 38 27-15 26z"/><path color="#fec537" d="M6792 923l14-28 38 26-14 28z"/><path color="#febf3c" d="M6777 952l15-29 38 26-15 29z"/><path color="#f9ba3d" d="M6763 983l14-31 38 26-14 30z"/><path color="#eeba34" d="M6748 1016l15-33 38 25-15 31z"/><path color="#e2bc2b" d="M6734 1050l14-34 38 23-14 34z"/><path color="#d4bf27" d="M6719 1086l15-36 38 23-15 35z"/><path color="#c2c22b" d="M6705 1123l14-37 38 22-14 36z"/><path color="#aec637" d="M6690 1162l15-39 38 21-15 39z"/><path color="#98ca47" d="M6676 1203l14-41 38 21-14 40z"/><path color="#7fcc5a" d="M6661 1246l15-43 38 20-15 42z"/><path color="#64cd6f" d="M6647 1291l14-45 38 19-14 44z"/><path color="#4ccb83" d="M6632 1338l15-47 38 18-15 46z"/><path color="#38c896" d="M6618 1386l14-48 38 17-14 47z"/><path color="#2cc4a7" d="M6603 1436l15-50 38 16-15 50z"/><path color="#17bfb6" d="M6589 1487l14-51 38 16-14 50z"/><path color="#00bac6" d="M6574 1540l15-53 38 15-15 52z"/><path color="#0eb2d4" d="M6560 1593l14-53 38 14-14 54z"/><path color="#1ca9df" d="M6545 1648l15-55 38 15-15 54z"/><path color="#249ee6" d="M6531 1702l14-54 38 14-14 54z"/><path color="#2a93ee" d="M6516 1757l15-55 38 14-15 54z"/><path color="#2e87f7" d="M6502 1810l14-53 38 13-14 54z"/><path color="#3479fd" d="M6487 1863l15-53 38 14-15 52z"/><path color="#416cfe" d="M6473 1913l14-50 38 13-14 50z"/><path color="#465ffb" d="M6458 1961l15-48 38 13-15 48z"/><path color="#4854f6" d="M6444 2005l14-44 38 13-14 45z"/><path color="#484aee" d="M6429 2045l15-40 38 14-15 40z"/><path color="#4742e6" d="M6415 2080l14-35 38 14-14 35z"/><path color="#463bdd" d="M6400 2110l15-30 38 14-15 30z"/><path color="#4536d4" d="M6386 2134l14-24 38 14-14 24z"/><path color="#4433cd" d="M6371 2151l15-17 38 14-15 18z"/><path color="#4332c9" d="M6357 2162l14-11 38 15-14 11z"/><path color="#4332c9" d="M6342 2166l15-4 38 15-15 4z"/><path color="#4433cd" d="M6328 2164l14 2 38 15-14-3z"/><path color="#4536d4" d="M6313 2155l15 9 38 14-15-9z"/><path color="#463bdd" d="M6299 2140l14 15 38 14-14-15z"/><path color="#4742e6" d="M6284 2120l15 20 38 14-15-20z"/><path color="#484aee" d="M6270 2095l14 25 38 14-14-26z"/><path color="#4854f6" d="M6255 2065l15 30 38 13-15-29z"/><path color="#465ffb" d="M6241 2033l14 32 38 14-15-33z"/><path color="#416cfe" d="M6226 1997l15 36 37 13-14-35z"/><path color="#3479fd" d="M6212 1960l14 37 38 14-15-38z"/><path color="#2e87f7" d="M6197 1921l15 39 37 13-14-38z"/><path color="#2a93ee" d="M6183 1882l14 39 38 14-15-39z"/><path color="#249ee6" d="M6168 1842l15 40 37 14-14-40z"/><path color="#1ca9df" d="M6154 1803l14 39 38 14-15-39z"/><path color="#0eb2d4" d="M6139 1764l15 39 37 14-14-38z"/><path color="#00bac6" d="M6124 1727l15 37 38 15-15-37z"/><path color="#17bfb6" d="M6110 1690l14 37 38 15-14-36z"/><path color="#2cc4a7" d="M6095 1655l15 35 38 16-15-34z"/><path color="#38c896" d="M6081 1622l14 33 38 17-14-33z"/><path color="#4ccb83" d="M6066 1591l15 31 38 17-15-30z"/><path color="#64cd6f" d="M6052 1561l14 30 38 18-14-29z"/><path color="#7fcc5a" d="M6037 1533l15 28 38 19-15-28z"/><path color="#98ca47" d="M6023 1507l14 26 38 19-14-25z"/><path color="#aec637" d="M6008 1482l15 25 38 20-15-23z"/><path color="#c2c22b" d="M5994 1460l14 22 38 22-14-22z"/><path color="#d4bf27" d="M5979 1439l15 21 38 22-15-20z"/><path color="#e2bc2b" d="M5965 1420l14 19 38 23-14-18z"/><path color="#eeba34" d="M5950 1402l15 18 38 24-15-17z"/><path color="#f9ba3d" d="M5936 1386l14 16 38 25-14-15z"/><path color="#febf3c" d="M5921 1372l15 14 38 26-15-14z"/><path color="#fec537" d="M5907 1359l14 13 38 26-14-13z"/><path color="#fecb33" d="M5892 1347l15 12 38 26-15-11z"/><path color="#fcd130" d="M5878 1336l14 11 38 27-14-9z"/><path color="#f9d62d" d="M5863 1327l15 9 38 29-15-9z"/><path color="#fbd32e" d="M6873 871l15-24 38 29-15 23z"/><path color="#fdce31" d="M6859 895l14-24 38 28-14 24z"/><path color="#fec834" d="M6844 921l15-26 38 28-15 25z"/><path color="#fec338" d="M6830 949l14-28 38 27-14 27z"/><path color="#febd3d" d="M6815 978l15-29 38 26-15 28z"/><path color="#f6ba3c" d="M6801 1008l14-30 38 25-14 29z"/><path color="#ecba32" d="M6786 1039l15-31 38 24-15 31z"/><path color="#e0bc2a" d="M6772 1073l14-34 38 24-14 33z"/><path color="#d2bf27" d="M6757 1108l15-35 38 23-15 34z"/><path color="#c1c32c" d="M6743 1144l14-36 38 22-14 36z"/><path color="#adc637" d="M6728 1183l15-39 38 22-15 37z"/><path color="#97ca47" d="M6714 1223l14-40 38 20-14 40z"/><path color="#7fcc5a" d="M6699 1265l15-42 38 20-15 41z"/><path color="#65cd6e" d="M6685 1309l14-44 38 19-14 43z"/><path color="#4dcc82" d="M6670 1355l15-46 38 18-15 45z"/><path color="#39c995" d="M6656 1402l14-47 38 17-14 47z"/><path color="#2dc4a6" d="M6641 1452l15-50 38 17-15 49z"/><path color="#1abfb5" d="M6627 1502l14-50 38 16-14 50z"/><path color="#01bac4" d="M6612 1554l15-52 38 16-15 51z"/><path color="#0cb3d3" d="M6598 1608l14-54 38 15-14 53z"/><path color="#1baade" d="M6583 1662l15-54 38 14-15 54z"/><path color="#23a0e5" d="M6569 1716l14-54 38 14-14 54z"/><path color="#2994ed" d="M6554 1770l15-54 38 14-15 54z"/><path color="#2d88f6" d="M6540 1824l14-54 38 14-14 53z"/><path color="#327bfc" d="M6525 1876l15-52 38 13-15 53z"/><path color="#406dfe" d="M6511 1926l14-50 38 14-14 50z"/><path color="#4661fc" d="M6496 1974l15-48 38 14-15 48z"/><path color="#4756f7" d="M6482 2019l14-45 38 14-14 45z"/><path color="#484cf0" d="M6467 2059l15-40 38 14-15 40z"/><path color="#4743e7" d="M6453 2094l14-35 38 14-14 36z"/><path color="#463cdf" d="M6438 2124l15-30 38 15-15 30z"/><path color="#4537d6" d="M6424 2148l14-24 38 15-14 24z"/><path color="#4434cf" d="M6409 2166l15-18 38 15-15 18z"/><path color="#4433cb" d="M6395 2177l14-11 38 15-15 11z"/><path color="#4433cb" d="M6380 2181l15-4 37 15-14 4z"/><path color="#4434cf" d="M6366 2178l14 3 38 15-15-3z"/><path color="#4537d6" d="M6351 2169l15 9 37 15-14-9z"/><path color="#463cdf" d="M6337 2154l14 15 38 15-15-15z"/><path color="#4743e7" d="M6322 2134l15 20 37 15-14-21z"/><path color="#484cf0" d="M6308 2108l14 26 38 14-15-26z"/><path color="#4756f7" d="M6293 2079l15 29 37 14-14-29z"/><path color="#4661fc" d="M6278 2046l15 33 38 14-15-33z"/><path color="#406dfe" d="M6264 2011l14 35 38 14-14-36z"/><path color="#327bfc" d="M6249 1973l15 38 38 13-15-37z"/><path color="#2d88f6" d="M6235 1935l14 38 38 14-14-39z"/><path color="#2994ed" d="M6220 1896l15 39 38 13-15-39z"/><path color="#23a0e5" d="M6206 1856l14 40 38 13-14-39z"/><path color="#1baade" d="M6191 1817l15 39 38 14-15-38z"/><path color="#0cb3d3" d="M6177 1779l14 38 38 15-14-38z"/><path color="#01bac4" d="M6162 1742l15 37 38 15-15-37z"/><path color="#1abfb5" d="M6148 1706l14 36 38 15-14-35z"/><path color="#2dc4a6" d="M6133 1672l15 34 38 16-15-33z"/><path color="#39c995" d="M6119 1639l14 33 38 17-14-32z"/><path color="#4dcc82" d="M6104 1609l15 30 38 18-15-30z"/><path color="#65cd6e" d="M6090 1580l14 29 38 18-14-28z"/><path color="#7fcc5a" d="M6075 1552l15 28 38 19-15-27z"/><path color="#97ca47" d="M6061 1527l14 25 38 20-14-24z"/><path color="#adc637" d="M6046 1504l15 23 38 21-15-23z"/><path color="#c1c32c" d="M6032 1482l14 22 38 21-14-21z"/><path color="#d2bf27" d="M6017 1462l15 20 38 22-15-19z"/><path color="#e0bc2a" d="M6003 1444l14 18 38 23-14-18z"/><path color="#ecba32" d="M5988 1427l15 17 38 23-15-16z"/><path color="#f6ba3c" d="M5974 1412l14 15 38 24-14-14z"/><path color="#febd3d" d="M5959 1398l15 14 38 25-15-13z"/><path color="#fec338" d="M5945 1385l14 13 38 26-14-12z"/><path color="#fec834" d="M5930 1374l15 11 38 27-15-10z"/><path color="#fdce31" d="M5916 1365l14 9 38 28-14-9z"/><path color="#fbd32e" d="M5901 1356l15 9 38 28-15-8z"/><path color="#fcd030" d="M6911 899l15-23 38 29-15 22z"/><path color="#fdcb32" d="M6897 923l14-24 38 28-14 24z"/><path color="#fec636" d="M6882 948l15-25 38 28-15 24z"/><path color="#fec13a" d="M6868 975l14-27 38 27-14 26z"/><path color="#fcbc3e" d="M6853 1003l15-28 38 26-15 27z"/><path color="#f4ba3a" d="M6839 1032l14-29 38 25-14 29z"/><path color="#eaba30" d="M6824 1063l15-31 38 25-15 30z"/><path color="#debc29" d="M6810 1096l14-33 38 24-14 32z"/><path color="#d0bf27" d="M6795 1130l15-34 38 23-15 33z"/><path color="#c0c32d" d="M6781 1166l14-36 38 22-14 35z"/><path color="#acc738" d="M6766 1203l15-37 38 21-15 37z"/><path color="#97ca48" d="M6752 1243l14-40 38 21-14 39z"/><path color="#7fcc5a" d="M6737 1284l15-41 38 20-15 40z"/><path color="#66cd6d" d="M6723 1327l14-43 38 19-14 43z"/><path color="#4ecc81" d="M6708 1372l15-45 38 19-15 44z"/><path color="#3ac994" d="M6694 1419l14-47 38 18-14 46z"/><path color="#2ec4a4" d="M6679 1468l15-49 38 17-15 48z"/><path color="#1cc0b4" d="M6665 1518l14-50 38 16-14 50z"/><path color="#02bbc3" d="M6650 1569l15-51 38 16-15 51z"/><path color="#09b4d1" d="M6636 1622l14-53 38 16-14 52z"/><path color="#1aacdd" d="M6621 1676l15-54 38 15-15 53z"/><path color="#23a1e4" d="M6607 1730l14-54 38 14-14 54z"/><path color="#2896ec" d="M6592 1784l15-54 38 14-15 54z"/><path color="#2d8af5" d="M6578 1837l14-53 38 14-14 53z"/><path color="#317dfc" d="M6563 1890l15-53 38 14-15 52z"/><path color="#3e6fff" d="M6549 1940l14-50 38 13-14 51z"/><path color="#4563fc" d="M6534 1988l15-48 38 14-15 48z"/><path color="#4758f8" d="M6520 2033l14-45 38 14-15 45z"/><path color="#484ef1" d="M6505 2073l15-40 37 14-14 40z"/><path color="#4745e9" d="M6491 2109l14-36 38 14-15 36z"/><path color="#463de1" d="M6476 2139l15-30 37 14-14 31z"/><path color="#4538d8" d="M6462 2163l14-24 38 15-15 24z"/><path color="#4535d2" d="M6447 2181l15-18 37 15-14 18z"/><path color="#4434ce" d="M6432 2192l15-11 38 15-15 11z"/><path color="#4434ce" d="M6418 2196l14-4 38 15-14 4z"/><path color="#4535d2" d="M6403 2193l15 3 38 15-15-3z"/><path color="#4538d8" d="M6389 2184l14 9 38 15-14-10z"/><path color="#463de1" d="M6374 2169l15 15 38 14-15-15z"/><path color="#4745e9" d="M6360 2148l14 21 38 14-14-21z"/><path color="#484ef1" d="M6345 2122l15 26 38 14-15-26z"/><path color="#4758f8" d="M6331 2093l14 29 38 14-14-29z"/><path color="#4563fc" d="M6316 2060l15 33 38 14-15-33z"/><path color="#3e6fff" d="M6302 2024l14 36 38 14-14-36z"/><path color="#317dfc" d="M6287 1987l15 37 38 14-15-37z"/><path color="#2d8af5" d="M6273 1948l14 39 38 14-14-39z"/><path color="#2896ec" d="M6258 1909l15 39 38 14-15-39z"/><path color="#23a1e4" d="M6244 1870l14 39 38 14-14-38z"/><path color="#1aacdd" d="M6229 1832l15 38 38 15-15-39z"/><path color="#09b4d1" d="M6215 1794l14 38 38 14-14-37z"/><path color="#02bbc3" d="M6200 1757l15 37 38 15-15-36z"/><path color="#1cc0b4" d="M6186 1722l14 35 38 16-14-34z"/><path color="#2ec4a4" d="M6171 1689l15 33 38 17-15-33z"/><path color="#3ac994" d="M6157 1657l14 32 38 17-14-31z"/><path color="#4ecc81" d="M6142 1627l15 30 38 18-15-30z"/><path color="#66cd6d" d="M6128 1599l14 28 38 18-14-27z"/><path color="#7fcc5a" d="M6113 1572l15 27 38 19-15-26z"/><path color="#97ca48" d="M6099 1548l14 24 38 20-14-23z"/><path color="#acc738" d="M6084 1525l15 23 38 21-15-22z"/><path color="#c0c32d" d="M6070 1504l14 21 38 22-14-20z"/><path color="#d0bf27" d="M6055 1485l15 19 38 23-15-19z"/><path color="#debc29" d="M6041 1467l14 18 38 23-14-17z"/><path color="#eaba30" d="M6026 1451l15 16 38 24-15-15z"/><path color="#f4ba3a" d="M6012 1437l14 14 38 25-14-13z"/><path color="#fcbc3e" d="M5997 1424l15 13 38 26-15-13z"/><path color="#fec13a" d="M5983 1412l14 12 38 26-14-11z"/><path color="#fec636" d="M5968 1402l15 10 38 27-15-9z"/><path color="#fdcb32" d="M5954 1393l14 9 38 28-14-9z"/><path color="#fcd030" d="M5939 1385l15 8 38 28-15-7z"/><path color="#fdcd31" d="M6949 927l15-22 38 29-15 21z"/><path color="#fec934" d="M6935 951l14-24 38 28-14 23z"/><path color="#fec438" d="M6920 975l15-24 38 27-15 24z"/><path color="#febf3c" d="M6906 1001l14-26 38 27-14 25z"/><path color="#fabb3e" d="M6891 1028l15-27 38 26-15 27z"/><path color="#f2ba38" d="M6877 1057l14-29 38 26-14 28z"/><path color="#e8bb2e" d="M6862 1087l15-30 38 25-15 29z"/><path color="#dcbd29" d="M6848 1119l14-32 38 24-14 31z"/><path color="#cec027" d="M6833 1152l15-33 38 23-15 33z"/><path color="#bec32e" d="M6819 1187l14-35 38 23-14 34z"/><path color="#abc739" d="M6804 1224l15-37 38 22-15 36z"/><path color="#96ca48" d="M6790 1263l14-39 38 21-14 38z"/><path color="#7fcc5a" d="M6775 1303l15-40 38 20-15 40z"/><path color="#66cd6d" d="M6761 1346l14-43 38 20-14 41z"/><path color="#4fcc80" d="M6746 1390l15-44 38 18-15 44z"/><path color="#3bc993" d="M6732 1436l14-46 38 18-14 45z"/><path color="#2fc5a3" d="M6717 1484l15-48 38 17-15 48z"/><path color="#1ec0b2" d="M6703 1534l14-50 38 17-14 49z"/><path color="#03bbc1" d="M6688 1585l15-51 38 16-15 50z"/><path color="#07b5d0" d="M6674 1637l14-52 38 15-15 52z"/><path color="#19addc" d="M6659 1690l15-53 37 15-14 53z"/><path color="#22a2e4" d="M6645 1744l14-54 38 15-15 53z"/><path color="#2797ea" d="M6630 1798l15-54 37 14-14 54z"/><path color="#2d8bf4" d="M6616 1851l14-53 38 14-15 53z"/><path color="#307ffb" d="M6601 1903l15-52 37 14-14 52z"/><path color="#3c71ff" d="M6587 1954l14-51 38 14-15 51z"/><path color="#4464fd" d="M6572 2002l15-48 37 14-14 48z"/><path color="#4759f9" d="M6557 2047l15-45 38 14-15 45z"/><path color="#484ff2" d="M6543 2087l14-40 38 14-14 41z"/><path color="#4746eb" d="M6528 2123l15-36 38 15-15 36z"/><path color="#473fe2" d="M6514 2154l14-31 38 15-14 30z"/><path color="#463adb" d="M6499 2178l15-24 38 14-15 25z"/><path color="#4536d4" d="M6485 2196l14-18 38 15-14 17z"/><path color="#4435d1" d="M6470 2207l15-11 38 14-15 11z"/><path color="#4435d1" d="M6456 2211l14-4 38 14-14 4z"/><path color="#4536d4" d="M6441 2208l15 3 38 14-15-2z"/><path color="#463adb" d="M6427 2198l14 10 38 15-14-10z"/><path color="#473fe2" d="M6412 2183l15 15 38 15-15-15z"/><path color="#4746eb" d="M6398 2162l14 21 38 15-14-22z"/><path color="#484ff2" d="M6383 2136l15 26 38 14-15-26z"/><path color="#4759f9" d="M6369 2107l14 29 38 14-14-29z"/><path color="#4464fd" d="M6354 2074l15 33 38 14-15-34z"/><path color="#3c71ff" d="M6340 2038l14 36 38 13-14-35z"/><path color="#307ffb" d="M6325 2001l15 37 38 14-15-38z"/><path color="#2d8bf4" d="M6311 1962l14 39 38 13-14-38z"/><path color="#2797ea" d="M6296 1923l15 39 38 14-15-38z"/><path color="#22a2e4" d="M6282 1885l14 38 38 15-14-39z"/><path color="#19addc" d="M6267 1846l15 39 38 14-15-38z"/><path color="#07b5d0" d="M6253 1809l14 37 38 15-14-36z"/><path color="#03bbc1" d="M6238 1773l15 36 38 16-15-36z"/><path color="#1ec0b2" d="M6224 1739l14 34 38 16-14-34z"/><path color="#2fc5a3" d="M6209 1706l15 33 38 16-15-32z"/><path color="#3bc993" d="M6195 1675l14 31 38 17-14-31z"/><path color="#4fcc80" d="M6180 1645l15 30 38 17-15-28z"/><path color="#66cd6d" d="M6166 1618l14 27 38 19-14-27z"/><path color="#7fcc5a" d="M6151 1592l15 26 38 19-15-25z"/><path color="#96ca48" d="M6137 1569l14 23 38 20-14-22z"/><path color="#abc739" d="M6122 1547l15 22 38 21-15-22z"/><path color="#bec32e" d="M6108 1527l14 20 38 21-14-19z"/><path color="#cec027" d="M6093 1508l15 19 38 22-15-17z"/><path color="#dcbd29" d="M6079 1491l14 17 38 24-14-16z"/><path color="#e8bb2e" d="M6064 1476l15 15 38 25-15-15z"/><path color="#f2ba38" d="M6050 1463l14 13 38 25-14-13z"/><path color="#fabb3e" d="M6035 1450l15 13 38 25-15-11z"/><path color="#febf3c" d="M6021 1439l14 11 38 27-14-11z"/><path color="#fec438" d="M6006 1430l15 9 38 27-15-9z"/><path color="#fec934" d="M5992 1421l14 9 38 27-14-8z"/><path color="#fdcd31" d="M5977 1414l15 7 38 28-15-6z"/><path color="#fecb33" d="M6987 955l15-21 38 28-15 22z"/><path color="#fec636" d="M6973 978l14-23 38 29-14 22z"/><path color="#fec239" d="M6958 1002l15-24 38 28-15 23z"/><path color="#febd3d" d="M6944 1027l14-25 38 27-14 25z"/><path color="#f8ba3d" d="M6929 1054l15-27 38 27-15 26z"/><path color="#efba35" d="M6915 1082l14-28 38 26-14 27z"/><path color="#e5bb2d" d="M6900 1111l15-29 38 25-15 29z"/><path color="#dabd28" d="M6886 1142l14-31 38 25-14 30z"/><path color="#ccc028" d="M6871 1175l15-33 38 24-15 32z"/><path color="#bcc42f" d="M6857 1209l14-34 38 23-14 33z"/><path color="#aac73a" d="M6842 1245l15-36 38 22-15 35z"/><path color="#95ca49" d="M6828 1283l14-38 38 21-15 38z"/><path color="#7ecc5a" d="M6813 1323l15-40 37 21-14 38z"/><path color="#66cd6d" d="M6799 1364l14-41 38 19-15 41z"/><path color="#50cc80" d="M6784 1408l15-44 37 19-14 43z"/><path color="#3bc992" d="M6770 1453l14-45 38 18-15 45z"/><path color="#30c5a2" d="M6755 1501l15-48 37 18-14 46z"/><path color="#20c1b1" d="M6741 1550l14-49 38 16-15 49z"/><path color="#05bcc0" d="M6726 1600l15-50 37 16-14 50z"/><path color="#05b6ce" d="M6711 1652l15-52 38 16-15 51z"/><path color="#18aedb" d="M6697 1705l14-53 38 15-14 52z"/><path color="#21a4e3" d="M6682 1758l15-53 38 14-15 53z"/><path color="#2699e9" d="M6668 1812l14-54 38 14-14 54z"/><path color="#2d8df2" d="M6653 1865l15-53 38 14-15 53z"/><path color="#2f80fa" d="M6639 1917l14-52 38 14-14 52z"/><path color="#3b73ff" d="M6624 1968l15-51 38 14-15 50z"/><path color="#4466fd" d="M6610 2016l14-48 38 13-14 49z"/><path color="#475bf9" d="M6595 2061l15-45 38 14-15 45z"/><path color="#4851f3" d="M6581 2102l14-41 38 14-14 41z"/><path color="#4848ec" d="M6566 2138l15-36 38 14-15 36z"/><path color="#4740e4" d="M6552 2168l14-30 38 14-14 31z"/><path color="#463bdd" d="M6537 2193l15-25 38 15-15 24z"/><path color="#4537d7" d="M6523 2210l14-17 38 14-14 18z"/><path color="#4536d3" d="M6508 2221l15-11 38 15-15 11z"/><path color="#4536d3" d="M6494 2225l14-4 38 15-14 4z"/><path color="#4537d7" d="M6479 2223l15 2 38 15-15-3z"/><path color="#463bdd" d="M6465 2213l14 10 38 14-14-9z"/><path color="#4740e4" d="M6450 2198l15 15 38 15-15-16z"/><path color="#4848ec" d="M6436 2176l14 22 38 14-14-21z"/><path color="#4851f3" d="M6421 2150l15 26 38 15-15-26z"/><path color="#475bf9" d="M6407 2121l14 29 38 15-14-31z"/><path color="#4466fd" d="M6392 2087l15 34 38 13-15-33z"/><path color="#3b73ff" d="M6378 2052l14 35 38 14-14-35z"/><path color="#2f80fa" d="M6363 2014l15 38 38 14-15-38z"/><path color="#2d8df2" d="M6349 1976l14 38 38 14-14-38z"/><path color="#2699e9" d="M6334 1938l15 38 38 14-15-38z"/><path color="#21a4e3" d="M6320 1899l14 39 38 14-14-38z"/><path color="#18aedb" d="M6305 1861l15 38 38 15-15-38z"/><path color="#05b6ce" d="M6291 1825l14 36 38 15-14-36z"/><path color="#05bcc0" d="M6276 1789l15 36 38 15-15-35z"/><path color="#20c1b1" d="M6262 1755l14 34 38 16-14-33z"/><path color="#30c5a2" d="M6247 1723l15 32 38 17-15-32z"/><path color="#3bc992" d="M6233 1692l14 31 38 17-14-29z"/><path color="#50cc80" d="M6218 1664l15 28 38 19-15-28z"/><path color="#66cd6d" d="M6204 1637l14 27 38 19-14-26z"/><path color="#7ecc5a" d="M6189 1612l15 25 38 20-15-24z"/><path color="#95ca49" d="M6175 1590l14 22 38 21-14-22z"/><path color="#aac73a" d="M6160 1568l15 22 38 21-15-21z"/><path color="#bcc42f" d="M6146 1549l14 19 38 22-14-18z"/><path color="#ccc028" d="M6131 1532l15 17 38 23-15-17z"/><path color="#dabd28" d="M6117 1516l14 16 38 23-14-15z"/><path color="#e5bb2d" d="M6102 1501l15 15 38 24-15-14z"/><path color="#efba35" d="M6088 1488l14 13 38 25-14-12z"/><path color="#f8ba3d" d="M6073 1477l15 11 38 26-15-11z"/><path color="#febd3d" d="M6059 1466l14 11 38 26-14-10z"/><path color="#fec239" d="M6044 1457l15 9 38 27-15-8z"/><path color="#fec636" d="M6030 1449l14 8 38 28-14-7z"/><path color="#fecb33" d="M6015 1443l15 6 38 29-15-7z"/><path color="#fec835" d="M7025 984l15-22 38 29-15 21z"/><path color="#fec438" d="M7011 1006l14-22 38 28-14 22z"/><path color="#febf3b" d="M6996 1029l15-23 38 28-15 22z"/><path color="#fcbb3e" d="M6982 1054l14-25 38 27-15 24z"/><path color="#f5ba3b" d="M6967 1080l15-26 37 26-14 26z"/><path color="#edba32" d="M6953 1107l14-27 38 26-15 26z"/><path color="#e3bc2b" d="M6938 1136l15-29 37 25-14 28z"/><path color="#d7be28" d="M6924 1166l14-30 38 24-15 30z"/><path color="#cac128" d="M6909 1198l15-32 37 24-14 31z"/><path color="#bac430" d="M6895 1231l14-33 38 23-15 32z"/><path color="#a8c73b" d="M6880 1266l15-35 37 22-14 35z"/><path color="#94ca4a" d="M6865 1304l15-38 38 22-15 36z"/><path color="#7ecc5b" d="M6851 1342l14-38 38 20-14 38z"/><path color="#66cd6d" d="M6836 1383l15-41 38 20-15 40z"/><path color="#50cc7f" d="M6822 1426l14-43 38 19-14 43z"/><path color="#3cc991" d="M6807 1471l15-45 38 19-15 43z"/><path color="#30c5a1" d="M6793 1517l14-46 38 17-14 46z"/><path color="#22c1b0" d="M6778 1566l15-49 38 17-15 48z"/><path color="#07bcbf" d="M6764 1616l14-50 38 16-14 49z"/><path color="#03b6cd" d="M6749 1667l15-51 38 15-15 51z"/><path color="#17aeda" d="M6735 1719l14-52 38 15-14 52z"/><path color="#20a5e3" d="M6720 1772l15-53 38 15-15 53z"/><path color="#269ae9" d="M6706 1826l14-54 38 15-14 53z"/><path color="#2d8ef1" d="M6691 1879l15-53 38 14-15 53z"/><path color="#2f82fa" d="M6677 1931l14-52 38 14-14 52z"/><path color="#3975fe" d="M6662 1981l15-50 38 14-15 50z"/><path color="#4368fe" d="M6648 2030l14-49 38 14-14 49z"/><path color="#475cfa" d="M6633 2075l15-45 38 14-15 45z"/><path color="#4852f4" d="M6619 2116l14-41 38 14-14 41z"/><path color="#4849ed" d="M6604 2152l15-36 38 14-15 36z"/><path color="#4742e6" d="M6590 2183l14-31 38 14-14 31z"/><path color="#463cdf" d="M6575 2207l15-24 38 14-15 25z"/><path color="#4539d9" d="M6561 2225l14-18 38 15-14 18z"/><path color="#4537d5" d="M6546 2236l15-11 38 15-15 11z"/><path color="#4537d5" d="M6532 2240l14-4 38 15-14 4z"/><path color="#4539d9" d="M6517 2237l15 3 38 15-15-3z"/><path color="#463cdf" d="M6503 2228l14 9 38 15-14-10z"/><path color="#4742e6" d="M6488 2212l15 16 38 14-15-16z"/><path color="#4849ed" d="M6474 2191l14 21 38 14-14-21z"/><path color="#4852f4" d="M6459 2165l15 26 38 14-15-26z"/><path color="#475cfa" d="M6445 2134l14 31 38 14-14-31z"/><path color="#4368fe" d="M6430 2101l15 33 38 14-15-33z"/><path color="#3975fe" d="M6416 2066l14 35 38 14-14-36z"/><path color="#2f82fa" d="M6401 2028l15 38 38 13-15-37z"/><path color="#2d8ef1" d="M6387 1990l14 38 38 14-14-38z"/><path color="#269ae9" d="M6372 1952l15 38 38 14-15-38z"/><path color="#20a5e3" d="M6358 1914l14 38 38 14-14-37z"/><path color="#17aeda" d="M6343 1876l15 38 38 15-15-37z"/><path color="#03b6cd" d="M6329 1840l14 36 38 16-14-36z"/><path color="#07bcbf" d="M6314 1805l15 35 38 16-15-34z"/><path color="#22c1b0" d="M6300 1772l14 33 38 17-14-33z"/><path color="#30c5a1" d="M6285 1740l15 32 38 17-15-31z"/><path color="#3cc991" d="M6271 1711l14 29 38 18-14-29z"/><path color="#50cc7f" d="M6256 1683l15 28 38 18-15-27z"/><path color="#66cd6d" d="M6242 1657l14 26 38 19-14-25z"/><path color="#7ecc5b" d="M6227 1633l15 24 38 20-15-23z"/><path color="#94ca4a" d="M6213 1611l14 22 38 21-14-22z"/><path color="#a8c73b" d="M6198 1590l15 21 38 21-15-19z"/><path color="#bac430" d="M6184 1572l14 18 38 23-14-18z"/><path color="#cac128" d="M6169 1555l15 17 38 23-15-16z"/><path color="#d7be28" d="M6155 1540l14 15 38 24-14-15z"/><path color="#e3bc2b" d="M6140 1526l15 14 38 24-15-13z"/><path color="#edba32" d="M6126 1514l14 12 38 25-14-11z"/><path color="#f5ba3b" d="M6111 1503l15 11 38 26-15-11z"/><path color="#fcbb3e" d="M6097 1493l14 10 38 26-14-9z"/><path color="#febf3b" d="M6082 1485l15 8 38 27-15-7z"/><path color="#fec438" d="M6068 1478l14 7 38 28-14-7z"/><path color="#fec835" d="M6053 1471l15 7 38 28-15-6z"/><path color="#fec537" d="M7063 1012l15-21 37 29-14 20z"/><path color="#fec13a" d="M7049 1034l14-22 38 28-15 21z"/><path color="#febd3d" d="M7034 1056l15-22 37 27-14 23z"/><path color="#f9ba3e" d="M7019 1080l15-24 38 28-15 23z"/><path color="#f2ba38" d="M7005 1106l14-26 38 27-14 24z"/><path color="#eaba30" d="M6990 1132l15-26 38 25-15 26z"/><path color="#e0bc2a" d="M6976 1160l14-28 38 25-14 28z"/><path color="#d5be27" d="M6961 1190l15-30 38 25-15 28z"/><path color="#c8c129" d="M6947 1221l14-31 38 23-14 31z"/><path color="#b8c431" d="M6932 1253l15-32 38 23-15 32z"/><path color="#a7c73c" d="M6918 1288l14-35 38 23-14 33z"/><path color="#93ca4b" d="M6903 1324l15-36 38 21-15 36z"/><path color="#7dcc5b" d="M6889 1362l14-38 38 21-14 37z"/><path color="#66cd6d" d="M6874 1402l15-40 38 20-15 40z"/><path color="#51cc7f" d="M6860 1445l14-43 38 20-14 41z"/><path color="#3dc990" d="M6845 1488l15-43 38 18-15 43z"/><path color="#31c6a0" d="M6831 1534l14-46 38 18-14 46z"/><path color="#23c1af" d="M6816 1582l15-48 38 18-15 47z"/><path color="#09bdbe" d="M6802 1631l14-49 38 17-14 48z"/><path color="#02b7cc" d="M6787 1682l15-51 38 16-15 50z"/><path color="#15afd9" d="M6773 1734l14-52 38 15-14 52z"/><path color="#1fa6e2" d="M6758 1787l15-53 38 15-15 52z"/><path color="#259be8" d="M6744 1840l14-53 38 14-14 53z"/><path color="#2c90f0" d="M6729 1893l15-53 38 14-15 53z"/><path color="#2e84f9" d="M6715 1945l14-52 38 14-14 52z"/><path color="#3777fe" d="M6700 1995l15-50 38 14-15 50z"/><path color="#426afe" d="M6686 2044l14-49 38 14-14 49z"/><path color="#465efb" d="M6671 2089l15-45 38 14-15 45z"/><path color="#4854f5" d="M6657 2130l14-41 38 14-14 41z"/><path color="#484bef" d="M6642 2166l15-36 38 14-15 37z"/><path color="#4743e7" d="M6628 2197l14-31 38 15-14 31z"/><path color="#463de1" d="M6613 2222l15-25 38 15-15 25z"/><path color="#463adb" d="M6599 2240l14-18 38 15-14 18z"/><path color="#4538d8" d="M6584 2251l15-11 38 15-15 11z"/><path color="#4538d8" d="M6570 2255l14-4 38 15-14 4z"/><path color="#463adb" d="M6555 2252l15 3 38 15-15-3z"/><path color="#463de1" d="M6541 2242l14 10 38 15-14-10z"/><path color="#4743e7" d="M6526 2226l15 16 38 15-15-16z"/><path color="#484bef" d="M6512 2205l14 21 38 15-14-22z"/><path color="#4854f5" d="M6497 2179l15 26 38 14-15-26z"/><path color="#465efb" d="M6483 2148l14 31 38 14-14-31z"/><path color="#426afe" d="M6468 2115l15 33 38 14-15-33z"/><path color="#3777fe" d="M6454 2079l14 36 38 14-14-36z"/><path color="#2e84f9" d="M6439 2042l15 37 38 14-15-37z"/><path color="#2c90f0" d="M6425 2004l14 38 38 14-14-37z"/><path color="#259be8" d="M6410 1966l15 38 38 15-15-38z"/><path color="#1fa6e2" d="M6396 1929l14 37 38 15-14-37z"/><path color="#15afd9" d="M6381 1892l15 37 38 15-15-37z"/><path color="#02b7cc" d="M6367 1856l14 36 38 15-14-35z"/><path color="#09bdbe" d="M6352 1822l15 34 38 16-15-34z"/><path color="#23c1af" d="M6338 1789l14 33 38 16-14-32z"/><path color="#31c6a0" d="M6323 1758l15 31 38 17-15-30z"/><path color="#3dc990" d="M6309 1729l14 29 38 18-14-28z"/><path color="#51cc7f" d="M6294 1702l15 27 38 19-15-27z"/><path color="#66cd6d" d="M6280 1677l14 25 38 19-14-24z"/><path color="#7dcc5b" d="M6265 1654l15 23 38 20-15-23z"/><path color="#93ca4b" d="M6251 1632l14 22 38 20-14-20z"/><path color="#a7c73c" d="M6236 1613l15 19 38 22-15-19z"/><path color="#b8c431" d="M6222 1595l14 18 38 22-14-17z"/><path color="#c8c129" d="M6207 1579l15 16 38 23-15-15z"/><path color="#d5be27" d="M6193 1564l14 15 38 24-14-14z"/><path color="#e0bc2a" d="M6178 1551l15 13 38 25-15-13z"/><path color="#eaba30" d="M6164 1540l14 11 38 25-15-10z"/><path color="#f2ba38" d="M6149 1529l15 11 37 26-14-10z"/><path color="#f9ba3e" d="M6135 1520l14 9 38 27-15-8z"/><path color="#febd3d" d="M6120 1513l15 7 37 28-14-8z"/><path color="#fec13a" d="M6106 1506l14 7 38 27-15-6z"/><path color="#fec537" d="M6091 1500l15 6 37 28-14-5z"/><path color="#fec239" d="M7101 1040l14-20 38 29-14 20z"/><path color="#febf3c" d="M7086 1061l15-21 38 29-15 20z"/><path color="#fcbb3e" d="M7072 1084l14-23 38 28-14 22z"/><path color="#f6ba3c" d="M7057 1107l15-23 38 27-15 23z"/><path color="#efba35" d="M7043 1131l14-24 38 27-14 23z"/><path color="#e7bb2e" d="M7028 1157l15-26 38 26-15 26z"/><path color="#ddbd29" d="M7014 1185l14-28 38 26-14 26z"/><path color="#d2bf27" d="M6999 1213l15-28 38 24-15 28z"/><path color="#c5c22a" d="M6985 1244l14-31 38 24-14 30z"/><path color="#b6c532" d="M6970 1276l15-32 38 23-15 31z"/><path color="#a5c83d" d="M6956 1309l14-33 38 22-14 33z"/><path color="#92ca4c" d="M6941 1345l15-36 38 22-15 35z"/><path color="#7dcc5c" d="M6927 1382l14-37 38 21-14 37z"/><path color="#66cd6d" d="M6912 1422l15-40 38 21-15 38z"/><path color="#51cc7f" d="M6898 1463l14-41 38 19-14 41z"/><path color="#3dca90" d="M6883 1506l15-43 38 19-15 42z"/><path color="#31c6a0" d="M6869 1552l14-46 38 18-14 45z"/><path color="#24c1ae" d="M6854 1599l15-47 38 17-15 46z"/><path color="#0bbdbc" d="M6840 1647l14-48 38 16-14 48z"/><path color="#01b7cb" d="M6825 1697l15-50 38 16-15 50z"/><path color="#14b0d8" d="M6811 1749l14-52 38 16-14 51z"/><path color="#1ea7e1" d="M6796 1801l15-52 38 15-15 52z"/><path color="#259ce7" d="M6782 1854l14-53 38 15-14 52z"/><path color="#2b91ef" d="M6767 1907l15-53 38 14-15 53z"/><path color="#2e85f8" d="M6753 1959l14-52 38 14-14 52z"/><path color="#3578fd" d="M6738 2009l15-50 38 14-15 50z"/><path color="#416bfe" d="M6724 2058l14-49 38 14-14 49z"/><path color="#465ffb" d="M6709 2103l15-45 38 14-15 45z"/><path color="#4855f6" d="M6695 2144l14-41 38 14-14 42z"/><path color="#484cf0" d="M6680 2181l15-37 38 15-15 36z"/><path color="#4745e9" d="M6666 2212l14-31 38 14-14 32z"/><path color="#473fe2" d="M6651 2237l15-25 38 15-15 25z"/><path color="#463bdd" d="M6637 2255l14-18 38 15-14 18z"/><path color="#4639da" d="M6622 2266l15-11 38 15-15 11z"/><path color="#4639da" d="M6608 2270l14-4 38 15-14 4z"/><path color="#463bdd" d="M6593 2267l15 3 38 15-15-3z"/><path color="#473fe2" d="M6579 2257l14 10 38 15-14-10z"/><path color="#4745e9" d="M6564 2241l15 16 38 15-15-17z"/><path color="#484cf0" d="M6550 2219l14 22 38 14-14-21z"/><path color="#4855f6" d="M6535 2193l15 26 38 15-15-27z"/><path color="#465ffb" d="M6521 2162l14 31 38 14-14-30z"/><path color="#416bfe" d="M6506 2129l15 33 38 15-15-34z"/><path color="#3578fd" d="M6492 2093l14 36 38 14-14-35z"/><path color="#2e85f8" d="M6477 2056l15 37 38 15-15-37z"/><path color="#2b91ef" d="M6463 2019l14 37 38 15-14-38z"/><path color="#259ce7" d="M6448 1981l15 38 38 14-15-37z"/><path color="#1ea7e1" d="M6434 1944l14 37 38 15-14-37z"/><path color="#14b0d8" d="M6419 1907l15 37 38 15-15-36z"/><path color="#01b7cb" d="M6405 1872l14 35 38 16-14-35z"/><path color="#0bbdbc" d="M6390 1838l15 34 38 16-15-33z"/><path color="#24c1ae" d="M6376 1806l14 32 38 17-14-32z"/><path color="#31c6a0" d="M6361 1776l15 30 38 17-15-29z"/><path color="#3dca90" d="M6347 1748l14 28 38 18-14-28z"/><path color="#51cc7f" d="M6332 1721l15 27 38 18-15-25z"/><path color="#66cd6d" d="M6318 1697l14 24 38 20-15-24z"/><path color="#7dcc5c" d="M6303 1674l15 23 37 20-14-22z"/><path color="#92ca4c" d="M6289 1654l14 20 38 21-15-19z"/><path color="#a5c83d" d="M6274 1635l15 19 37 22-14-18z"/><path color="#b6c532" d="M6260 1618l14 17 38 23-15-17z"/><path color="#c5c22a" d="M6245 1603l15 15 37 23-14-14z"/><path color="#d2bf27" d="M6231 1589l14 14 38 24-15-14z"/><path color="#ddbd29" d="M6216 1576l15 13 37 24-14-11z"/><path color="#e7bb2e" d="M6201 1566l15 10 38 26-15-10z"/><path color="#efba35" d="M6187 1556l14 10 38 26-14-9z"/><path color="#f6ba3c" d="M6172 1548l15 8 38 27-15-8z"/><path color="#fcbb3e" d="M6158 1540l14 8 38 27-14-7z"/><path color="#febf3c" d="M6143 1534l15 6 38 28-15-5z"/><path color="#fec239" d="M6129 1529l14 5 38 29-14-5z"/><path color="#fec03b" d="M7139 1069l14-20 38 29-14 19z"/><path color="#fdbc3d" d="M7124 1089l15-20 38 28-15 20z"/><path color="#f9ba3e" d="M7110 1111l14-22 38 28-14 21z"/><path color="#f3ba39" d="M7095 1134l15-23 38 27-15 22z"/><path color="#ecba32" d="M7081 1157l14-23 38 26-14 24z"/><path color="#e4bb2c" d="M7066 1183l15-26 38 27-15 24z"/><path color="#dabd28" d="M7052 1209l14-26 38 25-14 26z"/><path color="#cfc027" d="M7037 1237l15-28 38 25-15 27z"/><path color="#c3c22b" d="M7023 1267l14-30 38 24-14 29z"/><path color="#b4c534" d="M7008 1298l15-31 38 23-15 31z"/><path color="#a3c83e" d="M6994 1331l14-33 38 23-14 32z"/><path color="#90ca4d" d="M6979 1366l15-35 38 22-15 34z"/><path color="#7ccc5c" d="M6965 1403l14-37 38 21-14 36z"/><path color="#66cd6d" d="M6950 1441l15-38 38 20-15 38z"/><path color="#51cc7f" d="M6936 1482l14-41 38 20-14 40z"/><path color="#3eca8f" d="M6921 1524l15-42 38 19-15 42z"/><path color="#32c69f" d="M6907 1569l14-45 38 19-14 44z"/><path color="#25c2ad" d="M6892 1615l15-46 38 18-15 45z"/><path color="#0dbdbb" d="M6878 1663l14-48 38 17-14 48z"/><path color="#01b8c9" d="M6863 1713l15-50 38 17-15 49z"/><path color="#12b1d6" d="M6849 1764l14-51 38 16-14 50z"/><path color="#1da8e0" d="M6834 1816l15-52 38 15-15 52z"/><path color="#249ee6" d="M6820 1868l14-52 38 15-14 52z"/><path color="#2a92ee" d="M6805 1921l15-53 38 15-15 52z"/><path color="#2e87f7" d="M6791 1973l14-52 38 14-14 52z"/><path color="#347afd" d="M6776 2023l15-50 38 14-15 50z"/><path color="#406dfe" d="M6762 2072l14-49 38 14-14 49z"/><path color="#4561fc" d="M6747 2117l15-45 38 14-15 45z"/><path color="#4757f7" d="M6733 2159l14-42 38 14-14 42z"/><path color="#484ef1" d="M6718 2195l15-36 38 14-15 37z"/><path color="#4746ea" d="M6704 2227l14-32 38 15-14 31z"/><path color="#4740e4" d="M6689 2252l15-25 38 14-15 25z"/><path color="#463cdf" d="M6675 2270l14-18 38 14-14 19z"/><path color="#463adc" d="M6660 2281l15-11 38 15-15 11z"/><path color="#463adc" d="M6646 2285l14-4 38 15-14 4z"/><path color="#463cdf" d="M6631 2282l15 3 38 15-15-4z"/><path color="#4740e4" d="M6617 2272l14 10 38 14-14-10z"/><path color="#4746ea" d="M6602 2255l15 17 38 14-15-16z"/><path color="#484ef1" d="M6588 2234l14 21 38 15-14-22z"/><path color="#4757f7" d="M6573 2207l15 27 38 14-15-27z"/><path color="#4561fc" d="M6559 2177l14 30 38 14-14-30z"/><path color="#406dfe" d="M6544 2143l15 34 38 14-15-34z"/><path color="#347afd" d="M6530 2108l14 35 38 14-14-35z"/><path color="#2e87f7" d="M6515 2071l15 37 38 14-15-37z"/><path color="#2a92ee" d="M6501 2033l14 38 38 14-14-37z"/><path color="#249ee6" d="M6486 1996l15 37 38 15-15-37z"/><path color="#1da8e0" d="M6472 1959l14 37 38 15-14-37z"/><path color="#12b1d6" d="M6457 1923l15 36 38 15-15-36z"/><path color="#01b8c9" d="M6443 1888l14 35 38 15-15-34z"/><path color="#0dbdbb" d="M6428 1855l15 33 37 16-14-32z"/><path color="#25c2ad" d="M6414 1823l14 32 38 17-15-31z"/><path color="#32c69f" d="M6399 1794l15 29 37 18-14-29z"/><path color="#3eca8f" d="M6385 1766l14 28 38 18-15-27z"/><path color="#51cc7f" d="M6370 1741l15 25 37 19-14-24z"/><path color="#66cd6d" d="M6355 1717l15 24 38 20-15-23z"/><path color="#7ccc5c" d="M6341 1695l14 22 38 21-14-21z"/><path color="#90ca4d" d="M6326 1676l15 19 38 22-15-19z"/><path color="#a3c83e" d="M6312 1658l14 18 38 22-14-18z"/><path color="#b4c534" d="M6297 1641l15 17 38 22-15-15z"/><path color="#c3c22b" d="M6283 1627l14 14 38 24-14-14z"/><path color="#cfc027" d="M6268 1613l15 14 38 24-15-13z"/><path color="#dabd28" d="M6254 1602l14 11 38 25-14-11z"/><path color="#e4bb2c" d="M6239 1592l15 10 38 25-15-9z"/><path color="#ecba32" d="M6225 1583l14 9 38 26-14-9z"/><path color="#f3ba39" d="M6210 1575l15 8 38 26-15-7z"/><path color="#f9ba3e" d="M6196 1568l14 7 38 27-14-6z"/><path color="#fdbc3d" d="M6181 1563l15 5 38 28-15-5z"/><path color="#fec03b" d="M6167 1558l14 5 38 28-14-4z"/><path color="#febd3d" d="M7177 1097l14-19 38 29-14 18z"/><path color="#fbbb3e" d="M7162 1117l15-20 38 28-15 20z"/><path color="#f5ba3b" d="M7148 1138l14-21 38 28-14 20z"/><path color="#efba35" d="M7133 1160l15-22 38 27-15 22z"/><path color="#e9bb2f" d="M7119 1184l14-24 38 27-14 23z"/><path color="#e1bc2a" d="M7104 1208l15-24 38 26-15 24z"/><path color="#d7be28" d="M7090 1234l14-26 38 26-14 25z"/><path color="#ccc028" d="M7075 1261l15-27 38 25-15 27z"/><path color="#c0c32d" d="M7061 1290l14-29 38 25-14 28z"/><path color="#b1c635" d="M7046 1321l15-31 38 24-15 30z"/><path color="#a1c840" d="M7032 1353l14-32 38 23-14 31z"/><path color="#8fcb4e" d="M7017 1387l15-34 38 22-15 34z"/><path color="#7bcc5d" d="M7003 1423l14-36 38 22-14 35z"/><path color="#65cd6d" d="M6988 1461l15-38 38 21-15 37z"/><path color="#51cc7f" d="M6974 1501l14-40 38 20-14 39z"/><path color="#3eca8f" d="M6959 1543l15-42 38 19-15 41z"/><path color="#32c69e" d="M6945 1587l14-44 38 18-14 43z"/><path color="#26c2ad" d="M6930 1632l15-45 38 17-15 45z"/><path color="#0fbeba" d="M6916 1680l14-48 38 17-14 47z"/><path color="#00b8c8" d="M6901 1729l15-49 38 16-15 49z"/><path color="#10b2d5" d="M6887 1779l14-50 38 16-14 50z"/><path color="#1da9e0" d="M6872 1831l15-52 38 16-15 51z"/><path color="#249fe5" d="M6858 1883l14-52 38 15-14 52z"/><path color="#2994ed" d="M6843 1935l15-52 38 15-15 52z"/><path color="#2d88f6" d="M6829 1987l14-52 38 15-14 51z"/><path color="#327cfc" d="M6814 2037l15-50 38 14-15 51z"/><path color="#3f6eff" d="M6800 2086l14-49 38 15-14 48z"/><path color="#4563fc" d="M6785 2131l15-45 38 14-15 46z"/><path color="#4758f8" d="M6771 2173l14-42 38 15-14 41z"/><path color="#484ff2" d="M6756 2210l15-37 38 14-15 37z"/><path color="#4848ec" d="M6742 2241l14-31 38 14-14 32z"/><path color="#4742e6" d="M6727 2266l15-25 38 15-15 25z"/><path color="#463ee1" d="M6713 2285l14-19 38 15-14 19z"/><path color="#463cde" d="M6698 2296l15-11 38 15-15 11z"/><path color="#463cde" d="M6684 2300l14-4 38 15-14 3z"/><path color="#463ee1" d="M6669 2296l15 4 38 14-15-3z"/><path color="#4742e6" d="M6655 2286l14 10 38 15-14-10z"/><path color="#4848ec" d="M6640 2270l15 16 38 15-15-17z"/><path color="#484ff2" d="M6626 2248l14 22 38 14-14-22z"/><path color="#4758f8" d="M6611 2221l15 27 38 14-15-27z"/><path color="#4563fc" d="M6597 2191l14 30 38 14-15-30z"/><path color="#3f6eff" d="M6582 2157l15 34 37 14-14-34z"/><path color="#327cfc" d="M6568 2122l14 35 38 14-15-35z"/><path color="#2d88f6" d="M6553 2085l15 37 37 14-14-37z"/><path color="#2994ed" d="M6539 2048l14 37 38 14-15-37z"/><path color="#249fe5" d="M6524 2011l15 37 37 14-14-36z"/><path color="#1da9e0" d="M6510 1974l14 37 38 15-15-37z"/><path color="#10b2d5" d="M6495 1938l15 36 37 15-14-35z"/><path color="#00b8c8" d="M6480 1904l15 34 38 16-15-33z"/><path color="#0fbeba" d="M6466 1872l14 32 38 17-14-32z"/><path color="#26c2ad" d="M6451 1841l15 31 38 17-15-30z"/><path color="#32c69e" d="M6437 1812l14 29 38 18-14-28z"/><path color="#3eca8f" d="M6422 1785l15 27 38 19-15-26z"/><path color="#51cc7f" d="M6408 1761l14 24 38 20-14-25z"/><path color="#65cd6d" d="M6393 1738l15 23 38 19-15-22z"/><path color="#7bcc5d" d="M6379 1717l14 21 38 20-14-20z"/><path color="#8fcb4e" d="M6364 1698l15 19 38 21-15-18z"/><path color="#a1c840" d="M6350 1680l14 18 38 22-14-17z"/><path color="#b1c635" d="M6335 1665l15 15 38 23-15-15z"/><path color="#c0c32d" d="M6321 1651l14 14 38 23-14-13z"/><path color="#ccc028" d="M6306 1638l15 13 38 24-15-12z"/><path color="#d7be28" d="M6292 1627l14 11 38 25-14-10z"/><path color="#e1bc2a" d="M6277 1618l15 9 38 26-15-9z"/><path color="#e9bb2f" d="M6263 1609l14 9 38 26-14-8z"/><path color="#efba35" d="M6248 1602l15 7 38 27-15-6z"/><path color="#f5ba3b" d="M6234 1596l14 6 38 28-14-6z"/><path color="#fbbb3e" d="M6219 1591l15 5 38 28-15-4z"/><path color="#febd3d" d="M6205 1587l14 4 38 29-14-4z"/><path color="#fcbb3e" d="M7215 1125l14-18 38 29-14 18z"/><path color="#f7ba3d" d="M7200 1145l15-20 38 29-15 19z"/><path color="#f2ba38" d="M7186 1165l14-20 38 28-14 20z"/><path color="#ecba32" d="M7171 1187l15-22 38 28-15 21z"/><path color="#e5bb2c" d="M7157 1210l14-23 38 27-14 22z"/><path color="#ddbd29" d="M7142 1234l15-24 38 26-15 23z"/><path color="#d4bf27" d="M7128 1259l14-25 38 25-14 25z"/><path color="#c9c128" d="M7113 1286l15-27 38 25-15 26z"/><path color="#bdc32e" d="M7099 1314l14-28 38 24-14 28z"/><path color="#afc637" d="M7084 1344l15-30 38 24-15 29z"/><path color="#9fc942" d="M7070 1375l14-31 38 23-14 31z"/><path color="#8dcb4f" d="M7055 1409l15-34 38 23-15 32z"/><path color="#79cc5e" d="M7041 1444l14-35 38 21-14 35z"/><path color="#65cd6e" d="M7026 1481l15-37 38 21-15 36z"/><path color="#51cc7f" d="M7012 1520l14-39 38 20-14 39z"/><path color="#3eca8f" d="M6997 1561l15-41 38 20-15 40z"/><path color="#32c69e" d="M6983 1604l14-43 38 19-14 42z"/><path color="#27c2ac" d="M6968 1649l15-45 38 18-15 45z"/><path color="#11beb9" d="M6954 1696l14-47 38 18-14 46z"/><path color="#00b9c7" d="M6939 1745l15-49 38 17-15 48z"/><path color="#0fb2d4" d="M6925 1795l14-50 38 16-14 49z"/><path color="#1caadf" d="M6910 1846l15-51 38 15-15 51z"/><path color="#23a0e5" d="M6896 1898l14-52 38 15-14 52z"/><path color="#2895ec" d="M6881 1950l15-52 38 15-15 51z"/><path color="#2d89f5" d="M6867 2001l14-51 38 14-14 52z"/><path color="#317dfc" d="M6852 2052l15-51 38 15-15 50z"/><path color="#3d70ff" d="M6838 2100l14-48 38 14-14 48z"/><path color="#4464fd" d="M6823 2146l15-46 38 14-15 46z"/><path color="#475af9" d="M6809 2187l14-41 38 14-14 42z"/><path color="#4851f3" d="M6794 2224l15-37 38 15-15 37z"/><path color="#4849ed" d="M6780 2256l14-32 38 15-14 32z"/><path color="#4743e7" d="M6765 2281l15-25 38 15-15 25z"/><path color="#473fe2" d="M6751 2300l14-19 38 15-15 18z"/><path color="#463de0" d="M6736 2311l15-11 37 14-14 12z"/><path color="#463de0" d="M6722 2314l14-3 38 15-15 3z"/><path color="#473fe2" d="M6707 2311l15 3 37 15-14-3z"/><path color="#4743e7" d="M6693 2301l14 10 38 15-15-10z"/><path color="#4849ed" d="M6678 2284l15 17 37 15-14-17z"/><path color="#4851f3" d="M6664 2262l14 22 38 15-15-22z"/><path color="#475af9" d="M6649 2235l15 27 37 15-14-27z"/><path color="#4464fd" d="M6634 2205l15 30 38 15-15-31z"/><path color="#3d70ff" d="M6620 2171l14 34 38 14-14-33z"/><path color="#317dfc" d="M6605 2136l15 35 38 15-15-36z"/><path color="#2d89f5" d="M6591 2099l14 37 38 14-14-36z"/><path color="#2895ec" d="M6576 2062l15 37 38 15-15-37z"/><path color="#23a0e5" d="M6562 2026l14 36 38 15-14-36z"/><path color="#1caadf" d="M6547 1989l15 37 38 15-15-36z"/><path color="#0fb2d4" d="M6533 1954l14 35 38 16-14-34z"/><path color="#00b9c7" d="M6518 1921l15 33 38 17-15-33z"/><path color="#11beb9" d="M6504 1889l14 32 38 17-14-32z"/><path color="#27c2ac" d="M6489 1859l15 30 38 17-15-29z"/><path color="#32c69e" d="M6475 1831l14 28 38 18-14-28z"/><path color="#3eca8f" d="M6460 1805l15 26 38 18-15-25z"/><path color="#51cc7f" d="M6446 1780l14 25 38 19-14-23z"/><path color="#65cd6e" d="M6431 1758l15 22 38 21-15-22z"/><path color="#79cc5e" d="M6417 1738l14 20 38 21-14-19z"/><path color="#8dcb4f" d="M6402 1720l15 18 38 22-15-18z"/><path color="#9fc942" d="M6388 1703l14 17 38 22-14-16z"/><path color="#afc637" d="M6373 1688l15 15 38 23-15-14z"/><path color="#bdc32e" d="M6359 1675l14 13 38 24-14-13z"/><path color="#c9c128" d="M6344 1663l15 12 38 24-15-11z"/><path color="#d4bf27" d="M6330 1653l14 10 38 25-14-9z"/><path color="#ddbd29" d="M6315 1644l15 9 38 26-15-9z"/><path color="#e5bb2c" d="M6301 1636l14 8 38 26-14-7z"/><path color="#ecba32" d="M6286 1630l15 6 38 27-15-6z"/><path color="#f2ba38" d="M6272 1624l14 6 38 27-14-5z"/><path color="#f7ba3d" d="M6257 1620l15 4 38 28-15-4z"/><path color="#fcbb3e" d="M6243 1616l14 4 38 28-14-3z"/><path color="#f8ba3d" d="M7253 1154l14-18 38 29-14 17z"/><path color="#f4ba3a" d="M7238 1173l15-19 38 28-15 19z"/><path color="#eeba34" d="M7224 1193l14-20 38 28-14 19z"/><path color="#e9bb2f" d="M7209 1214l15-21 38 27-15 21z"/><path color="#e2bc2b" d="M7195 1236l14-22 38 27-14 21z"/><path color="#dabd28" d="M7180 1259l15-23 38 26-15 23z"/><path color="#d1bf27" d="M7166 1284l14-25 38 26-14 24z"/><path color="#c6c22a" d="M7151 1310l15-26 38 25-15 26z"/><path color="#bac430" d="M7137 1338l14-28 38 25-14 27z"/><path color="#acc738" d="M7122 1367l15-29 38 24-15 28z"/><path color="#9dc943" d="M7108 1398l14-31 38 23-14 30z"/><path color="#8bcb51" d="M7093 1430l15-32 38 22-15 32z"/><path color="#78cc5f" d="M7079 1465l14-35 38 22-14 34z"/><path color="#64cd6f" d="M7064 1501l15-36 38 21-15 36z"/><path color="#51cc7f" d="M7050 1540l14-39 38 21-14 37z"/><path color="#3fca8e" d="M7035 1580l15-40 38 19-15 40z"/><path color="#33c69d" d="M7021 1622l14-42 38 19-14 42z"/><path color="#28c2ab" d="M7006 1667l15-45 38 19-15 43z"/><path color="#13beb9" d="M6992 1713l14-46 38 17-14 46z"/><path color="#00b9c6" d="M6977 1761l15-48 38 17-15 47z"/><path color="#0db3d3" d="M6963 1810l14-49 38 16-14 49z"/><path color="#1babde" d="M6948 1861l15-51 38 16-15 50z"/><path color="#23a1e4" d="M6934 1913l14-52 38 15-14 52z"/><path color="#2796eb" d="M6919 1964l15-51 38 15-15 51z"/><path color="#2d8bf4" d="M6905 2016l14-52 38 15-15 51z"/><path color="#307ffb" d="M6890 2066l15-50 37 14-14 50z"/><path color="#3c72ff" d="M6876 2114l14-48 38 14-15 49z"/><path color="#4466fd" d="M6861 2160l15-46 37 15-14 45z"/><path color="#475bfa" d="M6847 2202l14-42 38 14-15 42z"/><path color="#4852f4" d="M6832 2239l15-37 37 14-14 38z"/><path color="#484aee" d="M6818 2271l14-32 38 15-15 31z"/><path color="#4744e9" d="M6803 2296l15-25 37 14-14 26z"/><path color="#4740e4" d="M6788 2314l15-18 38 15-15 18z"/><path color="#473ee1" d="M6774 2326l14-12 38 15-14 11z"/><path color="#473ee1" d="M6759 2329l15-3 38 14-15 4z"/><path color="#4740e4" d="M6745 2326l14 3 38 15-14-3z"/><path color="#4744e9" d="M6730 2316l15 10 38 15-15-11z"/><path color="#484aee" d="M6716 2299l14 17 38 14-14-17z"/><path color="#4852f4" d="M6701 2277l15 22 38 14-15-22z"/><path color="#475bfa" d="M6687 2250l14 27 38 14-14-27z"/><path color="#4466fd" d="M6672 2219l15 31 38 14-15-31z"/><path color="#3c72ff" d="M6658 2186l14 33 38 14-14-33z"/><path color="#307ffb" d="M6643 2150l15 36 38 14-15-35z"/><path color="#2d8bf4" d="M6629 2114l14 36 38 15-14-36z"/><path color="#2796eb" d="M6614 2077l15 37 38 15-15-37z"/><path color="#23a1e4" d="M6600 2041l14 36 38 15-14-36z"/><path color="#1babde" d="M6585 2005l15 36 38 15-15-35z"/><path color="#0db3d3" d="M6571 1971l14 34 38 16-14-34z"/><path color="#00b9c6" d="M6556 1938l15 33 38 16-15-32z"/><path color="#13beb9" d="M6542 1906l14 32 38 17-14-31z"/><path color="#28c2ab" d="M6527 1877l15 29 38 18-15-29z"/><path color="#33c69d" d="M6513 1849l14 28 38 18-14-27z"/><path color="#3fca8e" d="M6498 1824l15 25 38 19-15-24z"/><path color="#51cc7f" d="M6484 1801l14 23 38 20-14-23z"/><path color="#64cd6f" d="M6469 1779l15 22 38 20-15-21z"/><path color="#78cc5f" d="M6455 1760l14 19 38 21-14-18z"/><path color="#8bcb51" d="M6440 1742l15 18 38 22-15-17z"/><path color="#9dc943" d="M6426 1726l14 16 38 23-14-16z"/><path color="#acc738" d="M6411 1712l15 14 38 23-15-13z"/><path color="#bac430" d="M6397 1699l14 13 38 24-14-12z"/><path color="#c6c22a" d="M6382 1688l15 11 38 25-15-10z"/><path color="#d1bf27" d="M6368 1679l14 9 38 26-14-10z"/><path color="#dabd28" d="M6353 1670l15 9 38 25-15-7z"/><path color="#e2bc2b" d="M6339 1663l14 7 38 27-14-7z"/><path color="#e9bb2f" d="M6324 1657l15 6 38 27-15-6z"/><path color="#eeba34" d="M6310 1652l14 5 38 27-14-4z"/><path color="#f4ba3a" d="M6295 1648l15 4 38 28-15-4z"/><path color="#f8ba3d" d="M6281 1645l14 3 38 28-14-2z"/><path color="#f4ba3a" d="M7291 1182l14-17 38 29-14 17z"/><path color="#f0ba36" d="M7276 1201l15-19 38 29-15 18z"/><path color="#ebba31" d="M7262 1220l14-19 38 28-14 19z"/><path color="#e5bb2c" d="M7247 1241l15-21 38 28-15 20z"/><path color="#debc29" d="M7233 1262l14-21 38 27-14 21z"/><path color="#d6be27" d="M7218 1285l15-23 38 27-15 22z"/><path color="#cdc028" d="M7204 1309l14-24 38 26-14 24z"/><path color="#c3c22b" d="M7189 1335l15-26 38 26-15 24z"/><path color="#b7c532" d="M7175 1362l14-27 38 24-14 27z"/><path color="#a9c73a" d="M7160 1390l15-28 38 24-15 28z"/><path color="#9ac945" d="M7146 1420l14-30 38 24-14 29z"/><path color="#89cb52" d="M7131 1452l15-32 38 23-15 31z"/><path color="#77cc60" d="M7117 1486l14-34 38 22-14 33z"/><path color="#63cd6f" d="M7102 1522l15-36 38 21-15 35z"/><path color="#51cc7f" d="M7088 1559l14-37 38 20-14 37z"/><path color="#3fca8e" d="M7073 1599l15-40 38 20-15 39z"/><path color="#33c79d" d="M7059 1641l14-42 38 19-15 41z"/><path color="#29c3ab" d="M7044 1684l15-43 37 18-14 43z"/><path color="#14bfb8" d="M7030 1730l14-46 38 18-15 45z"/><path color="#01bac5" d="M7015 1777l15-47 37 17-14 47z"/><path color="#0bb4d2" d="M7001 1826l14-49 38 17-15 48z"/><path color="#1aacdd" d="M6986 1876l15-50 37 16-14 50z"/><path color="#22a2e4" d="M6972 1928l14-52 38 16-15 51z"/><path color="#2797ea" d="M6957 1979l15-51 37 15-14 51z"/><path color="#2d8cf3" d="M6942 2030l15-51 38 15-15 51z"/><path color="#2f80fa" d="M6928 2080l14-50 38 15-14 50z"/><path color="#3a73ff" d="M6913 2129l15-49 38 15-15 48z"/><path color="#4367fd" d="M6899 2174l14-45 38 14-14 46z"/><path color="#475dfa" d="M6884 2216l15-42 38 15-15 42z"/><path color="#4854f5" d="M6870 2254l14-38 38 15-14 37z"/><path color="#484cef" d="M6855 2285l15-31 38 14-15 32z"/><path color="#4746ea" d="M6841 2311l14-26 38 15-14 25z"/><path color="#4742e6" d="M6826 2329l15-18 38 14-15 19z"/><path color="#473fe3" d="M6812 2340l14-11 38 15-14 11z"/><path color="#473fe3" d="M6797 2344l15-4 38 15-15 4z"/><path color="#4742e6" d="M6783 2341l14 3 38 15-14-4z"/><path color="#4746ea" d="M6768 2330l15 11 38 14-15-10z"/><path color="#484cef" d="M6754 2313l14 17 38 15-14-17z"/><path color="#4854f5" d="M6739 2291l15 22 38 15-15-22z"/><path color="#475dfa" d="M6725 2264l14 27 38 15-14-27z"/><path color="#4367fd" d="M6710 2233l15 31 38 15-15-31z"/><path color="#3a73ff" d="M6696 2200l14 33 38 15-14-33z"/><path color="#2f80fa" d="M6681 2165l15 35 38 15-15-36z"/><path color="#2d8cf3" d="M6667 2129l14 36 38 14-14-35z"/><path color="#2797ea" d="M6652 2092l15 37 38 15-15-37z"/><path color="#22a2e4" d="M6638 2056l14 36 38 15-14-35z"/><path color="#1aacdd" d="M6623 2021l15 35 38 16-15-35z"/><path color="#0bb4d2" d="M6609 1987l14 34 38 16-14-34z"/><path color="#01bac5" d="M6594 1955l15 32 38 16-15-31z"/><path color="#14bfb8" d="M6580 1924l14 31 38 17-14-30z"/><path color="#29c3ab" d="M6565 1895l15 29 38 18-15-28z"/><path color="#33c79d" d="M6551 1868l14 27 38 19-14-26z"/><path color="#3fca8e" d="M6536 1844l15 24 38 20-15-24z"/><path color="#51cc7f" d="M6522 1821l14 23 38 20-14-22z"/><path color="#63cd6f" d="M6507 1800l15 21 38 21-15-20z"/><path color="#77cc60" d="M6493 1782l14 18 38 22-14-18z"/><path color="#89cb52" d="M6478 1765l15 17 38 22-15-17z"/><path color="#9ac945" d="M6464 1749l14 16 38 22-14-14z"/><path color="#a9c73a" d="M6449 1736l15 13 38 24-15-13z"/><path color="#b7c532" d="M6435 1724l14 12 38 24-14-11z"/><path color="#c3c22b" d="M6420 1714l15 10 38 25-15-10z"/><path color="#cdc028" d="M6406 1704l14 10 38 25-14-9z"/><path color="#d6be27" d="M6391 1697l15 7 38 26-15-7z"/><path color="#debc29" d="M6377 1690l14 7 38 26-14-6z"/><path color="#e5bb2c" d="M6362 1684l15 6 38 27-15-5z"/><path color="#ebba31" d="M6348 1680l14 4 38 28-14-4z"/><path color="#f0ba36" d="M6333 1676l15 4 38 28-15-3z"/><path color="#f4ba3a" d="M6319 1674l14 2 38 29-14-2z"/><path color="#f0ba36" d="M7329 1211l14-17 38 29-14 16z"/><path color="#ecba32" d="M7314 1229l15-18 38 28-15 18z"/><path color="#e7bb2e" d="M7300 1248l14-19 38 28-14 18z"/><path color="#e1bc2a" d="M7285 1268l15-20 38 27-15 20z"/><path color="#dabd28" d="M7271 1289l14-21 38 27-14 20z"/><path color="#d2bf27" d="M7256 1311l15-22 38 26-15 22z"/><path color="#c9c128" d="M7242 1335l14-24 38 26-14 23z"/><path color="#bfc32d" d="M7227 1359l15-24 38 25-15 24z"/><path color="#b4c534" d="M7213 1386l14-27 38 25-15 26z"/><path color="#a6c83c" d="M7198 1414l15-28 37 24-14 27z"/><path color="#98ca47" d="M7184 1443l14-29 38 23-15 29z"/><path color="#87cb54" d="M7169 1474l15-31 37 23-14 30z"/><path color="#75cc61" d="M7155 1507l14-33 38 22-15 33z"/><path color="#62cd70" d="M7140 1542l15-35 37 22-14 34z"/><path color="#50cc7f" d="M7126 1579l14-37 38 21-15 36z"/><path color="#3fca8e" d="M7111 1618l15-39 37 20-14 38z"/><path color="#33c79d" d="M7096 1659l15-41 38 19-15 41z"/><path color="#29c3aa" d="M7082 1702l14-43 38 19-14 42z"/><path color="#16bfb7" d="M7067 1747l15-45 38 18-15 44z"/><path color="#01bac4" d="M7053 1794l14-47 38 17-14 47z"/><path color="#09b4d1" d="M7038 1842l15-48 38 17-15 47z"/><path color="#19acdc" d="M7024 1892l14-50 38 16-14 50z"/><path color="#21a3e3" d="M7009 1943l15-51 38 16-15 50z"/><path color="#2699ea" d="M6995 1994l14-51 38 15-14 51z"/><path color="#2d8df2" d="M6980 2045l15-51 38 15-15 50z"/><path color="#2f82fa" d="M6966 2095l14-50 38 14-14 50z"/><path color="#3975fe" d="M6951 2143l15-48 38 14-15 49z"/><path color="#4369fe" d="M6937 2189l14-46 38 15-14 45z"/><path color="#465efb" d="M6922 2231l15-42 38 14-15 42z"/><path color="#4855f6" d="M6908 2268l14-37 38 14-14 38z"/><path color="#484df1" d="M6893 2300l15-32 38 15-15 32z"/><path color="#4847eb" d="M6879 2325l14-25 38 15-14 25z"/><path color="#4743e7" d="M6864 2344l15-19 38 15-15 19z"/><path color="#4741e5" d="M6850 2355l14-11 38 15-14 11z"/><path color="#4741e5" d="M6835 2359l15-4 38 15-15 4z"/><path color="#4743e7" d="M6821 2355l14 4 38 15-14-4z"/><path color="#4847eb" d="M6806 2345l15 10 38 15-15-10z"/><path color="#484df1" d="M6792 2328l14 17 38 15-14-17z"/><path color="#4855f6" d="M6777 2306l15 22 38 15-15-23z"/><path color="#465efb" d="M6763 2279l14 27 38 14-14-27z"/><path color="#4369fe" d="M6748 2248l15 31 38 14-15-31z"/><path color="#3975fe" d="M6734 2215l14 33 38 14-14-33z"/><path color="#2f82fa" d="M6719 2179l15 36 38 14-15-35z"/><path color="#2d8df2" d="M6705 2144l14 35 38 15-14-36z"/><path color="#2699ea" d="M6690 2107l15 37 38 14-15-35z"/><path color="#21a3e3" d="M6676 2072l14 35 38 16-14-36z"/><path color="#19acdc" d="M6661 2037l15 35 38 15-15-34z"/><path color="#09b4d1" d="M6647 2003l14 34 38 16-14-33z"/><path color="#01bac4" d="M6632 1972l15 31 38 17-15-31z"/><path color="#16bfb7" d="M6618 1942l14 30 38 17-14-29z"/><path color="#29c3aa" d="M6603 1914l15 28 38 18-15-28z"/><path color="#33c79d" d="M6589 1888l14 26 38 18-14-25z"/><path color="#3fca8e" d="M6574 1864l15 24 38 19-15-23z"/><path color="#50cc7f" d="M6560 1842l14 22 38 20-14-22z"/><path color="#62cd70" d="M6545 1822l15 20 38 20-15-19z"/><path color="#75cc61" d="M6531 1804l14 18 38 21-14-17z"/><path color="#87cb54" d="M6516 1787l15 17 38 22-15-16z"/><path color="#98ca47" d="M6502 1773l14 14 38 23-14-14z"/><path color="#a6c83c" d="M6487 1760l15 13 38 23-15-12z"/><path color="#b4c534" d="M6473 1749l14 11 38 24-14-10z"/><path color="#bfc32d" d="M6458 1739l15 10 38 25-15-10z"/><path color="#c9c128" d="M6444 1730l14 9 38 25-14-8z"/><path color="#d2bf27" d="M6429 1723l15 7 38 26-15-6z"/><path color="#dabd28" d="M6415 1717l14 6 38 27-14-6z"/><path color="#e1bc2a" d="M6400 1712l15 5 38 27-15-4z"/><path color="#e7bb2e" d="M6386 1708l14 4 38 28-14-4z"/><path color="#ecba32" d="M6371 1705l15 3 38 28-15-3z"/><path color="#f0ba36" d="M6357 1703l14 2 38 28-14-1z"/><path color="#ecba32" d="M7367 1239l14-16 38 28-15 17z"/><path color="#e8bb2e" d="M7352 1257l15-18 37 29-14 17z"/><path color="#e3bc2b" d="M7338 1275l14-18 38 28-15 18z"/><path color="#ddbd29" d="M7323 1295l15-20 37 28-14 19z"/><path color="#d6be27" d="M7309 1315l14-20 38 27-15 20z"/><path color="#cec027" d="M7294 1337l15-22 37 27-14 21z"/><path color="#c6c22a" d="M7280 1360l14-23 38 26-15 23z"/><path color="#bcc42f" d="M7265 1384l15-24 37 26-14 23z"/><path color="#b0c636" d="M7250 1410l15-26 38 25-15 25z"/><path color="#a3c83e" d="M7236 1437l14-27 38 24-14 27z"/><path color="#95ca49" d="M7221 1466l15-29 38 24-15 28z"/><path color="#85cb56" d="M7207 1496l14-30 38 23-14 30z"/><path color="#73cd63" d="M7192 1529l15-33 38 23-15 31z"/><path color="#61cd71" d="M7178 1563l14-34 38 21-14 34z"/><path color="#50cc80" d="M7163 1599l15-36 38 21-15 36z"/><path color="#3eca8e" d="M7149 1637l14-38 38 21-14 37z"/><path color="#33c79c" d="M7134 1678l15-41 38 20-15 40z"/><path color="#29c3aa" d="M7120 1720l14-42 38 19-14 41z"/><path color="#17bfb6" d="M7105 1764l15-44 38 18-15 44z"/><path color="#02bac3" d="M7091 1811l14-47 38 18-14 46z"/><path color="#08b5d0" d="M7076 1858l15-47 38 17-15 47z"/><path color="#19addc" d="M7062 1908l14-50 38 17-14 49z"/><path color="#21a4e3" d="M7047 1958l15-50 38 16-15 49z"/><path color="#269ae9" d="M7033 2009l14-51 38 15-14 51z"/><path color="#2c8ff1" d="M7018 2059l15-50 38 15-15 50z"/><path color="#2e83f9" d="M7004 2109l14-50 38 15-14 50z"/><path color="#3777fe" d="M6989 2158l15-49 38 15-15 48z"/><path color="#426afe" d="M6975 2203l14-45 38 14-14 46z"/><path color="#4660fb" d="M6960 2245l15-42 38 15-15 42z"/><path color="#4756f7" d="M6946 2283l14-38 38 15-14 37z"/><path color="#484ff2" d="M6931 2315l15-32 38 14-15 32z"/><path color="#4849ed" d="M6917 2340l14-25 38 14-14 26z"/><path color="#4744e9" d="M6902 2359l15-19 38 15-15 19z"/><path color="#4742e6" d="M6888 2370l14-11 38 15-14 11z"/><path color="#4742e6" d="M6873 2374l15-4 38 15-15 4z"/><path color="#4744e9" d="M6859 2370l14 4 38 15-14-4z"/><path color="#4849ed" d="M6844 2360l15 10 38 15-15-11z"/><path color="#484ff2" d="M6830 2343l14 17 38 14-14-17z"/><path color="#4756f7" d="M6815 2320l15 23 38 14-15-22z"/><path color="#4660fb" d="M6801 2293l14 27 38 15-14-28z"/><path color="#426afe" d="M6786 2262l15 31 38 14-15-30z"/><path color="#3777fe" d="M6772 2229l14 33 38 15-14-33z"/><path color="#2e83f9" d="M6757 2194l15 35 38 15-15-35z"/><path color="#2c8ff1" d="M6743 2158l14 36 38 15-14-35z"/><path color="#269ae9" d="M6728 2123l15 35 38 16-15-36z"/><path color="#21a4e3" d="M6714 2087l14 36 38 15-14-35z"/><path color="#19addc" d="M6699 2053l15 34 38 16-15-34z"/><path color="#08b5d0" d="M6685 2020l14 33 38 16-14-32z"/><path color="#02bac3" d="M6670 1989l15 31 38 17-15-30z"/><path color="#17bfb6" d="M6656 1960l14 29 38 18-14-29z"/><path color="#29c3aa" d="M6641 1932l15 28 38 18-15-27z"/><path color="#33c79c" d="M6627 1907l14 25 38 19-14-24z"/><path color="#3eca8e" d="M6612 1884l15 23 38 20-15-23z"/><path color="#50cc80" d="M6598 1862l14 22 38 20-14-21z"/><path color="#61cd71" d="M6583 1843l15 19 38 21-15-18z"/><path color="#73cd63" d="M6569 1826l14 17 38 22-14-17z"/><path color="#85cb56" d="M6554 1810l15 16 38 22-15-15z"/><path color="#95ca49" d="M6540 1796l14 14 38 23-14-13z"/><path color="#a3c83e" d="M6525 1784l15 12 38 24-15-11z"/><path color="#b0c636" d="M6511 1774l14 10 38 25-14-11z"/><path color="#bcc42f" d="M6496 1764l15 10 38 24-15-8z"/><path color="#c6c22a" d="M6482 1756l14 8 38 26-14-8z"/><path color="#cec027" d="M6467 1750l15 6 38 26-15-6z"/><path color="#d6be27" d="M6453 1744l14 6 38 26-14-5z"/><path color="#ddbd29" d="M6438 1740l15 4 38 27-15-4z"/><path color="#e3bc2b" d="M6424 1736l14 4 38 27-14-3z"/><path color="#e8bb2e" d="M6409 1733l15 3 38 28-15-2z"/><path color="#ecba32" d="M6395 1732l14 1 38 29-15-2z"/></g>
<path d="M544.6 100.9L544.6 227.1M544.6 227.1L643.2 278L741.9 227.1M544.6 227.1l-2.9 1.5M593.9 252.6l-2.9 1.5M643.2 278l-2.9 1.5M643.2 278l2.9 1.5M692.6 252.6l2.9 1.5M741.9 227.1l2.9 1.5M544.6 191.5l-2.9 -1.5M544.6 146.2l-2.9 -1.5M544.6 100.9l-2.9 -1.5" stroke="#262626" stroke-width="1" fill="none"/>
<path d="M124.3 506.9L249.3 455.8M249.3 455.8L249.3 366.7M160.4 551.5L285.4 500.4M285.4 500.4L285.4 411.3M196.5 596.2L321.5 545.1M321.5 545.1L321.5 456M124.3 506.9L196.5 596.2M124.3 506.9L124.3 417.8M186.8 481.3L259 570.7M186.8 481.3L186.8 392.2M249.3 455.8L321.5 545.1M249.3 455.8L249.3 366.7M124.3 506.9L249.3 455.8M249.3 455.8L321.5 545.1M124.3 462.3L249.3 411.2M249.3 411.2L321.5 500.6M124.3 417.8L249.3 366.7M249.3 366.7L321.5 456" stroke="#dcdcdc" stroke-width="1" fill="none"/>
<g transform="scale(.1)" fill="currentColor" stroke="currentColor" stroke-width="8" stroke-linejoin="round"><path color="#2994ed" d="M2468 4256l25-13 21-2-25 13z"/><path color="#2a92ee" d="M2443 4269l25-13 21-2-25 13z"/><path color="#2c91ef" d="M2418 4282l25-13 21-2-25 14z"/><path color="#2c8ff1" d="M2393 4296l25-14 21-1-25 14z"/><path color="#2d8df2" d="M2368 4311l25-15 21-1-25 15z"/><path color="#2d8af5" d="M2343 4326l25-15 21-1-25 15z"/><path color="#2e87f7" d="M2318 4341l25-15 21-1-25 16z"/><path color="#2e84f9" d="M2293 4358l25-17 21 0-25 17z"/><path color="#2f80fb" d="M2268 4375l25-17 21 0-25 18z"/><path color="#327bfc" d="M2243 4393l25-18 21 1-25 19z"/><path color="#3876fe" d="M2218 4412l25-19 21 2-25 20z"/><path color="#3e70ff" d="M2193 4431l25-19 21 3-25 20z"/><path color="#4269fe" d="M2168 4452l25-21 21 4-25 22z"/><path color="#4563fc" d="M2143 4473l25-21 21 5-25 22z"/><path color="#475cfa" d="M2118 4495l25-22 21 6-25 23z"/><path color="#4855f6" d="M2093 4517l25-22 21 7-25 24z"/><path color="#484df0" d="M2068 4540l25-23 21 9-25 23z"/><path color="#4746ea" d="M2043 4563l25-23 21 9-25 24z"/><path color="#473ee2" d="M2018 4585l25-22 21 10-25 23z"/><path color="#4538d8" d="M1993 4606l25-21 21 11-25 23z"/><path color="#4433cc" d="M1968 4626l25-20 21 13-25 21z"/><path color="#422fc2" d="M1943 4644l25-18 21 14-25 19z"/><path color="#412cb9" d="M1918 4661l25-17 21 15-25 17z"/><path color="#402ab3" d="M1893 4675l25-14 21 15-25 14z"/><path color="#3f28b0" d="M1868 4686l25-11 21 15-25 12z"/><path color="#3f28b0" d="M1843 4695l25-9 21 16-25 8z"/><path color="#402ab3" d="M1818 4701l25-6 21 15-25 6z"/><path color="#412cb9" d="M1793 4706l25-5 21 15-25 4z"/><path color="#422fc2" d="M1768 4708l25-2 21 14-25 1z"/><path color="#4433cc" d="M1743 4708l25 0 21 13-25 0z"/><path color="#4538d8" d="M1718 4707l25 1 21 13-25-2z"/><path color="#473ee2" d="M1693 4706l25 1 21 12-25-3z"/><path color="#4746ea" d="M1668 4704l25 2 21 10-25-3z"/><path color="#484df0" d="M1643 4701l25 3 21 9-25-3z"/><path color="#4855f6" d="M1618 4700l25 1 21 9-25-4z"/><path color="#475cfa" d="M1593 4698l25 2 21 6-25-2z"/><path color="#4563fc" d="M1568 4697l25 1 21 6-25-2z"/><path color="#4269fe" d="M1543 4697l25 0 21 5-25-1z"/><path color="#3e70ff" d="M1518 4698l25-1 21 4-25 0z"/><path color="#3876fe" d="M1493 4699l25-1 21 3-25 1z"/><path color="#327bfc" d="M1468 4702l25-3 21 3-25 1z"/><path color="#2f80fb" d="M1443 4705l25-3 21 1-25 3z"/><path color="#2e84f9" d="M1418 4709l25-4 21 1-25 3z"/><path color="#2e87f7" d="M1393 4714l25-5 21 0-25 5z"/><path color="#2d8af5" d="M1368 4719l25-5 21 0-25 5z"/><path color="#2d8df2" d="M1343 4725l25-6 21 0-25 5z"/><path color="#2c8ff1" d="M1318 4732l25-7 21-1-25 6z"/><path color="#2c91ef" d="M1293 4739l25-7 21-2-25 7z"/><path color="#2a92ee" d="M1268 4747l25-8 21-2-25 7z"/><path color="#2994ed" d="M1243 4754l25-7 21-3-25 8z"/><path color="#23a0e5" d="M2489 4254l25-13 21 4-25 13z"/><path color="#249fe5" d="M2464 4267l25-13 21 4-25 13z"/><path color="#259de6" d="M2439 4281l25-14 21 4-25 14z"/><path color="#259be7" d="M2414 4295l25-14 21 4-25 15z"/><path color="#2699e9" d="M2389 4310l25-15 21 5-25 15z"/><path color="#2797eb" d="M2364 4325l25-15 21 5-25 15z"/><path color="#2994ed" d="M2339 4341l25-16 21 5-25 17z"/><path color="#2c90ef" d="M2314 4358l25-17 21 6-25 17z"/><path color="#2d8cf3" d="M2289 4376l25-18 21 6-25 18z"/><path color="#2d88f6" d="M2264 4395l25-19 21 6-25 20z"/><path color="#2e83f9" d="M2239 4415l25-20 21 7-25 20z"/><path color="#317dfc" d="M2214 4435l25-20 21 7-25 21z"/><path color="#3876fe" d="M2189 4457l25-22 21 8-25 22z"/><path color="#3f6eff" d="M2164 4479l25-22 21 8-25 23z"/><path color="#4466fd" d="M2139 4502l25-23 21 9-25 24z"/><path color="#465efb" d="M2114 4526l25-24 21 10-25 24z"/><path color="#4756f7" d="M2089 4549l25-23 21 10-25 25z"/><path color="#484ff2" d="M2064 4573l25-24 21 12-25 24z"/><path color="#4747eb" d="M2039 4596l25-23 21 12-25 24z"/><path color="#473fe3" d="M2014 4619l25-23 21 13-25 23z"/><path color="#4639d9" d="M1989 4640l25-21 21 13-25 22z"/><path color="#4434cf" d="M1964 4659l25-19 21 14-25 19z"/><path color="#4331c6" d="M1939 4676l25-17 21 14-25 18z"/><path color="#422ec0" d="M1914 4690l25-14 21 15-25 14z"/><path color="#412dbc" d="M1889 4702l25-12 21 15-25 12z"/><path color="#412dbc" d="M1864 4710l25-8 21 15-25 9z"/><path color="#422ec0" d="M1839 4716l25-6 21 16-25 6z"/><path color="#4331c6" d="M1814 4720l25-4 21 16-25 3z"/><path color="#4434cf" d="M1789 4721l25-1 21 15-25 1z"/><path color="#4639d9" d="M1764 4721l25 0 21 15-25-1z"/><path color="#473fe3" d="M1739 4719l25 2 21 14-25-3z"/><path color="#4747eb" d="M1714 4716l25 3 21 13-25-4z"/><path color="#484ff2" d="M1689 4713l25 3 21 12-25-4z"/><path color="#4756f7" d="M1664 4710l25 3 21 11-25-4z"/><path color="#465efb" d="M1639 4706l25 4 21 10-25-4z"/><path color="#4466fd" d="M1614 4704l25 2 21 10-25-3z"/><path color="#3f6eff" d="M1589 4702l25 2 21 9-25-2z"/><path color="#3876fe" d="M1564 4701l25 1 21 9-25-2z"/><path color="#317dfc" d="M1539 4701l25 0 21 8-25-1z"/><path color="#2e83f9" d="M1514 4702l25-1 21 7-25 0z"/><path color="#2d88f6" d="M1489 4703l25-1 21 6-25 2z"/><path color="#2d8cf3" d="M1464 4706l25-3 21 7-25 2z"/><path color="#2c90ef" d="M1439 4709l25-3 21 6-25 3z"/><path color="#2994ed" d="M1414 4714l25-5 21 6-25 4z"/><path color="#2797eb" d="M1389 4719l25-5 21 5-25 4z"/><path color="#2699e9" d="M1364 4724l25-5 21 4-25 6z"/><path color="#259be7" d="M1339 4730l25-6 21 5-25 6z"/><path color="#259de6" d="M1314 4737l25-7 21 5-25 6z"/><path color="#249fe5" d="M1289 4744l25-7 21 4-25 7z"/><path color="#23a0e5" d="M1264 4752l25-8 21 4-25 8z"/><path color="#1caadf" d="M2510 4258l25-13 22 6-25 13z"/><path color="#1da9e0" d="M2485 4271l25-13 22 6-25 13z"/><path color="#1ea7e1" d="M2460 4285l25-14 22 6-25 15z"/><path color="#1fa5e2" d="M2435 4300l25-15 22 7-25 14z"/><path color="#21a3e3" d="M2410 4315l25-15 22 6-25 15z"/><path color="#23a1e5" d="M2385 4330l25-15 22 6-25 16z"/><path color="#249ee6" d="M2360 4347l25-17 22 7-25 17z"/><path color="#269ae8" d="M2335 4364l25-17 22 7-25 18z"/><path color="#2797eb" d="M2310 4382l25-18 22 8-25 19z"/><path color="#2b92ee" d="M2285 4402l25-20 22 9-25 19z"/><path color="#2d8df2" d="M2260 4422l25-20 22 8-25 21z"/><path color="#2e87f7" d="M2235 4443l25-21 22 9-25 21z"/><path color="#2f80fa" d="M2210 4465l25-22 22 9-25 23z"/><path color="#3579fd" d="M2185 4488l25-23 22 10-25 24z"/><path color="#3d70ff" d="M2160 4512l25-24 22 11-25 24z"/><path color="#4368fd" d="M2135 4536l25-24 22 11-25 25z"/><path color="#465ffb" d="M2110 4561l25-25 22 12-25 25z"/><path color="#4757f7" d="M2085 4585l25-24 22 12-25 25z"/><path color="#484ef1" d="M2060 4609l25-24 22 13-25 25z"/><path color="#4747eb" d="M2035 4632l25-23 22 14-25 23z"/><path color="#473fe3" d="M2010 4654l25-22 22 14-25 22z"/><path color="#463adb" d="M1985 4673l25-19 22 14-25 20z"/><path color="#4535d3" d="M1960 4691l25-18 22 15-25 18z"/><path color="#4433cc" d="M1935 4705l25-14 22 15-25 15z"/><path color="#4332c9" d="M1910 4717l25-12 22 16-25 12z"/><path color="#4332c9" d="M1885 4726l25-9 22 16-25 8z"/><path color="#4433cc" d="M1860 4732l25-6 22 15-25 6z"/><path color="#4535d3" d="M1835 4735l25-3 22 15-25 3z"/><path color="#463adb" d="M1810 4736l25-1 22 15-25 0z"/><path color="#473fe3" d="M1785 4735l25 1 22 14-25-1z"/><path color="#4747eb" d="M1760 4732l25 3 22 14-25-4z"/><path color="#484ef1" d="M1735 4728l25 4 22 13-25-4z"/><path color="#4757f7" d="M1710 4724l25 4 22 13-25-4z"/><path color="#465ffb" d="M1685 4720l25 4 22 13-25-5z"/><path color="#4368fd" d="M1660 4716l25 4 22 12-25-5z"/><path color="#3d70ff" d="M1635 4713l25 3 22 11-25-3z"/><path color="#3579fd" d="M1610 4711l25 2 22 11-25-4z"/><path color="#2f80fa" d="M1585 4709l25 2 22 9-25-2z"/><path color="#2e87f7" d="M1560 4708l25 1 22 9-25-1z"/><path color="#2d8df2" d="M1535 4708l25 0 22 9-25 0z"/><path color="#2b92ee" d="M1510 4710l25-2 22 9-25 1z"/><path color="#2797eb" d="M1485 4712l25-2 22 8-25 1z"/><path color="#269ae8" d="M1460 4715l25-3 22 7-25 3z"/><path color="#249ee6" d="M1435 4719l25-4 22 7-25 4z"/><path color="#23a1e5" d="M1410 4723l25-4 22 7-25 4z"/><path color="#21a3e3" d="M1385 4729l25-6 22 7-25 5z"/><path color="#1fa5e2" d="M1360 4735l25-6 22 6-25 6z"/><path color="#1ea7e1" d="M1335 4741l25-6 22 6-25 7z"/><path color="#1da9e0" d="M1310 4748l25-7 22 7-25 7z"/><path color="#1caadf" d="M1285 4756l25-8 22 7-25 7z"/><path color="#10b2d5" d="M2532 4264l25-13 21 7-25 14z"/><path color="#13b1d7" d="M2507 4277l25-13 21 8-25 13z"/><path color="#15afd9" d="M2482 4292l25-15 21 8-25 14z"/><path color="#18aedb" d="M2457 4306l25-14 21 7-25 15z"/><path color="#1aacdd" d="M2432 4321l25-15 21 8-25 16z"/><path color="#1ca9df" d="M2407 4337l25-16 21 9-25 16z"/><path color="#1fa6e2" d="M2382 4354l25-17 21 9-25 17z"/><path color="#21a3e3" d="M2357 4372l25-18 21 9-25 18z"/><path color="#249fe5" d="M2332 4391l25-19 21 9-25 19z"/><path color="#259be8" d="M2307 4410l25-19 21 9-25 20z"/><path color="#2896ec" d="M2282 4431l25-21 21 10-25 21z"/><path color="#2c90f0" d="M2257 4452l25-21 21 10-25 22z"/><path color="#2d8af5" d="M2232 4475l25-23 21 11-25 23z"/><path color="#2f82f9" d="M2207 4499l25-24 21 11-25 24z"/><path color="#347afd" d="M2182 4523l25-24 21 11-25 25z"/><path color="#3d71ff" d="M2157 4548l25-25 21 12-25 25z"/><path color="#4367fd" d="M2132 4573l25-25 21 12-25 26z"/><path color="#465efb" d="M2107 4598l25-25 21 13-25 26z"/><path color="#4756f7" d="M2082 4623l25-25 21 14-25 25z"/><path color="#484ef1" d="M2057 4646l25-23 21 14-25 24z"/><path color="#4746ea" d="M2032 4668l25-22 21 15-25 22z"/><path color="#4740e4" d="M2007 4688l25-20 21 15-25 20z"/><path color="#463bdd" d="M1982 4706l25-18 21 15-25 18z"/><path color="#4538d8" d="M1957 4721l25-15 21 15-25 15z"/><path color="#4536d5" d="M1932 4733l25-12 21 15-25 12z"/><path color="#4536d5" d="M1907 4741l25-8 21 15-25 9z"/><path color="#4538d8" d="M1882 4747l25-6 21 16-25 5z"/><path color="#463bdd" d="M1857 4750l25-3 21 15-25 3z"/><path color="#4740e4" d="M1832 4750l25 0 21 15-25 0z"/><path color="#4746ea" d="M1807 4749l25 1 21 15-25-2z"/><path color="#484ef1" d="M1782 4745l25 4 21 14-25-4z"/><path color="#4756f7" d="M1757 4741l25 4 21 14-25-4z"/><path color="#465efb" d="M1732 4737l25 4 21 14-25-6z"/><path color="#4367fd" d="M1707 4732l25 5 21 12-25-5z"/><path color="#3d71ff" d="M1682 4727l25 5 21 12-25-5z"/><path color="#347afd" d="M1657 4724l25 3 21 12-25-4z"/><path color="#2f82f9" d="M1632 4720l25 4 21 11-25-4z"/><path color="#2d8af5" d="M1607 4718l25 2 21 11-25-3z"/><path color="#2c90f0" d="M1582 4717l25 1 21 10-25-1z"/><path color="#2896ec" d="M1557 4717l25 0 21 10-25-1z"/><path color="#259be8" d="M1532 4718l25-1 21 9-25 1z"/><path color="#249fe5" d="M1507 4719l25-1 21 9-25 1z"/><path color="#21a3e3" d="M1482 4722l25-3 21 9-25 3z"/><path color="#1fa6e2" d="M1457 4726l25-4 21 9-25 3z"/><path color="#1ca9df" d="M1432 4730l25-4 21 8-25 4z"/><path color="#1aacdd" d="M1407 4735l25-5 21 8-25 5z"/><path color="#18aedb" d="M1382 4741l25-6 21 8-25 6z"/><path color="#15afd9" d="M1357 4748l25-7 21 8-25 6z"/><path color="#13b1d7" d="M1332 4755l25-7 21 7-25 7z"/><path color="#10b2d5" d="M1307 4762l25-7 21 7-25 7z"/><path color="#01b8ca" d="M2553 4272l25-14 21 9-25 13z"/><path color="#02b7cc" d="M2528 4285l25-13 21 8-25 14z"/><path color="#05b6ce" d="M2503 4299l25-14 21 9-25 14z"/><path color="#09b4d1" d="M2478 4314l25-15 21 9-25 15z"/><path color="#0eb2d4" d="M2453 4330l25-16 21 9-25 16z"/><path color="#13b0d7" d="M2428 4346l25-16 21 9-25 16z"/><path color="#18aedb" d="M2403 4363l25-17 21 9-25 18z"/><path color="#1babde" d="M2378 4381l25-18 21 10-25 18z"/><path color="#1ea7e1" d="M2353 4400l25-19 21 10-25 19z"/><path color="#21a3e4" d="M2328 4420l25-20 21 10-25 20z"/><path color="#249ee6" d="M2303 4441l25-21 21 10-25 21z"/><path color="#2698ea" d="M2278 4463l25-22 21 10-25 23z"/><path color="#2b92ee" d="M2253 4486l25-23 21 11-25 23z"/><path color="#2d8af4" d="M2228 4510l25-24 21 11-25 25z"/><path color="#2e83f9" d="M2203 4535l25-25 21 12-25 25z"/><path color="#347afd" d="M2178 4560l25-25 21 12-25 26z"/><path color="#3e70ff" d="M2153 4586l25-26 21 13-25 26z"/><path color="#4466fd" d="M2128 4612l25-26 21 13-25 26z"/><path color="#465dfa" d="M2103 4637l25-25 21 13-25 26z"/><path color="#4855f6" d="M2078 4661l25-24 21 14-25 24z"/><path color="#484df0" d="M2053 4683l25-22 21 14-25 23z"/><path color="#4746eb" d="M2028 4703l25-20 21 15-25 21z"/><path color="#4741e5" d="M2003 4721l25-18 21 16-25 18z"/><path color="#463ee1" d="M1978 4736l25-15 21 16-25 15z"/><path color="#463cde" d="M1953 4748l25-12 21 16-25 12z"/><path color="#463cde" d="M1928 4757l25-9 21 16-25 8z"/><path color="#463ee1" d="M1903 4762l25-5 21 15-25 5z"/><path color="#4741e5" d="M1878 4765l25-3 21 15-25 3z"/><path color="#4746eb" d="M1853 4765l25 0 21 15-25 0z"/><path color="#484df0" d="M1828 4763l25 2 21 15-25-3z"/><path color="#4855f6" d="M1803 4759l25 4 21 14-25-4z"/><path color="#465dfa" d="M1778 4755l25 4 21 14-25-5z"/><path color="#4466fd" d="M1753 4749l25 6 21 13-25-5z"/><path color="#3e70ff" d="M1728 4744l25 5 21 14-25-6z"/><path color="#347afd" d="M1703 4739l25 5 21 13-25-6z"/><path color="#2e83f9" d="M1678 4735l25 4 21 12-25-4z"/><path color="#2d8af4" d="M1653 4731l25 4 21 12-25-4z"/><path color="#2b92ee" d="M1628 4728l25 3 21 12-25-3z"/><path color="#2698ea" d="M1603 4727l25 1 21 12-25-2z"/><path color="#249ee6" d="M1578 4726l25 1 21 11-25-1z"/><path color="#21a3e4" d="M1553 4727l25-1 21 11-25 0z"/><path color="#1ea7e1" d="M1528 4728l25-1 21 10-25 1z"/><path color="#1babde" d="M1503 4731l25-3 21 10-25 2z"/><path color="#18aedb" d="M1478 4734l25-3 21 9-25 4z"/><path color="#13b0d7" d="M1453 4738l25-4 21 10-25 4z"/><path color="#0eb2d4" d="M1428 4743l25-5 21 10-25 5z"/><path color="#09b4d1" d="M1403 4749l25-6 21 10-25 5z"/><path color="#05b6ce" d="M1378 4755l25-6 21 9-25 6z"/><path color="#02b7cc" d="M1353 4762l25-7 21 9-25 7z"/><path color="#01b8ca" d="M1328 4769l25-7 21 9-25 7z"/><path color="#08bcbe" d="M2574 4280l25-13 21 10-25 13z"/><path color="#05bcc0" d="M2549 4294l25-14 21 10-25 14z"/><path color="#02bbc3" d="M2524 4308l25-14 21 10-25 14z"/><path color="#00b9c6" d="M2499 4323l25-15 21 10-25 15z"/><path color="#01b8c9" d="M2474 4339l25-16 21 10-25 16z"/><path color="#04b6cd" d="M2449 4355l25-16 21 10-25 17z"/><path color="#0ab4d1" d="M2424 4373l25-18 21 11-25 17z"/><path color="#11b1d6" d="M2399 4391l25-18 21 10-25 18z"/><path color="#18aedb" d="M2374 4410l25-19 21 10-25 20z"/><path color="#1caadf" d="M2349 4430l25-20 21 11-25 20z"/><path color="#20a5e2" d="M2324 4451l25-21 21 11-25 22z"/><path color="#249fe5" d="M2299 4474l25-23 21 12-25 22z"/><path color="#2699e9" d="M2274 4497l25-23 21 11-25 24z"/><path color="#2a92ee" d="M2249 4522l25-25 21 12-25 25z"/><path color="#2d8af4" d="M2224 4547l25-25 21 12-25 26z"/><path color="#2f82fa" d="M2199 4573l25-26 21 13-25 26z"/><path color="#3678fd" d="M2174 4599l25-26 21 13-25 27z"/><path color="#3f6eff" d="M2149 4625l25-26 21 14-25 26z"/><path color="#4464fd" d="M2124 4651l25-26 21 14-25 26z"/><path color="#475bfa" d="M2099 4675l25-24 21 14-25 25z"/><path color="#4854f5" d="M2074 4698l25-23 21 15-25 23z"/><path color="#484df0" d="M2049 4719l25-21 21 15-25 21z"/><path color="#4848ec" d="M2024 4737l25-18 21 15-25 18z"/><path color="#4744e8" d="M1999 4752l25-15 21 15-25 15z"/><path color="#4742e6" d="M1974 4764l25-12 21 15-25 12z"/><path color="#4742e6" d="M1949 4772l25-8 21 15-25 9z"/><path color="#4744e8" d="M1924 4777l25-5 21 16-25 5z"/><path color="#4848ec" d="M1899 4780l25-3 21 16-25 2z"/><path color="#484df0" d="M1874 4780l25 0 21 15-25-1z"/><path color="#4854f5" d="M1849 4777l25 3 21 14-25-2z"/><path color="#475bfa" d="M1824 4773l25 4 21 15-25-5z"/><path color="#4464fd" d="M1799 4768l25 5 21 14-25-5z"/><path color="#3f6eff" d="M1774 4763l25 5 21 14-25-6z"/><path color="#3678fd" d="M1749 4757l25 6 21 13-25-6z"/><path color="#2f82fa" d="M1724 4751l25 6 21 13-25-6z"/><path color="#2d8af4" d="M1699 4747l25 4 21 13-25-5z"/><path color="#2a92ee" d="M1674 4743l25 4 21 12-25-4z"/><path color="#2699e9" d="M1649 4740l25 3 21 12-25-4z"/><path color="#249fe5" d="M1624 4738l25 2 21 11-25-2z"/><path color="#20a5e2" d="M1599 4737l25 1 21 11-25-1z"/><path color="#1caadf" d="M1574 4737l25 0 21 11-25 0z"/><path color="#18aedb" d="M1549 4738l25-1 21 11-25 1z"/><path color="#11b1d6" d="M1524 4740l25-2 21 11-25 2z"/><path color="#0ab4d1" d="M1499 4744l25-4 21 11-25 3z"/><path color="#04b6cd" d="M1474 4748l25-4 21 10-25 4z"/><path color="#01b8c9" d="M1449 4753l25-5 21 10-25 5z"/><path color="#00b9c6" d="M1424 4758l25-5 21 10-25 5z"/><path color="#02bbc3" d="M1399 4764l25-6 21 10-25 6z"/><path color="#05bcc0" d="M1374 4771l25-7 21 10-25 7z"/><path color="#08bcbe" d="M1349 4778l25-7 21 10-25 7z"/><path color="#1ec0b3" d="M2595 4290l25-13 22 10-25 13z"/><path color="#1abfb5" d="M2570 4304l25-14 22 10-25 14z"/><path color="#14bfb8" d="M2545 4318l25-14 22 10-25 15z"/><path color="#0ebebb" d="M2520 4333l25-15 22 11-25 15z"/><path color="#07bcbf" d="M2495 4349l25-16 22 11-25 16z"/><path color="#02bbc3" d="M2470 4366l25-17 22 11-25 16z"/><path color="#00b9c7" d="M2445 4383l25-17 22 10-25 18z"/><path color="#03b6cc" d="M2420 4401l25-18 22 11-25 19z"/><path color="#0bb4d2" d="M2395 4421l25-20 22 12-25 19z"/><path color="#14b0d8" d="M2370 4441l25-20 22 11-25 21z"/><path color="#1aacdd" d="M2345 4463l25-22 22 12-25 22z"/><path color="#1fa6e2" d="M2320 4485l25-22 22 12-25 23z"/><path color="#23a0e5" d="M2295 4509l25-24 22 13-25 24z"/><path color="#2699e9" d="M2270 4534l25-25 22 13-25 25z"/><path color="#2b91ef" d="M2245 4560l25-26 22 13-25 26z"/><path color="#2d89f5" d="M2220 4586l25-26 22 13-25 26z"/><path color="#2f80fb" d="M2195 4613l25-27 22 13-25 27z"/><path color="#3876fe" d="M2170 4639l25-26 22 13-25 27z"/><path color="#416cfe" d="M2145 4665l25-26 22 14-25 26z"/><path color="#4562fc" d="M2120 4690l25-25 22 14-25 25z"/><path color="#475af9" d="M2095 4713l25-23 22 14-25 24z"/><path color="#4854f5" d="M2070 4734l25-21 22 15-25 21z"/><path color="#484ef1" d="M2045 4752l25-18 22 15-25 18z"/><path color="#484aee" d="M2020 4767l25-15 22 15-25 16z"/><path color="#4848ec" d="M1995 4779l25-12 22 16-25 12z"/><path color="#4848ec" d="M1970 4788l25-9 22 16-25 8z"/><path color="#484aee" d="M1945 4793l25-5 22 15-25 5z"/><path color="#484ef1" d="M1920 4795l25-2 22 15-25 2z"/><path color="#4854f5" d="M1895 4794l25 1 22 15-25-1z"/><path color="#475af9" d="M1870 4792l25 2 22 15-25-2z"/><path color="#4562fc" d="M1845 4787l25 5 22 15-25-5z"/><path color="#416cfe" d="M1820 4782l25 5 22 15-25-6z"/><path color="#3876fe" d="M1795 4776l25 6 22 14-25-6z"/><path color="#2f80fb" d="M1770 4770l25 6 22 14-25-7z"/><path color="#2d89f5" d="M1745 4764l25 6 22 13-25-6z"/><path color="#2b91ef" d="M1720 4759l25 5 22 13-25-5z"/><path color="#2699e9" d="M1695 4755l25 4 22 13-25-5z"/><path color="#23a0e5" d="M1670 4751l25 4 22 12-25-4z"/><path color="#1fa6e2" d="M1645 4749l25 2 22 12-25-2z"/><path color="#1aacdd" d="M1620 4748l25 1 22 12-25-2z"/><path color="#14b0d8" d="M1595 4748l25 0 22 11-25 0z"/><path color="#0bb4d2" d="M1570 4749l25-1 22 11-25 1z"/><path color="#03b6cc" d="M1545 4751l25-2 22 11-25 2z"/><path color="#00b9c7" d="M1520 4754l25-3 22 11-25 3z"/><path color="#02bbc3" d="M1495 4758l25-4 22 11-25 4z"/><path color="#07bcbf" d="M1470 4763l25-5 22 11-25 4z"/><path color="#0ebebb" d="M1445 4768l25-5 22 10-25 6z"/><path color="#14bfb8" d="M1420 4774l25-6 22 11-25 5z"/><path color="#1abfb5" d="M1395 4781l25-7 22 10-25 7z"/><path color="#1ec0b3" d="M1370 4788l25-7 22 10-25 7z"/><path color="#2cc4a7" d="M2617 4300l25-13 21 11-25 14z"/><path color="#29c3aa" d="M2592 4314l25-14 21 12-25 14z"/><path color="#26c2ad" d="M2567 4329l25-15 21 12-25 14z"/><path color="#22c1b0" d="M2542 4344l25-15 21 11-25 15z"/><path color="#1cc0b4" d="M2517 4360l25-16 21 11-25 16z"/><path color="#14beb8" d="M2492 4376l25-16 21 11-25 17z"/><path color="#0abdbd" d="M2467 4394l25-18 21 12-25 18z"/><path color="#02bbc3" d="M2442 4413l25-19 21 12-25 18z"/><path color="#00b8c9" d="M2417 4432l25-19 21 11-25 20z"/><path color="#06b5cf" d="M2392 4453l25-21 21 12-25 21z"/><path color="#11b1d6" d="M2367 4475l25-22 21 12-25 22z"/><path color="#19acdc" d="M2342 4498l25-23 21 12-25 23z"/><path color="#1ea7e1" d="M2317 4522l25-24 21 12-25 25z"/><path color="#23a0e5" d="M2292 4547l25-25 21 13-25 25z"/><path color="#2698ea" d="M2267 4573l25-26 21 13-25 26z"/><path color="#2c90f0" d="M2242 4599l25-26 21 13-25 27z"/><path color="#2e87f7" d="M2217 4626l25-27 21 14-25 27z"/><path color="#317dfc" d="M2192 4653l25-27 21 14-25 27z"/><path color="#3b73ff" d="M2167 4679l25-26 21 14-25 27z"/><path color="#4269fe" d="M2142 4704l25-25 21 15-25 25z"/><path color="#4661fc" d="M2117 4728l25-24 21 15-25 24z"/><path color="#475af9" d="M2092 4749l25-21 21 15-25 21z"/><path color="#4854f6" d="M2067 4767l25-18 21 15-25 19z"/><path color="#4851f3" d="M2042 4783l25-16 21 16-25 15z"/><path color="#484ff2" d="M2017 4795l25-12 21 15-25 12z"/><path color="#484ff2" d="M1992 4803l25-8 21 15-25 9z"/><path color="#4851f3" d="M1967 4808l25-5 21 16-25 5z"/><path color="#4854f6" d="M1942 4810l25-2 21 16-25 1z"/><path color="#475af9" d="M1917 4809l25 1 21 15-25-1z"/><path color="#4661fc" d="M1892 4807l25 2 21 15-25-3z"/><path color="#4269fe" d="M1867 4802l25 5 21 14-25-5z"/><path color="#3b73ff" d="M1842 4796l25 6 21 14-25-6z"/><path color="#317dfc" d="M1817 4790l25 6 21 14-25-6z"/><path color="#2e87f7" d="M1792 4783l25 7 21 14-25-7z"/><path color="#2c90f0" d="M1767 4777l25 6 21 14-25-6z"/><path color="#2698ea" d="M1742 4772l25 5 21 14-25-6z"/><path color="#23a0e5" d="M1717 4767l25 5 21 13-25-5z"/><path color="#1ea7e1" d="M1692 4763l25 4 21 13-25-4z"/><path color="#19acdc" d="M1667 4761l25 2 21 13-25-3z"/><path color="#11b1d6" d="M1642 4759l25 2 21 12-25-1z"/><path color="#06b5cf" d="M1617 4759l25 0 21 13-25-1z"/><path color="#00b8c9" d="M1592 4760l25-1 21 12-25 1z"/><path color="#02bbc3" d="M1567 4762l25-2 21 12-25 2z"/><path color="#0abdbd" d="M1542 4765l25-3 21 12-25 2z"/><path color="#14beb8" d="M1517 4769l25-4 21 11-25 4z"/><path color="#1cc0b4" d="M1492 4773l25-4 21 11-25 5z"/><path color="#22c1b0" d="M1467 4779l25-6 21 12-25 5z"/><path color="#26c2ad" d="M1442 4784l25-5 21 11-25 6z"/><path color="#29c3aa" d="M1417 4791l25-7 21 12-25 6z"/><path color="#2cc4a7" d="M1392 4798l25-7 21 11-25 7z"/><path color="#34c79b" d="M2638 4312l25-14 21 12-25 13z"/><path color="#32c69e" d="M2613 4326l25-14 21 11-25 14z"/><path color="#30c5a1" d="M2588 4340l25-14 21 11-25 15z"/><path color="#2ec4a5" d="M2563 4355l25-15 21 12-25 15z"/><path color="#2ac3a9" d="M2538 4371l25-16 21 12-25 16z"/><path color="#25c2ae" d="M2513 4388l25-17 21 12-25 17z"/><path color="#1dc0b3" d="M2488 4406l25-18 21 12-25 18z"/><path color="#13beb9" d="M2463 4424l25-18 21 12-25 19z"/><path color="#06bcbf" d="M2438 4444l25-20 21 13-25 20z"/><path color="#00b9c6" d="M2413 4465l25-21 21 13-25 21z"/><path color="#04b6cd" d="M2388 4487l25-22 21 13-25 22z"/><path color="#10b2d5" d="M2363 4510l25-23 21 13-25 23z"/><path color="#19acdc" d="M2338 4535l25-25 21 13-25 25z"/><path color="#1fa6e2" d="M2313 4560l25-25 21 13-25 25z"/><path color="#249ee6" d="M2288 4586l25-26 21 13-25 27z"/><path color="#2796eb" d="M2263 4613l25-27 21 14-25 27z"/><path color="#2d8ef2" d="M2238 4640l25-27 21 14-25 27z"/><path color="#2e84f8" d="M2213 4667l25-27 21 14-25 28z"/><path color="#337bfd" d="M2188 4694l25-27 21 15-25 26z"/><path color="#3d70ff" d="M2163 4719l25-25 21 14-25 26z"/><path color="#4368fe" d="M2138 4743l25-24 21 15-25 24z"/><path color="#4660fc" d="M2113 4764l25-21 21 15-25 21z"/><path color="#475bf9" d="M2088 4783l25-19 21 15-25 19z"/><path color="#4757f7" d="M2063 4798l25-15 21 15-25 16z"/><path color="#4855f6" d="M2038 4810l25-12 21 16-25 12z"/><path color="#4855f6" d="M2013 4819l25-9 21 16-25 8z"/><path color="#4757f7" d="M1988 4824l25-5 21 15-25 5z"/><path color="#475bf9" d="M1963 4825l25-1 21 15-25 2z"/><path color="#4660fc" d="M1938 4824l25 1 21 16-25-1z"/><path color="#4368fe" d="M1913 4821l25 3 21 16-25-4z"/><path color="#3d70ff" d="M1888 4816l25 5 21 15-25-5z"/><path color="#337bfd" d="M1863 4810l25 6 21 15-25-6z"/><path color="#2e84f8" d="M1838 4804l25 6 21 15-25-7z"/><path color="#2d8ef2" d="M1813 4797l25 7 21 14-25-7z"/><path color="#2796eb" d="M1788 4791l25 6 21 14-25-7z"/><path color="#249ee6" d="M1763 4785l25 6 21 13-25-6z"/><path color="#1fa6e2" d="M1738 4780l25 5 21 13-25-5z"/><path color="#19acdc" d="M1713 4776l25 4 21 13-25-4z"/><path color="#10b2d5" d="M1688 4773l25 3 21 13-25-3z"/><path color="#04b6cd" d="M1663 4772l25 1 21 13-25-2z"/><path color="#00b9c6" d="M1638 4771l25 1 21 12-25 0z"/><path color="#06bcbf" d="M1613 4772l25-1 21 13-25 0z"/><path color="#13beb9" d="M1588 4774l25-2 21 12-25 2z"/><path color="#1dc0b3" d="M1563 4776l25-2 21 12-25 2z"/><path color="#25c2ae" d="M1538 4780l25-4 21 12-25 4z"/><path color="#2ac3a9" d="M1513 4785l25-5 21 12-25 4z"/><path color="#2ec4a5" d="M1488 4790l25-5 21 11-25 6z"/><path color="#30c5a1" d="M1463 4796l25-6 21 12-25 5z"/><path color="#32c69e" d="M1438 4802l25-6 21 11-25 7z"/><path color="#34c79b" d="M1413 4809l25-7 21 12-25 7z"/><path color="#3fca8e" d="M2659 4323l25-13 21 12-25 14z"/><path color="#3cc991" d="M2634 4337l25-14 21 13-25 14z"/><path color="#38c895" d="M2609 4352l25-15 21 13-25 14z"/><path color="#35c799" d="M2584 4367l25-15 21 12-25 16z"/><path color="#32c69e" d="M2559 4383l25-16 21 13-25 16z"/><path color="#2fc5a3" d="M2534 4400l25-17 21 13-25 17z"/><path color="#2ac3a9" d="M2509 4418l25-18 21 13-25 18z"/><path color="#24c1af" d="M2484 4437l25-19 21 13-25 18z"/><path color="#19bfb5" d="M2459 4457l25-20 21 12-25 20z"/><path color="#0bbdbd" d="M2434 4478l25-21 21 12-25 22z"/><path color="#01bac5" d="M2409 4500l25-22 21 13-25 22z"/><path color="#03b6cd" d="M2384 4523l25-23 21 13-25 24z"/><path color="#11b2d5" d="M2359 4548l25-25 21 14-25 24z"/><path color="#1aacdd" d="M2334 4573l25-25 21 13-25 26z"/><path color="#20a4e3" d="M2309 4600l25-27 21 14-25 27z"/><path color="#259de7" d="M2284 4627l25-27 21 14-25 27z"/><path color="#2994ed" d="M2259 4654l25-27 21 14-25 28z"/><path color="#2d8bf4" d="M2234 4682l25-28 21 15-25 27z"/><path color="#2f81fa" d="M2209 4708l25-26 21 14-25 27z"/><path color="#3678fe" d="M2184 4734l25-26 21 15-25 26z"/><path color="#3f6eff" d="M2159 4758l25-24 21 15-25 24z"/><path color="#4367fd" d="M2134 4779l25-21 21 15-25 22z"/><path color="#4661fc" d="M2109 4798l25-19 21 16-25 18z"/><path color="#475dfa" d="M2084 4814l25-16 21 15-25 16z"/><path color="#475bf9" d="M2059 4826l25-12 21 15-25 12z"/><path color="#475bf9" d="M2034 4834l25-8 21 15-25 8z"/><path color="#475dfa" d="M2009 4839l25-5 21 15-25 5z"/><path color="#4661fc" d="M1984 4841l25-2 21 15-25 2z"/><path color="#4367fd" d="M1959 4840l25 1 21 15-25-1z"/><path color="#3f6eff" d="M1934 4836l25 4 21 15-25-4z"/><path color="#3678fe" d="M1909 4831l25 5 21 15-25-5z"/><path color="#2f81fa" d="M1884 4825l25 6 21 15-25-7z"/><path color="#2d8bf4" d="M1859 4818l25 7 21 14-25-7z"/><path color="#2994ed" d="M1834 4811l25 7 21 14-25-7z"/><path color="#259de7" d="M1809 4804l25 7 21 14-25-7z"/><path color="#20a4e3" d="M1784 4798l25 6 21 14-25-6z"/><path color="#1aacdd" d="M1759 4793l25 5 21 14-25-5z"/><path color="#11b2d5" d="M1734 4789l25 4 21 14-25-5z"/><path color="#03b6cd" d="M1709 4786l25 3 21 13-25-3z"/><path color="#01bac5" d="M1684 4784l25 2 21 13-25-2z"/><path color="#0bbdbd" d="M1659 4784l25 0 21 13-25 0z"/><path color="#19bfb5" d="M1634 4784l25 0 21 13-25 0z"/><path color="#24c1af" d="M1609 4786l25-2 21 13-25 1z"/><path color="#2ac3a9" d="M1584 4788l25-2 21 12-25 3z"/><path color="#2fc5a3" d="M1559 4792l25-4 21 13-25 4z"/><path color="#32c69e" d="M1534 4796l25-4 21 13-25 4z"/><path color="#35c799" d="M1509 4802l25-6 21 13-25 5z"/><path color="#38c895" d="M1484 4807l25-5 21 12-25 6z"/><path color="#3cc991" d="M1459 4814l25-7 21 13-25 6z"/><path color="#3fca8e" d="M1434 4821l25-7 21 12-25 7z"/><path color="#4fcc80" d="M2680 4336l25-14 22 13-25 13z"/><path color="#4acb84" d="M2655 4350l25-14 22 12-25 14z"/><path color="#45cb88" d="M2630 4364l25-14 22 12-25 15z"/><path color="#40ca8d" d="M2605 4380l25-16 22 13-25 16z"/><path color="#3bc992" d="M2580 4396l25-16 22 13-25 16z"/><path color="#36c898" d="M2555 4413l25-17 22 13-25 17z"/><path color="#32c69e" d="M2530 4431l25-18 22 13-25 18z"/><path color="#2ec4a5" d="M2505 4449l25-18 22 13-25 19z"/><path color="#27c2ac" d="M2480 4469l25-20 22 14-25 20z"/><path color="#1cc0b3" d="M2455 4491l25-22 22 14-25 21z"/><path color="#0dbdbc" d="M2430 4513l25-22 22 13-25 23z"/><path color="#01bac5" d="M2405 4537l25-24 22 14-25 23z"/><path color="#04b6ce" d="M2380 4561l25-24 22 13-25 25z"/><path color="#13b1d7" d="M2355 4587l25-26 22 14-25 26z"/><path color="#1caadf" d="M2330 4614l25-27 22 14-25 27z"/><path color="#22a2e4" d="M2305 4641l25-27 22 14-25 27z"/><path color="#269ae8" d="M2280 4669l25-28 22 14-25 28z"/><path color="#2b91ef" d="M2255 4696l25-27 22 14-25 28z"/><path color="#2d88f6" d="M2230 4723l25-27 22 15-25 27z"/><path color="#307ffb" d="M2205 4749l25-26 22 15-25 26z"/><path color="#3876fe" d="M2180 4773l25-24 22 15-25 24z"/><path color="#406efe" d="M2155 4795l25-22 22 15-25 22z"/><path color="#4367fd" d="M2130 4813l25-18 22 15-25 19z"/><path color="#4563fd" d="M2105 4829l25-16 22 16-25 15z"/><path color="#4561fc" d="M2080 4841l25-12 22 15-25 13z"/><path color="#4561fc" d="M2055 4849l25-8 22 16-25 8z"/><path color="#4563fd" d="M2030 4854l25-5 22 16-25 5z"/><path color="#4367fd" d="M2005 4856l25-2 22 16-25 1z"/><path color="#406efe" d="M1980 4855l25 1 22 15-25-1z"/><path color="#3876fe" d="M1955 4851l25 4 22 15-25-4z"/><path color="#307ffb" d="M1930 4846l25 5 22 15-25-5z"/><path color="#2d88f6" d="M1905 4839l25 7 22 15-25-7z"/><path color="#2b91ef" d="M1880 4832l25 7 22 15-25-7z"/><path color="#269ae8" d="M1855 4825l25 7 22 15-25-8z"/><path color="#22a2e4" d="M1830 4818l25 7 22 14-25-7z"/><path color="#1caadf" d="M1805 4812l25 6 22 14-25-6z"/><path color="#13b1d7" d="M1780 4807l25 5 22 14-25-6z"/><path color="#04b6ce" d="M1755 4802l25 5 22 13-25-4z"/><path color="#01bac5" d="M1730 4799l25 3 22 14-25-3z"/><path color="#0dbdbc" d="M1705 4797l25 2 22 14-25-2z"/><path color="#1cc0b3" d="M1680 4797l25 0 22 14-25-1z"/><path color="#27c2ac" d="M1655 4797l25 0 22 13-25 0z"/><path color="#2ec4a5" d="M1630 4798l25-1 22 13-25 2z"/><path color="#32c69e" d="M1605 4801l25-3 22 14-25 2z"/><path color="#36c898" d="M1580 4805l25-4 22 13-25 3z"/><path color="#3bc992" d="M1555 4809l25-4 22 12-25 5z"/><path color="#40ca8d" d="M1530 4814l25-5 22 13-25 5z"/><path color="#45cb88" d="M1505 4820l25-6 22 13-25 6z"/><path color="#4acb84" d="M1480 4826l25-6 22 13-25 6z"/><path color="#4fcc80" d="M1455 4833l25-7 22 13-25 7z"/><path color="#61cd72" d="M2702 4348l25-13 21 13-25 13z"/><path color="#5ccc76" d="M2677 4362l25-14 21 13-25 15z"/><path color="#56cc7b" d="M2652 4377l25-15 21 14-25 14z"/><path color="#50cc80" d="M2627 4393l25-16 21 13-25 16z"/><path color="#49cb85" d="M2602 4409l25-16 21 13-25 16z"/><path color="#41ca8c" d="M2577 4426l25-17 21 13-25 17z"/><path color="#3bc993" d="M2552 4444l25-18 21 13-25 18z"/><path color="#35c79a" d="M2527 4463l25-19 21 13-25 19z"/><path color="#30c5a2" d="M2502 4483l25-20 21 13-25 20z"/><path color="#29c3aa" d="M2477 4504l25-21 21 13-25 22z"/><path color="#1ec0b3" d="M2452 4527l25-23 21 14-25 22z"/><path color="#0cbdbc" d="M2427 4550l25-23 21 13-25 24z"/><path color="#00bac6" d="M2402 4575l25-25 21 14-25 25z"/><path color="#07b5d0" d="M2377 4601l25-26 21 14-25 26z"/><path color="#16afd9" d="M2352 4628l25-27 21 14-25 27z"/><path color="#1da8e1" d="M2327 4655l25-27 21 14-25 28z"/><path color="#23a0e5" d="M2302 4683l25-28 21 15-25 28z"/><path color="#2797eb" d="M2277 4711l25-28 21 15-25 28z"/><path color="#2d8ef1" d="M2252 4738l25-27 21 15-25 27z"/><path color="#2e85f8" d="M2227 4764l25-26 21 15-25 26z"/><path color="#317dfc" d="M2202 4788l25-24 21 15-25 24z"/><path color="#3974ff" d="M2177 4810l25-22 21 15-25 22z"/><path color="#3f6eff" d="M2152 4829l25-19 21 15-25 19z"/><path color="#426afe" d="M2127 4844l25-15 21 15-25 16z"/><path color="#4368fd" d="M2102 4857l25-13 21 16-25 12z"/><path color="#4368fd" d="M2077 4865l25-8 21 15-25 8z"/><path color="#426afe" d="M2052 4870l25-5 21 15-25 5z"/><path color="#3f6eff" d="M2027 4871l25-1 21 15-25 2z"/><path color="#3974ff" d="M2002 4870l25 1 21 16-25-2z"/><path color="#317dfc" d="M1977 4866l25 4 21 15-25-4z"/><path color="#2e85f8" d="M1952 4861l25 5 21 15-25-5z"/><path color="#2d8ef1" d="M1927 4854l25 7 21 15-25-7z"/><path color="#2797eb" d="M1902 4847l25 7 21 15-25-7z"/><path color="#23a0e5" d="M1877 4839l25 8 21 15-25-8z"/><path color="#1da8e1" d="M1852 4832l25 7 21 15-25-7z"/><path color="#16afd9" d="M1827 4826l25 6 21 15-25-7z"/><path color="#07b5d0" d="M1802 4820l25 6 21 14-25-5z"/><path color="#00bac6" d="M1777 4816l25 4 21 15-25-5z"/><path color="#0cbdbc" d="M1752 4813l25 3 21 14-25-3z"/><path color="#1ec0b3" d="M1727 4811l25 2 21 14-25-3z"/><path color="#29c3aa" d="M1702 4810l25 1 21 13-25-1z"/><path color="#30c5a2" d="M1677 4810l25 0 21 13-25 1z"/><path color="#35c79a" d="M1652 4812l25-2 21 14-25 1z"/><path color="#3bc993" d="M1627 4814l25-2 21 13-25 2z"/><path color="#41ca8c" d="M1602 4817l25-3 21 13-25 4z"/><path color="#49cb85" d="M1577 4822l25-5 21 14-25 4z"/><path color="#50cc80" d="M1552 4827l25-5 21 13-25 5z"/><path color="#56cc7b" d="M1527 4833l25-6 21 13-25 6z"/><path color="#5ccc76" d="M1502 4839l25-6 21 13-25 6z"/><path color="#61cd72" d="M1477 4846l25-7 21 13-25 7z"/><path color="#73cd63" d="M2723 4361l25-13 21 13-25 14z"/><path color="#6dcd67" d="M2698 4376l25-15 21 14-25 14z"/><path color="#67cd6c" d="M2673 4390l25-14 21 13-25 15z"/><path color="#61cd72" d="M2648 4406l25-16 21 14-25 16z"/><path color="#59cc78" d="M2623 4422l25-16 21 14-25 16z"/><path color="#51cc7f" d="M2598 4439l25-17 21 14-25 17z"/><path color="#47cb86" d="M2573 4457l25-18 21 14-25 18z"/><path color="#3eca8f" d="M2548 4476l25-19 21 14-25 19z"/><path color="#37c897" d="M2523 4496l25-20 21 14-25 20z"/><path color="#31c6a0" d="M2498 4518l25-22 21 14-25 22z"/><path color="#2ac3aa" d="M2473 4540l25-22 21 14-25 23z"/><path color="#1dc0b3" d="M2448 4564l25-24 21 15-25 23z"/><path color="#0abdbd" d="M2423 4589l25-25 21 14-25 26z"/><path color="#00b9c8" d="M2398 4615l25-26 21 15-25 26z"/><path color="#0bb3d2" d="M2373 4642l25-27 21 15-25 27z"/><path color="#19addc" d="M2348 4670l25-28 21 15-25 28z"/><path color="#20a5e2" d="M2323 4698l25-28 21 15-25 28z"/><path color="#259de7" d="M2298 4726l25-28 21 15-25 28z"/><path color="#2994ed" d="M2273 4753l25-27 21 15-25 27z"/><path color="#2d8bf4" d="M2248 4779l25-26 21 15-25 26z"/><path color="#2e83f9" d="M2223 4803l25-24 21 15-25 25z"/><path color="#327bfc" d="M2198 4825l25-22 21 16-25 22z"/><path color="#3975fe" d="M2173 4844l25-19 21 16-25 19z"/><path color="#3d70ff" d="M2148 4860l25-16 21 16-25 15z"/><path color="#3f6eff" d="M2123 4872l25-12 21 15-25 13z"/><path color="#3f6eff" d="M2098 4880l25-8 21 16-25 8z"/><path color="#3d70ff" d="M2073 4885l25-5 21 16-25 5z"/><path color="#3975fe" d="M2048 4887l25-2 21 16-25 1z"/><path color="#327bfc" d="M2023 4885l25 2 21 15-25-1z"/><path color="#2e83f9" d="M1998 4881l25 4 21 16-25-4z"/><path color="#2d8bf4" d="M1973 4876l25 5 21 16-25-6z"/><path color="#2994ed" d="M1948 4869l25 7 21 15-25-7z"/><path color="#259de7" d="M1923 4862l25 7 21 15-25-8z"/><path color="#20a5e2" d="M1898 4854l25 8 21 14-25-7z"/><path color="#19addc" d="M1873 4847l25 7 21 15-25-8z"/><path color="#0bb3d2" d="M1848 4840l25 7 21 14-25-6z"/><path color="#00b9c8" d="M1823 4835l25 5 21 15-25-6z"/><path color="#0abdbd" d="M1798 4830l25 5 21 14-25-5z"/><path color="#1dc0b3" d="M1773 4827l25 3 21 14-25-3z"/><path color="#2ac3aa" d="M1748 4824l25 3 21 14-25-3z"/><path color="#31c6a0" d="M1723 4823l25 1 21 14-25-1z"/><path color="#37c897" d="M1698 4824l25-1 21 14-25 1z"/><path color="#3eca8f" d="M1673 4825l25-1 21 14-25 1z"/><path color="#47cb86" d="M1648 4827l25-2 21 14-25 2z"/><path color="#51cc7f" d="M1623 4831l25-4 21 14-25 4z"/><path color="#59cc78" d="M1598 4835l25-4 21 14-25 4z"/><path color="#61cd72" d="M1573 4840l25-5 21 14-25 5z"/><path color="#67cd6c" d="M1548 4846l25-6 21 14-25 5z"/><path color="#6dcd67" d="M1523 4852l25-6 21 13-25 7z"/><path color="#73cd63" d="M1498 4859l25-7 21 14-25 6z"/><path color="#86cb55" d="M2744 4375l25-14 21 14-25 14z"/><path color="#80cc59" d="M2719 4389l25-14 21 14-25 14z"/><path color="#7acc5e" d="M2694 4404l25-15 21 14-25 15z"/><path color="#72cd63" d="M2669 4420l25-16 21 14-25 16z"/><path color="#6acd6a" d="M2644 4436l25-16 21 14-25 16z"/><path color="#61cd71" d="M2619 4453l25-17 21 14-25 17z"/><path color="#57cc7a" d="M2594 4471l25-18 21 14-25 18z"/><path color="#4ccb83" d="M2569 4490l25-19 21 14-25 19z"/><path color="#41ca8c" d="M2544 4510l25-20 21 14-25 21z"/><path color="#38c896" d="M2519 4532l25-22 21 15-25 21z"/><path color="#31c6a0" d="M2494 4555l25-23 21 14-25 23z"/><path color="#29c3aa" d="M2469 4578l25-23 21 14-25 24z"/><path color="#1abfb5" d="M2444 4604l25-26 21 15-25 25z"/><path color="#05bcc0" d="M2419 4630l25-26 21 14-25 26z"/><path color="#01b7cb" d="M2394 4657l25-27 21 14-25 28z"/><path color="#11b1d6" d="M2369 4685l25-28 21 15-25 28z"/><path color="#1baade" d="M2344 4713l25-28 21 15-25 28z"/><path color="#22a2e4" d="M2319 4741l25-28 21 15-25 28z"/><path color="#269ae9" d="M2294 4768l25-27 21 15-25 27z"/><path color="#2b91ef" d="M2269 4794l25-26 21 15-25 27z"/><path color="#2d89f5" d="M2244 4819l25-25 21 16-25 24z"/><path color="#2f82fa" d="M2219 4841l25-22 21 15-25 22z"/><path color="#327cfc" d="M2194 4860l25-19 21 15-25 19z"/><path color="#3677fe" d="M2169 4875l25-15 21 15-25 16z"/><path color="#3975fe" d="M2144 4888l25-13 21 16-25 12z"/><path color="#3975fe" d="M2119 4896l25-8 21 15-25 8z"/><path color="#3677fe" d="M2094 4901l25-5 21 15-25 5z"/><path color="#327cfc" d="M2069 4902l25-1 21 15-25 1z"/><path color="#2f82fa" d="M2044 4901l25 1 21 15-25-1z"/><path color="#2d89f5" d="M2019 4897l25 4 21 15-25-4z"/><path color="#2b91ef" d="M1994 4891l25 6 21 15-25-6z"/><path color="#269ae9" d="M1969 4884l25 7 21 15-25-7z"/><path color="#22a2e4" d="M1944 4876l25 8 21 15-25-8z"/><path color="#1baade" d="M1919 4869l25 7 21 15-25-7z"/><path color="#11b1d6" d="M1894 4861l25 8 21 15-25-8z"/><path color="#01b7cb" d="M1869 4855l25 6 21 15-25-7z"/><path color="#05bcc0" d="M1844 4849l25 6 21 14-25-6z"/><path color="#1abfb5" d="M1819 4844l25 5 21 14-25-4z"/><path color="#29c3aa" d="M1794 4841l25 3 21 15-25-4z"/><path color="#31c6a0" d="M1769 4838l25 3 21 14-25-2z"/><path color="#38c896" d="M1744 4837l25 1 21 15-25-1z"/><path color="#41ca8c" d="M1719 4838l25-1 21 15-25 0z"/><path color="#4ccb83" d="M1694 4839l25-1 21 14-25 1z"/><path color="#57cc7a" d="M1669 4841l25-2 21 14-25 2z"/><path color="#61cd71" d="M1644 4845l25-4 21 14-25 4z"/><path color="#6acd6a" d="M1619 4849l25-4 21 14-25 4z"/><path color="#72cd63" d="M1594 4854l25-5 21 14-25 5z"/><path color="#7acc5e" d="M1569 4859l25-5 21 14-25 5z"/><path color="#80cc59" d="M1544 4866l25-7 21 14-25 7z"/><path color="#86cb55" d="M1519 4872l25-6 21 14-25 6z"/><path color="#97ca47" d="M2765 4389l25-14 22 15-25 13z"/><path color="#92ca4b" d="M2740 4403l25-14 22 14-25 15z"/><path color="#8ccb50" d="M2715 4418l25-15 22 15-25 14z"/><path color="#84cc56" d="M2690 4434l25-16 22 14-25 16z"/><path color="#7ccc5c" d="M2665 4450l25-16 22 14-25 16z"/><path color="#72cd64" d="M2640 4467l25-17 22 14-25 18z"/><path color="#67cd6c" d="M2615 4485l25-18 22 15-25 18z"/><path color="#5ccc76" d="M2590 4504l25-19 22 15-25 19z"/><path color="#4fcc80" d="M2565 4525l25-21 22 15-25 20z"/><path color="#42ca8b" d="M2540 4546l25-21 22 14-25 22z"/><path color="#38c896" d="M2515 4569l25-23 22 15-25 23z"/><path color="#30c5a1" d="M2490 4593l25-24 22 15-25 24z"/><path color="#26c2ac" d="M2465 4618l25-25 22 15-25 25z"/><path color="#15bfb8" d="M2440 4644l25-26 22 15-25 26z"/><path color="#02bac3" d="M2415 4672l25-28 22 15-25 28z"/><path color="#05b5cf" d="M2390 4700l25-28 22 15-25 28z"/><path color="#16afd9" d="M2365 4728l25-28 22 15-25 28z"/><path color="#1ea7e1" d="M2340 4756l25-28 22 15-25 28z"/><path color="#249fe5" d="M2315 4783l25-27 22 15-25 28z"/><path color="#2797eb" d="M2290 4810l25-27 22 16-25 26z"/><path color="#2c8ff0" d="M2265 4834l25-24 22 15-25 24z"/><path color="#2d88f6" d="M2240 4856l25-22 22 15-25 23z"/><path color="#2f82f9" d="M2215 4875l25-19 22 16-25 19z"/><path color="#307efb" d="M2190 4891l25-16 22 16-25 15z"/><path color="#327cfc" d="M2165 4903l25-12 22 15-25 12z"/><path color="#327cfc" d="M2140 4911l25-8 22 15-25 9z"/><path color="#307efb" d="M2115 4916l25-5 22 16-25 5z"/><path color="#2f82f9" d="M2090 4917l25-1 22 16-25 1z"/><path color="#2d88f6" d="M2065 4916l25 1 22 16-25-2z"/><path color="#2c8ff0" d="M2040 4912l25 4 22 15-25-4z"/><path color="#2797eb" d="M2015 4906l25 6 22 15-25-6z"/><path color="#249fe5" d="M1990 4899l25 7 22 15-25-7z"/><path color="#1ea7e1" d="M1965 4891l25 8 22 15-25-8z"/><path color="#16afd9" d="M1940 4884l25 7 22 15-25-7z"/><path color="#05b5cf" d="M1915 4876l25 8 22 15-25-8z"/><path color="#02bac3" d="M1890 4869l25 7 22 15-25-7z"/><path color="#15bfb8" d="M1865 4863l25 6 22 15-25-6z"/><path color="#26c2ac" d="M1840 4859l25 4 22 15-25-5z"/><path color="#30c5a1" d="M1815 4855l25 4 22 14-25-3z"/><path color="#38c896" d="M1790 4853l25 2 22 15-25-3z"/><path color="#42ca8b" d="M1765 4852l25 1 22 14-25-1z"/><path color="#4fcc80" d="M1740 4852l25 0 22 14-25 0z"/><path color="#5ccc76" d="M1715 4853l25-1 22 14-25 2z"/><path color="#67cd6c" d="M1690 4855l25-2 22 15-25 2z"/><path color="#72cd64" d="M1665 4859l25-4 22 15-25 3z"/><path color="#7ccc5c" d="M1640 4863l25-4 22 14-25 4z"/><path color="#84cc56" d="M1615 4868l25-5 22 14-25 5z"/><path color="#8ccb50" d="M1590 4873l25-5 22 14-25 6z"/><path color="#92ca4b" d="M1565 4880l25-7 22 15-25 6z"/><path color="#97ca47" d="M1540 4886l25-6 22 14-25 7z"/><path color="#a8c73b" d="M2787 4403l25-13 21 14-25 14z"/><path color="#a3c83f" d="M2762 4418l25-15 21 15-25 14z"/><path color="#9dc943" d="M2737 4432l25-14 21 14-25 15z"/><path color="#96ca49" d="M2712 4448l25-16 21 15-25 16z"/><path color="#8dcb4f" d="M2687 4464l25-16 21 15-25 16z"/><path color="#84cc57" d="M2662 4482l25-18 21 15-25 17z"/><path color="#78cc5f" d="M2637 4500l25-18 21 14-25 18z"/><path color="#6bcd69" d="M2612 4519l25-19 21 14-25 20z"/><path color="#5ecd74" d="M2587 4539l25-20 21 15-25 20z"/><path color="#50cc7f" d="M2562 4561l25-22 21 15-25 22z"/><path color="#42ca8b" d="M2537 4584l25-23 21 15-25 23z"/><path color="#37c898" d="M2512 4608l25-24 21 15-25 24z"/><path color="#2ec5a4" d="M2487 4633l25-25 21 15-25 25z"/><path color="#22c1b0" d="M2462 4659l25-26 21 15-25 26z"/><path color="#0dbdbb" d="M2437 4687l25-28 21 15-25 28z"/><path color="#00b9c7" d="M2412 4715l25-28 21 15-25 28z"/><path color="#0cb3d3" d="M2387 4743l25-28 21 15-25 28z"/><path color="#1aacdd" d="M2362 4771l25-28 21 15-25 28z"/><path color="#20a4e3" d="M2337 4799l25-28 21 15-25 28z"/><path color="#259ce7" d="M2312 4825l25-26 21 15-25 26z"/><path color="#2995ec" d="M2287 4849l25-24 21 15-25 25z"/><path color="#2d8ef1" d="M2262 4872l25-23 21 16-25 22z"/><path color="#2d88f6" d="M2237 4891l25-19 21 15-25 19z"/><path color="#2e84f8" d="M2212 4906l25-15 21 15-25 16z"/><path color="#2f82f9" d="M2187 4918l25-12 21 16-25 12z"/><path color="#2f82f9" d="M2162 4927l25-9 21 16-25 8z"/><path color="#2e84f8" d="M2137 4932l25-5 21 15-25 5z"/><path color="#2d88f6" d="M2112 4933l25-1 21 15-25 1z"/><path color="#2d8ef1" d="M2087 4931l25 2 21 15-25-1z"/><path color="#2995ec" d="M2062 4927l25 4 21 16-25-4z"/><path color="#259ce7" d="M2037 4921l25 6 21 16-25-6z"/><path color="#20a4e3" d="M2012 4914l25 7 21 16-25-8z"/><path color="#1aacdd" d="M1987 4906l25 8 21 15-25-7z"/><path color="#0cb3d3" d="M1962 4899l25 7 21 16-25-8z"/><path color="#00b9c7" d="M1937 4891l25 8 21 15-25-8z"/><path color="#0dbdbb" d="M1912 4884l25 7 21 15-25-7z"/><path color="#22c1b0" d="M1887 4878l25 6 21 15-25-6z"/><path color="#2ec5a4" d="M1862 4873l25 5 21 15-25-5z"/><path color="#37c898" d="M1837 4870l25 3 21 15-25-3z"/><path color="#42ca8b" d="M1812 4867l25 3 21 15-25-3z"/><path color="#50cc7f" d="M1787 4866l25 1 21 15-25-1z"/><path color="#5ecd74" d="M1762 4866l25 0 21 15-25 0z"/><path color="#6bcd69" d="M1737 4868l25-2 21 15-25 1z"/><path color="#78cc5f" d="M1712 4870l25-2 21 14-25 3z"/><path color="#84cc57" d="M1687 4873l25-3 21 15-25 3z"/><path color="#8dcb4f" d="M1662 4877l25-4 21 15-25 4z"/><path color="#96ca49" d="M1637 4882l25-5 21 15-25 5z"/><path color="#9dc943" d="M1612 4888l25-6 21 15-25 5z"/><path color="#a3c83f" d="M1587 4894l25-6 21 14-25 7z"/><path color="#a8c73b" d="M1562 4901l25-7 21 15-25 6z"/><path color="#b8c431" d="M2808 4418l25-14 21 15-25 14z"/><path color="#b3c534" d="M2783 4432l25-14 21 15-25 14z"/><path color="#adc638" d="M2758 4447l25-15 21 15-25 15z"/><path color="#a6c83c" d="M2733 4463l25-16 21 15-25 16z"/><path color="#9ec942" d="M2708 4479l25-16 21 15-25 16z"/><path color="#94ca4a" d="M2683 4496l25-17 21 15-25 17z"/><path color="#89cb52" d="M2658 4514l25-18 21 15-25 19z"/><path color="#7dcc5c" d="M2633 4534l25-20 21 16-25 19z"/><path color="#6ecd67" d="M2608 4554l25-20 21 15-25 20z"/><path color="#5fcd73" d="M2583 4576l25-22 21 15-25 22z"/><path color="#4fcc80" d="M2558 4599l25-23 21 15-25 23z"/><path color="#40ca8d" d="M2533 4623l25-24 21 15-25 24z"/><path color="#35c79b" d="M2508 4648l25-25 21 15-25 25z"/><path color="#2cc4a7" d="M2483 4674l25-26 21 15-25 27z"/><path color="#1cc0b4" d="M2458 4702l25-28 21 16-25 27z"/><path color="#05bcc0" d="M2433 4730l25-28 21 15-25 28z"/><path color="#02b7cc" d="M2408 4758l25-28 21 15-25 28z"/><path color="#13b1d7" d="M2383 4786l25-28 21 15-25 29z"/><path color="#1ca9df" d="M2358 4814l25-28 21 16-25 27z"/><path color="#22a1e4" d="M2333 4840l25-26 21 15-25 27z"/><path color="#269ae8" d="M2308 4865l25-25 21 16-25 24z"/><path color="#2994ed" d="M2283 4887l25-22 21 15-25 22z"/><path color="#2d8ef1" d="M2258 4906l25-19 21 15-25 20z"/><path color="#2d8af5" d="M2233 4922l25-16 21 16-25 15z"/><path color="#2d88f6" d="M2208 4934l25-12 21 15-25 12z"/><path color="#2d88f6" d="M2183 4942l25-8 21 15-25 9z"/><path color="#2d8af5" d="M2158 4947l25-5 21 16-25 4z"/><path color="#2d8ef1" d="M2133 4948l25-1 21 15-25 2z"/><path color="#2994ed" d="M2108 4947l25 1 21 16-25-2z"/><path color="#269ae8" d="M2083 4943l25 4 21 15-25-4z"/><path color="#22a1e4" d="M2058 4937l25 6 21 15-25-6z"/><path color="#1ca9df" d="M2033 4929l25 8 21 15-25-7z"/><path color="#13b1d7" d="M2008 4922l25 7 21 16-25-8z"/><path color="#02b7cc" d="M1983 4914l25 8 21 15-25-8z"/><path color="#05bcc0" d="M1958 4906l25 8 21 15-25-8z"/><path color="#1cc0b4" d="M1933 4899l25 7 21 15-25-7z"/><path color="#2cc4a7" d="M1908 4893l25 6 21 15-25-6z"/><path color="#35c79b" d="M1883 4888l25 5 21 15-25-4z"/><path color="#40ca8d" d="M1858 4885l25 3 21 16-25-4z"/><path color="#4fcc80" d="M1833 4882l25 3 21 15-25-3z"/><path color="#5fcd73" d="M1808 4881l25 1 21 15-25-1z"/><path color="#6ecd67" d="M1783 4881l25 0 21 15-25 0z"/><path color="#7dcc5c" d="M1758 4882l25-1 21 15-25 1z"/><path color="#89cb52" d="M1733 4885l25-3 21 15-25 3z"/><path color="#94ca4a" d="M1708 4888l25-3 21 15-25 3z"/><path color="#9ec942" d="M1683 4892l25-4 21 15-25 4z"/><path color="#a6c83c" d="M1658 4897l25-5 21 15-25 5z"/><path color="#adc638" d="M1633 4902l25-5 21 15-25 5z"/><path color="#b3c534" d="M1608 4909l25-7 21 15-25 7z"/><path color="#b8c431" d="M1583 4915l25-6 21 15-25 6z"/><path color="#c6c22a" d="M2829 4433l25-14 21 16-25 13z"/><path color="#c2c32c" d="M2804 4447l25-14 21 15-25 15z"/><path color="#bcc42f" d="M2779 4462l25-15 21 16-25 14z"/><path color="#b5c533" d="M2754 4478l25-16 21 15-25 16z"/><path color="#aec637" d="M2729 4494l25-16 21 15-25 16z"/><path color="#a4c83e" d="M2704 4511l25-17 21 15-25 18z"/><path color="#9ac946" d="M2679 4530l25-19 21 16-25 18z"/><path color="#8dcb4f" d="M2654 4549l25-19 21 15-25 19z"/><path color="#7fcc5a" d="M2629 4569l25-20 21 15-25 21z"/><path color="#6ecd66" d="M2604 4591l25-22 21 16-25 21z"/><path color="#5ecd74" d="M2579 4614l25-23 21 15-25 23z"/><path color="#4ccc82" d="M2554 4638l25-24 21 15-25 24z"/><path color="#3cc991" d="M2529 4663l25-25 21 15-25 26z"/><path color="#32c69f" d="M2504 4690l25-27 21 16-25 26z"/><path color="#27c2ac" d="M2479 4717l25-27 21 15-25 27z"/><path color="#14beb8" d="M2454 4745l25-28 21 15-25 28z"/><path color="#01bac5" d="M2429 4773l25-28 21 15-25 29z"/><path color="#08b4d1" d="M2404 4802l25-29 21 16-25 28z"/><path color="#18aedb" d="M2379 4829l25-27 21 15-25 28z"/><path color="#1ea7e1" d="M2354 4856l25-27 21 16-25 26z"/><path color="#249fe5" d="M2329 4880l25-24 21 15-25 25z"/><path color="#2699e9" d="M2304 4902l25-22 21 16-25 22z"/><path color="#2994ed" d="M2279 4922l25-20 21 16-25 19z"/><path color="#2c90f0" d="M2254 4937l25-15 21 15-25 16z"/><path color="#2d8ef1" d="M2229 4949l25-12 21 16-25 12z"/><path color="#2d8ef1" d="M2204 4958l25-9 21 16-25 8z"/><path color="#2c90f0" d="M2179 4962l25-4 21 15-25 5z"/><path color="#2994ed" d="M2154 4964l25-2 21 16-25 1z"/><path color="#2699e9" d="M2129 4962l25 2 21 15-25-1z"/><path color="#249fe5" d="M2104 4958l25 4 21 16-25-5z"/><path color="#1ea7e1" d="M2079 4952l25 6 21 15-25-6z"/><path color="#18aedb" d="M2054 4945l25 7 21 15-25-7z"/><path color="#08b4d1" d="M2029 4937l25 8 21 15-25-8z"/><path color="#01bac5" d="M2004 4929l25 8 21 15-25-8z"/><path color="#14beb8" d="M1979 4921l25 8 21 15-25-7z"/><path color="#27c2ac" d="M1954 4914l25 7 21 16-25-7z"/><path color="#32c69f" d="M1929 4908l25 6 21 16-25-6z"/><path color="#3cc991" d="M1904 4904l25 4 21 16-25-5z"/><path color="#4ccc82" d="M1879 4900l25 4 21 15-25-4z"/><path color="#5ecd74" d="M1854 4897l25 3 21 15-25-2z"/><path color="#6ecd66" d="M1829 4896l25 1 21 16-25-1z"/><path color="#7fcc5a" d="M1804 4896l25 0 21 16-25 0z"/><path color="#8dcb4f" d="M1779 4897l25-1 21 16-25 1z"/><path color="#9ac946" d="M1754 4900l25-3 21 16-25 2z"/><path color="#a4c83e" d="M1729 4903l25-3 21 15-25 3z"/><path color="#aec637" d="M1704 4907l25-4 21 15-25 4z"/><path color="#b5c533" d="M1679 4912l25-5 21 15-25 5z"/><path color="#bcc42f" d="M1654 4917l25-5 21 15-25 6z"/><path color="#c2c32c" d="M1629 4924l25-7 21 16-25 6z"/><path color="#c6c22a" d="M1604 4930l25-6 21 15-25 7z"/><path color="#d3bf27" d="M2850 4448l25-13 21 15-25 14z"/><path color="#cfc027" d="M2825 4463l25-15 21 16-25 14z"/><path color="#cac128" d="M2800 4477l25-14 21 15-25 15z"/><path color="#c3c22b" d="M2775 4493l25-16 21 16-25 16z"/><path color="#bcc42f" d="M2750 4509l25-16 21 16-25 16z"/><path color="#b3c534" d="M2725 4527l25-18 21 16-25 17z"/><path color="#a9c73a" d="M2700 4545l25-18 21 15-25 18z"/><path color="#9dc943" d="M2675 4564l25-19 21 15-25 20z"/><path color="#8fcb4e" d="M2650 4585l25-21 21 16-25 20z"/><path color="#7fcc5a" d="M2625 4606l25-21 21 15-25 22z"/><path color="#6dcd68" d="M2600 4629l25-23 21 16-25 23z"/><path color="#5bcc77" d="M2575 4653l25-24 21 16-25 24z"/><path color="#48cb86" d="M2550 4679l25-26 21 16-25 25z"/><path color="#38c895" d="M2525 4705l25-26 21 15-25 27z"/><path color="#2fc5a3" d="M2500 4732l25-27 21 16-25 27z"/><path color="#21c1b0" d="M2475 4760l25-28 21 16-25 28z"/><path color="#09bdbd" d="M2450 4789l25-29 21 16-25 28z"/><path color="#01b8ca" d="M2425 4817l25-28 21 15-25 29z"/><path color="#10b2d5" d="M2400 4845l25-28 21 16-25 27z"/><path color="#1aabdd" d="M2375 4871l25-26 21 15-25 27z"/><path color="#20a4e3" d="M2350 4896l25-25 21 16-25 24z"/><path color="#249ee6" d="M2325 4918l25-22 21 15-25 22z"/><path color="#2699e9" d="M2300 4937l25-19 21 15-25 20z"/><path color="#2896ec" d="M2275 4953l25-16 21 16-25 15z"/><path color="#2994ed" d="M2250 4965l25-12 21 15-25 12z"/><path color="#2994ed" d="M2225 4973l25-8 21 15-25 9z"/><path color="#2896ec" d="M2200 4978l25-5 21 16-25 4z"/><path color="#2699e9" d="M2175 4979l25-1 21 15-25 2z"/><path color="#249ee6" d="M2150 4978l25 1 21 16-25-2z"/><path color="#20a4e3" d="M2125 4973l25 5 21 15-25-4z"/><path color="#1aabdd" d="M2100 4967l25 6 21 16-25-6z"/><path color="#10b2d5" d="M2075 4960l25 7 21 16-25-7z"/><path color="#01b8ca" d="M2050 4952l25 8 21 16-25-8z"/><path color="#09bdbd" d="M2025 4944l25 8 21 16-25-8z"/><path color="#21c1b0" d="M2000 4937l25 7 21 16-25-8z"/><path color="#2fc5a3" d="M1975 4930l25 7 21 15-25-7z"/><path color="#38c895" d="M1950 4924l25 6 21 15-25-6z"/><path color="#48cb86" d="M1925 4919l25 5 21 15-25-5z"/><path color="#5bcc77" d="M1900 4915l25 4 21 15-25-3z"/><path color="#6dcd68" d="M1875 4913l25 2 21 16-25-3z"/><path color="#7fcc5a" d="M1850 4912l25 1 21 15-25-1z"/><path color="#8fcb4e" d="M1825 4912l25 0 21 15-25 0z"/><path color="#9dc943" d="M1800 4913l25-1 21 15-25 1z"/><path color="#a9c73a" d="M1775 4915l25-2 21 15-25 3z"/><path color="#b3c534" d="M1750 4918l25-3 21 16-25 3z"/><path color="#bcc42f" d="M1725 4922l25-4 21 16-25 4z"/><path color="#c3c22b" d="M1700 4927l25-5 21 16-25 5z"/><path color="#cac128" d="M1675 4933l25-6 21 16-25 5z"/><path color="#cfc027" d="M1650 4939l25-6 21 15-25 7z"/><path color="#d3bf27" d="M1625 4946l25-7 21 16-25 6z"/><path color="#dfbc2a" d="M2871 4464l25-14 22 16-25 14z"/><path color="#dbbd28" d="M2846 4478l25-14 22 16-25 14z"/><path color="#d6be27" d="M2821 4493l25-15 22 16-25 15z"/><path color="#d0bf27" d="M2796 4509l25-16 22 16-25 15z"/><path color="#cac128" d="M2771 4525l25-16 22 15-25 17z"/><path color="#c1c32c" d="M2746 4542l25-17 22 16-25 17z"/><path color="#b7c531" d="M2721 4560l25-18 22 16-25 18z"/><path color="#acc738" d="M2696 4580l25-20 22 16-25 19z"/><path color="#9ec942" d="M2671 4600l25-20 22 15-25 21z"/><path color="#8fcb4e" d="M2646 4622l25-22 22 16-25 22z"/><path color="#7dcc5c" d="M2621 4645l25-23 22 16-25 22z"/><path color="#69cd6b" d="M2596 4669l25-24 22 15-25 24z"/><path color="#56cc7b" d="M2571 4694l25-25 22 15-25 26z"/><path color="#42ca8b" d="M2546 4721l25-27 22 16-25 26z"/><path color="#35c79b" d="M2521 4748l25-27 22 15-25 28z"/><path color="#2bc3a9" d="M2496 4776l25-28 22 16-25 28z"/><path color="#18bfb6" d="M2471 4804l25-28 22 16-25 28z"/><path color="#02bbc2" d="M2446 4833l25-29 22 16-25 28z"/><path color="#05b6ce" d="M2421 4860l25-27 22 15-25 28z"/><path color="#15b0d8" d="M2396 4887l25-27 22 16-25 26z"/><path color="#1ca9df" d="M2371 4911l25-24 22 15-25 25z"/><path color="#21a3e3" d="M2346 4933l25-22 22 16-25 22z"/><path color="#249ee6" d="M2321 4953l25-20 22 16-25 19z"/><path color="#259be8" d="M2296 4968l25-15 22 15-25 16z"/><path color="#2699e9" d="M2271 4980l25-12 22 16-25 12z"/><path color="#2699e9" d="M2246 4989l25-9 22 16-25 8z"/><path color="#259be8" d="M2221 4993l25-4 22 15-25 5z"/><path color="#249ee6" d="M2196 4995l25-2 22 16-25 1z"/><path color="#21a3e3" d="M2171 4993l25 2 22 15-25-1z"/><path color="#1ca9df" d="M2146 4989l25 4 22 16-25-5z"/><path color="#15b0d8" d="M2121 4983l25 6 22 15-25-5z"/><path color="#05b6ce" d="M2096 4976l25 7 22 16-25-8z"/><path color="#02bbc2" d="M2071 4968l25 8 22 15-25-7z"/><path color="#18bfb6" d="M2046 4960l25 8 22 16-25-8z"/><path color="#2bc3a9" d="M2021 4952l25 8 22 16-25-8z"/><path color="#35c79b" d="M1996 4945l25 7 22 16-25-7z"/><path color="#42ca8b" d="M1971 4939l25 6 22 16-25-6z"/><path color="#56cc7b" d="M1946 4934l25 5 22 16-25-5z"/><path color="#69cd6b" d="M1921 4931l25 3 22 16-25-3z"/><path color="#7dcc5c" d="M1896 4928l25 3 22 16-25-3z"/><path color="#8fcb4e" d="M1871 4927l25 1 22 16-25-1z"/><path color="#9ec942" d="M1846 4927l25 0 22 16-25 0z"/><path color="#acc738" d="M1821 4928l25-1 22 16-25 1z"/><path color="#b7c531" d="M1796 4931l25-3 22 16-25 2z"/><path color="#c1c32c" d="M1771 4934l25-3 22 15-25 4z"/><path color="#cac128" d="M1746 4938l25-4 22 16-25 4z"/><path color="#d0bf27" d="M1721 4943l25-5 22 16-25 5z"/><path color="#d6be27" d="M1696 4948l25-5 22 16-25 5z"/><path color="#dbbd28" d="M1671 4955l25-7 22 16-25 6z"/><path color="#dfbc2a" d="M1646 4961l25-6 22 15-25 7z"/><path color="#e9ba30" d="M2893 4480l25-14 21 16-25 14z"/><path color="#e6bb2d" d="M2868 4494l25-14 21 16-25 14z"/><path color="#e1bc2a" d="M2843 4509l25-15 21 16-25 15z"/><path color="#dcbd29" d="M2818 4524l25-15 21 16-25 15z"/><path color="#d6be27" d="M2793 4541l25-17 21 16-25 17z"/><path color="#cec027" d="M2768 4558l25-17 21 16-25 17z"/><path color="#c5c22a" d="M2743 4576l25-18 21 16-25 18z"/><path color="#bac430" d="M2718 4595l25-19 21 16-25 19z"/><path color="#adc638" d="M2693 4616l25-21 21 16-25 21z"/><path color="#9ec942" d="M2668 4638l25-22 21 16-25 21z"/><path color="#8ccb50" d="M2643 4660l25-22 21 15-25 23z"/><path color="#78cc5f" d="M2618 4684l25-24 21 16-25 24z"/><path color="#63cd6f" d="M2593 4710l25-26 21 16-25 26z"/><path color="#4fcc81" d="M2568 4736l25-26 21 16-25 26z"/><path color="#3cc991" d="M2543 4764l25-28 21 16-25 27z"/><path color="#31c6a0" d="M2518 4792l25-28 21 15-25 28z"/><path color="#24c2ae" d="M2493 4820l25-28 21 15-25 29z"/><path color="#0ebdbb" d="M2468 4848l25-28 21 16-25 28z"/><path color="#00b9c7" d="M2443 4876l25-28 21 16-25 27z"/><path color="#0bb4d2" d="M2418 4902l25-26 21 15-25 27z"/><path color="#18aedb" d="M2393 4927l25-25 21 16-25 24z"/><path color="#1da8e0" d="M2368 4949l25-22 21 15-25 22z"/><path color="#21a4e3" d="M2343 4968l25-19 21 15-25 20z"/><path color="#23a0e5" d="M2318 4984l25-16 21 16-25 15z"/><path color="#249ee6" d="M2293 4996l25-12 21 15-25 12z"/><path color="#249ee6" d="M2268 5004l25-8 21 15-25 9z"/><path color="#23a0e5" d="M2243 5009l25-5 21 16-25 4z"/><path color="#21a4e3" d="M2218 5010l25-1 21 15-25 2z"/><path color="#1da8e0" d="M2193 5009l25 1 21 16-25-2z"/><path color="#18aedb" d="M2168 5004l25 5 21 15-25-4z"/><path color="#0bb4d2" d="M2143 4999l25 5 21 16-25-6z"/><path color="#00b9c7" d="M2118 4991l25 8 21 15-25-7z"/><path color="#0ebdbb" d="M2093 4984l25 7 21 16-25-8z"/><path color="#24c2ae" d="M2068 4976l25 8 21 15-25-8z"/><path color="#31c6a0" d="M2043 4968l25 8 21 15-25-7z"/><path color="#3cc991" d="M2018 4961l25 7 21 16-25-7z"/><path color="#4fcc81" d="M1993 4955l25 6 21 16-25-6z"/><path color="#63cd6f" d="M1968 4950l25 5 21 16-25-5z"/><path color="#78cc5f" d="M1943 4947l25 3 21 16-25-4z"/><path color="#8ccb50" d="M1918 4944l25 3 21 15-25-2z"/><path color="#9ec942" d="M1893 4943l25 1 21 16-25-1z"/><path color="#adc638" d="M1868 4943l25 0 21 16-25 0z"/><path color="#bac430" d="M1843 4944l25-1 21 16-25 1z"/><path color="#c5c22a" d="M1818 4946l25-2 21 16-25 2z"/><path color="#cec027" d="M1793 4950l25-4 21 16-25 4z"/><path color="#d6be27" d="M1768 4954l25-4 21 16-25 4z"/><path color="#dcbd29" d="M1743 4959l25-5 21 16-25 5z"/><path color="#e1bc2a" d="M1718 4964l25-5 21 16-25 5z"/><path color="#e6bb2d" d="M1693 4970l25-6 21 16-25 6z"/><path color="#e9ba30" d="M1668 4977l25-7 21 16-25 7z"/><path color="#f2ba39" d="M2914 4496l25-14 21 17-25 13z"/><path color="#efba35" d="M2889 4510l25-14 21 16-25 14z"/><path color="#ebba31" d="M2864 4525l25-15 21 16-25 15z"/><path color="#e7bb2d" d="M2839 4540l25-15 21 16-25 16z"/><path color="#e1bc2a" d="M2814 4557l25-17 21 17-25 16z"/><path color="#dabd28" d="M2789 4574l25-17 21 16-25 17z"/><path color="#d1bf27" d="M2764 4592l25-18 21 16-25 18z"/><path color="#c7c129" d="M2739 4611l25-19 21 16-25 20z"/><path color="#bbc430" d="M2714 4632l25-21 21 17-25 20z"/><path color="#acc738" d="M2689 4653l25-21 21 16-25 22z"/><path color="#9bc944" d="M2664 4676l25-23 21 17-25 22z"/><path color="#88cb53" d="M2639 4700l25-24 21 16-25 24z"/><path color="#72cd63" d="M2614 4726l25-26 21 16-25 26z"/><path color="#5ccc75" d="M2589 4752l25-26 21 16-25 26z"/><path color="#47cb87" d="M2564 4779l25-27 21 16-25 27z"/><path color="#37c897" d="M2539 4807l25-28 21 16-25 28z"/><path color="#2dc4a6" d="M2514 4836l25-29 21 16-25 28z"/><path color="#1cc0b4" d="M2489 4864l25-28 21 15-25 29z"/><path color="#05bcc0" d="M2464 4891l25-27 21 16-25 27z"/><path color="#02b7cb" d="M2439 4918l25-27 21 16-25 26z"/><path color="#0fb2d5" d="M2414 4942l25-24 21 15-25 25z"/><path color="#19addc" d="M2389 4964l25-22 21 16-25 22z"/><path color="#1da8e0" d="M2364 4984l25-20 21 16-25 19z"/><path color="#1fa5e2" d="M2339 4999l25-15 21 15-25 16z"/><path color="#21a3e3" d="M2314 5011l25-12 21 16-25 12z"/><path color="#21a3e3" d="M2289 5020l25-9 21 16-25 8z"/><path color="#1fa5e2" d="M2264 5024l25-4 21 15-25 5z"/><path color="#1da8e0" d="M2239 5026l25-2 21 16-25 1z"/><path color="#19addc" d="M2214 5024l25 2 21 15-25-1z"/><path color="#0fb2d5" d="M2189 5020l25 4 21 16-25-4z"/><path color="#02b7cb" d="M2164 5014l25 6 21 16-25-6z"/><path color="#05bcc0" d="M2139 5007l25 7 21 16-25-7z"/><path color="#1cc0b4" d="M2114 4999l25 8 21 16-25-8z"/><path color="#2dc4a6" d="M2089 4991l25 8 21 16-25-8z"/><path color="#37c897" d="M2064 4984l25 7 21 16-25-7z"/><path color="#47cb87" d="M2039 4977l25 7 21 16-25-7z"/><path color="#5ccc75" d="M2014 4971l25 6 21 16-25-6z"/><path color="#72cd63" d="M1989 4966l25 5 21 16-25-5z"/><path color="#88cb53" d="M1964 4962l25 4 21 16-25-3z"/><path color="#9bc944" d="M1939 4960l25 2 21 17-25-3z"/><path color="#acc738" d="M1914 4959l25 1 21 16-25-1z"/><path color="#bbc430" d="M1889 4959l25 0 21 16-25 0z"/><path color="#c7c129" d="M1864 4960l25-1 21 16-25 1z"/><path color="#d1bf27" d="M1839 4962l25-2 21 16-25 3z"/><path color="#dabd28" d="M1814 4966l25-4 21 17-25 3z"/><path color="#e1bc2a" d="M1789 4970l25-4 21 16-25 4z"/><path color="#e7bb2d" d="M1764 4975l25-5 21 16-25 5z"/><path color="#ebba31" d="M1739 4980l25-5 21 16-25 6z"/><path color="#efba35" d="M1714 4986l25-6 21 17-25 6z"/><path color="#f2ba39" d="M1689 4993l25-7 21 17-25 7z"/><path color="#fbbb3e" d="M2935 4512l25-13 21 16-25 14z"/><path color="#f8ba3d" d="M2910 4526l25-14 21 17-25 14z"/><path color="#f4ba3a" d="M2885 4541l25-15 21 17-25 15z"/><path color="#f0ba36" d="M2860 4557l25-16 21 17-25 15z"/><path color="#ebba31" d="M2835 4573l25-16 21 16-25 17z"/><path color="#e4bb2c" d="M2810 4590l25-17 21 17-25 17z"/><path color="#dcbd29" d="M2785 4608l25-18 21 17-25 18z"/><path color="#d3bf27" d="M2760 4628l25-20 21 17-25 19z"/><path color="#c8c129" d="M2735 4648l25-20 21 16-25 20z"/><path color="#bac430" d="M2710 4670l25-22 21 16-25 22z"/><path color="#aac73a" d="M2685 4692l25-22 21 16-25 23z"/><path color="#97ca48" d="M2660 4716l25-24 21 17-25 24z"/><path color="#81cc58" d="M2635 4742l25-26 21 17-25 25z"/><path color="#6acd6a" d="M2610 4768l25-26 21 16-25 26z"/><path color="#54cc7c" d="M2585 4795l25-27 21 16-25 27z"/><path color="#3fca8e" d="M2560 4823l25-28 21 16-25 28z"/><path color="#32c69e" d="M2535 4851l25-28 21 16-25 28z"/><path color="#27c2ac" d="M2510 4880l25-29 21 16-25 28z"/><path color="#13beb9" d="M2485 4907l25-27 21 15-25 28z"/><path color="#01bac4" d="M2460 4933l25-26 21 16-25 26z"/><path color="#05b6ce" d="M2435 4958l25-25 21 16-25 25z"/><path color="#12b1d6" d="M2410 4980l25-22 21 16-25 22z"/><path color="#19addc" d="M2385 4999l25-19 21 16-25 19z"/><path color="#1caadf" d="M2360 5015l25-16 21 16-25 15z"/><path color="#1da8e0" d="M2335 5027l25-12 21 15-25 12z"/><path color="#1da8e0" d="M2310 5035l25-8 21 15-25 9z"/><path color="#1caadf" d="M2285 5040l25-5 21 16-25 5z"/><path color="#19addc" d="M2260 5041l25-1 21 16-25 1z"/><path color="#12b1d6" d="M2235 5040l25 1 21 16-25-2z"/><path color="#05b6ce" d="M2210 5036l25 4 21 15-25-4z"/><path color="#01bac4" d="M2185 5030l25 6 21 15-25-5z"/><path color="#13beb9" d="M2160 5023l25 7 21 16-25-7z"/><path color="#27c2ac" d="M2135 5015l25 8 21 16-25-8z"/><path color="#32c69e" d="M2110 5007l25 8 21 16-25-8z"/><path color="#3fca8e" d="M2085 5000l25 7 21 16-25-7z"/><path color="#54cc7c" d="M2060 4993l25 7 21 16-25-7z"/><path color="#6acd6a" d="M2035 4987l25 6 21 16-25-6z"/><path color="#81cc58" d="M2010 4982l25 5 21 16-25-5z"/><path color="#97ca48" d="M1985 4979l25 3 21 16-25-3z"/><path color="#aac73a" d="M1960 4976l25 3 21 16-25-3z"/><path color="#bac430" d="M1935 4975l25 1 21 16-25-1z"/><path color="#c8c129" d="M1910 4975l25 0 21 16-25 1z"/><path color="#d3bf27" d="M1885 4976l25-1 21 17-25 1z"/><path color="#dcbd29" d="M1860 4979l25-3 21 17-25 2z"/><path color="#e4bb2c" d="M1835 4982l25-3 21 16-25 3z"/><path color="#ebba31" d="M1810 4986l25-4 21 16-25 5z"/><path color="#f0ba36" d="M1785 4991l25-5 21 17-25 4z"/><path color="#f4ba3a" d="M1760 4997l25-6 21 16-25 6z"/><path color="#f8ba3d" d="M1735 5003l25-6 21 16-25 6z"/><path color="#fbbb3e" d="M1710 5010l25-7 21 16-25 7z"/><path color="#febf3b" d="M2956 4529l25-14 22 17-25 14z"/><path color="#febd3d" d="M2931 4543l25-14 22 17-25 14z"/><path color="#fcbb3e" d="M2906 4558l25-15 22 17-25 14z"/><path color="#f8ba3d" d="M2881 4573l25-15 22 16-25 16z"/><path color="#f3ba39" d="M2856 4590l25-17 22 17-25 16z"/><path color="#edba33" d="M2831 4607l25-17 22 16-25 17z"/><path color="#e6bb2d" d="M2806 4625l25-18 22 16-25 18z"/><path color="#debd29" d="M2781 4644l25-19 22 16-25 20z"/><path color="#d3bf27" d="M2756 4664l25-20 22 17-25 20z"/><path color="#c6c229" d="M2731 4686l25-22 22 17-25 21z"/><path color="#b7c532" d="M2706 4709l25-23 22 16-25 23z"/><path color="#a5c83d" d="M2681 4733l25-24 22 16-25 24z"/><path color="#90ca4d" d="M2656 4758l25-25 22 16-25 25z"/><path color="#79cc5e" d="M2631 4784l25-26 22 16-25 26z"/><path color="#61cd71" d="M2606 4811l25-27 22 16-25 27z"/><path color="#4bcb84" d="M2581 4839l25-28 22 16-25 28z"/><path color="#39c995" d="M2556 4867l25-28 22 16-25 28z"/><path color="#2ec4a4" d="M2531 4895l25-28 22 16-25 28z"/><path color="#20c1b1" d="M2506 4923l25-28 22 16-25 28z"/><path color="#0abdbd" d="M2481 4949l25-26 22 16-25 26z"/><path color="#00b9c7" d="M2456 4974l25-25 22 16-25 24z"/><path color="#07b5d0" d="M2431 4996l25-22 22 15-25 22z"/><path color="#11b1d6" d="M2406 5015l25-19 22 15-25 19z"/><path color="#17afda" d="M2381 5030l25-15 22 15-25 16z"/><path color="#19addc" d="M2356 5042l25-12 22 16-25 12z"/><path color="#19addc" d="M2331 5051l25-9 22 16-25 8z"/><path color="#17afda" d="M2306 5056l25-5 22 15-25 5z"/><path color="#11b1d6" d="M2281 5057l25-1 22 15-25 1z"/><path color="#07b5d0" d="M2256 5055l25 2 22 15-25-1z"/><path color="#00b9c7" d="M2231 5051l25 4 22 16-25-4z"/><path color="#0abdbd" d="M2206 5046l25 5 22 16-25-6z"/><path color="#20c1b1" d="M2181 5039l25 7 22 15-25-7z"/><path color="#2ec4a4" d="M2156 5031l25 8 22 15-25-7z"/><path color="#39c995" d="M2131 5023l25 8 22 16-25-8z"/><path color="#4bcb84" d="M2106 5016l25 7 22 16-25-7z"/><path color="#61cd71" d="M2081 5009l25 7 22 16-25-7z"/><path color="#79cc5e" d="M2056 5003l25 6 22 16-25-6z"/><path color="#90ca4d" d="M2031 4998l25 5 22 16-25-4z"/><path color="#a5c83d" d="M2006 4995l25 3 22 17-25-4z"/><path color="#b7c532" d="M1981 4992l25 3 22 16-25-2z"/><path color="#c6c229" d="M1956 4991l25 1 22 17-25-1z"/><path color="#d3bf27" d="M1931 4992l25-1 22 17-25 0z"/><path color="#debd29" d="M1906 4993l25-1 22 16-25 1z"/><path color="#e6bb2d" d="M1881 4995l25-2 22 16-25 3z"/><path color="#edba33" d="M1856 4998l25-3 22 17-25 3z"/><path color="#f3ba39" d="M1831 5003l25-5 22 17-25 4z"/><path color="#f8ba3d" d="M1806 5007l25-4 22 16-25 5z"/><path color="#fcbb3e" d="M1781 5013l25-6 22 17-25 6z"/><path color="#febd3d" d="M1756 5019l25-6 22 17-25 6z"/><path color="#febf3b" d="M1731 5026l25-7 22 17-25 7z"/><path color="#fec537" d="M2978 4546l25-14 21 17-25 13z"/><path color="#fec339" d="M2953 4560l25-14 21 16-25 15z"/><path color="#fec03a" d="M2928 4574l25-14 21 17-25 14z"/><path color="#febd3d" d="M2903 4590l25-16 21 17-25 16z"/><path color="#fbbb3e" d="M2878 4606l25-16 21 17-25 16z"/><path color="#f6ba3c" d="M2853 4623l25-17 21 17-25 17z"/><path color="#efba35" d="M2828 4641l25-18 21 17-25 18z"/><path color="#e8bb2e" d="M2803 4661l25-20 21 17-25 19z"/><path color="#debc29" d="M2778 4681l25-20 21 16-25 21z"/><path color="#d2bf27" d="M2753 4702l25-21 21 17-25 21z"/><path color="#c4c22b" d="M2728 4725l25-23 21 17-25 23z"/><path color="#b3c534" d="M2703 4749l25-24 21 17-25 23z"/><path color="#9fc942" d="M2678 4774l25-25 21 16-25 25z"/><path color="#88cb53" d="M2653 4800l25-26 21 16-25 27z"/><path color="#6fcd65" d="M2628 4827l25-27 21 17-25 27z"/><path color="#58cc79" d="M2603 4855l25-28 21 17-25 27z"/><path color="#42ca8b" d="M2578 4883l25-28 21 16-25 28z"/><path color="#34c79c" d="M2553 4911l25-28 21 16-25 28z"/><path color="#2ac3a9" d="M2528 4939l25-28 21 16-25 27z"/><path color="#19bfb5" d="M2503 4965l25-26 21 15-25 27z"/><path color="#05bcc0" d="M2478 4989l25-24 21 16-25 24z"/><path color="#00b8c9" d="M2453 5011l25-22 21 16-25 22z"/><path color="#06b5cf" d="M2428 5030l25-19 21 16-25 19z"/><path color="#0eb3d4" d="M2403 5046l25-16 21 16-25 15z"/><path color="#11b1d6" d="M2378 5058l25-12 21 15-25 12z"/><path color="#11b1d6" d="M2353 5066l25-8 21 15-25 9z"/><path color="#0eb3d4" d="M2328 5071l25-5 21 16-25 5z"/><path color="#06b5cf" d="M2303 5072l25-1 21 16-25 1z"/><path color="#00b8c9" d="M2278 5071l25 1 21 16-25-1z"/><path color="#05bcc0" d="M2253 5067l25 4 21 16-25-4z"/><path color="#19bfb5" d="M2228 5061l25 6 21 16-25-6z"/><path color="#2ac3a9" d="M2203 5054l25 7 21 16-25-7z"/><path color="#34c79c" d="M2178 5047l25 7 21 16-25-7z"/><path color="#42ca8b" d="M2153 5039l25 8 21 16-25-8z"/><path color="#58cc79" d="M2128 5032l25 7 21 16-25-7z"/><path color="#6fcd65" d="M2103 5025l25 7 21 16-25-7z"/><path color="#88cb53" d="M2078 5019l25 6 21 16-25-5z"/><path color="#9fc942" d="M2053 5015l25 4 21 17-25-5z"/><path color="#b3c534" d="M2028 5011l25 4 21 16-25-3z"/><path color="#c4c22b" d="M2003 5009l25 2 21 17-25-2z"/><path color="#d2bf27" d="M1978 5008l25 1 21 17-25-1z"/><path color="#debc29" d="M1953 5008l25 0 21 17-25 0z"/><path color="#e8bb2e" d="M1928 5009l25-1 21 17-25 1z"/><path color="#efba35" d="M1903 5012l25-3 21 17-25 3z"/><path color="#f6ba3c" d="M1878 5015l25-3 21 17-25 3z"/><path color="#fbbb3e" d="M1853 5019l25-4 21 17-25 4z"/><path color="#febd3d" d="M1828 5024l25-5 21 17-25 5z"/><path color="#fec03a" d="M1803 5030l25-6 21 17-25 6z"/><path color="#fec339" d="M1778 5036l25-6 21 17-25 6z"/><path color="#fec537" d="M1753 5043l25-7 21 17-25 7z"/><path color="#fecb33" d="M2999 4562l25-13 21 17-25 14z"/><path color="#fec834" d="M2974 4577l25-15 21 18-25 14z"/><path color="#fec636" d="M2949 4591l25-14 21 17-25 14z"/><path color="#fec338" d="M2924 4607l25-16 21 17-25 16z"/><path color="#febf3b" d="M2899 4623l25-16 21 17-25 16z"/><path color="#fdbc3e" d="M2874 4640l25-17 21 17-25 17z"/><path color="#f8ba3d" d="M2849 4658l25-18 21 17-25 18z"/><path color="#f0ba36" d="M2824 4677l25-19 21 17-25 19z"/><path color="#e8bb2e" d="M2799 4698l25-21 21 17-25 20z"/><path color="#ddbd29" d="M2774 4719l25-21 21 16-25 22z"/><path color="#d0c027" d="M2749 4742l25-23 21 17-25 22z"/><path color="#c0c32d" d="M2724 4765l25-23 21 16-25 24z"/><path color="#adc738" d="M2699 4790l25-25 21 17-25 25z"/><path color="#97ca48" d="M2674 4817l25-27 21 17-25 26z"/><path color="#7fcc5a" d="M2649 4844l25-27 21 16-25 27z"/><path color="#65cd6e" d="M2624 4871l25-27 21 16-25 27z"/><path color="#4ecc81" d="M2599 4899l25-28 21 16-25 28z"/><path color="#3bc992" d="M2574 4927l25-28 21 16-25 28z"/><path color="#30c5a1" d="M2549 4954l25-27 21 16-25 27z"/><path color="#25c2ae" d="M2524 4981l25-27 21 16-25 26z"/><path color="#13beb9" d="M2499 5005l25-24 21 15-25 24z"/><path color="#03bbc2" d="M2474 5027l25-22 21 15-25 22z"/><path color="#00b8c9" d="M2449 5046l25-19 21 15-25 19z"/><path color="#03b6cd" d="M2424 5061l25-15 21 15-25 16z"/><path color="#06b5cf" d="M2399 5073l25-12 21 16-25 12z"/><path color="#06b5cf" d="M2374 5082l25-9 21 16-25 8z"/><path color="#03b6cd" d="M2349 5087l25-5 21 15-25 5z"/><path color="#00b8c9" d="M2324 5088l25-1 21 15-25 2z"/><path color="#03bbc2" d="M2299 5087l25 1 21 16-25-2z"/><path color="#13beb9" d="M2274 5083l25 4 21 15-25-4z"/><path color="#25c2ae" d="M2249 5077l25 6 21 15-25-5z"/><path color="#30c5a1" d="M2224 5070l25 7 21 16-25-7z"/><path color="#3bc992" d="M2199 5063l25 7 21 16-25-7z"/><path color="#4ecc81" d="M2174 5055l25 8 21 16-25-8z"/><path color="#65cd6e" d="M2149 5048l25 7 21 16-25-7z"/><path color="#7fcc5a" d="M2124 5041l25 7 21 16-25-6z"/><path color="#97ca48" d="M2099 5036l25 5 21 17-25-6z"/><path color="#adc738" d="M2074 5031l25 5 21 16-25-4z"/><path color="#c0c32d" d="M2049 5028l25 3 21 17-25-4z"/><path color="#d0c027" d="M2024 5026l25 2 21 16-25-2z"/><path color="#ddbd29" d="M1999 5025l25 1 21 16-25-1z"/><path color="#e8bb2e" d="M1974 5025l25 0 21 16-25 1z"/><path color="#f0ba36" d="M1949 5026l25-1 21 17-25 1z"/><path color="#f8ba3d" d="M1924 5029l25-3 21 17-25 3z"/><path color="#fdbc3e" d="M1899 5032l25-3 21 17-25 3z"/><path color="#febf3b" d="M1874 5036l25-4 21 17-25 4z"/><path color="#fec338" d="M1849 5041l25-5 21 17-25 5z"/><path color="#fec636" d="M1824 5047l25-6 21 17-25 6z"/><path color="#fec834" d="M1799 5053l25-6 21 17-25 6z"/><path color="#fecb33" d="M1774 5060l25-7 21 17-25 7z"/><path color="#fcd030" d="M3020 4580l25-14 21 17-25 14z"/><path color="#fdce31" d="M2995 4594l25-14 21 17-25 14z"/><path color="#fdcb32" d="M2970 4608l25-14 21 17-25 15z"/><path color="#fec834" d="M2945 4624l25-16 21 18-25 15z"/><path color="#fec537" d="M2920 4640l25-16 21 17-25 16z"/><path color="#fec13a" d="M2895 4657l25-17 21 17-25 17z"/><path color="#febd3d" d="M2870 4675l25-18 21 17-25 18z"/><path color="#f8ba3d" d="M2845 4694l25-19 21 17-25 19z"/><path color="#f0ba36" d="M2820 4714l25-20 21 17-25 20z"/><path color="#e7bb2d" d="M2795 4736l25-22 21 17-25 22z"/><path color="#dabd28" d="M2770 4758l25-22 21 17-25 22z"/><path color="#ccc028" d="M2745 4782l25-24 21 17-25 24z"/><path color="#bac430" d="M2720 4807l25-25 21 17-25 25z"/><path color="#a5c83d" d="M2695 4833l25-26 21 17-25 25z"/><path color="#8dcb4f" d="M2670 4860l25-27 21 16-25 27z"/><path color="#74cd62" d="M2645 4887l25-27 21 16-25 28z"/><path color="#5bcc76" d="M2620 4915l25-28 21 17-25 27z"/><path color="#45cb89" d="M2595 4943l25-28 21 16-25 28z"/><path color="#36c899" d="M2570 4970l25-27 21 16-25 27z"/><path color="#2dc4a6" d="M2545 4996l25-26 21 16-25 26z"/><path color="#20c1b1" d="M2520 5020l25-24 21 16-25 24z"/><path color="#10beba" d="M2495 5042l25-22 21 16-25 22z"/><path color="#04bbc1" d="M2470 5061l25-19 21 16-25 19z"/><path color="#00b9c6" d="M2445 5077l25-16 21 16-25 15z"/><path color="#00b8c8" d="M2420 5089l25-12 21 15-25 12z"/><path color="#00b8c8" d="M2395 5097l25-8 21 15-25 9z"/><path color="#00b9c6" d="M2370 5102l25-5 21 16-25 5z"/><path color="#04bbc1" d="M2345 5104l25-2 21 16-25 1z"/><path color="#10beba" d="M2320 5102l25 2 21 15-25-1z"/><path color="#20c1b1" d="M2295 5098l25 4 21 16-25-4z"/><path color="#2dc4a6" d="M2270 5093l25 5 21 16-25-5z"/><path color="#36c899" d="M2245 5086l25 7 21 16-25-7z"/><path color="#45cb89" d="M2220 5079l25 7 21 16-25-7z"/><path color="#5bcc76" d="M2195 5071l25 8 21 16-25-7z"/><path color="#74cd62" d="M2170 5064l25 7 21 17-25-7z"/><path color="#8dcb4f" d="M2145 5058l25 6 21 17-25-7z"/><path color="#a5c83d" d="M2120 5052l25 6 21 16-25-5z"/><path color="#bac430" d="M2095 5048l25 4 21 17-25-5z"/><path color="#ccc028" d="M2070 5044l25 4 21 16-25-3z"/><path color="#dabd28" d="M2045 5042l25 2 21 17-25-2z"/><path color="#e7bb2d" d="M2020 5041l25 1 21 17-25-1z"/><path color="#f0ba36" d="M1995 5042l25-1 21 17-25 1z"/><path color="#f8ba3d" d="M1970 5043l25-1 21 17-25 1z"/><path color="#febd3d" d="M1945 5046l25-3 21 17-25 3z"/><path color="#fec13a" d="M1920 5049l25-3 21 17-25 3z"/><path color="#fec537" d="M1895 5053l25-4 21 17-25 4z"/><path color="#fec834" d="M1870 5058l25-5 21 17-25 5z"/><path color="#fdcb32" d="M1845 5064l25-6 21 17-25 6z"/><path color="#fdce31" d="M1820 5070l25-6 21 17-25 7z"/><path color="#fcd030" d="M1795 5077l25-7 21 18-25 6z"/><path color="#f9d62d" d="M3041 4597l25-14 22 18-25 14z"/><path color="#fbd42e" d="M3016 4611l25-14 22 18-25 14z"/><path color="#fcd12f" d="M2991 4626l25-15 22 18-25 14z"/><path color="#fdce31" d="M2966 4641l25-15 22 17-25 16z"/><path color="#feca33" d="M2941 4657l25-16 22 18-25 16z"/><path color="#fec736" d="M2916 4674l25-17 22 18-25 17z"/><path color="#fec239" d="M2891 4692l25-18 22 18-25 18z"/><path color="#febd3d" d="M2866 4711l25-19 22 18-25 18z"/><path color="#f8ba3d" d="M2841 4731l25-20 22 17-25 20z"/><path color="#efba35" d="M2816 4753l25-22 22 17-25 22z"/><path color="#e4bb2c" d="M2791 4775l25-22 22 17-25 22z"/><path color="#d6be28" d="M2766 4799l25-24 22 17-25 24z"/><path color="#c6c22a" d="M2741 4824l25-25 22 17-25 24z"/><path color="#b2c635" d="M2716 4849l25-25 22 16-25 26z"/><path color="#9cc944" d="M2691 4876l25-27 22 17-25 27z"/><path color="#83cc57" d="M2666 4904l25-28 22 17-25 27z"/><path color="#69cd6b" d="M2641 4931l25-27 22 16-25 28z"/><path color="#52cc7e" d="M2616 4959l25-28 22 17-25 27z"/><path color="#3eca8f" d="M2591 4986l25-27 22 16-25 27z"/><path color="#32c69e" d="M2566 5012l25-26 22 16-25 26z"/><path color="#2ac3a9" d="M2541 5036l25-24 22 16-25 24z"/><path color="#1ec0b3" d="M2516 5058l25-22 22 16-25 22z"/><path color="#10beba" d="M2491 5077l25-19 22 16-25 18z"/><path color="#07bcbf" d="M2466 5092l25-15 22 15-25 16z"/><path color="#04bbc1" d="M2441 5104l25-12 22 16-25 12z"/><path color="#04bbc1" d="M2416 5113l25-9 22 16-25 8z"/><path color="#07bcbf" d="M2391 5118l25-5 22 15-25 5z"/><path color="#10beba" d="M2366 5119l25-1 22 15-25 2z"/><path color="#1ec0b3" d="M2341 5118l25 1 22 16-25-1z"/><path color="#2ac3a9" d="M2316 5114l25 4 22 16-25-4z"/><path color="#32c69e" d="M2291 5109l25 5 22 16-25-5z"/><path color="#3eca8f" d="M2266 5102l25 7 22 16-25-7z"/><path color="#52cc7e" d="M2241 5095l25 7 22 16-25-7z"/><path color="#69cd6b" d="M2216 5088l25 7 22 16-25-7z"/><path color="#83cc57" d="M2191 5081l25 7 22 16-25-7z"/><path color="#9cc944" d="M2166 5074l25 7 22 16-25-6z"/><path color="#b2c635" d="M2141 5069l25 5 22 17-25-5z"/><path color="#c6c22a" d="M2116 5064l25 5 22 17-25-5z"/><path color="#d6be28" d="M2091 5061l25 3 22 17-25-3z"/><path color="#e4bb2c" d="M2066 5059l25 2 22 17-25-2z"/><path color="#efba35" d="M2041 5058l25 1 22 17-25-1z"/><path color="#f8ba3d" d="M2016 5059l25-1 22 17-25 1z"/><path color="#febd3d" d="M1991 5060l25-1 22 17-25 1z"/><path color="#fec239" d="M1966 5063l25-3 22 17-25 3z"/><path color="#fec736" d="M1941 5066l25-3 22 17-25 3z"/><path color="#feca33" d="M1916 5070l25-4 22 17-25 5z"/><path color="#fdce31" d="M1891 5075l25-5 22 18-25 5z"/><path color="#fcd12f" d="M1866 5081l25-6 22 18-25 6z"/><path color="#fbd42e" d="M1841 5088l25-7 22 18-25 6z"/><path color="#f9d62d" d="M1816 5094l25-6 22 17-25 7z"/><path color="#f7dc2a" d="M3063 4615l25-14 21 18-25 13z"/><path color="#f8d92b" d="M3038 4629l25-14 21 17-25 14z"/><path color="#f9d72d" d="M3013 4643l25-14 21 17-25 15z"/><path color="#fbd42e" d="M2988 4659l25-16 21 18-25 15z"/><path color="#fcd030" d="M2963 4675l25-16 21 17-25 16z"/><path color="#fdcc32" d="M2938 4692l25-17 21 17-25 17z"/><path color="#fec835" d="M2913 4710l25-18 21 17-25 18z"/><path color="#fec339" d="M2888 4728l25-18 21 17-25 19z"/><path color="#febd3d" d="M2863 4748l25-20 21 18-25 20z"/><path color="#f7ba3d" d="M2838 4770l25-22 21 18-25 21z"/><path color="#edba33" d="M2813 4792l25-22 21 17-25 22z"/><path color="#e1bc2a" d="M2788 4816l25-24 21 17-25 23z"/><path color="#d1bf27" d="M2763 4840l25-24 21 16-25 25z"/><path color="#bfc32d" d="M2738 4866l25-26 21 17-25 26z"/><path color="#a9c73a" d="M2713 4893l25-27 21 17-25 26z"/><path color="#91ca4c" d="M2688 4920l25-27 21 16-25 27z"/><path color="#78cc5f" d="M2663 4948l25-28 21 16-25 28z"/><path color="#5fcd73" d="M2638 4975l25-27 21 16-25 27z"/><path color="#49cb85" d="M2613 5002l25-27 21 16-25 27z"/><path color="#39c995" d="M2588 5028l25-26 21 16-25 26z"/><path color="#30c5a1" d="M2563 5052l25-24 21 16-25 24z"/><path color="#28c2ab" d="M2538 5074l25-22 21 16-25 21z"/><path color="#1ec0b2" d="M2513 5092l25-18 21 15-25 19z"/><path color="#16bfb7" d="M2488 5108l25-16 21 16-25 15z"/><path color="#11beba" d="M2463 5120l25-12 21 15-25 12z"/><path color="#11beba" d="M2438 5128l25-8 21 15-25 9z"/><path color="#16bfb7" d="M2413 5133l25-5 21 16-25 5z"/><path color="#1ec0b2" d="M2388 5135l25-2 21 16-25 1z"/><path color="#28c2ab" d="M2363 5134l25 1 21 15-25-1z"/><path color="#30c5a1" d="M2338 5130l25 4 21 15-25-3z"/><path color="#39c995" d="M2313 5125l25 5 21 16-25-5z"/><path color="#49cb85" d="M2288 5118l25 7 21 16-25-7z"/><path color="#5fcd73" d="M2263 5111l25 7 21 16-25-7z"/><path color="#78cc5f" d="M2238 5104l25 7 21 16-25-7z"/><path color="#91ca4c" d="M2213 5097l25 7 21 16-25-6z"/><path color="#a9c73a" d="M2188 5091l25 6 21 17-25-6z"/><path color="#bfc32d" d="M2163 5086l25 5 21 17-25-6z"/><path color="#d1bf27" d="M2138 5081l25 5 21 16-25-4z"/><path color="#e1bc2a" d="M2113 5078l25 3 21 17-25-3z"/><path color="#edba33" d="M2088 5076l25 2 21 17-25-2z"/><path color="#f7ba3d" d="M2063 5075l25 1 21 17-25 0z"/><path color="#febd3d" d="M2038 5076l25-1 21 18-25 0z"/><path color="#fec339" d="M2013 5077l25-1 21 17-25 2z"/><path color="#fec835" d="M1988 5080l25-3 21 18-25 2z"/><path color="#fdcc32" d="M1963 5083l25-3 21 17-25 4z"/><path color="#fcd030" d="M1938 5088l25-5 21 18-25 4z"/><path color="#fbd42e" d="M1913 5093l25-5 21 17-25 6z"/><path color="#f9d72d" d="M1888 5099l25-6 21 18-25 5z"/><path color="#f8d92b" d="M1863 5105l25-6 21 17-25 7z"/><path color="#f7dc2a" d="M1838 5112l25-7 21 18-25 7z"/><path color="#f5e128" d="M3084 4632l25-13 21 18-25 13z"/><path color="#f6df29" d="M3059 4646l25-14 21 18-25 14z"/><path color="#f7dc2a" d="M3034 4661l25-15 21 18-25 15z"/><path color="#f8d92b" d="M3009 4676l25-15 21 18-25 15z"/><path color="#fad62d" d="M2984 4692l25-16 21 18-25 16z"/><path color="#fbd22f" d="M2959 4709l25-17 21 18-25 17z"/><path color="#fdcd31" d="M2934 4727l25-18 21 18-25 18z"/><path color="#fec835" d="M2909 4746l25-19 21 18-25 18z"/><path color="#fec239" d="M2884 4766l25-20 21 17-25 20z"/><path color="#fdbd3d" d="M2859 4787l25-21 21 17-25 21z"/><path color="#f5ba3b" d="M2834 4809l25-22 21 17-25 22z"/><path color="#eaba30" d="M2809 4832l25-23 21 17-25 24z"/><path color="#dcbd29" d="M2784 4857l25-25 21 18-25 24z"/><path color="#cbc128" d="M2759 4883l25-26 21 17-25 26z"/><path color="#b7c532" d="M2734 4909l25-26 21 17-25 26z"/><path color="#9fc941" d="M2709 4936l25-27 21 17-25 27z"/><path color="#87cb54" d="M2684 4964l25-28 21 17-25 27z"/><path color="#6dcd68" d="M2659 4991l25-27 21 16-25 28z"/><path color="#56cc7b" d="M2634 5018l25-27 21 17-25 26z"/><path color="#42ca8b" d="M2609 5044l25-26 21 16-25 26z"/><path color="#36c898" d="M2584 5068l25-24 21 16-25 23z"/><path color="#2fc5a3" d="M2559 5089l25-21 21 15-25 22z"/><path color="#29c3aa" d="M2534 5108l25-19 21 16-25 18z"/><path color="#23c1af" d="M2509 5123l25-15 21 15-25 16z"/><path color="#1fc0b2" d="M2484 5135l25-12 21 16-25 12z"/><path color="#1fc0b2" d="M2459 5144l25-9 21 16-25 8z"/><path color="#23c1af" d="M2434 5149l25-5 21 15-25 5z"/><path color="#29c3aa" d="M2409 5150l25-1 21 15-25 2z"/><path color="#2fc5a3" d="M2384 5149l25 1 21 16-25-1z"/><path color="#36c898" d="M2359 5146l25 3 21 16-25-3z"/><path color="#42ca8b" d="M2334 5141l25 5 21 16-25-5z"/><path color="#56cc7b" d="M2309 5134l25 7 21 16-25-6z"/><path color="#6dcd68" d="M2284 5127l25 7 21 17-25-7z"/><path color="#87cb54" d="M2259 5120l25 7 21 17-25-7z"/><path color="#9fc941" d="M2234 5114l25 6 21 17-25-7z"/><path color="#b7c532" d="M2209 5108l25 6 21 16-25-6z"/><path color="#cbc128" d="M2184 5102l25 6 21 16-25-5z"/><path color="#dcbd29" d="M2159 5098l25 4 21 17-25-4z"/><path color="#eaba30" d="M2134 5095l25 3 21 17-25-3z"/><path color="#f5ba3b" d="M2109 5093l25 2 21 17-25-1z"/><path color="#fdbd3d" d="M2084 5093l25 0 21 18-25-1z"/><path color="#fec239" d="M2059 5093l25 0 21 17-25 1z"/><path color="#fec835" d="M2034 5095l25-2 21 18-25 1z"/><path color="#fdcd31" d="M2009 5097l25-2 21 17-25 3z"/><path color="#fbd22f" d="M1984 5101l25-4 21 18-25 4z"/><path color="#fad62d" d="M1959 5105l25-4 21 18-25 4z"/><path color="#f8d92b" d="M1934 5111l25-6 21 18-25 5z"/><path color="#f7dc2a" d="M1909 5116l25-5 21 17-25 6z"/><path color="#f6df29" d="M1884 5123l25-7 21 18-25 7z"/><path color="#f5e128" d="M1859 5130l25-7 21 18-25 7z"/><path color="#f5e725" d="M3105 4650l25-13 21 18-25 13z"/><path color="#f5e426" d="M3080 4664l25-14 21 18-25 14z"/><path color="#f5e228" d="M3055 4679l25-15 21 18-25 15z"/><path color="#f6df29" d="M3030 4694l25-15 21 18-25 15z"/><path color="#f7db2a" d="M3005 4710l25-16 21 18-25 16z"/><path color="#f9d72c" d="M2980 4727l25-17 21 18-25 17z"/><path color="#fbd32f" d="M2955 4745l25-18 21 18-25 17z"/><path color="#fdcd31" d="M2930 4763l25-18 21 17-25 19z"/><path color="#fec835" d="M2905 4783l25-20 21 18-25 20z"/><path color="#fec239" d="M2880 4804l25-21 21 18-25 20z"/><path color="#fcbc3e" d="M2855 4826l25-22 21 17-25 22z"/><path color="#f2ba38" d="M2830 4850l25-24 21 17-25 24z"/><path color="#e5bb2d" d="M2805 4874l25-24 21 17-25 24z"/><path color="#d6be27" d="M2780 4900l25-26 21 17-25 25z"/><path color="#c3c22b" d="M2755 4926l25-26 21 16-25 27z"/><path color="#adc638" d="M2730 4953l25-27 21 17-25 26z"/><path color="#95ca49" d="M2705 4980l25-27 21 16-25 28z"/><path color="#7ccc5c" d="M2680 5008l25-28 21 17-25 27z"/><path color="#63cd6f" d="M2655 5034l25-26 21 16-25 26z"/><path color="#4fcc81" d="M2630 5060l25-26 21 16-25 25z"/><path color="#3eca8f" d="M2605 5083l25-23 21 15-25 24z"/><path color="#35c79a" d="M2580 5105l25-22 21 16-25 21z"/><path color="#30c5a2" d="M2555 5123l25-18 21 15-25 19z"/><path color="#2cc3a7" d="M2530 5139l25-16 21 16-25 15z"/><path color="#29c3aa" d="M2505 5151l25-12 21 15-25 12z"/><path color="#29c3aa" d="M2480 5159l25-8 21 15-25 9z"/><path color="#2cc3a7" d="M2455 5164l25-5 21 16-25 5z"/><path color="#30c5a2" d="M2430 5166l25-2 21 16-25 2z"/><path color="#35c79a" d="M2405 5165l25 1 21 16-25-1z"/><path color="#3eca8f" d="M2380 5162l25 3 21 16-25-3z"/><path color="#4fcc81" d="M2355 5157l25 5 21 16-25-5z"/><path color="#63cd6f" d="M2330 5151l25 6 21 16-25-6z"/><path color="#7ccc5c" d="M2305 5144l25 7 21 16-25-7z"/><path color="#95ca49" d="M2280 5137l25 7 21 16-25-7z"/><path color="#adc638" d="M2255 5130l25 7 21 16-25-6z"/><path color="#c3c22b" d="M2230 5124l25 6 21 17-25-6z"/><path color="#d6be27" d="M2205 5119l25 5 21 17-25-5z"/><path color="#e5bb2d" d="M2180 5115l25 4 21 17-25-4z"/><path color="#f2ba38" d="M2155 5112l25 3 21 17-25-2z"/><path color="#fcbc3e" d="M2130 5111l25 1 21 18-25-2z"/><path color="#fec239" d="M2105 5110l25 1 21 17-25 0z"/><path color="#fec835" d="M2080 5111l25-1 21 18-25 0z"/><path color="#fdcd31" d="M2055 5112l25-1 21 17-25 2z"/><path color="#fbd32f" d="M2030 5115l25-3 21 18-25 3z"/><path color="#f9d72c" d="M2005 5119l25-4 21 18-25 4z"/><path color="#f7db2a" d="M1980 5123l25-4 21 18-25 4z"/><path color="#f6df29" d="M1955 5128l25-5 21 18-25 5z"/><path color="#f5e228" d="M1930 5134l25-6 21 18-25 6z"/><path color="#f5e426" d="M1905 5141l25-7 21 18-25 7z"/><path color="#f5e725" d="M1880 5148l25-7 21 18-25 7z"/><path color="#f5ec23" d="M3126 4668l25-13 22 18-25 13z"/><path color="#f5ea24" d="M3101 4682l25-14 22 18-25 14z"/><path color="#f5e725" d="M3076 4697l25-15 22 18-25 15z"/><path color="#f5e427" d="M3051 4712l25-15 22 18-25 15z"/><path color="#f5e128" d="M3026 4728l25-16 22 18-25 16z"/><path color="#f7dd2a" d="M3001 4745l25-17 22 18-25 16z"/><path color="#f8d82c" d="M2976 4762l25-17 22 17-25 18z"/><path color="#fbd32e" d="M2951 4781l25-19 22 18-25 19z"/><path color="#fdcd31" d="M2926 4801l25-20 22 18-25 19z"/><path color="#fec735" d="M2901 4821l25-20 22 17-25 21z"/><path color="#fec03a" d="M2876 4843l25-22 22 18-25 22z"/><path color="#faba3e" d="M2851 4867l25-24 22 18-25 23z"/><path color="#eeba34" d="M2826 4891l25-24 22 17-25 24z"/><path color="#e0bc2a" d="M2801 4916l25-25 22 17-25 25z"/><path color="#cfc027" d="M2776 4943l25-27 22 17-25 26z"/><path color="#bac430" d="M2751 4969l25-26 22 16-25 27z"/><path color="#a3c83e" d="M2726 4997l25-28 22 17-25 27z"/><path color="#8bcb51" d="M2701 5024l25-27 22 16-25 27z"/><path color="#72cd64" d="M2676 5050l25-26 22 16-25 26z"/><path color="#5ccc76" d="M2651 5075l25-25 22 16-25 25z"/><path color="#4acb85" d="M2626 5099l25-24 22 16-25 24z"/><path color="#3dc990" d="M2601 5120l25-21 22 16-25 21z"/><path color="#36c799" d="M2576 5139l25-19 22 16-25 19z"/><path color="#32c69f" d="M2551 5154l25-15 22 16-25 15z"/><path color="#30c5a2" d="M2526 5166l25-12 22 16-25 12z"/><path color="#30c5a2" d="M2501 5175l25-9 22 16-25 8z"/><path color="#32c69f" d="M2476 5180l25-5 22 15-25 5z"/><path color="#36c799" d="M2451 5182l25-2 22 15-25 2z"/><path color="#3dc990" d="M2426 5181l25 1 22 15-25 0z"/><path color="#4acb85" d="M2401 5178l25 3 22 16-25-3z"/><path color="#5ccc76" d="M2376 5173l25 5 22 16-25-5z"/><path color="#72cd64" d="M2351 5167l25 6 22 16-25-6z"/><path color="#8bcb51" d="M2326 5160l25 7 22 16-25-6z"/><path color="#a3c83e" d="M2301 5153l25 7 22 17-25-7z"/><path color="#bac430" d="M2276 5147l25 6 22 17-25-6z"/><path color="#cfc027" d="M2251 5141l25 6 22 17-25-6z"/><path color="#e0bc2a" d="M2226 5136l25 5 22 17-25-5z"/><path color="#eeba34" d="M2201 5132l25 4 22 17-25-3z"/><path color="#faba3e" d="M2176 5130l25 2 22 18-25-3z"/><path color="#fec03a" d="M2151 5128l25 2 22 17-25-1z"/><path color="#fec735" d="M2126 5128l25 0 22 18-25-1z"/><path color="#fdcd31" d="M2101 5128l25 0 22 17-25 1z"/><path color="#fbd32e" d="M2076 5130l25-2 22 18-25 2z"/><path color="#f8d82c" d="M2051 5133l25-3 22 18-25 3z"/><path color="#f7dd2a" d="M2026 5137l25-4 22 18-25 4z"/><path color="#f5e128" d="M2001 5141l25-4 22 18-25 4z"/><path color="#f5e427" d="M1976 5146l25-5 22 18-25 5z"/><path color="#f5e725" d="M1951 5152l25-6 22 18-25 6z"/><path color="#f5ea24" d="M1926 5159l25-7 22 18-25 7z"/><path color="#f5ec23" d="M1901 5166l25-7 22 18-25 7z"/><path color="#f6f11f" d="M3148 4686l25-13 21 18-25 14z"/><path color="#f5ef21" d="M3123 4700l25-14 21 19-25 13z"/><path color="#f5ec22" d="M3098 4715l25-15 21 18-25 15z"/><path color="#f5e924" d="M3073 4730l25-15 21 18-25 15z"/><path color="#f5e626" d="M3048 4746l25-16 21 18-25 16z"/><path color="#f5e227" d="M3023 4762l25-16 21 18-25 16z"/><path color="#f6de29" d="M2998 4780l25-18 21 18-25 18z"/><path color="#f8d82c" d="M2973 4799l25-19 21 18-25 18z"/><path color="#fbd32f" d="M2948 4818l25-19 21 17-25 20z"/><path color="#fdcc32" d="M2923 4839l25-21 21 18-25 21z"/><path color="#fec536" d="M2898 4861l25-22 21 18-25 21z"/><path color="#febe3c" d="M2873 4884l25-23 21 17-25 23z"/><path color="#f6ba3c" d="M2848 4908l25-24 21 17-25 24z"/><path color="#e9bb2f" d="M2823 4933l25-25 21 17-25 25z"/><path color="#d9bd28" d="M2798 4959l25-26 21 17-25 26z"/><path color="#c6c22a" d="M2773 4986l25-27 21 17-25 27z"/><path color="#b1c635" d="M2748 5013l25-27 21 17-25 27z"/><path color="#99c946" d="M2723 5040l25-27 21 17-25 26z"/><path color="#81cc58" d="M2698 5066l25-26 21 16-25 26z"/><path color="#6acd6a" d="M2673 5091l25-25 21 16-25 25z"/><path color="#57cc7a" d="M2648 5115l25-24 21 16-25 24z"/><path color="#48cb86" d="M2623 5136l25-21 21 16-25 21z"/><path color="#3dca90" d="M2598 5155l25-19 21 16-25 18z"/><path color="#38c896" d="M2573 5170l25-15 21 15-25 15z"/><path color="#36c899" d="M2548 5182l25-12 21 15-25 12z"/><path color="#36c899" d="M2523 5190l25-8 21 15-25 9z"/><path color="#38c896" d="M2498 5195l25-5 21 16-25 5z"/><path color="#3dca90" d="M2473 5197l25-2 21 16-25 2z"/><path color="#48cb86" d="M2448 5197l25 0 21 16-25-1z"/><path color="#57cc7a" d="M2423 5194l25 3 21 15-25-2z"/><path color="#6acd6a" d="M2398 5189l25 5 21 16-25-5z"/><path color="#81cc58" d="M2373 5183l25 6 21 16-25-6z"/><path color="#99c946" d="M2348 5177l25 6 21 16-25-6z"/><path color="#b1c635" d="M2323 5170l25 7 21 16-25-6z"/><path color="#c6c22a" d="M2298 5164l25 6 21 17-25-6z"/><path color="#d9bd28" d="M2273 5158l25 6 21 17-25-6z"/><path color="#e9bb2f" d="M2248 5153l25 5 21 17-25-4z"/><path color="#f6ba3c" d="M2223 5150l25 3 21 18-25-4z"/><path color="#febe3c" d="M2198 5147l25 3 21 17-25-2z"/><path color="#fec536" d="M2173 5146l25 1 21 18-25-2z"/><path color="#fdcc32" d="M2148 5145l25 1 21 17-25 0z"/><path color="#fbd32f" d="M2123 5146l25-1 21 18-25 1z"/><path color="#f8d82c" d="M2098 5148l25-2 21 18-25 2z"/><path color="#f6de29" d="M2073 5151l25-3 21 18-25 3z"/><path color="#f5e227" d="M2048 5155l25-4 21 18-25 4z"/><path color="#f5e626" d="M2023 5159l25-4 21 18-25 4z"/><path color="#f5e924" d="M1998 5164l25-5 21 18-25 6z"/><path color="#f5ec22" d="M1973 5170l25-6 21 19-25 6z"/><path color="#f5ef21" d="M1948 5177l25-7 21 19-25 6z"/><path color="#f6f11f" d="M1923 5184l25-7 21 18-25 7z"/><path color="#f7f51b" d="M3169 4705l25-14 21 19-25 13z"/><path color="#f7f31d" d="M3144 4718l25-13 21 18-25 14z"/><path color="#f6f11f" d="M3119 4733l25-15 21 19-25 14z"/><path color="#f5ee21" d="M3094 4748l25-15 21 18-25 15z"/><path color="#f5eb23" d="M3069 4764l25-16 21 18-25 16z"/><path color="#f5e725" d="M3044 4780l25-16 21 18-25 17z"/><path color="#f5e327" d="M3019 4798l25-18 21 19-25 17z"/><path color="#f6de29" d="M2994 4816l25-18 21 18-25 18z"/><path color="#f8d82c" d="M2969 4836l25-20 21 18-25 20z"/><path color="#fbd22f" d="M2944 4857l25-21 21 18-25 20z"/><path color="#fecb33" d="M2919 4878l25-21 21 17-25 22z"/><path color="#fec338" d="M2894 4901l25-23 21 18-25 23z"/><path color="#fdbc3e" d="M2869 4925l25-24 21 18-25 24z"/><path color="#f1ba38" d="M2844 4950l25-25 21 18-25 24z"/><path color="#e3bb2b" d="M2819 4976l25-26 21 17-25 26z"/><path color="#d2bf27" d="M2794 5003l25-27 21 17-25 26z"/><path color="#bec32e" d="M2769 5030l25-27 21 16-25 27z"/><path color="#a7c73b" d="M2744 5056l25-26 21 16-25 27z"/><path color="#90ca4d" d="M2719 5082l25-26 21 17-25 25z"/><path color="#79cc5e" d="M2694 5107l25-25 21 16-25 25z"/><path color="#65cd6e" d="M2669 5131l25-24 21 16-25 23z"/><path color="#55cc7b" d="M2644 5152l25-21 21 15-25 21z"/><path color="#49cb85" d="M2619 5170l25-18 21 15-25 19z"/><path color="#41ca8c" d="M2594 5185l25-15 21 16-25 15z"/><path color="#3eca8f" d="M2569 5197l25-12 21 16-25 12z"/><path color="#3eca8f" d="M2544 5206l25-9 21 16-25 8z"/><path color="#41ca8c" d="M2519 5211l25-5 21 15-25 6z"/><path color="#49cb85" d="M2494 5213l25-2 21 16-25 2z"/><path color="#55cc7b" d="M2469 5212l25 1 21 16-25-1z"/><path color="#65cd6e" d="M2444 5210l25 2 21 16-25-2z"/><path color="#79cc5e" d="M2419 5205l25 5 21 16-25-5z"/><path color="#90ca4d" d="M2394 5199l25 6 21 16-25-5z"/><path color="#a7c73b" d="M2369 5193l25 6 21 17-25-6z"/><path color="#bec32e" d="M2344 5187l25 6 21 17-25-7z"/><path color="#d2bf27" d="M2319 5181l25 6 21 16-25-5z"/><path color="#e3bb2b" d="M2294 5175l25 6 21 17-25-6z"/><path color="#f1ba38" d="M2269 5171l25 4 21 17-25-4z"/><path color="#fdbc3e" d="M2244 5167l25 4 21 17-25-4z"/><path color="#fec338" d="M2219 5165l25 2 21 17-25-2z"/><path color="#fecb33" d="M2194 5163l25 2 21 17-25-1z"/><path color="#fbd22f" d="M2169 5163l25 0 21 18-25 0z"/><path color="#f8d82c" d="M2144 5164l25-1 21 18-25 1z"/><path color="#f6de29" d="M2119 5166l25-2 21 18-25 2z"/><path color="#f5e327" d="M2094 5169l25-3 21 18-25 3z"/><path color="#f5e725" d="M2069 5173l25-4 21 18-25 4z"/><path color="#f5eb23" d="M2044 5177l25-4 21 18-25 5z"/><path color="#f5ee21" d="M2019 5183l25-6 21 19-25 5z"/><path color="#f6f11f" d="M1994 5189l25-6 21 18-25 6z"/><path color="#f7f31d" d="M1969 5195l25-6 21 18-25 7z"/><path color="#f7f51b" d="M1944 5202l25-7 21 19-25 7z"/></g>
<path d="M124.3 417.8L124.3 506.9M124.3 506.9L196.5 596.2L321.5 545.1M124.3 506.9l-3.1 1.2M160.4 551.5l-3.1 1.2M196.5 596.2l-3.1 1.2M196.5 596.2l2.1 2.6M259 570.7l2.1 2.6M321.5 545.1l2.1 2.6M124.3 506.9l-2.1 -2.6M124.3 462.3l-2.1 -2.6M124.3 417.8l-2.1 -2.6" stroke="#262626" stroke-width="1" fill="none"/>
<path d="M544.6 545.1L643.2 494M643.2 494L643.2 367.5M593.9 570.7L692.6 519.6M692.6 519.6L692.6 393.1M643.2 596.2L741.9 545.1M741.9 545.1L741.9 418.6M544.6 545.1L643.2 596.2M544.6 545.1L544.6 418.6M593.9 519.5L692.6 570.7M593.9 519.5L593.9 393M643.2 494L741.9 545.1M643.2 494L643.2 367.5M544.6 545.1L643.2 494M643.2 494L741.9 545.1M544.6 481.9L643.2 430.8M643.2 430.8L741.9 481.9M544.6 418.6L643.2 367.5M643.2 367.5L741.9 418.6" stroke="#dcdcdc" stroke-width="1" fill="none"/>
<g transform="scale(.1)" fill="currentColor" stroke="currentColor" stroke-width="8" stroke-linejoin="round"><path color="#4562fc" d="M6413 4587l19 17 30 23-20-16z"/><path color="#426bfe" d="M6393 4569l20 18 29 24-20-18z"/><path color="#3975ff" d="M6373 4548l20 21 29 24-20-20z"/><path color="#2f7ffb" d="M6354 4525l19 23 29 25-19-22z"/><path color="#2d8af5" d="M6334 4500l20 25 29 26-20-24z"/><path color="#2994ed" d="M6314 4473l20 27 29 27-20-26z"/><path color="#249ee6" d="M6294 4444l20 29 29 28-20-28z"/><path color="#1da9e0" d="M6275 4413l19 31 29 29-19-30z"/><path color="#10b2d5" d="M6255 4379l20 34 29 30-20-33z"/><path color="#01bac5" d="M6235 4344l20 35 29 31-20-34z"/><path color="#1cc0b4" d="M6215 4306l20 38 29 32-20-36z"/><path color="#31c6a0" d="M6196 4268l19 38 29 34-19-38z"/><path color="#45cb88" d="M6176 4228l20 40 29 34-20-38z"/><path color="#69cd6b" d="M6156 4188l20 40 29 36-20-39z"/><path color="#92ca4c" d="M6137 4147l19 41 29 37-19-39z"/><path color="#b8c531" d="M6117 4108l20 39 29 39-20-39z"/><path color="#d8be28" d="M6097 4070l20 38 29 39-20-36z"/><path color="#f1ba37" d="M6077 4034l20 36 29 41-20-35z"/><path color="#fec13a" d="M6058 4002l19 32 29 42-19-31z"/><path color="#fdcf31" d="M6038 3974l20 28 29 43-20-27z"/><path color="#f7db2a" d="M6018 3952l20 22 29 44-20-22z"/><path color="#f5e526" d="M5998 3935l20 17 29 44-20-15z"/><path color="#f5ed22" d="M5979 3926l19 9 29 46-19-9z"/><path color="#f6f21d" d="M5959 3924l20 2 29 46-20-2z"/><path color="#f7f51b" d="M5939 3930l20-6 29 46-20 7z"/><path color="#f7f51b" d="M5920 3945l19-15 29 47-19 14z"/><path color="#f6f21d" d="M5900 3967l20-22 29 46-20 22z"/><path color="#f5ed22" d="M5880 3997l20-30 29 46-20 29z"/><path color="#f5e526" d="M5860 4033l20-36 29 45-20 36z"/><path color="#f7db2a" d="M5841 4076l19-43 29 45-19 42z"/><path color="#fdcf31" d="M5821 4125l20-49 29 44-20 48z"/><path color="#fec13a" d="M5801 4177l20-52 29 43-20 51z"/><path color="#f1ba37" d="M5781 4233l20-56 29 42-20 55z"/><path color="#d8be28" d="M5762 4292l19-59 29 41-19 57z"/><path color="#b8c531" d="M5742 4352l20-60 29 39-20 59z"/><path color="#92ca4c" d="M5722 4413l20-61 29 38-20 60z"/><path color="#69cd6b" d="M5702 4473l20-60 29 37-19 59z"/><path color="#45cb88" d="M5683 4533l19-60 30 36-20 59z"/><path color="#31c6a0" d="M5663 4593l20-60 29 35-20 58z"/><path color="#1cc0b4" d="M5643 4650l20-57 29 33-20 56z"/><path color="#01bac5" d="M5624 4706l19-56 29 32-19 55z"/><path color="#10b2d5" d="M5604 4760l20-54 29 31-20 53z"/><path color="#1da9e0" d="M5584 4812l20-52 29 30-20 51z"/><path color="#249ee6" d="M5564 4862l20-50 29 29-20 49z"/><path color="#2994ed" d="M5545 4909l19-47 29 28-19 46z"/><path color="#2d8af5" d="M5525 4954l20-45 29 27-20 45z"/><path color="#2f7ffb" d="M5505 4998l20-44 29 27-20 42z"/><path color="#3975ff" d="M5485 5039l20-41 29 25-20 40z"/><path color="#426bfe" d="M5466 5078l19-39 29 24-19 39z"/><path color="#4562fc" d="M5446 5115l20-37 29 24-20 36z"/><path color="#465ffb" d="M6442 4611l20 16 29 24-20-16z"/><path color="#4367fd" d="M6422 4593l20 18 29 24-20-17z"/><path color="#3c71ff" d="M6402 4573l20 20 29 25-20-19z"/><path color="#327cfc" d="M6383 4551l19 22 29 26-19-21z"/><path color="#2e86f7" d="M6363 4527l20 24 29 27-20-23z"/><path color="#2c90ef" d="M6343 4501l20 26 29 28-20-25z"/><path color="#259be8" d="M6323 4473l20 28 29 29-20-27z"/><path color="#20a5e2" d="M6304 4443l19 30 29 30-19-30z"/><path color="#16afda" d="M6284 4410l20 33 29 30-20-31z"/><path color="#02b7cc" d="M6264 4376l20 34 29 32-20-33z"/><path color="#0ebebb" d="M6244 4340l20 36 29 33-20-35z"/><path color="#2bc3a9" d="M6225 4302l19 38 29 34-19-36z"/><path color="#3ac993" d="M6205 4264l20 38 29 36-20-38z"/><path color="#59cc78" d="M6185 4225l20 39 29 36-20-37z"/><path color="#7fcc5a" d="M6166 4186l19 39 29 38-19-38z"/><path color="#a5c83d" d="M6146 4147l20 39 29 39-20-37z"/><path color="#c8c129" d="M6126 4111l20 36 29 41-20-36z"/><path color="#e4bb2c" d="M6106 4076l20 35 29 41-20-33z"/><path color="#f9ba3d" d="M6087 4045l19 31 29 43-19-30z"/><path color="#fec537" d="M6067 4018l20 27 29 44-20-26z"/><path color="#fcd030" d="M6047 3996l20 22 29 45-20-21z"/><path color="#f7db2b" d="M6027 3981l20 15 29 46-20-15z"/><path color="#f5e327" d="M6008 3972l19 9 29 46-19-8z"/><path color="#f5e825" d="M5988 3970l20 2 29 47-20-1z"/><path color="#f5ea23" d="M5968 3977l20-7 29 48-20 6z"/><path color="#f5ea23" d="M5949 3991l19-14 29 47-19 14z"/><path color="#f5e825" d="M5929 4013l20-22 29 47-20 22z"/><path color="#f5e327" d="M5909 4042l20-29 29 47-20 28z"/><path color="#f7db2b" d="M5889 4078l20-36 29 46-20 36z"/><path color="#fcd030" d="M5870 4120l19-42 29 46-19 41z"/><path color="#fec537" d="M5850 4168l20-48 29 45-20 47z"/><path color="#f9ba3d" d="M5830 4219l20-51 29 44-20 50z"/><path color="#e4bb2c" d="M5810 4274l20-55 29 43-20 54z"/><path color="#c8c129" d="M5791 4331l19-57 29 42-19 56z"/><path color="#a5c83d" d="M5771 4390l20-59 29 41-20 57z"/><path color="#7fcc5a" d="M5751 4450l20-60 29 39-20 59z"/><path color="#59cc78" d="M5732 4509l19-59 29 38-19 58z"/><path color="#3ac993" d="M5712 4568l20-59 29 37-20 57z"/><path color="#2bc3a9" d="M5692 4626l20-58 29 35-20 57z"/><path color="#0ebebb" d="M5672 4682l20-56 29 34-20 55z"/><path color="#02b7cc" d="M5653 4737l19-55 29 33-19 54z"/><path color="#16afda" d="M5633 4790l20-53 29 32-20 52z"/><path color="#20a5e2" d="M5613 4841l20-51 29 31-20 49z"/><path color="#259be8" d="M5593 4890l20-49 29 29-20 48z"/><path color="#2c90ef" d="M5574 4936l19-46 29 28-19 46z"/><path color="#2e86f7" d="M5554 4981l20-45 29 28-20 43z"/><path color="#327cfc" d="M5534 5023l20-42 29 26-20 42z"/><path color="#3c71ff" d="M5514 5063l20-40 29 26-20 39z"/><path color="#4367fd" d="M5495 5102l19-39 29 25-19 38z"/><path color="#465ffb" d="M5475 5138l20-36 29 24-20 36z"/><path color="#475cfa" d="M6471 4635l20 16 29 24-20-15z"/><path color="#4464fd" d="M6451 4618l20 17 29 25-20-16z"/><path color="#406efe" d="M6431 4599l20 19 29 26-20-19z"/><path color="#3678fd" d="M6412 4578l19 21 29 26-19-20z"/><path color="#2f82f9" d="M6392 4555l20 23 29 27-20-22z"/><path color="#2d8df2" d="M6372 4530l20 25 29 28-20-24z"/><path color="#2797eb" d="M6352 4503l20 27 29 29-20-27z"/><path color="#23a1e4" d="M6333 4473l19 30 29 29-19-28z"/><path color="#1babde" d="M6313 4442l20 31 29 31-20-30z"/><path color="#0ab4d2" d="M6293 4409l20 33 29 32-20-32z"/><path color="#03bbc2" d="M6273 4374l20 35 29 33-19-34z"/><path color="#21c1b1" d="M6254 4338l19 36 30 34-20-34z"/><path color="#33c69d" d="M6234 4300l20 38 29 36-20-36z"/><path color="#49cb85" d="M6214 4263l20 37 29 38-20-37z"/><path color="#6bcd69" d="M6195 4225l19 38 29 38-19-36z"/><path color="#91ca4c" d="M6175 4188l20 37 29 40-20-36z"/><path color="#b5c533" d="M6155 4152l20 36 29 41-20-34z"/><path color="#d3bf27" d="M6135 4119l20 33 29 43-20-32z"/><path color="#ebba31" d="M6116 4089l19 30 29 44-19-29z"/><path color="#fcbc3e" d="M6096 4063l20 26 29 45-20-25z"/><path color="#fec636" d="M6076 4042l20 21 29 46-20-20z"/><path color="#fccf30" d="M6056 4027l20 15 29 47-20-14z"/><path color="#f9d72c" d="M6037 4019l19 8 29 48-19-8z"/><path color="#f7dc2a" d="M6017 4018l20 1 29 48-20-1z"/><path color="#f6df29" d="M5997 4024l20-6 29 48-20 6z"/><path color="#f6df29" d="M5978 4038l19-14 29 48-19 14z"/><path color="#f7dc2a" d="M5958 4060l20-22 29 48-20 22z"/><path color="#f9d72c" d="M5938 4088l20-28 29 48-20 28z"/><path color="#fccf30" d="M5918 4124l20-36 29 48-20 35z"/><path color="#fec636" d="M5899 4165l19-41 29 47-19 40z"/><path color="#fcbc3e" d="M5879 4212l20-47 29 46-20 45z"/><path color="#ebba31" d="M5859 4262l20-50 29 44-20 50z"/><path color="#d3bf27" d="M5839 4316l20-54 29 44-20 52z"/><path color="#b5c533" d="M5820 4372l19-56 29 42-19 55z"/><path color="#91ca4c" d="M5800 4429l20-57 29 41-20 56z"/><path color="#6bcd69" d="M5780 4488l20-59 29 40-20 57z"/><path color="#49cb85" d="M5761 4546l19-58 29 38-19 57z"/><path color="#33c69d" d="M5741 4603l20-57 29 37-20 56z"/><path color="#21c1b1" d="M5721 4660l20-57 29 36-20 56z"/><path color="#03bbc2" d="M5701 4715l20-55 29 35-20 54z"/><path color="#0ab4d2" d="M5682 4769l19-54 29 34-19 52z"/><path color="#1babde" d="M5662 4821l20-52 29 32-20 51z"/><path color="#23a1e4" d="M5642 4870l20-49 29 31-20 48z"/><path color="#2797eb" d="M5622 4918l20-48 29 30-20 47z"/><path color="#2d8df2" d="M5603 4964l19-46 29 29-19 45z"/><path color="#2f82f9" d="M5583 5007l20-43 29 28-20 42z"/><path color="#3678fd" d="M5563 5049l20-42 29 27-20 41z"/><path color="#406efe" d="M5543 5088l20-39 29 26-19 39z"/><path color="#4464fd" d="M5524 5126l19-38 30 26-20 37z"/><path color="#475cfa" d="M5504 5162l20-36 29 25-20 35z"/><path color="#4759f8" d="M6500 4660l20 15 29 24-20-14z"/><path color="#4661fc" d="M6480 4644l20 16 29 25-20-16z"/><path color="#426afe" d="M6460 4625l20 19 29 25-20-17z"/><path color="#3a74ff" d="M6441 4605l19 20 29 27-19-20z"/><path color="#307efb" d="M6421 4583l20 22 29 27-20-21z"/><path color="#2d89f6" d="M6401 4559l20 24 29 28-20-23z"/><path color="#2a93ee" d="M6381 4532l20 27 29 29-20-25z"/><path color="#259de7" d="M6362 4504l19 28 29 31-19-27z"/><path color="#1ea7e1" d="M6342 4474l20 30 29 32-20-29z"/><path color="#14b0d7" d="M6322 4442l20 32 29 33-20-31z"/><path color="#01b8c9" d="M6303 4408l19 34 29 34-19-32z"/><path color="#13beb9" d="M6283 4374l20 34 29 36-20-34z"/><path color="#2cc4a7" d="M6263 4338l20 36 29 36-20-35z"/><path color="#3cc992" d="M6243 4301l20 37 29 37-20-35z"/><path color="#59cc78" d="M6224 4265l19 36 29 39-19-35z"/><path color="#7ccc5c" d="M6204 4229l20 36 29 40-20-34z"/><path color="#a0c840" d="M6184 4195l20 34 29 42-20-33z"/><path color="#c0c32c" d="M6164 4163l20 32 29 43-20-31z"/><path color="#dabd28" d="M6145 4134l19 29 29 44-19-28z"/><path color="#eeba34" d="M6125 4109l20 25 29 45-20-24z"/><path color="#fdbc3e" d="M6105 4089l20 20 29 46-20-19z"/><path color="#fec437" d="M6085 4075l20 14 29 47-20-14z"/><path color="#fdcb32" d="M6066 4067l19 8 29 47-19-7z"/><path color="#fcd030" d="M6046 4066l20 1 29 48-20 0z"/><path color="#fbd32e" d="M6026 4072l20-6 29 49-20 6z"/><path color="#fbd32e" d="M6007 4086l19-14 29 49-19 14z"/><path color="#fcd030" d="M5987 4108l20-22 29 49-20 21z"/><path color="#fdcb32" d="M5967 4136l20-28 29 48-20 28z"/><path color="#fec437" d="M5947 4171l20-35 29 48-20 34z"/><path color="#fdbc3e" d="M5928 4211l19-40 29 47-19 39z"/><path color="#eeba34" d="M5908 4256l20-45 29 46-20 45z"/><path color="#dabd28" d="M5888 4306l20-50 29 46-20 48z"/><path color="#c0c32c" d="M5868 4358l20-52 29 44-20 51z"/><path color="#a0c840" d="M5849 4413l19-55 29 43-19 54z"/><path color="#7ccc5c" d="M5829 4469l20-56 29 42-20 55z"/><path color="#59cc78" d="M5809 4526l20-57 29 41-20 55z"/><path color="#3cc992" d="M5790 4583l19-57 29 39-19 56z"/><path color="#2cc4a7" d="M5770 4639l20-56 29 38-20 55z"/><path color="#13beb9" d="M5750 4695l20-56 29 37-20 54z"/><path color="#01b8c9" d="M5730 4749l20-54 29 35-20 52z"/><path color="#14b0d7" d="M5711 4801l19-52 29 33-19 52z"/><path color="#1ea7e1" d="M5691 4852l20-51 29 33-20 49z"/><path color="#259de7" d="M5671 4900l20-48 29 31-20 48z"/><path color="#2a93ee" d="M5651 4947l20-47 29 31-20 45z"/><path color="#2d89f6" d="M5632 4992l19-45 29 29-19 44z"/><path color="#307efb" d="M5612 5034l20-42 29 28-20 42z"/><path color="#3a74ff" d="M5592 5075l20-41 29 28-20 39z"/><path color="#426afe" d="M5573 5114l19-39 29 26-19 38z"/><path color="#4661fc" d="M5553 5151l20-37 29 25-20 36z"/><path color="#4759f8" d="M5533 5186l20-35 29 24-20 35z"/><path color="#4756f7" d="M6529 4685l20 14 29 24-20-13z"/><path color="#465efb" d="M6509 4669l20 16 29 25-20-15z"/><path color="#4466fd" d="M6489 4652l20 17 29 26-20-17z"/><path color="#3e70ff" d="M6470 4632l19 20 29 26-19-18z"/><path color="#337afd" d="M6450 4611l20 21 29 28-20-21z"/><path color="#2e84f8" d="M6430 4588l20 23 29 28-20-22z"/><path color="#2c8ef1" d="M6410 4563l20 25 29 29-20-24z"/><path color="#2699e9" d="M6391 4536l19 27 29 30-19-26z"/><path color="#21a3e4" d="M6371 4507l20 29 29 31-20-28z"/><path color="#1aacdc" d="M6351 4476l20 31 29 32-20-29z"/><path color="#07b5d0" d="M6332 4444l19 32 29 34-19-31z"/><path color="#04bcc1" d="M6312 4410l20 34 29 35-20-33z"/><path color="#22c1b0" d="M6292 4375l20 35 29 36-20-33z"/><path color="#33c79d" d="M6272 4340l20 35 29 38-20-33z"/><path color="#48cb86" d="M6253 4305l19 35 29 40-19-34z"/><path color="#67cd6c" d="M6233 4271l20 34 29 41-20-33z"/><path color="#8bcb51" d="M6213 4238l20 33 29 42-20-32z"/><path color="#abc739" d="M6193 4207l20 31 29 43-20-29z"/><path color="#c7c129" d="M6174 4179l19 28 29 45-19-27z"/><path color="#debd29" d="M6154 4155l20 24 29 46-20-23z"/><path color="#efba35" d="M6134 4136l20 19 29 47-20-18z"/><path color="#fbbb3e" d="M6114 4122l20 14 29 48-19-13z"/><path color="#fec03a" d="M6095 4115l19 7 30 49-20-7z"/><path color="#fec537" d="M6075 4115l20 0 29 49-20 0z"/><path color="#fec735" d="M6055 4121l20-6 29 49-20 7z"/><path color="#fec735" d="M6036 4135l19-14 29 50-19 13z"/><path color="#fec537" d="M6016 4156l20-21 29 49-20 21z"/><path color="#fec03a" d="M5996 4184l20-28 29 49-20 27z"/><path color="#fbbb3e" d="M5976 4218l20-34 29 48-20 33z"/><path color="#efba35" d="M5957 4257l19-39 29 47-19 39z"/><path color="#debd29" d="M5937 4302l20-45 29 47-20 43z"/><path color="#c7c129" d="M5917 4350l20-48 29 45-20 48z"/><path color="#abc739" d="M5897 4401l20-51 29 45-20 50z"/><path color="#8bcb51" d="M5878 4455l19-54 29 44-19 52z"/><path color="#67cd6c" d="M5858 4510l20-55 29 42-20 53z"/><path color="#48cb86" d="M5838 4565l20-55 29 40-20 54z"/><path color="#33c79d" d="M5819 4621l19-56 29 39-19 55z"/><path color="#22c1b0" d="M5799 4676l20-55 29 38-20 53z"/><path color="#04bcc1" d="M5779 4730l20-54 29 36-20 53z"/><path color="#07b5d0" d="M5759 4782l20-52 29 35-20 51z"/><path color="#1aacdc" d="M5740 4834l19-52 29 34-19 50z"/><path color="#21a3e4" d="M5720 4883l20-49 29 32-20 49z"/><path color="#2699e9" d="M5700 4931l20-48 29 32-20 46z"/><path color="#2c8ef1" d="M5680 4976l20-45 29 30-20 45z"/><path color="#2e84f8" d="M5661 5020l19-44 29 30-19 42z"/><path color="#337afd" d="M5641 5062l20-42 29 28-20 41z"/><path color="#3e70ff" d="M5621 5101l20-39 29 27-20 39z"/><path color="#4466fd" d="M5602 5139l19-38 29 27-19 37z"/><path color="#465efb" d="M5582 5175l20-36 29 26-20 35z"/><path color="#4756f7" d="M5562 5210l20-35 29 25-20 34z"/><path color="#4853f5" d="M6558 4710l20 13 29 24-20-13z"/><path color="#475bf9" d="M6538 4695l20 15 29 24-20-14z"/><path color="#4563fc" d="M6518 4678l20 17 29 25-20-15z"/><path color="#416cfe" d="M6499 4660l19 18 29 27-19-18z"/><path color="#3876fe" d="M6479 4639l20 21 29 27-20-19z"/><path color="#2f80fa" d="M6459 4617l20 22 29 29-20-21z"/><path color="#2d8af5" d="M6439 4593l20 24 29 30-20-23z"/><path color="#2994ed" d="M6420 4567l19 26 29 31-19-25z"/><path color="#249ee6" d="M6400 4539l20 28 29 32-20-27z"/><path color="#1da8e0" d="M6380 4510l20 29 29 33-20-28z"/><path color="#12b1d6" d="M6361 4479l19 31 29 34-19-30z"/><path color="#00b8c8" d="M6341 4446l20 33 29 35-20-31z"/><path color="#13beb8" d="M6321 4413l20 33 29 37-20-32z"/><path color="#2cc4a7" d="M6301 4380l20 33 29 38-20-32z"/><path color="#3ac993" d="M6282 4346l19 34 29 39-19-32z"/><path color="#54cc7c" d="M6262 4313l20 33 29 41-20-32z"/><path color="#74cd62" d="M6242 4281l20 32 29 42-20-30z"/><path color="#95ca49" d="M6222 4252l20 29 29 44-20-29z"/><path color="#b2c635" d="M6203 4225l19 27 29 44-19-25z"/><path color="#cac128" d="M6183 4202l20 23 29 46-20-22z"/><path color="#ddbd29" d="M6163 4184l20 18 29 47-20-18z"/><path color="#ebba31" d="M6144 4171l19 13 29 47-19-12z"/><path color="#f5ba3b" d="M6124 4164l20 7 29 48-20-6z"/><path color="#fbbb3e" d="M6104 4164l20 0 29 49-20 0z"/><path color="#fdbc3d" d="M6084 4171l20-7 29 49-20 7z"/><path color="#fdbc3d" d="M6065 4184l19-13 29 49-19 14z"/><path color="#fbbb3e" d="M6045 4205l20-21 29 50-20 20z"/><path color="#f5ba3b" d="M6025 4232l20-27 29 49-20 27z"/><path color="#ebba31" d="M6005 4265l20-33 29 49-20 32z"/><path color="#ddbd29" d="M5986 4304l19-39 29 48-19 38z"/><path color="#cac128" d="M5966 4347l20-43 29 47-20 42z"/><path color="#b2c635" d="M5946 4395l20-48 29 46-20 46z"/><path color="#95ca49" d="M5926 4445l20-50 29 44-20 49z"/><path color="#74cd62" d="M5907 4497l19-52 29 43-19 51z"/><path color="#54cc7c" d="M5887 4550l20-53 29 42-20 52z"/><path color="#3ac993" d="M5867 4604l20-54 29 41-20 53z"/><path color="#2cc4a7" d="M5848 4659l19-55 29 40-19 53z"/><path color="#13beb8" d="M5828 4712l20-53 29 38-20 52z"/><path color="#00b8c8" d="M5808 4765l20-53 29 37-20 51z"/><path color="#12b1d6" d="M5788 4816l20-51 29 35-20 50z"/><path color="#1da8e0" d="M5769 4866l19-50 29 34-19 49z"/><path color="#249ee6" d="M5749 4915l20-49 29 33-20 47z"/><path color="#2994ed" d="M5729 4961l20-46 29 31-20 45z"/><path color="#2d8af5" d="M5709 5006l20-45 29 30-20 44z"/><path color="#2f80fa" d="M5690 5048l19-42 29 29-19 42z"/><path color="#3876fe" d="M5670 5089l20-41 29 29-20 39z"/><path color="#416cfe" d="M5650 5128l20-39 29 27-20 38z"/><path color="#4563fc" d="M5631 5165l19-37 29 26-19 37z"/><path color="#475bf9" d="M5611 5200l20-35 29 26-20 34z"/><path color="#4853f5" d="M5591 5234l20-34 29 25-20 33z"/><path color="#4850f3" d="M6587 4734l20 13 29 24-20-12z"/><path color="#4757f7" d="M6567 4720l20 14 29 25-20-13z"/><path color="#465ffb" d="M6547 4705l20 15 29 26-20-15z"/><path color="#4368fe" d="M6528 4687l19 18 29 26-19-16z"/><path color="#3c71ff" d="M6508 4668l20 19 29 28-20-19z"/><path color="#327cfc" d="M6488 4647l20 21 29 28-20-20z"/><path color="#2e86f8" d="M6468 4624l20 23 29 29-20-22z"/><path color="#2c90f0" d="M6449 4599l19 25 29 30-19-24z"/><path color="#269ae9" d="M6429 4572l20 27 29 31-20-25z"/><path color="#21a3e3" d="M6409 4544l20 28 29 33-20-27z"/><path color="#19addc" d="M6390 4514l19 30 29 34-19-29z"/><path color="#07b5d0" d="M6370 4483l20 31 29 35-20-29z"/><path color="#04bbc1" d="M6350 4451l20 32 29 37-20-31z"/><path color="#21c1b1" d="M6330 4419l20 32 29 38-20-31z"/><path color="#31c69f" d="M6311 4387l19 32 29 39-19-31z"/><path color="#42ca8b" d="M6291 4355l20 32 29 40-20-30z"/><path color="#5ecd74" d="M6271 4325l20 30 29 42-20-29z"/><path color="#7dcc5b" d="M6251 4296l20 29 29 43-20-27z"/><path color="#9bc945" d="M6232 4271l19 25 29 45-19-25z"/><path color="#b4c533" d="M6212 4249l20 22 29 45-20-20z"/><path color="#c9c129" d="M6192 4231l20 18 29 47-20-17z"/><path color="#d9be28" d="M6173 4219l19 12 29 48-19-11z"/><path color="#e4bb2c" d="M6153 4213l20 6 29 49-20-6z"/><path color="#ebba31" d="M6133 4213l20 0 29 49-20 0z"/><path color="#eeba34" d="M6113 4220l20-7 29 49-20 7z"/><path color="#eeba34" d="M6094 4234l19-14 29 49-19 14z"/><path color="#ebba31" d="M6074 4254l20-20 29 49-20 20z"/><path color="#e4bb2c" d="M6054 4281l20-27 29 49-20 26z"/><path color="#d9be28" d="M6034 4313l20-32 29 48-20 32z"/><path color="#c9c129" d="M6015 4351l19-38 29 48-19 37z"/><path color="#b4c533" d="M5995 4393l20-42 29 47-20 41z"/><path color="#9bc945" d="M5975 4439l20-46 29 46-20 45z"/><path color="#7dcc5b" d="M5955 4488l20-49 29 45-19 47z"/><path color="#5ecd74" d="M5936 4539l19-51 30 43-20 50z"/><path color="#42ca8b" d="M5916 4591l20-52 29 42-20 51z"/><path color="#31c69f" d="M5896 4644l20-53 29 41-20 51z"/><path color="#21c1b1" d="M5877 4697l19-53 29 39-19 52z"/><path color="#04bbc1" d="M5857 4749l20-52 29 38-20 50z"/><path color="#07b5d0" d="M5837 4800l20-51 29 36-20 51z"/><path color="#19addc" d="M5817 4850l20-50 29 36-20 48z"/><path color="#21a3e3" d="M5798 4899l19-49 29 34-19 48z"/><path color="#269ae9" d="M5778 4946l20-47 29 33-20 46z"/><path color="#2c90f0" d="M5758 4991l20-45 29 32-20 44z"/><path color="#2e86f8" d="M5738 5035l20-44 29 31-20 42z"/><path color="#327cfc" d="M5719 5077l19-42 29 29-19 41z"/><path color="#3c71ff" d="M5699 5116l20-39 29 28-20 39z"/><path color="#4368fe" d="M5679 5154l20-38 29 28-20 37z"/><path color="#465ffb" d="M5660 5191l19-37 29 27-19 35z"/><path color="#4757f7" d="M5640 5225l20-34 29 25-20 34z"/><path color="#4850f3" d="M5620 5258l20-33 29 25-20 32z"/><path color="#484df0" d="M6616 4759l20 12 29 24-20-11z"/><path color="#4854f6" d="M6596 4746l20 13 29 25-20-12z"/><path color="#475cfa" d="M6576 4731l20 15 29 26-20-14z"/><path color="#4564fd" d="M6557 4715l19 16 29 27-19-16z"/><path color="#406dfe" d="M6537 4696l20 19 29 27-20-18z"/><path color="#3777fe" d="M6517 4676l20 20 29 28-20-19z"/><path color="#2f81fa" d="M6497 4654l20 22 29 29-19-21z"/><path color="#2d8bf4" d="M6478 4630l19 24 30 30-20-22z"/><path color="#2895ec" d="M6458 4605l20 25 29 32-20-25z"/><path color="#249ee6" d="M6438 4578l20 27 29 32-20-25z"/><path color="#1da8e0" d="M6419 4549l19 29 29 34-19-27z"/><path color="#12b1d7" d="M6399 4520l20 29 29 36-20-29z"/><path color="#01b8c9" d="M6379 4489l20 31 29 36-20-29z"/><path color="#10beba" d="M6359 4458l20 31 29 38-20-29z"/><path color="#29c3aa" d="M6340 4427l19 31 29 40-19-30z"/><path color="#36c898" d="M6320 4397l20 30 29 41-20-29z"/><path color="#4bcb84" d="M6300 4368l20 29 29 42-20-28z"/><path color="#66cd6d" d="M6280 4341l20 27 29 43-20-26z"/><path color="#82cc57" d="M6261 4316l19 25 29 44-19-23z"/><path color="#9cc943" d="M6241 4296l20 20 29 46-20-20z"/><path color="#b2c635" d="M6221 4279l20 17 29 46-20-15z"/><path color="#c3c22b" d="M6202 4268l19 11 29 48-19-11z"/><path color="#d0c027" d="M6182 4262l20 6 29 48-20-5z"/><path color="#d7be28" d="M6162 4262l20 0 29 49-20 1z"/><path color="#dbbd28" d="M6142 4269l20-7 29 50-20 7z"/><path color="#dbbd28" d="M6123 4283l19-14 29 50-19 13z"/><path color="#d7be28" d="M6103 4303l20-20 29 49-20 20z"/><path color="#d0c027" d="M6083 4329l20-26 29 49-20 25z"/><path color="#c3c22b" d="M6063 4361l20-32 29 48-20 31z"/><path color="#b2c635" d="M6044 4398l19-37 29 47-19 36z"/><path color="#9cc943" d="M6024 4439l20-41 29 46-20 41z"/><path color="#82cc57" d="M6004 4484l20-45 29 46-20 43z"/><path color="#66cd6d" d="M5985 4531l19-47 29 44-19 47z"/><path color="#4bcb84" d="M5965 4581l20-50 29 44-20 48z"/><path color="#36c898" d="M5945 4632l20-51 29 42-20 49z"/><path color="#29c3aa" d="M5925 4683l20-51 29 40-20 50z"/><path color="#10beba" d="M5906 4735l19-52 29 39-19 50z"/><path color="#01b8c9" d="M5886 4785l20-50 29 37-20 50z"/><path color="#12b1d7" d="M5866 4836l20-51 29 37-20 49z"/><path color="#1da8e0" d="M5846 4884l20-48 29 35-20 47z"/><path color="#249ee6" d="M5827 4932l19-48 29 34-19 47z"/><path color="#2895ec" d="M5807 4978l20-46 29 33-20 44z"/><path color="#2d8bf4" d="M5787 5022l20-44 29 31-20 43z"/><path color="#2f81fa" d="M5767 5064l20-42 29 30-20 42z"/><path color="#3777fe" d="M5748 5105l19-41 29 30-19 39z"/><path color="#406dfe" d="M5728 5144l20-39 29 28-20 38z"/><path color="#4564fd" d="M5708 5181l20-37 29 27-20 36z"/><path color="#475cfa" d="M5689 5216l19-35 29 26-19 35z"/><path color="#4854f6" d="M5669 5250l20-34 29 26-20 33z"/><path color="#484df0" d="M5649 5282l20-32 29 25-20 31z"/><path color="#484aee" d="M6645 4784l20 11 29 24-20-10z"/><path color="#4851f3" d="M6625 4772l20 12 29 25-20-12z"/><path color="#4758f8" d="M6605 4758l20 14 29 25-20-13z"/><path color="#4660fc" d="M6586 4742l19 16 29 26-19-15z"/><path color="#4369fe" d="M6566 4724l20 18 29 27-20-16z"/><path color="#3c72ff" d="M6546 4705l20 19 29 29-20-19z"/><path color="#317cfc" d="M6527 4684l19 21 29 29-19-19z"/><path color="#2e86f7" d="M6507 4662l20 22 29 31-20-22z"/><path color="#2c90f0" d="M6487 4637l20 25 29 31-20-23z"/><path color="#269ae9" d="M6467 4612l20 25 29 33-20-25z"/><path color="#21a3e3" d="M6448 4585l19 27 29 33-19-26z"/><path color="#19acdc" d="M6428 4556l20 29 29 34-20-27z"/><path color="#09b4d1" d="M6408 4527l20 29 29 36-20-27z"/><path color="#02bbc3" d="M6388 4498l20 29 29 38-20-29z"/><path color="#1cc0b4" d="M6369 4468l19 30 29 38-19-28z"/><path color="#2ec4a4" d="M6349 4439l20 29 29 40-20-28z"/><path color="#3bc992" d="M6329 4411l20 28 29 41-20-26z"/><path color="#51cc7f" d="M6309 4385l20 26 29 43-20-25z"/><path color="#6acd6a" d="M6290 4362l19 23 29 44-19-22z"/><path color="#84cc57" d="M6270 4342l20 20 29 45-20-19z"/><path color="#9ac945" d="M6250 4327l20 15 29 46-20-14z"/><path color="#acc739" d="M6231 4316l19 11 29 47-19-10z"/><path color="#b9c431" d="M6211 4311l20 5 29 48-20-5z"/><path color="#c2c32c" d="M6191 4312l20-1 29 48-20 1z"/><path color="#c6c22a" d="M6171 4319l20-7 29 48-20 7z"/><path color="#c6c22a" d="M6152 4332l19-13 29 48-19 14z"/><path color="#c2c32c" d="M6132 4352l20-20 29 49-20 19z"/><path color="#b9c431" d="M6112 4377l20-25 29 48-20 25z"/><path color="#acc739" d="M6092 4408l20-31 29 48-20 30z"/><path color="#9ac945" d="M6073 4444l19-36 29 47-19 36z"/><path color="#84cc57" d="M6053 4485l20-41 29 47-20 39z"/><path color="#6acd6a" d="M6033 4528l20-43 29 45-20 42z"/><path color="#51cc7f" d="M6014 4575l19-47 29 44-19 45z"/><path color="#3bc992" d="M5994 4623l20-48 29 42-20 47z"/><path color="#2ec4a4" d="M5974 4672l20-49 29 41-20 49z"/><path color="#1cc0b4" d="M5954 4722l20-50 29 41-20 48z"/><path color="#02bbc3" d="M5935 4772l19-50 29 39-19 49z"/><path color="#09b4d1" d="M5915 4822l20-50 29 38-20 48z"/><path color="#19acdc" d="M5895 4871l20-49 29 36-20 48z"/><path color="#21a3e3" d="M5875 4918l20-47 29 35-20 46z"/><path color="#269ae9" d="M5856 4965l19-47 29 34-19 45z"/><path color="#2c90f0" d="M5836 5009l20-44 29 32-20 43z"/><path color="#2e86f7" d="M5816 5052l20-43 29 31-20 42z"/><path color="#317cfc" d="M5796 5094l20-42 29 30-19 41z"/><path color="#3c72ff" d="M5777 5133l19-39 30 29-20 38z"/><path color="#4369fe" d="M5757 5171l20-38 29 28-20 37z"/><path color="#4660fc" d="M5737 5207l20-36 29 27-20 36z"/><path color="#4758f8" d="M5718 5242l19-35 29 27-19 33z"/><path color="#4851f3" d="M5698 5275l20-33 29 25-20 32z"/><path color="#484aee" d="M5678 5306l20-31 29 24-20 31z"/><path color="#4847eb" d="M6674 4809l20 10 29 24-20-10z"/><path color="#484ef1" d="M6654 4797l20 12 29 24-20-11z"/><path color="#4855f6" d="M6634 4784l20 13 29 25-20-12z"/><path color="#475cfa" d="M6615 4769l19 15 29 26-19-14z"/><path color="#4464fd" d="M6595 4753l20 16 29 27-20-16z"/><path color="#406dfe" d="M6575 4734l20 19 29 27-20-17z"/><path color="#3677fe" d="M6556 4715l19 19 29 29-19-19z"/><path color="#2f81fa" d="M6536 4693l20 22 29 29-20-20z"/><path color="#2d8bf4" d="M6516 4670l20 23 29 31-20-22z"/><path color="#2895ec" d="M6496 4645l20 25 29 32-20-23z"/><path color="#249ee6" d="M6477 4619l19 26 29 34-19-25z"/><path color="#1ea8e1" d="M6457 4592l20 27 29 35-20-26z"/><path color="#14b0d8" d="M6437 4565l20 27 29 36-20-26z"/><path color="#02b7cb" d="M6417 4536l20 29 29 37-20-27z"/><path color="#09bdbd" d="M6398 4508l19 28 29 39-19-27z"/><path color="#24c1af" d="M6378 4480l20 28 29 40-20-26z"/><path color="#32c69f" d="M6358 4454l20 26 29 42-20-26z"/><path color="#3fca8e" d="M6338 4429l20 25 29 42-19-23z"/><path color="#55cc7c" d="M6319 4407l19 22 30 44-20-21z"/><path color="#6bcd69" d="M6299 4388l20 19 29 45-20-18z"/><path color="#80cc59" d="M6279 4374l20 14 29 46-20-14z"/><path color="#92ca4b" d="M6260 4364l19 10 29 46-19-9z"/><path color="#a0c841" d="M6240 4359l20 5 29 47-20-4z"/><path color="#a9c73a" d="M6220 4360l20-1 29 48-20 1z"/><path color="#aec637" d="M6200 4367l20-7 29 48-20 7z"/><path color="#aec637" d="M6181 4381l19-14 29 48-19 14z"/><path color="#a9c73a" d="M6161 4400l20-19 29 48-20 19z"/><path color="#a0c841" d="M6141 4425l20-25 29 48-20 24z"/><path color="#92ca4b" d="M6121 4455l20-30 29 47-20 30z"/><path color="#80cc59" d="M6102 4491l19-36 29 47-19 34z"/><path color="#6bcd69" d="M6082 4530l20-39 29 45-20 38z"/><path color="#55cc7c" d="M6062 4572l20-42 29 44-20 42z"/><path color="#3fca8e" d="M6043 4617l19-45 29 44-19 44z"/><path color="#32c69f" d="M6023 4664l20-47 29 43-20 46z"/><path color="#24c1af" d="M6003 4713l20-49 29 42-20 46z"/><path color="#09bdbd" d="M5983 4761l20-48 29 39-20 48z"/><path color="#02b7cb" d="M5964 4810l19-49 29 39-19 47z"/><path color="#14b0d8" d="M5944 4858l20-48 29 37-20 47z"/><path color="#1ea8e1" d="M5924 4906l20-48 29 36-20 46z"/><path color="#249ee6" d="M5904 4952l20-46 29 34-20 45z"/><path color="#2895ec" d="M5885 4997l19-45 29 33-19 44z"/><path color="#2d8bf4" d="M5865 5040l20-43 29 32-20 42z"/><path color="#2f81fa" d="M5845 5082l20-42 29 31-20 41z"/><path color="#3677fe" d="M5826 5123l19-41 29 30-19 40z"/><path color="#406dfe" d="M5806 5161l20-38 29 29-20 37z"/><path color="#4464fd" d="M5786 5198l20-37 29 28-20 36z"/><path color="#475cfa" d="M5766 5234l20-36 29 27-20 35z"/><path color="#4855f6" d="M5747 5267l19-33 29 26-19 33z"/><path color="#484ef1" d="M5727 5299l20-32 29 26-20 31z"/><path color="#4847eb" d="M5707 5330l20-31 29 25-20 30z"/><path color="#4744e9" d="M6703 4833l20 10 29 24-20-9z"/><path color="#484bef" d="M6683 4822l20 11 29 25-20-10z"/><path color="#4852f4" d="M6663 4810l20 12 29 26-20-12z"/><path color="#4759f8" d="M6644 4796l19 14 29 26-19-13z"/><path color="#4661fc" d="M6624 4780l20 16 29 27-20-15z"/><path color="#4269fe" d="M6604 4763l20 17 29 28-20-16z"/><path color="#3b72ff" d="M6585 4744l19 19 29 29-19-18z"/><path color="#317dfc" d="M6565 4724l20 20 29 30-20-19z"/><path color="#2e86f7" d="M6545 4702l20 22 29 31-20-21z"/><path color="#2c90f0" d="M6525 4679l20 23 29 32-20-22z"/><path color="#2699e9" d="M6506 4654l19 25 29 33-19-24z"/><path color="#22a2e4" d="M6486 4628l20 26 29 34-20-24z"/><path color="#1babde" d="M6466 4602l20 26 29 36-20-26z"/><path color="#0db3d3" d="M6446 4575l20 27 29 36-20-25z"/><path color="#00b9c6" d="M6427 4548l19 27 29 38-19-26z"/><path color="#13beb9" d="M6407 4522l20 26 29 39-20-25z"/><path color="#29c3aa" d="M6387 4496l20 26 29 40-20-24z"/><path color="#34c79c" d="M6368 4473l19 23 29 42-19-22z"/><path color="#41ca8c" d="M6348 4452l20 21 29 43-20-20z"/><path color="#55cc7c" d="M6328 4434l20 18 29 44-20-17z"/><path color="#67cd6c" d="M6308 4420l20 14 29 45-20-13z"/><path color="#79cc5f" d="M6289 4411l19 9 29 46-19-9z"/><path color="#86cb54" d="M6269 4407l20 4 29 46-20-3z"/><path color="#90ca4d" d="M6249 4408l20-1 29 47-20 1z"/><path color="#94ca4a" d="M6229 4415l20-7 29 47-20 8z"/><path color="#94ca4a" d="M6210 4429l19-14 29 48-19 13z"/><path color="#90ca4d" d="M6190 4448l20-19 29 47-20 19z"/><path color="#86cb54" d="M6170 4472l20-24 29 47-20 24z"/><path color="#79cc5f" d="M6150 4502l20-30 29 47-20 29z"/><path color="#67cd6c" d="M6131 4536l19-34 29 46-19 33z"/><path color="#55cc7c" d="M6111 4574l20-38 29 45-20 37z"/><path color="#41ca8c" d="M6091 4616l20-42 29 44-20 41z"/><path color="#34c79c" d="M6072 4660l19-44 29 43-19 43z"/><path color="#29c3aa" d="M6052 4706l20-46 29 42-20 44z"/><path color="#13beb9" d="M6032 4752l20-46 29 40-20 46z"/><path color="#00b9c6" d="M6012 4800l20-48 29 40-20 46z"/><path color="#0db3d3" d="M5993 4847l19-47 29 38-19 46z"/><path color="#1babde" d="M5973 4894l20-47 29 37-20 45z"/><path color="#22a2e4" d="M5953 4940l20-46 29 35-20 45z"/><path color="#2699e9" d="M5933 4985l20-45 29 34-20 44z"/><path color="#2c90f0" d="M5914 5029l19-44 29 33-19 43z"/><path color="#2e86f7" d="M5894 5071l20-42 29 32-20 41z"/><path color="#317dfc" d="M5874 5112l20-41 29 31-20 40z"/><path color="#3b72ff" d="M5855 5152l19-40 29 30-19 38z"/><path color="#4269fe" d="M5835 5189l20-37 29 28-20 37z"/><path color="#4661fc" d="M5815 5225l20-36 29 28-20 35z"/><path color="#4759f8" d="M5795 5260l20-35 29 27-20 34z"/><path color="#4852f4" d="M5776 5293l19-33 29 26-19 32z"/><path color="#484bef" d="M5756 5324l20-31 29 25-20 30z"/><path color="#4744e9" d="M5736 5354l20-30 29 24-20 30z"/><path color="#4742e6" d="M6732 4858l20 9 29 23-20-8z"/><path color="#4848ec" d="M6712 4848l20 10 29 24-20-10z"/><path color="#484ef1" d="M6692 4836l20 12 29 24-20-11z"/><path color="#4855f6" d="M6673 4823l19 13 29 25-19-12z"/><path color="#475dfa" d="M6653 4808l20 15 29 26-20-14z"/><path color="#4465fd" d="M6633 4792l20 16 29 27-20-15z"/><path color="#3f6efe" d="M6614 4774l19 18 29 28-19-17z"/><path color="#3678fe" d="M6594 4755l20 19 29 29-20-18z"/><path color="#2f81fa" d="M6574 4734l20 21 29 30-20-20z"/><path color="#2d8bf4" d="M6554 4712l20 22 29 31-20-21z"/><path color="#2994ed" d="M6535 4688l19 24 29 32-19-22z"/><path color="#259de6" d="M6515 4664l20 24 29 34-20-24z"/><path color="#1fa6e2" d="M6495 4638l20 26 29 34-20-23z"/><path color="#17afda" d="M6475 4613l20 25 29 37-20-25z"/><path color="#05b5cf" d="M6456 4587l19 26 29 37-19-24z"/><path color="#03bbc2" d="M6436 4562l20 25 29 39-20-24z"/><path color="#1abfb5" d="M6416 4538l20 24 29 40-20-23z"/><path color="#2bc3a8" d="M6397 4516l19 22 29 41-19-21z"/><path color="#35c79a" d="M6377 4496l20 20 29 42-20-19z"/><path color="#41ca8c" d="M6357 4479l20 17 29 43-20-16z"/><path color="#52cc7e" d="M6337 4466l20 13 29 44-20-12z"/><path color="#60cd72" d="M6318 4457l19 9 29 45-19-8z"/><path color="#6dcd68" d="M6298 4454l20 3 29 46-20-3z"/><path color="#76cc61" d="M6278 4455l20-1 29 46-20 2z"/><path color="#7acc5d" d="M6258 4463l20-8 29 47-20 7z"/><path color="#7acc5d" d="M6239 4476l19-13 29 46-19 13z"/><path color="#76cc61" d="M6219 4495l20-19 29 46-20 19z"/><path color="#6dcd68" d="M6199 4519l20-24 29 46-20 23z"/><path color="#60cd72" d="M6179 4548l20-29 29 45-19 29z"/><path color="#52cc7e" d="M6160 4581l19-33 30 45-20 32z"/><path color="#41ca8c" d="M6140 4618l20-37 29 44-20 37z"/><path color="#35c79a" d="M6120 4659l20-41 29 44-20 39z"/><path color="#2bc3a8" d="M6101 4702l19-43 29 42-19 42z"/><path color="#1abfb5" d="M6081 4746l20-44 29 41-20 43z"/><path color="#03bbc2" d="M6061 4792l20-46 29 40-20 44z"/><path color="#05b5cf" d="M6041 4838l20-46 29 38-20 45z"/><path color="#17afda" d="M6022 4884l19-46 29 37-19 45z"/><path color="#1fa6e2" d="M6002 4929l20-45 29 36-20 44z"/><path color="#259de6" d="M5982 4974l20-45 29 35-20 44z"/><path color="#2994ed" d="M5962 5018l20-44 29 34-20 43z"/><path color="#2d8bf4" d="M5943 5061l19-43 29 33-19 41z"/><path color="#2f81fa" d="M5923 5102l20-41 29 31-20 40z"/><path color="#3678fe" d="M5903 5142l20-40 29 30-20 39z"/><path color="#3f6efe" d="M5884 5180l19-38 29 29-19 37z"/><path color="#4465fd" d="M5864 5217l20-37 29 28-20 36z"/><path color="#475dfa" d="M5844 5252l20-35 29 27-20 34z"/><path color="#4855f6" d="M5824 5286l20-34 29 26-20 33z"/><path color="#484ef1" d="M5805 5318l19-32 29 25-19 31z"/><path color="#4848ec" d="M5785 5348l20-30 29 24-20 30z"/><path color="#4742e6" d="M5765 5378l20-30 29 24-20 29z"/><path color="#473fe2" d="M6761 4882l20 8 29 23-20-7z"/><path color="#4745e9" d="M6741 4872l20 10 29 24-20-9z"/><path color="#484bef" d="M6721 4861l20 11 29 25-19-10z"/><path color="#4852f4" d="M6702 4849l19 12 30 26-20-12z"/><path color="#4759f8" d="M6682 4835l20 14 29 26-20-13z"/><path color="#4661fc" d="M6662 4820l20 15 29 27-20-14z"/><path color="#4269fe" d="M6643 4803l19 17 29 28-19-16z"/><path color="#3b72ff" d="M6623 4785l20 18 29 29-20-17z"/><path color="#317cfc" d="M6603 4765l20 20 29 30-20-19z"/><path color="#2e86f8" d="M6583 4744l20 21 29 31-20-20z"/><path color="#2c8ff0" d="M6564 4722l19 22 29 32-19-21z"/><path color="#2698ea" d="M6544 4698l20 24 29 33-20-22z"/><path color="#23a1e4" d="M6524 4675l20 23 29 35-20-23z"/><path color="#1caadf" d="M6504 4650l20 25 29 35-20-23z"/><path color="#12b1d6" d="M6485 4626l19 24 29 37-19-23z"/><path color="#01b7cb" d="M6465 4602l20 24 29 38-20-23z"/><path color="#07bcbe" d="M6445 4579l20 23 29 39-20-22z"/><path color="#1ec0b2" d="M6426 4558l19 21 29 40-19-20z"/><path color="#2dc4a6" d="M6406 4539l20 19 29 41-20-17z"/><path color="#35c79a" d="M6386 4523l20 16 29 43-20-15z"/><path color="#3fca8e" d="M6366 4511l20 12 29 44-20-12z"/><path color="#4bcb83" d="M6347 4503l19 8 29 44-19-7z"/><path color="#56cc7b" d="M6327 4500l20 3 29 45-20-3z"/><path color="#5ecd74" d="M6307 4502l20-2 29 45-20 2z"/><path color="#62cd71" d="M6287 4509l20-7 29 45-20 8z"/><path color="#62cd71" d="M6268 4522l19-13 29 46-19 13z"/><path color="#5ecd74" d="M6248 4541l20-19 29 46-20 18z"/><path color="#56cc7b" d="M6228 4564l20-23 29 45-20 23z"/><path color="#4bcb83" d="M6209 4593l19-29 29 45-19 28z"/><path color="#3fca8e" d="M6189 4625l20-32 29 44-20 32z"/><path color="#35c79a" d="M6169 4662l20-37 29 44-20 35z"/><path color="#2dc4a6" d="M6149 4701l20-39 29 42-20 38z"/><path color="#1ec0b2" d="M6130 4743l19-42 29 41-19 41z"/><path color="#07bcbe" d="M6110 4786l20-43 29 40-20 42z"/><path color="#01b7cb" d="M6090 4830l20-44 29 39-20 43z"/><path color="#12b1d6" d="M6070 4875l20-45 29 38-20 44z"/><path color="#1caadf" d="M6051 4920l19-45 29 37-19 43z"/><path color="#23a1e4" d="M6031 4964l20-44 29 35-20 43z"/><path color="#2698ea" d="M6011 5008l20-44 29 34-20 43z"/><path color="#2c8ff0" d="M5991 5051l20-43 29 33-20 42z"/><path color="#2e86f8" d="M5972 5092l19-41 29 32-19 40z"/><path color="#317cfc" d="M5952 5132l20-40 29 31-20 39z"/><path color="#3b72ff" d="M5932 5171l20-39 29 30-20 38z"/><path color="#4269fe" d="M5913 5208l19-37 29 29-19 36z"/><path color="#4661fc" d="M5893 5244l20-36 29 28-20 35z"/><path color="#4759f8" d="M5873 5278l20-34 29 27-20 33z"/><path color="#4852f4" d="M5853 5311l20-33 29 26-20 32z"/><path color="#484bef" d="M5834 5342l19-31 29 25-19 31z"/><path color="#4745e9" d="M5814 5372l20-30 29 25-20 29z"/><path color="#473fe2" d="M5794 5401l20-29 29 24-20 28z"/><path color="#463cdf" d="M6790 4906l20 7 29 23-20-7z"/><path color="#4742e6" d="M6770 4897l20 9 29 23-20-8z"/><path color="#4848ec" d="M6751 4887l19 10 29 24-19-9z"/><path color="#484ff2" d="M6731 4875l20 12 29 25-20-11z"/><path color="#4756f6" d="M6711 4862l20 13 29 26-20-12z"/><path color="#475dfa" d="M6691 4848l20 14 29 27-20-14z"/><path color="#4465fd" d="M6672 4832l19 16 29 27-19-15z"/><path color="#3f6efe" d="M6652 4815l20 17 29 28-20-16z"/><path color="#3677fe" d="M6632 4796l20 19 29 29-20-18z"/><path color="#2f81fa" d="M6612 4776l20 20 29 30-20-19z"/><path color="#2d8af5" d="M6593 4755l19 21 29 31-19-20z"/><path color="#2a93ed" d="M6573 4733l20 22 29 32-20-21z"/><path color="#259ce7" d="M6553 4710l20 23 29 33-20-21z"/><path color="#20a4e3" d="M6533 4687l20 23 29 35-20-22z"/><path color="#19acdc" d="M6514 4664l19 23 29 36-19-22z"/><path color="#0cb3d3" d="M6494 4641l20 23 29 37-20-22z"/><path color="#00b9c8" d="M6474 4619l20 22 29 38-20-20z"/><path color="#0cbdbc" d="M6455 4599l19 20 29 40-19-19z"/><path color="#20c1b1" d="M6435 4582l20 17 29 41-20-17z"/><path color="#2dc4a6" d="M6415 4567l20 15 29 41-20-14z"/><path color="#34c79c" d="M6395 4555l20 12 29 42-20-11z"/><path color="#3ac993" d="M6376 4548l19 7 29 43-19-6z"/><path color="#42ca8b" d="M6356 4545l20 3 29 44-20-3z"/><path color="#49cb85" d="M6336 4547l20-2 29 44-20 3z"/><path color="#4ccb83" d="M6316 4555l20-8 29 45-20 8z"/><path color="#4ccb83" d="M6297 4568l19-13 29 45-19 12z"/><path color="#49cb85" d="M6277 4586l20-18 29 44-20 18z"/><path color="#42ca8b" d="M6257 4609l20-23 29 44-20 23z"/><path color="#3ac993" d="M6238 4637l19-28 29 44-19 27z"/><path color="#34c79c" d="M6218 4669l20-32 29 43-20 31z"/><path color="#2dc4a6" d="M6198 4704l20-35 29 42-20 35z"/><path color="#20c1b1" d="M6178 4742l20-38 29 42-20 37z"/><path color="#0cbdbc" d="M6159 4783l19-41 29 41-19 39z"/><path color="#00b9c8" d="M6139 4825l20-42 29 39-20 41z"/><path color="#0cb3d3" d="M6119 4868l20-43 29 38-20 42z"/><path color="#19acdc" d="M6099 4912l20-44 29 37-20 43z"/><path color="#20a4e3" d="M6080 4955l19-43 29 36-19 42z"/><path color="#259ce7" d="M6060 4998l20-43 29 35-20 42z"/><path color="#2a93ed" d="M6040 5041l20-43 29 34-20 41z"/><path color="#2d8af5" d="M6020 5083l20-42 29 32-19 41z"/><path color="#2f81fa" d="M6001 5123l19-40 30 31-20 39z"/><path color="#3677fe" d="M5981 5162l20-39 29 30-20 38z"/><path color="#3f6efe" d="M5961 5200l20-38 29 29-20 37z"/><path color="#4465fd" d="M5942 5236l19-36 29 28-19 36z"/><path color="#475dfa" d="M5922 5271l20-35 29 28-20 33z"/><path color="#4756f6" d="M5902 5304l20-33 29 26-20 33z"/><path color="#484ff2" d="M5882 5336l20-32 29 26-20 31z"/><path color="#4848ec" d="M5863 5367l19-31 29 25-19 30z"/><path color="#4742e6" d="M5843 5396l20-29 29 24-20 29z"/><path color="#463cdf" d="M5823 5424l20-28 29 24-20 27z"/><path color="#463adb" d="M6819 4929l20 7 29 23-20-7z"/><path color="#473fe3" d="M6799 4921l20 8 29 23-20-7z"/><path color="#4745e9" d="M6780 4912l19 9 29 24-19-9z"/><path color="#484bef" d="M6760 4901l20 11 29 24-20-10z"/><path color="#4852f4" d="M6740 4889l20 12 29 25-20-11z"/><path color="#4759f9" d="M6720 4875l20 14 29 26-20-13z"/><path color="#4661fc" d="M6701 4860l19 15 29 27-19-14z"/><path color="#4269fe" d="M6681 4844l20 16 29 28-20-15z"/><path color="#3b72ff" d="M6661 4826l20 18 29 29-20-17z"/><path color="#327cfc" d="M6641 4807l20 19 29 30-20-18z"/><path color="#2e85f8" d="M6622 4787l19 20 29 31-19-19z"/><path color="#2d8ef1" d="M6602 4766l20 21 29 32-20-20z"/><path color="#2797eb" d="M6582 4745l20 21 29 33-20-20z"/><path color="#249fe5" d="M6562 4723l20 22 29 34-19-21z"/><path color="#1ea7e1" d="M6543 4701l19 22 30 35-20-21z"/><path color="#16afda" d="M6523 4679l20 22 29 36-20-20z"/><path color="#07b5d0" d="M6503 4659l20 20 29 38-20-20z"/><path color="#01bac5" d="M6484 4640l19 19 29 38-19-18z"/><path color="#0ebebb" d="M6464 4623l20 17 29 39-20-15z"/><path color="#20c1b1" d="M6444 4609l20 14 29 41-20-14z"/><path color="#2bc3a8" d="M6424 4598l20 11 29 41-20-10z"/><path color="#31c6a0" d="M6405 4592l19 6 29 42-19-6z"/><path color="#35c799" d="M6385 4589l20 3 29 42-20-1z"/><path color="#39c995" d="M6365 4592l20-3 29 44-20 2z"/><path color="#3bc992" d="M6345 4600l20-8 29 43-20 8z"/><path color="#3bc992" d="M6326 4612l19-12 29 43-19 13z"/><path color="#39c995" d="M6306 4630l20-18 29 44-20 17z"/><path color="#35c799" d="M6286 4653l20-23 29 43-20 23z"/><path color="#31c6a0" d="M6267 4680l19-27 29 43-19 26z"/><path color="#2bc3a8" d="M6247 4711l20-31 29 42-20 31z"/><path color="#20c1b1" d="M6227 4746l20-35 29 42-20 33z"/><path color="#0ebebb" d="M6207 4783l20-37 29 40-20 37z"/><path color="#01bac5" d="M6188 4822l19-39 29 40-19 38z"/><path color="#07b5d0" d="M6168 4863l20-41 29 39-20 40z"/><path color="#16afda" d="M6148 4905l20-42 29 38-20 41z"/><path color="#1ea7e1" d="M6128 4948l20-43 29 37-20 41z"/><path color="#249fe5" d="M6109 4990l19-42 29 35-19 41z"/><path color="#2797eb" d="M6089 5032l20-42 29 34-20 41z"/><path color="#2d8ef1" d="M6069 5073l20-41 29 33-20 40z"/><path color="#2e85f8" d="M6050 5114l19-41 29 32-19 40z"/><path color="#327cfc" d="M6030 5153l20-39 29 31-20 38z"/><path color="#3b72ff" d="M6010 5191l20-38 29 30-20 37z"/><path color="#4269fe" d="M5990 5228l20-37 29 29-20 36z"/><path color="#4661fc" d="M5971 5264l19-36 29 28-19 34z"/><path color="#4759f9" d="M5951 5297l20-33 29 26-20 34z"/><path color="#4852f4" d="M5931 5330l20-33 29 27-20 31z"/><path color="#484bef" d="M5911 5361l20-31 29 25-20 31z"/><path color="#4745e9" d="M5892 5391l19-30 29 25-19 29z"/><path color="#473fe3" d="M5872 5420l20-29 29 24-20 28z"/><path color="#463adb" d="M5852 5447l20-27 29 23-20 27z"/><path color="#4538d7" d="M6848 4952l20 7 29 22-20-6z"/><path color="#463ddf" d="M6828 4945l20 7 29 23-20-7z"/><path color="#4742e6" d="M6809 4936l19 9 29 23-19-8z"/><path color="#4848ec" d="M6789 4926l20 10 29 24-20-9z"/><path color="#484ff2" d="M6769 4915l20 11 29 25-20-11z"/><path color="#4756f7" d="M6749 4902l20 13 29 25-20-11z"/><path color="#465dfa" d="M6730 4888l19 14 29 27-19-14z"/><path color="#4465fd" d="M6710 4873l20 15 29 27-20-14z"/><path color="#406dfe" d="M6690 4856l20 17 29 28-20-16z"/><path color="#3777fe" d="M6670 4838l20 18 29 29-20-17z"/><path color="#2f80fa" d="M6651 4819l19 19 29 30-19-18z"/><path color="#2d89f5" d="M6631 4799l20 20 29 31-20-18z"/><path color="#2b92ee" d="M6611 4779l20 20 29 33-20-20z"/><path color="#269ae8" d="M6592 4758l19 21 29 33-19-20z"/><path color="#22a2e4" d="M6572 4737l20 21 29 34-20-19z"/><path color="#1caadf" d="M6552 4717l20 20 29 36-20-20z"/><path color="#13b0d7" d="M6532 4697l20 20 29 36-20-18z"/><path color="#04b6ce" d="M6513 4679l19 18 29 38-19-17z"/><path color="#01bac4" d="M6493 4664l20 15 29 39-20-15z"/><path color="#0ebebb" d="M6473 4650l20 14 29 39-20-12z"/><path color="#1ec0b3" d="M6453 4640l20 10 29 41-20-10z"/><path color="#28c2ab" d="M6434 4634l19 6 29 41-19-5z"/><path color="#2dc4a6" d="M6414 4633l20 1 29 42-20-1z"/><path color="#30c5a2" d="M6394 4635l20-2 29 42-20 3z"/><path color="#31c69f" d="M6374 4643l20-8 29 43-20 8z"/><path color="#31c69f" d="M6355 4656l19-13 29 43-19 12z"/><path color="#30c5a2" d="M6335 4673l20-17 29 42-20 17z"/><path color="#2dc4a6" d="M6315 4696l20-23 29 42-20 22z"/><path color="#28c2ab" d="M6296 4722l19-26 29 41-19 26z"/><path color="#1ec0b3" d="M6276 4753l20-31 29 41-20 30z"/><path color="#0ebebb" d="M6256 4786l20-33 29 40-20 33z"/><path color="#01bac4" d="M6236 4823l20-37 29 40-20 35z"/><path color="#04b6ce" d="M6217 4861l19-38 29 38-19 37z"/><path color="#13b0d7" d="M6197 4901l20-40 29 37-20 39z"/><path color="#1caadf" d="M6177 4942l20-41 29 36-20 40z"/><path color="#22a2e4" d="M6157 4983l20-41 29 35-20 40z"/><path color="#269ae8" d="M6138 5024l19-41 29 34-19 40z"/><path color="#2b92ee" d="M6118 5065l20-41 29 33-20 40z"/><path color="#2d89f5" d="M6098 5105l20-40 29 32-20 39z"/><path color="#2f80fa" d="M6079 5145l19-40 29 31-19 39z"/><path color="#3777fe" d="M6059 5183l20-38 29 30-20 37z"/><path color="#406dfe" d="M6039 5220l20-37 29 29-20 36z"/><path color="#4465fd" d="M6019 5256l20-36 29 28-20 35z"/><path color="#465dfa" d="M6000 5290l19-34 29 27-19 34z"/><path color="#4756f7" d="M5980 5324l20-34 29 27-20 32z"/><path color="#484ff2" d="M5960 5355l20-31 29 25-20 31z"/><path color="#4848ec" d="M5940 5386l20-31 29 25-20 30z"/><path color="#4742e6" d="M5921 5415l19-29 29 24-19 29z"/><path color="#463ddf" d="M5901 5443l20-28 29 24-20 27z"/><path color="#4538d7" d="M5881 5470l20-27 29 23-20 26z"/><path color="#4536d3" d="M6877 4975l20 6 29 22-20-5z"/><path color="#463adc" d="M6857 4968l20 7 29 23-20-6z"/><path color="#4740e3" d="M6838 4960l19 8 29 24-19-8z"/><path color="#4745ea" d="M6818 4951l20 9 29 24-20-9z"/><path color="#484cef" d="M6798 4940l20 11 29 24-20-9z"/><path color="#4852f4" d="M6778 4929l20 11 29 26-20-12z"/><path color="#4759f9" d="M6759 4915l19 14 29 25-19-12z"/><path color="#4661fc" d="M6739 4901l20 14 29 27-20-14z"/><path color="#4269fe" d="M6719 4885l20 16 29 27-20-14z"/><path color="#3c72ff" d="M6699 4868l20 17 29 29-20-16z"/><path color="#327bfc" d="M6680 4850l19 18 29 30-19-17z"/><path color="#2e84f8" d="M6660 4832l20 18 29 31-20-18z"/><path color="#2d8df2" d="M6640 4812l20 20 29 31-20-18z"/><path color="#2895ec" d="M6621 4792l19 20 29 33-19-19z"/><path color="#259de6" d="M6601 4773l20 19 29 34-20-19z"/><path color="#20a5e3" d="M6581 4753l20 20 29 34-20-18z"/><path color="#1aacdd" d="M6561 4735l20 18 29 36-20-17z"/><path color="#10b2d5" d="M6542 4718l19 17 29 37-19-16z"/><path color="#03b6cd" d="M6522 4703l20 15 29 38-20-15z"/><path color="#01bac4" d="M6502 4691l20 12 29 38-20-11z"/><path color="#0bbdbc" d="M6482 4681l20 10 29 39-20-9z"/><path color="#18bfb6" d="M6463 4676l19 5 29 40-19-5z"/><path color="#21c1b0" d="M6443 4675l20 1 29 40-20-1z"/><path color="#26c2ad" d="M6423 4678l20-3 29 40-20 4z"/><path color="#28c2ab" d="M6403 4686l20-8 29 41-20 8z"/><path color="#28c2ab" d="M6384 4698l19-12 29 41-19 12z"/><path color="#26c2ad" d="M6364 4715l20-17 29 41-20 17z"/><path color="#21c1b0" d="M6344 4737l20-22 29 41-20 22z"/><path color="#18bfb6" d="M6325 4763l19-26 29 41-19 25z"/><path color="#0bbdbc" d="M6305 4793l20-30 29 40-20 29z"/><path color="#01bac4" d="M6285 4826l20-33 29 39-20 32z"/><path color="#03b6cd" d="M6265 4861l20-35 29 38-20 35z"/><path color="#10b2d5" d="M6246 4898l19-37 29 38-19 36z"/><path color="#1aacdd" d="M6226 4937l20-39 29 37-20 38z"/><path color="#20a5e3" d="M6206 4977l20-40 29 36-20 39z"/><path color="#259de6" d="M6186 5017l20-40 29 35-20 39z"/><path color="#2895ec" d="M6167 5057l19-40 29 34-19 39z"/><path color="#2d8df2" d="M6147 5097l20-40 29 33-20 39z"/><path color="#2e84f8" d="M6127 5136l20-39 29 32-20 38z"/><path color="#327bfc" d="M6108 5175l19-39 29 31-19 37z"/><path color="#3c72ff" d="M6088 5212l20-37 29 29-20 37z"/><path color="#4269fe" d="M6068 5248l20-36 29 29-20 35z"/><path color="#4661fc" d="M6048 5283l20-35 29 28-20 34z"/><path color="#4759f9" d="M6029 5317l19-34 29 27-19 33z"/><path color="#4852f4" d="M6009 5349l20-32 29 26-20 31z"/><path color="#484cef" d="M5989 5380l20-31 29 25-20 31z"/><path color="#4745ea" d="M5969 5410l20-30 29 25-20 29z"/><path color="#4740e3" d="M5950 5439l19-29 29 24-19 28z"/><path color="#463adc" d="M5930 5466l20-27 29 23-20 26z"/><path color="#4536d3" d="M5910 5492l20-26 29 22-20 26z"/><path color="#4434cf" d="M6906 4998l20 5 29 22-20-5z"/><path color="#4538d8" d="M6886 4992l20 6 29 22-20-6z"/><path color="#463de0" d="M6867 4984l19 8 29 22-19-7z"/><path color="#4743e7" d="M6847 4975l20 9 29 23-20-8z"/><path color="#4849ed" d="M6827 4966l20 9 29 24-20-9z"/><path color="#484ff2" d="M6807 4954l20 12 29 24-20-10z"/><path color="#4756f7" d="M6788 4942l19 12 29 26-19-12z"/><path color="#465dfa" d="M6768 4928l20 14 29 26-20-13z"/><path color="#4465fd" d="M6748 4914l20 14 29 27-20-13z"/><path color="#406dfe" d="M6728 4898l20 16 29 28-20-16z"/><path color="#3876fe" d="M6709 4881l19 17 29 28-19-16z"/><path color="#2f7ffb" d="M6689 4863l20 18 29 29-20-16z"/><path color="#2d88f6" d="M6669 4845l20 18 29 31-20-18z"/><path color="#2c90f0" d="M6650 4826l19 19 29 31-19-17z"/><path color="#2698ea" d="M6630 4807l20 19 29 33-20-18z"/><path color="#23a0e5" d="M6610 4789l20 18 29 34-20-17z"/><path color="#1ea7e1" d="M6590 4772l20 17 29 35-20-17z"/><path color="#19addc" d="M6571 4756l19 16 29 35-19-15z"/><path color="#0fb2d4" d="M6551 4741l20 15 29 36-20-13z"/><path color="#03b6cd" d="M6531 4730l20 11 29 38-20-11z"/><path color="#01bac5" d="M6511 4721l20 9 29 38-20-8z"/><path color="#06bcbf" d="M6492 4716l19 5 29 39-19-4z"/><path color="#10beba" d="M6472 4715l20 1 29 40-20-1z"/><path color="#16bfb7" d="M6452 4719l20-4 29 40-20 4z"/><path color="#1abfb5" d="M6432 4727l20-8 29 40-19 8z"/><path color="#1abfb5" d="M6413 4739l19-12 30 40-20 12z"/><path color="#16bfb7" d="M6393 4756l20-17 29 40-20 17z"/><path color="#10beba" d="M6373 4778l20-22 29 40-20 21z"/><path color="#06bcbf" d="M6354 4803l19-25 29 39-19 25z"/><path color="#01bac5" d="M6334 4832l20-29 29 39-20 28z"/><path color="#03b6cd" d="M6314 4864l20-32 29 38-20 31z"/><path color="#0fb2d4" d="M6294 4899l20-35 29 37-20 34z"/><path color="#19addc" d="M6275 4935l19-36 29 36-19 36z"/><path color="#1ea7e1" d="M6255 4973l20-38 29 36-20 37z"/><path color="#23a0e5" d="M6235 5012l20-39 29 35-20 37z"/><path color="#2698ea" d="M6215 5051l20-39 29 33-20 38z"/><path color="#2c90f0" d="M6196 5090l19-39 29 32-19 39z"/><path color="#2d88f6" d="M6176 5129l20-39 29 32-20 37z"/><path color="#2f7ffb" d="M6156 5167l20-38 29 30-20 38z"/><path color="#3876fe" d="M6137 5204l19-37 29 30-19 36z"/><path color="#406dfe" d="M6117 5241l20-37 29 29-20 36z"/><path color="#4465fd" d="M6097 5276l20-35 29 28-20 34z"/><path color="#465dfa" d="M6077 5310l20-34 29 27-20 33z"/><path color="#4756f7" d="M6058 5343l19-33 29 26-19 32z"/><path color="#484ff2" d="M6038 5374l20-31 29 25-20 31z"/><path color="#4849ed" d="M6018 5405l20-31 29 25-20 30z"/><path color="#4743e7" d="M5998 5434l20-29 29 24-20 28z"/><path color="#463de0" d="M5979 5462l19-28 29 23-19 27z"/><path color="#4538d8" d="M5959 5488l20-26 29 22-20 27z"/><path color="#4434cf" d="M5939 5514l20-26 29 23-20 25z"/><path color="#4433cb" d="M6935 5020l20 5 29 21-20-4z"/><path color="#4536d4" d="M6915 5014l20 6 29 22-20-5z"/><path color="#463bdc" d="M6896 5007l19 7 29 23-19-7z"/><path color="#4740e4" d="M6876 4999l20 8 29 23-20-7z"/><path color="#4746ea" d="M6856 4990l20 9 29 24-20-8z"/><path color="#484cf0" d="M6836 4980l20 10 29 25-20-10z"/><path color="#4853f4" d="M6817 4968l19 12 29 25-19-11z"/><path color="#4759f9" d="M6797 4955l20 13 29 26-20-12z"/><path color="#4661fc" d="M6777 4942l20 13 29 27-20-13z"/><path color="#4369fe" d="M6757 4926l20 16 29 27-20-14z"/><path color="#3c71ff" d="M6738 4910l19 16 29 29-19-16z"/><path color="#337afd" d="M6718 4894l20 16 29 29-20-15z"/><path color="#2e83f9" d="M6698 4876l20 18 29 30-20-17z"/><path color="#2d8bf4" d="M6679 4859l19 17 29 31-19-17z"/><path color="#2a93ed" d="M6659 4841l20 18 29 31-20-16z"/><path color="#259be8" d="M6639 4824l20 17 29 33-20-17z"/><path color="#22a2e4" d="M6619 4807l20 17 29 33-20-15z"/><path color="#1da8e0" d="M6600 4792l19 15 29 35-19-14z"/><path color="#18aedb" d="M6580 4779l20 13 29 36-20-13z"/><path color="#0eb2d4" d="M6560 4768l20 11 29 36-20-10z"/><path color="#04b6ce" d="M6540 4760l20 8 29 37-20-7z"/><path color="#00b9c8" d="M6521 4756l19 4 29 38-19-4z"/><path color="#02bac3" d="M6501 4755l20 1 29 38-20-1z"/><path color="#05bcc0" d="M6481 4759l20-4 29 38-20 4z"/><path color="#08bcbe" d="M6462 4767l19-8 29 38-19 8z"/><path color="#08bcbe" d="M6442 4779l20-12 29 38-20 13z"/><path color="#05bcc0" d="M6422 4796l20-17 29 39-20 16z"/><path color="#02bac3" d="M6402 4817l20-21 29 38-20 21z"/><path color="#00b9c8" d="M6383 4842l19-25 29 38-19 24z"/><path color="#04b6ce" d="M6363 4870l20-28 29 37-20 28z"/><path color="#0eb2d4" d="M6343 4901l20-31 29 37-20 31z"/><path color="#18aedb" d="M6323 4935l20-34 29 37-20 33z"/><path color="#1da8e0" d="M6304 4971l19-36 29 36-19 34z"/><path color="#22a2e4" d="M6284 5008l20-37 29 34-20 36z"/><path color="#259be8" d="M6264 5045l20-37 29 33-20 37z"/><path color="#2a93ed" d="M6244 5083l20-38 29 33-20 37z"/><path color="#2d8bf4" d="M6225 5122l19-39 29 32-19 37z"/><path color="#2e83f9" d="M6205 5159l20-37 29 30-20 37z"/><path color="#337afd" d="M6185 5197l20-38 29 30-20 37z"/><path color="#3c71ff" d="M6166 5233l19-36 29 29-19 35z"/><path color="#4369fe" d="M6146 5269l20-36 29 28-20 35z"/><path color="#4661fc" d="M6126 5303l20-34 29 27-20 33z"/><path color="#4759f9" d="M6106 5336l20-33 29 26-20 33z"/><path color="#4853f4" d="M6087 5368l19-32 29 26-19 31z"/><path color="#484cf0" d="M6067 5399l20-31 29 25-20 30z"/><path color="#4746ea" d="M6047 5429l20-30 29 24-20 29z"/><path color="#4740e4" d="M6027 5457l20-28 29 23-20 28z"/><path color="#463bdc" d="M6008 5484l19-27 29 23-19 27z"/><path color="#4536d4" d="M5988 5511l20-27 29 23-20 25z"/><path color="#4433cb" d="M5968 5536l20-25 29 21-20 25z"/><path color="#4331c7" d="M6964 5042l20 4 29 21-20-4z"/><path color="#4435d0" d="M6944 5037l20 5 29 21-20-4z"/><path color="#4639d9" d="M6925 5030l19 7 29 22-19-6z"/><path color="#463de1" d="M6905 5023l20 7 29 23-20-7z"/><path color="#4743e7" d="M6885 5015l20 8 29 23-20-8z"/><path color="#4849ed" d="M6865 5005l20 10 29 23-20-9z"/><path color="#484ff2" d="M6846 4994l19 11 29 24-19-10z"/><path color="#4756f7" d="M6826 4982l20 12 29 25-20-11z"/><path color="#465dfa" d="M6806 4969l20 13 29 26-20-13z"/><path color="#4465fd" d="M6786 4955l20 14 29 26-20-13z"/><path color="#406dfe" d="M6767 4939l19 16 29 27-19-14z"/><path color="#3876fe" d="M6747 4924l20 15 29 29-20-15z"/><path color="#307efb" d="M6727 4907l20 17 29 29-20-16z"/><path color="#2e87f7" d="M6708 4890l19 17 29 30-19-16z"/><path color="#2d8ef1" d="M6688 4874l20 16 29 31-20-16z"/><path color="#2896eb" d="M6668 4857l20 17 29 31-20-15z"/><path color="#259de7" d="M6648 4842l20 15 29 33-20-15z"/><path color="#21a3e3" d="M6629 4828l19 14 29 33-19-13z"/><path color="#1ca9df" d="M6609 4815l20 13 29 34-20-12z"/><path color="#17aeda" d="M6589 4805l20 10 29 35-20-9z"/><path color="#10b2d5" d="M6569 4798l20 7 29 36-20-7z"/><path color="#07b5d0" d="M6550 4794l19 4 29 36-19-3z"/><path color="#02b7cb" d="M6530 4793l20 1 29 37-20 0z"/><path color="#00b8c8" d="M6510 4797l20-4 29 38-20 4z"/><path color="#00b9c7" d="M6491 4805l19-8 29 38-19 8z"/><path color="#00b9c7" d="M6471 4818l20-13 29 38-20 12z"/><path color="#00b8c8" d="M6451 4834l20-16 29 37-20 17z"/><path color="#02b7cb" d="M6431 4855l20-21 29 38-20 20z"/><path color="#07b5d0" d="M6412 4879l19-24 29 37-19 24z"/><path color="#10b2d5" d="M6392 4907l20-28 29 37-20 27z"/><path color="#17aeda" d="M6372 4938l20-31 29 36-20 30z"/><path color="#1ca9df" d="M6352 4971l20-33 29 35-20 32z"/><path color="#21a3e3" d="M6333 5005l19-34 29 34-19 34z"/><path color="#259de7" d="M6313 5041l20-36 29 34-20 35z"/><path color="#2896eb" d="M6293 5078l20-37 29 33-20 36z"/><path color="#2d8ef1" d="M6273 5115l20-37 29 32-19 36z"/><path color="#2e87f7" d="M6254 5152l19-37 30 31-20 36z"/><path color="#307efb" d="M6234 5189l20-37 29 30-20 36z"/><path color="#3876fe" d="M6214 5226l20-37 29 29-20 36z"/><path color="#406dfe" d="M6195 5261l19-35 29 28-19 35z"/><path color="#4465fd" d="M6175 5296l20-35 29 28-20 33z"/><path color="#465dfa" d="M6155 5329l20-33 29 26-20 33z"/><path color="#4756f7" d="M6135 5362l20-33 29 26-20 32z"/><path color="#484ff2" d="M6116 5393l19-31 29 25-19 31z"/><path color="#4849ed" d="M6096 5423l20-30 29 25-20 29z"/><path color="#4743e7" d="M6076 5452l20-29 29 24-20 28z"/><path color="#463de1" d="M6056 5480l20-28 29 23-20 28z"/><path color="#4639d9" d="M6037 5507l19-27 29 23-19 26z"/><path color="#4435d0" d="M6017 5532l20-25 29 22-20 25z"/><path color="#4331c7" d="M5997 5557l20-25 29 22-20 24z"/><path color="#4230c4" d="M6993 5063l20 4 29 21-20-4z"/><path color="#4433cc" d="M6973 5059l20 4 29 21-20-4z"/><path color="#4537d5" d="M6954 5053l19 6 29 21-19-5z"/><path color="#463bdd" d="M6934 5046l20 7 29 22-20-6z"/><path color="#4740e4" d="M6914 5038l20 8 29 23-20-8z"/><path color="#4746eb" d="M6894 5029l20 9 29 23-20-8z"/><path color="#484df0" d="M6875 5019l19 10 29 24-19-9z"/><path color="#4853f5" d="M6855 5008l20 11 29 25-20-11z"/><path color="#475af9" d="M6835 4995l20 13 29 25-20-12z"/><path color="#4661fc" d="M6815 4982l20 13 29 26-19-12z"/><path color="#4369fe" d="M6796 4968l19 14 30 27-20-14z"/><path color="#3d71ff" d="M6776 4953l20 15 29 27-20-14z"/><path color="#347afd" d="M6756 4937l20 16 29 28-20-15z"/><path color="#2f82fa" d="M6737 4921l19 16 29 29-19-15z"/><path color="#2d8af5" d="M6717 4905l20 16 29 30-20-15z"/><path color="#2b91ef" d="M6697 4890l20 15 29 31-20-14z"/><path color="#2698ea" d="M6677 4875l20 15 29 32-20-14z"/><path color="#249fe6" d="M6658 4862l19 13 29 33-19-13z"/><path color="#20a4e3" d="M6638 4850l20 12 29 33-20-11z"/><path color="#1ca9df" d="M6618 4841l20 9 29 34-20-9z"/><path color="#18aedb" d="M6598 4834l20 7 29 34-20-6z"/><path color="#12b1d7" d="M6579 4831l19 3 29 35-19-3z"/><path color="#0cb3d3" d="M6559 4831l20 0 29 35-20 1z"/><path color="#07b5d0" d="M6539 4835l20-4 29 36-20 4z"/><path color="#05b5cf" d="M6520 4843l19-8 29 36-19 8z"/><path color="#05b5cf" d="M6500 4855l20-12 29 36-20 12z"/><path color="#07b5d0" d="M6480 4872l20-17 29 36-20 16z"/><path color="#0cb3d3" d="M6460 4892l20-20 29 35-20 20z"/><path color="#12b1d7" d="M6441 4916l19-24 29 35-19 24z"/><path color="#18aedb" d="M6421 4943l20-27 29 35-20 27z"/><path color="#1ca9df" d="M6401 4973l20-30 29 35-20 29z"/><path color="#20a4e3" d="M6381 5005l20-32 29 34-20 31z"/><path color="#249fe6" d="M6362 5039l19-34 29 33-19 33z"/><path color="#2698ea" d="M6342 5074l20-35 29 32-20 35z"/><path color="#2b91ef" d="M6322 5110l20-36 29 32-20 35z"/><path color="#2d8af5" d="M6303 5146l19-36 29 31-19 35z"/><path color="#2f82fa" d="M6283 5182l20-36 29 30-20 36z"/><path color="#347afd" d="M6263 5218l20-36 29 30-20 35z"/><path color="#3d71ff" d="M6243 5254l20-36 29 29-20 34z"/><path color="#4369fe" d="M6224 5289l19-35 29 27-19 34z"/><path color="#4661fc" d="M6204 5322l20-33 29 26-20 33z"/><path color="#475af9" d="M6184 5355l20-33 29 26-20 32z"/><path color="#4853f5" d="M6164 5387l20-32 29 25-20 31z"/><path color="#484df0" d="M6145 5418l19-31 29 24-19 30z"/><path color="#4746eb" d="M6125 5447l20-29 29 23-20 29z"/><path color="#4740e4" d="M6105 5475l20-28 29 23-20 28z"/><path color="#463bdd" d="M6085 5503l20-28 29 23-20 27z"/><path color="#4537d5" d="M6066 5529l19-26 29 22-19 25z"/><path color="#4433cc" d="M6046 5554l20-25 29 21-20 25z"/><path color="#4230c4" d="M6026 5578l20-24 29 21-20 24z"/><path color="#422fc0" d="M7022 5084l20 4 29 20-20-3z"/><path color="#4332c9" d="M7002 5080l20 4 29 21-20-4z"/><path color="#4435d2" d="M6983 5075l19 5 29 21-19-4z"/><path color="#4639da" d="M6963 5069l20 6 29 22-20-6z"/><path color="#473ee1" d="M6943 5061l20 8 29 22-20-7z"/><path color="#4744e8" d="M6923 5053l20 8 29 23-20-8z"/><path color="#484aee" d="M6904 5044l19 9 29 23-19-9z"/><path color="#4850f3" d="M6884 5033l20 11 29 23-20-9z"/><path color="#4757f7" d="M6864 5021l20 12 29 25-20-11z"/><path color="#465dfb" d="M6845 5009l19 12 29 26-19-12z"/><path color="#4465fd" d="M6825 4995l20 14 29 26-20-13z"/><path color="#406dfe" d="M6805 4981l20 14 29 27-20-13z"/><path color="#3975fe" d="M6785 4966l20 15 29 28-20-14z"/><path color="#307efc" d="M6766 4951l19 15 29 29-19-15z"/><path color="#2e85f8" d="M6746 4936l20 15 29 29-20-14z"/><path color="#2d8df2" d="M6726 4922l20 14 29 30-20-14z"/><path color="#2994ed" d="M6706 4908l20 14 29 30-20-13z"/><path color="#269ae8" d="M6687 4895l19 13 29 31-19-12z"/><path color="#23a0e5" d="M6667 4884l20 11 29 32-20-10z"/><path color="#20a5e2" d="M6647 4875l20 9 29 33-20-8z"/><path color="#1ca9df" d="M6627 4869l20 6 29 34-20-6z"/><path color="#19addc" d="M6608 4866l19 3 29 34-19-3z"/><path color="#16afd9" d="M6588 4867l20-1 29 34-20 1z"/><path color="#13b1d7" d="M6568 4871l20-4 29 34-20 5z"/><path color="#11b2d6" d="M6549 4879l19-8 29 35-19 8z"/><path color="#11b2d6" d="M6529 4891l20-12 29 35-20 12z"/><path color="#13b1d7" d="M6509 4907l20-16 29 35-20 16z"/><path color="#16afd9" d="M6489 4927l20-20 29 35-20 20z"/><path color="#19addc" d="M6470 4951l19-24 29 35-19 23z"/><path color="#1ca9df" d="M6450 4978l20-27 29 34-20 26z"/><path color="#20a5e2" d="M6430 5007l20-29 29 33-20 29z"/><path color="#23a0e5" d="M6410 5038l20-31 29 33-20 30z"/><path color="#269ae8" d="M6391 5071l19-33 29 32-19 33z"/><path color="#2994ed" d="M6371 5106l20-35 29 32-20 33z"/><path color="#2d8df2" d="M6351 5141l20-35 29 30-20 35z"/><path color="#2e85f8" d="M6332 5176l19-35 29 30-19 34z"/><path color="#307efc" d="M6312 5212l20-36 29 29-20 35z"/><path color="#3975fe" d="M6292 5247l20-35 29 28-20 34z"/><path color="#406dfe" d="M6272 5281l20-34 29 27-20 34z"/><path color="#4465fd" d="M6253 5315l19-34 29 27-19 33z"/><path color="#465dfb" d="M6233 5348l20-33 29 26-20 33z"/><path color="#4757f7" d="M6213 5380l20-32 29 26-20 31z"/><path color="#4850f3" d="M6193 5411l20-31 29 25-20 30z"/><path color="#484aee" d="M6174 5441l19-30 29 24-19 30z"/><path color="#4744e8" d="M6154 5470l20-29 29 24-20 28z"/><path color="#473ee1" d="M6134 5498l20-28 29 23-20 27z"/><path color="#4639da" d="M6114 5525l20-27 29 22-19 26z"/><path color="#4435d2" d="M6095 5550l19-25 30 21-20 26z"/><path color="#4332c9" d="M6075 5575l20-25 29 22-20 24z"/><path color="#422fc0" d="M6055 5599l20-24 29 21-20 23z"/><path color="#412dbd" d="M7051 5105l20 3 29 20-20-3z"/><path color="#4330c5" d="M7031 5101l20 4 29 20-20-3z"/><path color="#4434ce" d="M7012 5097l19 4 29 21-19-4z"/><path color="#4537d6" d="M6992 5091l20 6 29 21-20-5z"/><path color="#463cde" d="M6972 5084l20 7 29 22-20-7z"/><path color="#4741e5" d="M6952 5076l20 8 29 22-20-7z"/><path color="#4747eb" d="M6933 5067l19 9 29 23-19-8z"/><path color="#484df0" d="M6913 5058l20 9 29 24-20-9z"/><path color="#4854f5" d="M6893 5047l20 11 29 24-20-11z"/><path color="#475af9" d="M6874 5035l19 12 29 24-19-11z"/><path color="#4561fc" d="M6854 5022l20 13 29 25-20-12z"/><path color="#4369fe" d="M6834 5009l20 13 29 26-20-13z"/><path color="#3d71ff" d="M6814 4995l20 14 29 26-20-13z"/><path color="#3579fd" d="M6795 4980l19 15 29 27-19-13z"/><path color="#2f81fa" d="M6775 4966l20 14 29 29-20-14z"/><path color="#2d88f6" d="M6755 4952l20 14 29 29-20-13z"/><path color="#2c8ff0" d="M6735 4939l20 13 29 30-20-12z"/><path color="#2896ec" d="M6716 4927l19 12 29 31-19-12z"/><path color="#259be8" d="M6696 4917l20 10 29 31-20-9z"/><path color="#23a0e5" d="M6676 4909l20 8 29 32-20-8z"/><path color="#20a5e3" d="M6656 4903l20 6 29 32-19-5z"/><path color="#1da8e0" d="M6637 4900l19 3 30 33-20-2z"/><path color="#1babde" d="M6617 4901l20-1 29 34-20 1z"/><path color="#19addc" d="M6597 4906l20-5 29 34-20 4z"/><path color="#18addb" d="M6578 4914l19-8 29 33-19 9z"/><path color="#18addb" d="M6558 4926l20-12 29 34-20 12z"/><path color="#19addc" d="M6538 4942l20-16 29 34-20 15z"/><path color="#1babde" d="M6518 4962l20-20 29 33-20 20z"/><path color="#1da8e0" d="M6499 4985l19-23 29 33-19 23z"/><path color="#20a5e3" d="M6479 5011l20-26 29 33-20 25z"/><path color="#23a0e5" d="M6459 5040l20-29 29 32-20 28z"/><path color="#259be8" d="M6439 5070l20-30 29 31-20 30z"/><path color="#2896ec" d="M6420 5103l19-33 29 31-19 32z"/><path color="#2c8ff0" d="M6400 5136l20-33 29 30-20 33z"/><path color="#2d88f6" d="M6380 5171l20-35 29 30-20 33z"/><path color="#2f81fa" d="M6361 5205l19-34 29 28-19 34z"/><path color="#3579fd" d="M6341 5240l20-35 29 28-20 34z"/><path color="#3d71ff" d="M6321 5274l20-34 29 27-20 34z"/><path color="#4369fe" d="M6301 5308l20-34 29 27-20 33z"/><path color="#4561fc" d="M6282 5341l19-33 29 26-19 33z"/><path color="#475af9" d="M6262 5374l20-33 29 26-20 31z"/><path color="#4854f5" d="M6242 5405l20-31 29 24-20 31z"/><path color="#484df0" d="M6222 5435l20-30 29 24-20 30z"/><path color="#4747eb" d="M6203 5465l19-30 29 24-19 29z"/><path color="#4741e5" d="M6183 5493l20-28 29 23-20 27z"/><path color="#463cde" d="M6163 5520l20-27 29 22-20 27z"/><path color="#4537d6" d="M6144 5546l19-26 29 22-19 26z"/><path color="#4434ce" d="M6124 5572l20-26 29 22-20 24z"/><path color="#4330c5" d="M6104 5596l20-24 29 20-20 24z"/><path color="#412dbd" d="M6084 5619l20-23 29 20-20 23z"/><path color="#412cba" d="M7080 5125l20 3 29 20-20-3z"/><path color="#422fc2" d="M7060 5122l20 3 29 20-20-2z"/><path color="#4332ca" d="M7041 5118l19 4 29 21-19-4z"/><path color="#4536d3" d="M7021 5113l20 5 29 21-20-5z"/><path color="#463adb" d="M7001 5106l20 7 29 21-20-6z"/><path color="#473fe3" d="M6981 5099l20 7 29 22-20-7z"/><path color="#4745e9" d="M6962 5091l19 8 29 22-19-7z"/><path color="#484bee" d="M6942 5082l20 9 29 23-20-9z"/><path color="#4851f3" d="M6922 5071l20 11 29 23-20-10z"/><path color="#4757f7" d="M6903 5060l19 11 29 24-19-10z"/><path color="#465efb" d="M6883 5048l20 12 29 25-20-12z"/><path color="#4465fd" d="M6863 5035l20 13 29 25-20-12z"/><path color="#406dfe" d="M6843 5022l20 13 29 26-20-12z"/><path color="#3975fe" d="M6824 5009l19 13 29 27-19-13z"/><path color="#317dfc" d="M6804 4995l20 14 29 27-20-13z"/><path color="#2e84f8" d="M6784 4982l20 13 29 28-20-12z"/><path color="#2d8bf4" d="M6764 4970l20 12 29 29-20-12z"/><path color="#2b91ef" d="M6745 4958l19 12 29 29-19-11z"/><path color="#2797eb" d="M6725 4949l20 9 29 30-20-9z"/><path color="#259ce7" d="M6705 4941l20 8 29 30-20-7z"/><path color="#23a0e5" d="M6686 4936l19 5 29 31-19-5z"/><path color="#20a4e3" d="M6666 4934l20 2 29 31-20-2z"/><path color="#1ea7e1" d="M6646 4935l20-1 29 31-20 2z"/><path color="#1da8e0" d="M6626 4939l20-4 29 32-20 4z"/><path color="#1ca9df" d="M6607 4948l19-9 29 32-19 9z"/><path color="#1ca9df" d="M6587 4960l20-12 29 32-20 12z"/><path color="#1da8e0" d="M6567 4975l20-15 29 32-20 16z"/><path color="#1ea7e1" d="M6547 4995l20-20 29 33-20 19z"/><path color="#20a4e3" d="M6528 5018l19-23 29 32-19 22z"/><path color="#23a0e5" d="M6508 5043l20-25 29 31-20 25z"/><path color="#259ce7" d="M6488 5071l20-28 29 31-20 28z"/><path color="#2797eb" d="M6468 5101l20-30 29 31-20 29z"/><path color="#2b91ef" d="M6449 5133l19-32 29 30-19 31z"/><path color="#2d8bf4" d="M6429 5166l20-33 29 29-20 33z"/><path color="#2e84f8" d="M6409 5199l20-33 29 29-20 32z"/><path color="#317dfc" d="M6390 5233l19-34 29 28-19 34z"/><path color="#3975fe" d="M6370 5267l20-34 29 28-20 33z"/><path color="#406dfe" d="M6350 5301l20-34 29 27-20 33z"/><path color="#4465fd" d="M6330 5334l20-33 29 26-20 32z"/><path color="#465efb" d="M6311 5367l19-33 29 25-19 32z"/><path color="#4757f7" d="M6291 5398l20-31 29 24-20 31z"/><path color="#4851f3" d="M6271 5429l20-31 29 24-20 30z"/><path color="#484bee" d="M6251 5459l20-30 29 23-20 30z"/><path color="#4745e9" d="M6232 5488l19-29 29 23-19 28z"/><path color="#473fe3" d="M6212 5515l20-27 29 22-20 27z"/><path color="#463adb" d="M6192 5542l20-27 29 22-20 26z"/><path color="#4536d3" d="M6173 5568l19-26 29 21-19 25z"/><path color="#4332ca" d="M6153 5592l20-24 29 20-20 25z"/><path color="#422fc2" d="M6133 5616l20-24 29 21-20 23z"/><path color="#412cba" d="M6113 5639l20-23 29 20-20 23z"/><path color="#402bb7" d="M7109 5145l20 3 29 19-20-2z"/><path color="#422ebf" d="M7089 5143l20 2 29 20-20-2z"/><path color="#4331c7" d="M7070 5139l19 4 29 20-19-4z"/><path color="#4434d0" d="M7050 5134l20 5 29 20-20-4z"/><path color="#4538d8" d="M7030 5128l20 6 29 21-20-6z"/><path color="#463de0" d="M7010 5121l20 7 29 21-20-6z"/><path color="#4742e6" d="M6991 5114l19 7 29 22-19-7z"/><path color="#4848ec" d="M6971 5105l20 9 29 22-20-8z"/><path color="#484ef1" d="M6951 5095l20 10 29 23-20-9z"/><path color="#4854f6" d="M6932 5085l19 10 29 24-19-11z"/><path color="#475bf9" d="M6912 5073l20 12 29 23-20-10z"/><path color="#4562fc" d="M6892 5061l20 12 29 25-20-12z"/><path color="#4269fe" d="M6872 5049l20 12 29 25-20-12z"/><path color="#3d71ff" d="M6853 5036l19 13 29 25-19-12z"/><path color="#3579fd" d="M6833 5023l20 13 29 26-20-12z"/><path color="#2f80fa" d="M6813 5011l20 12 29 27-20-12z"/><path color="#2e87f7" d="M6793 4999l20 12 29 27-20-11z"/><path color="#2d8df2" d="M6774 4988l19 11 29 28-19-10z"/><path color="#2a93ee" d="M6754 4979l20 9 29 29-20-8z"/><path color="#2698ea" d="M6734 4972l20 7 29 30-20-7z"/><path color="#259ce7" d="M6715 4967l19 5 29 30-19-4z"/><path color="#23a0e5" d="M6695 4965l20 2 29 31-20-2z"/><path color="#22a2e4" d="M6675 4967l20-2 29 31-20 2z"/><path color="#20a4e3" d="M6655 4971l20-4 29 31-20 5z"/><path color="#1fa5e2" d="M6636 4980l19-9 29 32-19 8z"/><path color="#1fa5e2" d="M6616 4992l20-12 29 31-20 12z"/><path color="#20a4e3" d="M6596 5008l20-16 29 31-20 15z"/><path color="#22a2e4" d="M6576 5027l20-19 29 30-20 19z"/><path color="#23a0e5" d="M6557 5049l19-22 29 30-19 22z"/><path color="#259ce7" d="M6537 5074l20-25 29 30-20 25z"/><path color="#2698ea" d="M6517 5102l20-28 29 30-20 27z"/><path color="#2a93ee" d="M6497 5131l20-29 29 29-19 29z"/><path color="#2d8df2" d="M6478 5162l19-31 30 29-20 31z"/><path color="#2e87f7" d="M6458 5195l20-33 29 29-20 31z"/><path color="#2f80fa" d="M6438 5227l20-32 29 27-20 33z"/><path color="#3579fd" d="M6419 5261l19-34 29 28-19 32z"/><path color="#3d71ff" d="M6399 5294l20-33 29 26-20 33z"/><path color="#4269fe" d="M6379 5327l20-33 29 26-20 32z"/><path color="#4562fc" d="M6359 5359l20-32 29 25-20 32z"/><path color="#475bf9" d="M6340 5391l19-32 29 25-19 31z"/><path color="#4854f6" d="M6320 5422l20-31 29 24-20 31z"/><path color="#484ef1" d="M6300 5452l20-30 29 24-20 29z"/><path color="#4848ec" d="M6280 5482l20-30 29 23-20 29z"/><path color="#4742e6" d="M6261 5510l19-28 29 22-19 28z"/><path color="#463de0" d="M6241 5537l20-27 29 22-20 26z"/><path color="#4538d8" d="M6221 5563l20-26 29 21-20 26z"/><path color="#4434d0" d="M6202 5588l19-25 29 21-19 25z"/><path color="#4331c7" d="M6182 5613l20-25 29 21-20 24z"/><path color="#422ebf" d="M6162 5636l20-23 29 20-20 23z"/><path color="#402bb7" d="M6142 5659l20-23 29 20-20 22z"/><path color="#402ab4" d="M7138 5165l20 2 29 19-20-2z"/><path color="#412dbc" d="M7118 5163l20 2 29 19-20-2z"/><path color="#4230c4" d="M7099 5159l19 4 29 19-19-3z"/><path color="#4433cd" d="M7079 5155l20 4 29 20-20-4z"/><path color="#4537d5" d="M7059 5149l20 6 29 20-20-5z"/><path color="#463bdd" d="M7039 5143l20 6 29 21-19-6z"/><path color="#4740e4" d="M7020 5136l19 7 30 21-20-6z"/><path color="#4746ea" d="M7000 5128l20 8 29 22-20-8z"/><path color="#484cef" d="M6980 5119l20 9 29 22-20-9z"/><path color="#4852f4" d="M6961 5108l19 11 29 22-19-9z"/><path color="#4758f8" d="M6941 5098l20 10 29 24-20-11z"/><path color="#465ffb" d="M6921 5086l20 12 29 23-20-10z"/><path color="#4466fd" d="M6901 5074l20 12 29 25-20-12z"/><path color="#406dfe" d="M6882 5062l19 12 29 25-19-11z"/><path color="#3975fe" d="M6862 5050l20 12 29 26-20-12z"/><path color="#317cfc" d="M6842 5038l20 12 29 26-20-11z"/><path color="#2e83f9" d="M6822 5027l20 11 29 27-20-11z"/><path color="#2d89f5" d="M6803 5017l19 10 29 27-19-9z"/><path color="#2c8ff0" d="M6783 5009l20 8 29 28-20-8z"/><path color="#2994ed" d="M6763 5002l20 7 29 28-20-6z"/><path color="#2698ea" d="M6744 4998l19 4 29 29-19-4z"/><path color="#259ce7" d="M6724 4996l20 2 29 29-20-2z"/><path color="#249ee6" d="M6704 4998l20-2 29 29-20 2z"/><path color="#23a0e5" d="M6684 5003l20-5 29 29-20 5z"/><path color="#22a1e4" d="M6665 5011l19-8 29 29-19 9z"/><path color="#22a1e4" d="M6645 5023l20-12 29 30-20 12z"/><path color="#23a0e5" d="M6625 5038l20-15 29 30-20 15z"/><path color="#249ee6" d="M6605 5057l20-19 29 30-20 19z"/><path color="#259ce7" d="M6586 5079l19-22 29 30-19 21z"/><path color="#2698ea" d="M6566 5104l20-25 29 29-20 25z"/><path color="#2994ed" d="M6546 5131l20-27 29 29-20 26z"/><path color="#2c8ff0" d="M6527 5160l19-29 29 28-19 29z"/><path color="#2d89f5" d="M6507 5191l20-31 29 28-20 30z"/><path color="#2e83f9" d="M6487 5222l20-31 29 27-20 31z"/><path color="#317cfc" d="M6467 5255l20-33 29 27-20 32z"/><path color="#3975fe" d="M6448 5287l19-32 29 26-19 32z"/><path color="#406dfe" d="M6428 5320l20-33 29 26-20 32z"/><path color="#4466fd" d="M6408 5352l20-32 29 25-20 31z"/><path color="#465ffb" d="M6388 5384l20-32 29 24-20 32z"/><path color="#4758f8" d="M6369 5415l19-31 29 24-19 30z"/><path color="#4852f4" d="M6349 5446l20-31 29 23-20 30z"/><path color="#484cef" d="M6329 5475l20-29 29 22-20 29z"/><path color="#4746ea" d="M6309 5504l20-29 29 22-20 28z"/><path color="#4740e4" d="M6290 5532l19-28 29 21-19 28z"/><path color="#463bdd" d="M6270 5558l20-26 29 21-20 26z"/><path color="#4537d5" d="M6250 5584l20-26 29 21-20 25z"/><path color="#4433cd" d="M6231 5609l19-25 29 20-19 25z"/><path color="#4230c4" d="M6211 5633l20-24 29 20-20 23z"/><path color="#412dbc" d="M6191 5656l20-23 29 19-20 23z"/><path color="#402ab4" d="M6171 5678l20-22 29 19-20 22z"/><path color="#3f29b2" d="M7167 5184l20 2 29 18-20-1z"/><path color="#412cb9" d="M7147 5182l20 2 29 19-20-2z"/><path color="#422fc1" d="M7128 5179l19 3 29 19-19-2z"/><path color="#4332c9" d="M7108 5175l20 4 29 20-20-4z"/><path color="#4535d2" d="M7088 5170l20 5 29 20-20-4z"/><path color="#4639da" d="M7069 5164l19 6 29 21-19-6z"/><path color="#473ee2" d="M7049 5158l20 6 29 21-20-6z"/><path color="#4744e8" d="M7029 5150l20 8 29 21-20-8z"/><path color="#4849ed" d="M7009 5141l20 9 29 21-20-8z"/><path color="#4850f2" d="M6990 5132l19 9 29 22-19-9z"/><path color="#4756f6" d="M6970 5121l20 11 29 22-20-10z"/><path color="#475cfa" d="M6950 5111l20 10 29 23-20-10z"/><path color="#4563fc" d="M6930 5099l20 12 29 23-20-11z"/><path color="#426afe" d="M6911 5088l19 11 29 24-19-11z"/><path color="#3c71ff" d="M6891 5076l20 12 29 24-20-11z"/><path color="#3579fd" d="M6871 5065l20 11 29 25-20-10z"/><path color="#2f80fb" d="M6851 5054l20 11 29 26-20-10z"/><path color="#2e86f8" d="M6832 5045l19 9 29 27-19-9z"/><path color="#2d8bf4" d="M6812 5037l20 8 29 27-20-8z"/><path color="#2c90ef" d="M6792 5031l20 6 29 27-20-6z"/><path color="#2995ec" d="M6773 5027l19 4 29 27-19-3z"/><path color="#2698ea" d="M6753 5025l20 2 29 28-20-1z"/><path color="#259be8" d="M6733 5027l20-2 29 29-20 2z"/><path color="#259de7" d="M6713 5032l20-5 29 29-20 5z"/><path color="#259de6" d="M6694 5041l19-9 29 29-19 8z"/><path color="#259de6" d="M6674 5053l20-12 29 28-20 12z"/><path color="#259de7" d="M6654 5068l20-15 29 28-20 16z"/><path color="#259be8" d="M6634 5087l20-19 29 29-20 18z"/><path color="#2698ea" d="M6615 5108l19-21 29 28-19 21z"/><path color="#2995ec" d="M6595 5133l20-25 29 28-20 24z"/><path color="#2c90ef" d="M6575 5159l20-26 29 27-20 27z"/><path color="#2d8bf4" d="M6556 5188l19-29 29 28-19 28z"/><path color="#2e86f8" d="M6536 5218l20-30 29 27-20 29z"/><path color="#2f80fb" d="M6516 5249l20-31 29 26-20 31z"/><path color="#3579fd" d="M6496 5281l20-32 29 26-20 31z"/><path color="#3c71ff" d="M6477 5313l19-32 29 25-19 31z"/><path color="#426afe" d="M6457 5345l20-32 29 24-20 32z"/><path color="#4563fc" d="M6437 5376l20-31 29 24-20 31z"/><path color="#475cfa" d="M6417 5408l20-32 29 24-20 31z"/><path color="#4756f6" d="M6398 5438l19-30 29 23-19 30z"/><path color="#4850f2" d="M6378 5468l20-30 29 23-20 29z"/><path color="#4849ed" d="M6358 5497l20-29 29 22-20 29z"/><path color="#4744e8" d="M6338 5525l20-28 29 22-19 28z"/><path color="#473ee2" d="M6319 5553l19-28 30 22-20 26z"/><path color="#4639da" d="M6299 5579l20-26 29 20-20 26z"/><path color="#4535d2" d="M6279 5604l20-25 29 20-20 25z"/><path color="#4332c9" d="M6260 5629l19-25 29 20-19 24z"/><path color="#422fc1" d="M6240 5652l20-23 29 19-20 24z"/><path color="#412cb9" d="M6220 5675l20-23 29 20-20 22z"/><path color="#3f29b2" d="M6200 5697l20-22 29 19-20 21z"/><path color="#3f28af" d="M7196 5203l20 1 29 19-20-1z"/><path color="#402bb7" d="M7176 5201l20 2 29 19-20-2z"/><path color="#422ebe" d="M7157 5199l19 2 29 19-19-2z"/><path color="#4331c7" d="M7137 5195l20 4 29 19-20-3z"/><path color="#4434cf" d="M7117 5191l20 4 29 20-20-5z"/><path color="#4538d8" d="M7098 5185l19 6 29 19-19-5z"/><path color="#463ddf" d="M7078 5179l20 6 29 20-20-6z"/><path color="#4742e6" d="M7058 5171l20 8 29 20-20-7z"/><path color="#4847ec" d="M7038 5163l20 8 29 21-20-7z"/><path color="#484df1" d="M7019 5154l19 9 29 22-19-9z"/><path color="#4853f5" d="M6999 5144l20 10 29 22-20-9z"/><path color="#475af9" d="M6979 5134l20 10 29 23-20-10z"/><path color="#4660fc" d="M6959 5123l20 11 29 23-20-10z"/><path color="#4367fd" d="M6940 5112l19 11 29 24-19-11z"/><path color="#3f6eff" d="M6920 5101l20 11 29 24-20-10z"/><path color="#3975fe" d="M6900 5091l20 10 29 25-20-11z"/><path color="#327cfc" d="M6880 5081l20 10 29 24-19-9z"/><path color="#2f82f9" d="M6861 5072l19 9 30 25-20-9z"/><path color="#2d88f6" d="M6841 5064l20 8 29 25-20-7z"/><path color="#2d8df2" d="M6821 5058l20 6 29 26-20-5z"/><path color="#2b91ef" d="M6802 5055l19 3 29 27-19-4z"/><path color="#2995ec" d="M6782 5054l20 1 29 26-20 0z"/><path color="#2797ea" d="M6762 5056l20-2 29 27-20 2z"/><path color="#2699e9" d="M6742 5061l20-5 29 27-20 5z"/><path color="#269ae8" d="M6723 5069l19-8 29 27-19 9z"/><path color="#269ae8" d="M6703 5081l20-12 29 28-20 12z"/><path color="#2699e9" d="M6683 5097l20-16 29 28-20 15z"/><path color="#2797ea" d="M6663 5115l20-18 29 27-20 18z"/><path color="#2995ec" d="M6644 5136l19-21 29 27-19 21z"/><path color="#2b91ef" d="M6624 5160l20-24 29 27-20 24z"/><path color="#2d8df2" d="M6604 5187l20-27 29 27-20 26z"/><path color="#2d88f6" d="M6585 5215l19-28 29 26-19 27z"/><path color="#2f82f9" d="M6565 5244l20-29 29 25-20 29z"/><path color="#327cfc" d="M6545 5275l20-31 29 25-20 30z"/><path color="#3975fe" d="M6525 5306l20-31 29 24-20 31z"/><path color="#3f6eff" d="M6506 5337l19-31 29 24-19 31z"/><path color="#4367fd" d="M6486 5369l20-32 29 24-20 31z"/><path color="#4660fc" d="M6466 5400l20-31 29 23-20 31z"/><path color="#475af9" d="M6446 5431l20-31 29 23-20 30z"/><path color="#4853f5" d="M6427 5461l19-30 29 22-19 30z"/><path color="#484df1" d="M6407 5490l20-29 29 22-20 29z"/><path color="#4847ec" d="M6387 5519l20-29 29 22-20 28z"/><path color="#4742e6" d="M6368 5547l19-28 29 21-19 27z"/><path color="#463ddf" d="M6348 5573l20-26 29 20-20 27z"/><path color="#4538d8" d="M6328 5599l20-26 29 21-20 25z"/><path color="#4434cf" d="M6308 5624l20-25 29 20-20 25z"/><path color="#4331c7" d="M6289 5648l19-24 29 20-19 23z"/><path color="#422ebe" d="M6269 5672l20-24 29 19-20 23z"/><path color="#402bb7" d="M6249 5694l20-22 29 18-20 22z"/><path color="#3f28af" d="M6229 5715l20-21 29 18-20 22z"/><path color="#3f28ad" d="M7225 5222l20 1 29 18-20-1z"/><path color="#402ab5" d="M7205 5220l20 2 29 18-20-1z"/><path color="#412dbc" d="M7186 5218l19 2 29 19-19-2z"/><path color="#4230c4" d="M7166 5215l20 3 29 19-20-3z"/><path color="#4433cd" d="M7146 5210l20 5 29 19-20-4z"/><path color="#4537d5" d="M7127 5205l19 5 29 20-19-5z"/><path color="#463bdd" d="M7107 5199l20 6 29 20-20-6z"/><path color="#4740e4" d="M7087 5192l20 7 29 20-20-6z"/><path color="#4746ea" d="M7067 5185l20 7 29 21-20-8z"/><path color="#484bef" d="M7048 5176l19 9 29 20-19-8z"/><path color="#4851f4" d="M7028 5167l20 9 29 21-20-9z"/><path color="#4757f8" d="M7008 5157l20 10 29 21-20-9z"/><path color="#465efb" d="M6988 5147l20 10 29 22-20-10z"/><path color="#4464fd" d="M6969 5136l19 11 29 22-19-10z"/><path color="#416bfe" d="M6949 5126l20 10 29 23-20-10z"/><path color="#3c72ff" d="M6929 5115l20 11 29 23-20-10z"/><path color="#3579fd" d="M6910 5106l19 9 29 24-19-9z"/><path color="#2f7ffb" d="M6890 5097l20 9 29 24-20-8z"/><path color="#2e85f8" d="M6870 5090l20 7 29 25-20-7z"/><path color="#2d8af5" d="M6850 5085l20 5 29 25-20-5z"/><path color="#2d8ef1" d="M6831 5081l19 4 29 25-19-3z"/><path color="#2b92ef" d="M6811 5081l20 0 29 26-20-1z"/><path color="#2994ed" d="M6791 5083l20-2 29 25-20 3z"/><path color="#2896eb" d="M6771 5088l20-5 29 26-20 5z"/><path color="#2797eb" d="M6752 5097l19-9 29 26-19 9z"/><path color="#2797eb" d="M6732 5109l20-12 29 26-20 12z"/><path color="#2896eb" d="M6712 5124l20-15 29 26-20 15z"/><path color="#2994ed" d="M6692 5142l20-18 29 26-20 18z"/><path color="#2b92ef" d="M6673 5163l19-21 29 26-19 21z"/><path color="#2d8ef1" d="M6653 5187l20-24 29 26-20 23z"/><path color="#2d8af5" d="M6633 5213l20-26 29 25-20 26z"/><path color="#2e85f8" d="M6614 5240l19-27 29 25-19 27z"/><path color="#2f7ffb" d="M6594 5269l20-29 29 25-20 28z"/><path color="#3579fd" d="M6574 5299l20-30 29 24-20 30z"/><path color="#3c72ff" d="M6554 5330l20-31 29 24-20 30z"/><path color="#416bfe" d="M6535 5361l19-31 29 23-19 31z"/><path color="#4464fd" d="M6515 5392l20-31 29 23-20 30z"/><path color="#465efb" d="M6495 5423l20-31 29 22-20 31z"/><path color="#4757f8" d="M6475 5453l20-30 29 22-20 29z"/><path color="#4851f4" d="M6456 5483l19-30 29 21-19 30z"/><path color="#484bef" d="M6436 5512l20-29 29 21-20 28z"/><path color="#4746ea" d="M6416 5540l20-28 29 20-20 28z"/><path color="#4740e4" d="M6397 5567l19-27 29 20-19 27z"/><path color="#463bdd" d="M6377 5594l20-27 29 20-20 26z"/><path color="#4537d5" d="M6357 5619l20-25 29 19-20 25z"/><path color="#4433cd" d="M6337 5644l20-25 29 19-20 25z"/><path color="#4230c4" d="M6318 5667l19-23 29 19-19 23z"/><path color="#412dbc" d="M6298 5690l20-23 29 19-20 23z"/><path color="#402ab5" d="M6278 5712l20-22 29 19-20 22z"/><path color="#3f28ad" d="M6258 5734l20-22 29 19-20 21z"/><path color="#3e27ab" d="M7254 5240l20 1 29 17-20 0z"/><path color="#4029b3" d="M7234 5239l20 1 29 18-20-1z"/><path color="#412cba" d="M7215 5237l19 2 29 18-19-2z"/><path color="#422fc2" d="M7195 5234l20 3 29 18-20-3z"/><path color="#4332ca" d="M7175 5230l20 4 29 18-20-4z"/><path color="#4536d3" d="M7156 5225l19 5 29 18-19-4z"/><path color="#463adb" d="M7136 5219l20 6 29 19-20-5z"/><path color="#473fe2" d="M7116 5213l20 6 29 20-20-7z"/><path color="#4744e8" d="M7096 5205l20 8 29 19-20-7z"/><path color="#484aee" d="M7077 5197l19 8 29 20-19-7z"/><path color="#484ff2" d="M7057 5188l20 9 29 21-20-9z"/><path color="#4855f6" d="M7037 5179l20 9 29 21-20-9z"/><path color="#475cfa" d="M7017 5169l20 10 29 21-20-9z"/><path color="#4562fc" d="M6998 5159l19 10 29 22-19-10z"/><path color="#4369fe" d="M6978 5149l20 10 29 22-20-10z"/><path color="#3e6fff" d="M6958 5139l20 10 29 22-20-9z"/><path color="#3876fe" d="M6939 5130l19 9 29 23-19-9z"/><path color="#317cfc" d="M6919 5122l20 8 29 23-20-8z"/><path color="#2f82fa" d="M6899 5115l20 7 29 23-20-6z"/><path color="#2e87f7" d="M6879 5110l20 5 29 24-20-5z"/><path color="#2d8bf4" d="M6860 5107l19 3 29 24-19-3z"/><path color="#2c8ff1" d="M6840 5106l20 1 29 24-20 0z"/><path color="#2b91ef" d="M6820 5109l20-3 29 25-20 2z"/><path color="#2a93ee" d="M6800 5114l20-5 29 24-20 6z"/><path color="#2994ed" d="M6781 5123l19-9 29 25-19 9z"/><path color="#2994ed" d="M6761 5135l20-12 29 25-20 11z"/><path color="#2a93ee" d="M6741 5150l20-15 29 24-20 15z"/><path color="#2b91ef" d="M6721 5168l20-18 29 24-19 18z"/><path color="#2c8ff1" d="M6702 5189l19-21 30 24-20 21z"/><path color="#2d8bf4" d="M6682 5212l20-23 29 24-20 23z"/><path color="#2e87f7" d="M6662 5238l20-26 29 24-20 25z"/><path color="#2f82fa" d="M6643 5265l19-27 29 23-19 27z"/><path color="#317cfc" d="M6623 5293l20-28 29 23-20 29z"/><path color="#3876fe" d="M6603 5323l20-30 29 24-20 29z"/><path color="#3e6fff" d="M6583 5353l20-30 29 23-20 30z"/><path color="#4369fe" d="M6564 5384l19-31 29 23-19 30z"/><path color="#4562fc" d="M6544 5414l20-30 29 22-20 30z"/><path color="#475cfa" d="M6524 5445l20-31 29 22-20 30z"/><path color="#4855f6" d="M6504 5474l20-29 29 21-20 29z"/><path color="#484ff2" d="M6485 5504l19-30 29 21-19 29z"/><path color="#484aee" d="M6465 5532l20-28 29 20-20 28z"/><path color="#4744e8" d="M6445 5560l20-28 29 20-20 28z"/><path color="#473fe2" d="M6426 5587l19-27 29 20-19 27z"/><path color="#463adb" d="M6406 5613l20-26 29 20-20 25z"/><path color="#4536d3" d="M6386 5638l20-25 29 19-20 25z"/><path color="#4332ca" d="M6366 5663l20-25 29 19-20 24z"/><path color="#422fc2" d="M6347 5686l19-23 29 18-19 24z"/><path color="#412cba" d="M6327 5709l20-23 29 19-20 22z"/><path color="#4029b3" d="M6307 5731l20-22 29 18-20 21z"/><path color="#3e27ab" d="M6287 5752l20-21 29 17-20 21z"/><path color="#3e27a9" d="M7283 5258l20 0 29 18-20-1z"/><path color="#3f29b1" d="M7263 5257l20 1 29 17-20-1z"/><path color="#402bb8" d="M7244 5255l19 2 29 17-19-1z"/><path color="#422ec0" d="M7224 5252l20 3 29 18-20-3z"/><path color="#4331c8" d="M7204 5248l20 4 29 18-20-3z"/><path color="#4435d1" d="M7185 5244l19 4 29 19-19-4z"/><path color="#4639d9" d="M7165 5239l20 5 29 19-20-5z"/><path color="#463de0" d="M7145 5232l20 7 29 19-20-6z"/><path color="#4742e7" d="M7125 5225l20 7 29 20-20-7z"/><path color="#4848ec" d="M7106 5218l19 7 29 20-19-8z"/><path color="#484ef1" d="M7086 5209l20 9 29 19-20-8z"/><path color="#4854f5" d="M7066 5200l20 9 29 20-20-8z"/><path color="#475af9" d="M7046 5191l20 9 29 21-20-10z"/><path color="#4660fc" d="M7027 5181l19 10 29 20-19-9z"/><path color="#4466fd" d="M7007 5171l20 10 29 21-20-9z"/><path color="#406dfe" d="M6987 5162l20 9 29 22-20-9z"/><path color="#3a73ff" d="M6968 5153l19 9 29 22-19-9z"/><path color="#347afd" d="M6948 5145l20 8 29 22-20-7z"/><path color="#2f80fb" d="M6928 5139l20 6 29 23-20-7z"/><path color="#2e84f8" d="M6908 5134l20 5 29 22-20-4z"/><path color="#2d89f6" d="M6889 5131l19 3 29 23-19-3z"/><path color="#2d8cf3" d="M6869 5131l20 0 29 23-20 0z"/><path color="#2c8ff1" d="M6849 5133l20-2 29 23-20 3z"/><path color="#2c90ef" d="M6829 5139l20-6 29 24-20 6z"/><path color="#2b91ef" d="M6810 5148l19-9 29 24-19 8z"/><path color="#2b91ef" d="M6790 5159l20-11 29 23-20 12z"/><path color="#2c90ef" d="M6770 5174l20-15 29 24-20 15z"/><path color="#2c8ff1" d="M6751 5192l19-18 29 24-19 18z"/><path color="#2d8cf3" d="M6731 5213l20-21 29 24-20 20z"/><path color="#2d89f6" d="M6711 5236l20-23 29 23-20 23z"/><path color="#2e84f8" d="M6691 5261l20-25 29 23-20 25z"/><path color="#2f80fb" d="M6672 5288l19-27 29 23-19 27z"/><path color="#347afd" d="M6652 5317l20-29 29 23-20 28z"/><path color="#3a73ff" d="M6632 5346l20-29 29 22-20 29z"/><path color="#406dfe" d="M6612 5376l20-30 29 22-20 29z"/><path color="#4466fd" d="M6593 5406l19-30 29 21-19 30z"/><path color="#4660fc" d="M6573 5436l20-30 29 21-20 30z"/><path color="#475af9" d="M6553 5466l20-30 29 21-20 29z"/><path color="#4854f5" d="M6533 5495l20-29 29 20-20 29z"/><path color="#484ef1" d="M6514 5524l19-29 29 20-19 29z"/><path color="#4848ec" d="M6494 5552l20-28 29 20-20 28z"/><path color="#4742e7" d="M6474 5580l20-28 29 20-20 27z"/><path color="#463de0" d="M6455 5607l19-27 29 19-19 26z"/><path color="#4639d9" d="M6435 5632l20-25 29 18-20 26z"/><path color="#4435d1" d="M6415 5657l20-25 29 19-20 25z"/><path color="#4331c8" d="M6395 5681l20-24 29 19-20 23z"/><path color="#422ec0" d="M6376 5705l19-24 29 18-19 23z"/><path color="#402bb8" d="M6356 5727l20-22 29 17-20 23z"/><path color="#3f29b1" d="M6336 5748l20-21 29 18-20 21z"/><path color="#3e27a9" d="M6316 5769l20-21 29 18-20 21z"/><path color="#3e26a8" d="M7312 5275l20 1 29 17-20 0z"/><path color="#3f28af" d="M7292 5274l20 1 29 18-19-1z"/><path color="#402bb7" d="M7273 5273l19 1 30 18-20-2z"/><path color="#412ebe" d="M7253 5270l20 3 29 17-20-2z"/><path color="#4331c6" d="M7233 5267l20 3 29 18-20-3z"/><path color="#4434cf" d="M7214 5263l19 4 29 18-19-4z"/><path color="#4538d7" d="M7194 5258l20 5 29 18-20-5z"/><path color="#463cdf" d="M7174 5252l20 6 29 18-20-6z"/><path color="#4741e5" d="M7154 5245l20 7 29 18-20-6z"/><path color="#4747eb" d="M7135 5237l19 8 29 19-19-8z"/><path color="#484cf0" d="M7115 5229l20 8 29 19-20-7z"/><path color="#4852f4" d="M7095 5221l20 8 29 20-20-9z"/><path color="#4758f8" d="M7075 5211l20 10 29 19-20-9z"/><path color="#465efb" d="M7056 5202l19 9 29 20-19-9z"/><path color="#4464fd" d="M7036 5193l20 9 29 20-20-9z"/><path color="#416bfe" d="M7016 5184l20 9 29 20-20-9z"/><path color="#3c71ff" d="M6997 5175l19 9 29 20-19-8z"/><path color="#3677fe" d="M6977 5168l20 7 29 21-20-7z"/><path color="#317dfc" d="M6957 5161l20 7 29 21-20-6z"/><path color="#2f82f9" d="M6937 5157l20 4 29 22-20-4z"/><path color="#2e86f7" d="M6918 5154l19 3 29 22-19-3z"/><path color="#2d8af5" d="M6898 5154l20 0 29 22-20 1z"/><path color="#2d8cf3" d="M6878 5157l20-3 29 23-20 2z"/><path color="#2d8ef1" d="M6858 5163l20-6 29 22-20 6z"/><path color="#2c8ff0" d="M6839 5171l19-8 29 22-19 9z"/><path color="#2c8ff0" d="M6819 5183l20-12 29 23-20 11z"/><path color="#2d8ef1" d="M6799 5198l20-15 29 22-20 15z"/><path color="#2d8cf3" d="M6780 5216l19-18 29 22-19 18z"/><path color="#2d8af5" d="M6760 5236l20-20 29 22-20 20z"/><path color="#2e86f7" d="M6740 5259l20-23 29 22-20 23z"/><path color="#2f82f9" d="M6720 5284l20-25 29 22-20 25z"/><path color="#317dfc" d="M6701 5311l19-27 29 22-19 26z"/><path color="#3677fe" d="M6681 5339l20-28 29 21-20 28z"/><path color="#3c71ff" d="M6661 5368l20-29 29 21-20 28z"/><path color="#416bfe" d="M6641 5397l20-29 29 20-20 30z"/><path color="#4464fd" d="M6622 5427l19-30 29 21-19 29z"/><path color="#465efb" d="M6602 5457l20-30 29 20-20 30z"/><path color="#4758f8" d="M6582 5486l20-29 29 20-20 29z"/><path color="#4852f4" d="M6562 5515l20-29 29 20-19 29z"/><path color="#484cf0" d="M6543 5544l19-29 30 20-20 28z"/><path color="#4747eb" d="M6523 5572l20-28 29 19-20 28z"/><path color="#4741e5" d="M6503 5599l20-27 29 19-20 27z"/><path color="#463cdf" d="M6484 5625l19-26 29 19-19 26z"/><path color="#4538d7" d="M6464 5651l20-26 29 19-20 25z"/><path color="#4434cf" d="M6444 5676l20-25 29 18-20 25z"/><path color="#4331c6" d="M6424 5699l20-23 29 18-20 23z"/><path color="#412ebe" d="M6405 5722l19-23 29 18-19 23z"/><path color="#402bb7" d="M6385 5745l20-23 29 18-20 22z"/><path color="#3f28af" d="M6365 5766l20-21 29 17-20 21z"/><path color="#3e26a8" d="M6345 5787l20-21 29 17-20 21z"/><path color="#3e26a8" d="M7341 5293l20 0 29 16-20 0z"/><path color="#3f28ae" d="M7322 5292l19 1 29 16-19 0z"/><path color="#402ab5" d="M7302 5290l20 2 29 17-20-2z"/><path color="#412dbd" d="M7282 5288l20 2 29 17-20-2z"/><path color="#4330c5" d="M7262 5285l20 3 29 17-20-3z"/><path color="#4433cd" d="M7243 5281l19 4 29 17-19-4z"/><path color="#4537d6" d="M7223 5276l20 5 29 17-20-4z"/><path color="#463bdd" d="M7203 5270l20 6 29 18-20-6z"/><path color="#4740e4" d="M7183 5264l20 6 29 18-20-6z"/><path color="#4745ea" d="M7164 5256l19 8 29 18-19-7z"/><path color="#484bef" d="M7144 5249l20 7 29 19-20-8z"/><path color="#4851f3" d="M7124 5240l20 9 29 18-20-8z"/><path color="#4757f7" d="M7104 5231l20 9 29 19-20-9z"/><path color="#475dfa" d="M7085 5222l19 9 29 19-19-8z"/><path color="#4563fc" d="M7065 5213l20 9 29 20-20-9z"/><path color="#4269fe" d="M7045 5204l20 9 29 20-20-9z"/><path color="#3e6fff" d="M7026 5196l19 8 29 20-19-8z"/><path color="#3875fe" d="M7006 5189l20 7 29 20-20-7z"/><path color="#327bfc" d="M6986 5183l20 6 29 20-20-5z"/><path color="#2f80fa" d="M6966 5179l20 4 29 21-20-5z"/><path color="#2e84f8" d="M6947 5176l19 3 29 20-19-2z"/><path color="#2d88f6" d="M6927 5177l20-1 29 21-20 0z"/><path color="#2d8af4" d="M6907 5179l20-2 29 20-20 3z"/><path color="#2d8cf3" d="M6887 5185l20-6 29 21-20 6z"/><path color="#2d8df2" d="M6868 5194l19-9 29 21-19 9z"/><path color="#2d8df2" d="M6848 5205l20-11 29 21-20 11z"/><path color="#2d8cf3" d="M6828 5220l20-15 29 21-20 15z"/><path color="#2d8af4" d="M6809 5238l19-18 29 21-19 18z"/><path color="#2d88f6" d="M6789 5258l20-20 29 21-20 20z"/><path color="#2e84f8" d="M6769 5281l20-23 29 21-20 23z"/><path color="#2f80fa" d="M6749 5306l20-25 29 21-20 24z"/><path color="#327bfc" d="M6730 5332l19-26 29 20-19 26z"/><path color="#3875fe" d="M6710 5360l20-28 29 20-20 28z"/><path color="#3e6fff" d="M6690 5388l20-28 29 20-20 28z"/><path color="#4269fe" d="M6670 5418l20-30 29 20-20 29z"/><path color="#4563fc" d="M6651 5447l19-29 29 19-19 29z"/><path color="#475dfa" d="M6631 5477l20-30 29 19-20 30z"/><path color="#4757f7" d="M6611 5506l20-29 29 19-20 29z"/><path color="#4851f3" d="M6592 5535l19-29 29 19-19 28z"/><path color="#484bef" d="M6572 5563l20-28 29 18-20 28z"/><path color="#4745ea" d="M6552 5591l20-28 29 18-20 28z"/><path color="#4740e4" d="M6532 5618l20-27 29 18-20 27z"/><path color="#463bdd" d="M6513 5644l19-26 29 18-19 26z"/><path color="#4537d6" d="M6493 5669l20-25 29 18-20 25z"/><path color="#4433cd" d="M6473 5694l20-25 29 18-20 24z"/><path color="#4330c5" d="M6453 5717l20-23 29 17-20 23z"/><path color="#412dbd" d="M6434 5740l19-23 29 17-19 23z"/><path color="#402ab5" d="M6414 5762l20-22 29 17-20 22z"/><path color="#3f28ae" d="M6394 5783l20-21 29 17-20 21z"/><path color="#3e26a8" d="M6374 5804l20-21 29 17-20 20z"/><path color="#3e26a8" d="M7370 5309l20 0 29 17-20 0z"/><path color="#3f27ad" d="M7351 5309l19 0 29 17-19-1z"/><path color="#402ab4" d="M7331 5307l20 2 29 16-20-1z"/><path color="#412dbb" d="M7311 5305l20 2 29 17-20-2z"/><path color="#4230c3" d="M7291 5302l20 3 29 17-20-3z"/><path color="#4433cc" d="M7272 5298l19 4 29 17-19-4z"/><path color="#4536d4" d="M7252 5294l20 4 29 17-20-4z"/><path color="#463adc" d="M7232 5288l20 6 29 17-20-6z"/><path color="#473fe3" d="M7212 5282l20 6 29 17-20-6z"/><path color="#4745e9" d="M7193 5275l19 7 29 17-19-6z"/><path color="#484aee" d="M7173 5267l20 8 29 18-20-8z"/><path color="#4850f3" d="M7153 5259l20 8 29 18-20-8z"/><path color="#4756f6" d="M7133 5250l20 9 29 18-19-8z"/><path color="#475bfa" d="M7114 5242l19 8 30 19-20-9z"/><path color="#4562fc" d="M7094 5233l20 9 29 18-20-9z"/><path color="#4368fe" d="M7074 5224l20 9 29 18-20-8z"/><path color="#3f6eff" d="M7055 5216l19 8 29 19-19-8z"/><path color="#3a74ff" d="M7035 5209l20 7 29 19-20-7z"/><path color="#347afd" d="M7015 5204l20 5 29 19-20-5z"/><path color="#307ffb" d="M6995 5199l20 5 29 19-20-4z"/><path color="#2e83f9" d="M6976 5197l19 2 29 20-19-2z"/><path color="#2e86f7" d="M6956 5197l20 0 29 20-20 0z"/><path color="#2d89f6" d="M6936 5200l20-3 29 20-20 3z"/><path color="#2d8bf4" d="M6916 5206l20-6 29 20-20 6z"/><path color="#2d8bf3" d="M6897 5215l19-9 29 20-19 9z"/><path color="#2d8bf3" d="M6877 5226l20-11 29 20-20 11z"/><path color="#2d8bf4" d="M6857 5241l20-15 29 20-20 15z"/><path color="#2d89f6" d="M6838 5259l19-18 29 20-19 18z"/><path color="#2e86f7" d="M6818 5279l20-20 29 20-20 20z"/><path color="#2e83f9" d="M6798 5302l20-23 29 20-20 22z"/><path color="#307ffb" d="M6778 5326l20-24 29 19-20 24z"/><path color="#347afd" d="M6759 5352l19-26 29 19-19 27z"/><path color="#3a74ff" d="M6739 5380l20-28 29 20-20 27z"/><path color="#3f6eff" d="M6719 5408l20-28 29 19-20 28z"/><path color="#4368fe" d="M6699 5437l20-29 29 19-20 29z"/><path color="#4562fc" d="M6680 5466l19-29 29 19-19 29z"/><path color="#475bfa" d="M6660 5496l20-30 29 19-20 29z"/><path color="#4756f6" d="M6640 5525l20-29 29 18-20 29z"/><path color="#4850f3" d="M6621 5553l19-28 29 18-19 28z"/><path color="#484aee" d="M6601 5581l20-28 29 18-20 28z"/><path color="#4745e9" d="M6581 5609l20-28 29 18-20 27z"/><path color="#473fe3" d="M6561 5636l20-27 29 17-20 27z"/><path color="#463adc" d="M6542 5662l19-26 29 17-19 26z"/><path color="#4536d4" d="M6522 5687l20-25 29 17-20 25z"/><path color="#4433cc" d="M6502 5711l20-24 29 17-20 24z"/><path color="#4230c3" d="M6482 5734l20-23 29 17-20 23z"/><path color="#412dbb" d="M6463 5757l19-23 29 17-19 23z"/><path color="#402ab4" d="M6443 5779l20-22 29 17-20 21z"/><path color="#3f27ad" d="M6423 5800l20-21 29 16-20 21z"/><path color="#3e26a8" d="M6403 5820l20-20 29 16-20 21z"/></g>
<path d="M544.6 418.6L544.6 545.1M544.6 545.1L643.2 596.2L741.9 545.1M544.6 545.1l-2.9 1.5M593.9 570.7l-2.9 1.5M643.2 596.2l-2.9 1.5M643.2 596.2l2.9 1.5M692.6 570.7l2.9 1.5M741.9 545.1l2.9 1.5M544.6 545.1l-2.9 -1.5M544.6 481.9l-2.9 -1.5M544.6 418.6l-2.9 -1.5" stroke="#262626" stroke-width="1" fill="none"/>
<defs><linearGradient id="cb1" x1="0" y1="0" x2="0" y2="1"><stop offset="0%" stop-color="#f9fb15"/><stop offset="3.1%" stop-color="#f6ef20"/><stop offset="6.2%" stop-color="#f5e327"/><stop offset="9.4%" stop-color="#f9d62d"/><stop offset="12.5%" stop-color="#feca33"/><stop offset="15.6%" stop-color="#febe3c"/><stop offset="18.8%" stop-color="#f1ba37"/><stop offset="21.9%" stop-color="#debc29"/><stop offset="25%" stop-color="#c8c129"/><stop offset="28.1%" stop-color="#afc636"/><stop offset="31.2%" stop-color="#94ca4a"/><stop offset="34.4%" stop-color="#77cc60"/><stop offset="37.5%" stop-color="#5ccc76"/><stop offset="40.6%" stop-color="#43cb8a"/><stop offset="43.8%" stop-color="#34c79c"/><stop offset="46.9%" stop-color="#28c2ab"/><stop offset="50%" stop-color="#12beb9"/><stop offset="53.1%" stop-color="#00b9c6"/><stop offset="56.2%" stop-color="#0cb3d3"/><stop offset="59.4%" stop-color="#1aacdd"/><stop offset="62.5%" stop-color="#21a3e3"/><stop offset="65.6%" stop-color="#269ae9"/><stop offset="68.8%" stop-color="#2c90f0"/><stop offset="71.9%" stop-color="#2e85f8"/><stop offset="75%" stop-color="#347afd"/><stop offset="78.1%" stop-color="#3f6eff"/><stop offset="81.2%" stop-color="#4562fc"/><stop offset="84.4%" stop-color="#4757f7"/><stop offset="87.5%" stop-color="#484cef"/><stop offset="90.6%" stop-color="#4741e5"/><stop offset="93.8%" stop-color="#4536d5"/><stop offset="96.9%" stop-color="#422ebf"/><stop offset="100%" stop-color="#3e26a8"/></linearGradient></defs>
<rect x="369.6" y="50.4" width="17.7" height="227.3" fill="url(#cb1)" stroke="#262626" stroke-width="1"/>
<text transform="translate(395.9 214) scale(1 1.01)" class="cb">0.1</text>
<text transform="translate(395.9 141.2) scale(1 1.01)" class="cb">0.2</text>
<text transform="translate(395.9 68.3) scale(1 1.01)" class="cb">0.3</text>
<path d="M387.3 204.8h-2.4M387.3 132h-2.4M387.3 59.1h-2.4" stroke="#262626" stroke-width="1" fill="none"/>
<defs><linearGradient id="cb2" x1="0" y1="0" x2="0" y2="1"><stop offset="0%" stop-color="#f9fb15"/><stop offset="3.1%" stop-color="#f6ef20"/><stop offset="6.2%" stop-color="#f5e327"/><stop offset="9.4%" stop-color="#f9d62d"/><stop offset="12.5%" stop-color="#feca33"/><stop offset="15.6%" stop-color="#febe3c"/><stop offset="18.8%" stop-color="#f1ba37"/><stop offset="21.9%" stop-color="#debc29"/><stop offset="25%" stop-color="#c8c129"/><stop offset="28.1%" stop-color="#afc636"/><stop offset="31.2%" stop-color="#94ca4a"/><stop offset="34.4%" stop-color="#77cc60"/><stop offset="37.5%" stop-color="#5ccc76"/><stop offset="40.6%" stop-color="#43cb8a"/><stop offset="43.8%" stop-color="#34c79c"/><stop offset="46.9%" stop-color="#28c2ab"/><stop offset="50%" stop-color="#12beb9"/><stop offset="53.1%" stop-color="#00b9c6"/><stop offset="56.2%" stop-color="#0cb3d3"/><stop offset="59.4%" stop-color="#1aacdd"/><stop offset="62.5%" stop-color="#21a3e3"/><stop offset="65.6%" stop-color="#269ae9"/><stop offset="68.8%" stop-color="#2c90f0"/><stop offset="71.9%" stop-color="#2e85f8"/><stop offset="75%" stop-color="#347afd"/><stop offset="78.1%" stop-color="#3f6eff"/><stop offset="81.2%" stop-color="#4562fc"/><stop offset="84.4%" stop-color="#4757f7"/><stop offset="87.5%" stop-color="#484cef"/><stop offset="90.6%" stop-color="#4741e5"/><stop offset="93.8%" stop-color="#4536d5"/><stop offset="96.9%" stop-color="#422ebf"/><stop offset="100%" stop-color="#3e26a8"/></linearGradient></defs>
<rect x="788.6" y="50.4" width="18.7" height="227.3" fill="url(#cb2)" stroke="#262626" stroke-width="1"/>
<text transform="translate(815.9 225.3) scale(1 1.01)" class="cb">0.4</text>
<text transform="translate(815.9 142.7) scale(1 1.01)" class="cb">0.6</text>
<text transform="translate(815.9 60) scale(1 1.01)" class="cb">0.8</text>
<path d="M807.3 216.1h-2.4M807.3 133.5h-2.4M807.3 50.8h-2.4" stroke="#262626" stroke-width="1" fill="none"/>
<defs><linearGradient id="cb3" x1="0" y1="0" x2="0" y2="1"><stop offset="0%" stop-color="#f9fb15"/><stop offset="3.1%" stop-color="#f6ef20"/><stop offset="6.2%" stop-color="#f5e327"/><stop offset="9.4%" stop-color="#f9d62d"/><stop offset="12.5%" stop-color="#feca33"/><stop offset="15.6%" stop-color="#febe3c"/><stop offset="18.8%" stop-color="#f1ba37"/><stop offset="21.9%" stop-color="#debc29"/><stop offset="25%" stop-color="#c8c129"/><stop offset="28.1%" stop-color="#afc636"/><stop offset="31.2%" stop-color="#94ca4a"/><stop offset="34.4%" stop-color="#77cc60"/><stop offset="37.5%" stop-color="#5ccc76"/><stop offset="40.6%" stop-color="#43cb8a"/><stop offset="43.8%" stop-color="#34c79c"/><stop offset="46.9%" stop-color="#28c2ab"/><stop offset="50%" stop-color="#12beb9"/><stop offset="53.1%" stop-color="#00b9c6"/><stop offset="56.2%" stop-color="#0cb3d3"/><stop offset="59.4%" stop-color="#1aacdd"/><stop offset="62.5%" stop-color="#21a3e3"/><stop offset="65.6%" stop-color="#269ae9"/><stop offset="68.8%" stop-color="#2c90f0"/><stop offset="71.9%" stop-color="#2e85f8"/><stop offset="75%" stop-color="#347afd"/><stop offset="78.1%" stop-color="#3f6eff"/><stop offset="81.2%" stop-color="#4562fc"/><stop offset="84.4%" stop-color="#4757f7"/><stop offset="87.5%" stop-color="#484cef"/><stop offset="90.6%" stop-color="#4741e5"/><stop offset="93.8%" stop-color="#4536d5"/><stop offset="96.9%" stop-color="#422ebf"/><stop offset="100%" stop-color="#3e26a8"/></linearGradient></defs>
<rect x="369.6" y="368.6" width="17.7" height="227.4" fill="url(#cb3)" stroke="#262626" stroke-width="1"/>
<text transform="translate(395.9 586.5) scale(1 1.01)" class="cb">0.2</text>
<text transform="translate(395.9 520.9) scale(1 1.01)" class="cb">0.4</text>
<text transform="translate(395.9 455.2) scale(1 1.01)" class="cb">0.6</text>
<text transform="translate(395.9 389.6) scale(1 1.01)" class="cb">0.8</text>
<path d="M387.3 577.3h-2.4M387.3 511.7h-2.4M387.3 446h-2.4M387.3 380.4h-2.4" stroke="#262626" stroke-width="1" fill="none"/>
<defs><linearGradient id="cb4" x1="0" y1="0" x2="0" y2="1"><stop offset="0%" stop-color="#f9fb15"/><stop offset="3.1%" stop-color="#f6ef20"/><stop offset="6.2%" stop-color="#f5e327"/><stop offset="9.4%" stop-color="#f9d62d"/><stop offset="12.5%" stop-color="#feca33"/><stop offset="15.6%" stop-color="#febe3c"/><stop offset="18.8%" stop-color="#f1ba37"/><stop offset="21.9%" stop-color="#debc29"/><stop offset="25%" stop-color="#c8c129"/><stop offset="28.1%" stop-color="#afc636"/><stop offset="31.2%" stop-color="#94ca4a"/><stop offset="34.4%" stop-color="#77cc60"/><stop offset="37.5%" stop-color="#5ccc76"/><stop offset="40.6%" stop-color="#43cb8a"/><stop offset="43.8%" stop-color="#34c79c"/><stop offset="46.9%" stop-color="#28c2ab"/><stop offset="50%" stop-color="#12beb9"/><stop offset="53.1%" stop-color="#00b9c6"/><stop offset="56.2%" stop-color="#0cb3d3"/><stop offset="59.4%" stop-color="#1aacdd"/><stop offset="62.5%" stop-color="#21a3e3"/><stop offset="65.6%" stop-color="#269ae9"/><stop offset="68.8%" stop-color="#2c90f0"/><stop offset="71.9%" stop-color="#2e85f8"/><stop offset="75%" stop-color="#347afd"/><stop offset="78.1%" stop-color="#3f6eff"/><stop offset="81.2%" stop-color="#4562fc"/><stop offset="84.4%" stop-color="#4757f7"/><stop offset="87.5%" stop-color="#484cef"/><stop offset="90.6%" stop-color="#4741e5"/><stop offset="93.8%" stop-color="#4536d5"/><stop offset="96.9%" stop-color="#422ebf"/><stop offset="100%" stop-color="#3e26a8"/></linearGradient></defs>
<rect x="788.6" y="368.6" width="18.7" height="227.4" fill="url(#cb4)" stroke="#262626" stroke-width="1"/>
<text transform="translate(815.9 581.5) scale(1 1.01)" class="cb">0.2</text>
<text transform="translate(815.9 530.6) scale(1 1.01)" class="cb">0.4</text>
<text transform="translate(815.9 479.7) scale(1 1.01)" class="cb">0.6</text>
<text transform="translate(815.9 428.7) scale(1 1.01)" class="cb">0.8</text>
<path d="M807.3 572.3h-2.4M807.3 521.4h-2.4M807.3 470.5h-2.4M807.3 419.5h-2.4" stroke="#262626" stroke-width="1" fill="none"/>
<text transform="translate(107.2 257.1) scale(1 1.06)" class="tk" text-anchor="middle">0</text>
<text transform="translate(147.2 281.5) scale(1 1.06)" class="tk" text-anchor="middle">0.5</text>
<text transform="translate(206.2 307.5) scale(1 1.06)" class="tk" text-anchor="middle">1</text>
<text transform="translate(239.6 307.5) scale(1 1.06)" class="tk" text-anchor="middle">2</text>
<text transform="translate(288.4 281.5) scale(1 1.06)" class="tk" text-anchor="middle">0</text>
<text transform="translate(342.5 257.1) scale(1 1.06)" class="tk" text-anchor="middle">-2</text>
<text transform="translate(129.4 324.5) scale(1 1.06)" class="lb" text-anchor="middle">t</text>
<text transform="translate(307.6 324.5) scale(1 1.06)" class="lb" text-anchor="middle">x</text>
<text transform="translate(527.5 257.1) scale(1 1.06)" class="tk" text-anchor="middle">0</text>
<text transform="translate(567.5 281.5) scale(1 1.06)" class="tk" text-anchor="middle">0.5</text>
<text transform="translate(626.5 307.5) scale(1 1.06)" class="tk" text-anchor="middle">1</text>
<text transform="translate(659.8 307.5) scale(1 1.06)" class="tk" text-anchor="middle">2</text>
<text transform="translate(708.6 281.5) scale(1 1.06)" class="tk" text-anchor="middle">0</text>
<text transform="translate(762.7 257.1) scale(1 1.06)" class="tk" text-anchor="middle">-2</text>
<text transform="translate(549.6 324.5) scale(1 1.06)" class="lb" text-anchor="middle">t</text>
<text transform="translate(727.8 324.5) scale(1 1.06)" class="lb" text-anchor="middle">x</text>
<text transform="translate(527.5 575.3) scale(1 1.06)" class="tk" text-anchor="middle">0</text>
<text transform="translate(567.5 599.7) scale(1 1.06)" class="tk" text-anchor="middle">0.5</text>
<text transform="translate(626.5 625.7) scale(1 1.06)" class="tk" text-anchor="middle">1</text>
<text transform="translate(659.8 625.7) scale(1 1.06)" class="tk" text-anchor="middle">2</text>
<text transform="translate(708.6 599.7) scale(1 1.06)" class="tk" text-anchor="middle">0</text>
<text transform="translate(762.7 575.3) scale(1 1.06)" class="tk" text-anchor="middle">-2</text>
<text transform="translate(549.6 642.7) scale(1 1.06)" class="lb" text-anchor="middle">t</text>
<text transform="translate(727.8 642.7) scale(1 1.06)" class="lb" text-anchor="middle">x</text>
<text transform="translate(106.6 536.2) scale(1 1.06)" class="tk" text-anchor="middle">0</text>
<text transform="translate(133.1 579.7) scale(1 1.06)" class="tk" text-anchor="middle">0.5</text>
<text transform="translate(179.2 624.6) scale(1 1.06)" class="tk" text-anchor="middle">1</text>
<text transform="translate(209.8 629.5) scale(1 1.06)" class="tk" text-anchor="middle">2</text>
<text transform="translate(272.6 603.4) scale(1 1.06)" class="tk" text-anchor="middle">0</text>
<text transform="translate(340.1 577.6) scale(1 1.06)" class="tk" text-anchor="middle">-2</text>
<text transform="translate(109.1 633.4) scale(1 1.06)" class="lb" text-anchor="middle">t</text>
<text transform="translate(287.3 643.2) scale(1 1.06)" class="lb" text-anchor="middle">x</text>
<text transform="translate(112.8 151.3) scale(1 1.06)" class="tk" text-anchor="end">0.2</text>
<text transform="translate(112.8 231.3) scale(1 1.06)" class="tk" text-anchor="end">0</text>
<text transform="translate(532.5 105.4) scale(1 1.06)" class="tk" text-anchor="end">0.8</text>
<text transform="translate(532.5 151.2) scale(1 1.06)" class="tk" text-anchor="end">0.6</text>
<text transform="translate(532.5 197.3) scale(1 1.06)" class="tk" text-anchor="end">0.4</text>
<text transform="translate(115.1 420.3) scale(1 1.06)" class="tk" text-anchor="end">1</text>
<text transform="translate(115.3 464.3) scale(1 1.06)" class="tk" text-anchor="end">0.5</text>
<text transform="translate(116.1 508.3) scale(1 1.06)" class="tk" text-anchor="end">0</text>
<text transform="translate(532.1 423.3) scale(1 1.06)" class="tk" text-anchor="end">1</text>
<text transform="translate(532.5 486.9) scale(1 1.06)" class="tk" text-anchor="end">0.5</text>
<text transform="translate(532.9 549.9) scale(1 1.06)" class="tk" text-anchor="end">0</text>
<text transform="translate(69 164.2) rotate(-90) scale(1 1.04)" class="rl" text-anchor="middle">N(x,t)</text>
<text transform="translate(489.4 164.2) rotate(-90) scale(1 1.04)" class="rl" text-anchor="middle">T(x,t)</text>
<text transform="translate(69 463.8) rotate(-90) scale(1 1.04)" class="rl" text-anchor="middle">I(x,t)</text>
<text transform="translate(489.4 482.7) rotate(-90) scale(1 1.04)" class="rl" text-anchor="middle">U(x,t)</text>
<text transform="translate(339 39) scale(0.84 1)" class="ti gu">Ψ</text>
<text transform="translate(359.4 39) scale(1.03 1)" class="ti">=log(t+1),</text>
<text transform="translate(481.6 39) scale(1.0 1)" class="ti gr">ξ</text>
<text transform="translate(495.2 39) scale(1.03 1)" class="ti">=0.95,</text>
<text transform="translate(575 39) scale(1.0 1)" class="ti gr">θ</text>
<text transform="translate(588.9 39) scale(1.03 1)" class="ti">=0.5.</text>
</svg></body></html>
